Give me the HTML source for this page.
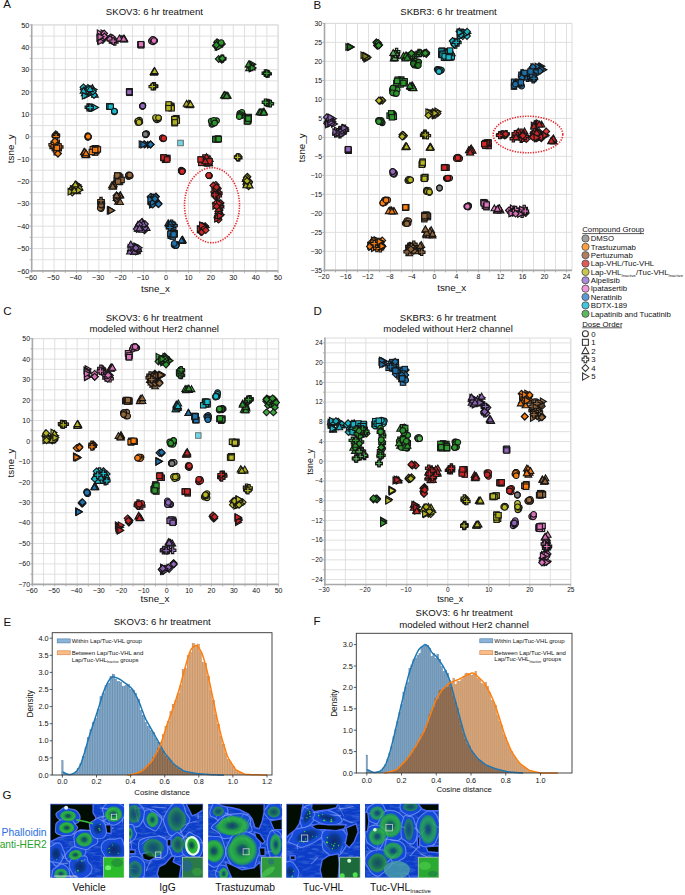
<!DOCTYPE html><html><head><meta charset="utf-8"><style>html,body{margin:0;padding:0;background:#fff;overflow:hidden;}svg{display:block;}</style></head><body><svg width="685" height="895" viewBox="0 0 685 895" font-family='"Liberation Sans", sans-serif'>
<style>.mk{stroke:#161616;stroke-width:1.1;fill-opacity:.9}.mkl{stroke:#777;stroke-width:.8;fill-opacity:.95}</style>
<defs><circle id="m_o" r="2.85"/><rect id="m_s" x="-2.7" y="-2.7" width="5.4" height="5.4"/><path id="m_t" d="M0,-3.5L3.35,2.4L-3.35,2.4Z"/><path id="m_r" d="M3.5,0L-2.4,-3.35L-2.4,3.35Z"/><path id="m_d" d="M0,-3.35L3.35,0L0,3.35L-3.35,0Z"/><path id="m_p" d="M-1.15,-3.3H1.15V-1.15H3.3V1.15H1.15V3.3H-1.15V1.15H-3.3V-1.15H-1.15Z"/></defs>
<rect x="0.00" y="0.00" width="685.00" height="895.00" fill="#fff" />
<text x="3.30" y="7.60" font-size="11.5" text-anchor="start" fill="#111" >A</text>
<text x="313.50" y="9.00" font-size="11.5" text-anchor="start" fill="#111" >B</text>
<text x="3.30" y="314.90" font-size="11.5" text-anchor="start" fill="#111" >C</text>
<text x="313.50" y="315.00" font-size="11.5" text-anchor="start" fill="#111" >D</text>
<text x="3.60" y="625.60" font-size="11.5" text-anchor="start" fill="#111" >E</text>
<text x="313.60" y="625.20" font-size="11.5" text-anchor="start" fill="#111" >F</text>
<text x="2.60" y="799.40" font-size="11.5" text-anchor="start" fill="#111" >G</text>
<text x="154.40" y="15.30" font-size="9.6" text-anchor="middle" fill="#111" >SKOV3: 6 hr treatment</text>
<text x="448.50" y="15.30" font-size="9.6" text-anchor="middle" fill="#111" >SKBR3: 6 hr treatment</text>
<text x="154.20" y="320.80" font-size="9.6" text-anchor="middle" fill="#111" >SKOV3: 6 hr treatment</text>
<text x="154.20" y="331.90" font-size="9.6" text-anchor="middle" fill="#111" >modeled without Her2 channel</text>
<text x="448.00" y="320.80" font-size="9.6" text-anchor="middle" fill="#111" >SKBR3: 6 hr treatment</text>
<text x="448.00" y="331.90" font-size="9.6" text-anchor="middle" fill="#111" >modeled without Her2 channel</text>
<text x="162.20" y="625.30" font-size="9.6" text-anchor="middle" fill="#111" >SKOV3: 6 hr treatment</text>
<text x="464.10" y="616.30" font-size="9.6" text-anchor="middle" fill="#111" >SKOV3: 6 hr treatment</text>
<text x="464.10" y="627.60" font-size="9.6" text-anchor="middle" fill="#111" >modeled without Her2 channel</text>
<line x1="31.70" y1="24.90" x2="31.70" y2="270.90" stroke="#dcdcdc" stroke-width="0.9" />
<line x1="42.90" y1="24.90" x2="42.90" y2="270.90" stroke="#dcdcdc" stroke-width="0.9" />
<line x1="54.10" y1="24.90" x2="54.10" y2="270.90" stroke="#dcdcdc" stroke-width="0.9" />
<line x1="65.30" y1="24.90" x2="65.30" y2="270.90" stroke="#dcdcdc" stroke-width="0.9" />
<line x1="76.50" y1="24.90" x2="76.50" y2="270.90" stroke="#dcdcdc" stroke-width="0.9" />
<line x1="87.70" y1="24.90" x2="87.70" y2="270.90" stroke="#dcdcdc" stroke-width="0.9" />
<line x1="98.90" y1="24.90" x2="98.90" y2="270.90" stroke="#dcdcdc" stroke-width="0.9" />
<line x1="110.10" y1="24.90" x2="110.10" y2="270.90" stroke="#dcdcdc" stroke-width="0.9" />
<line x1="121.30" y1="24.90" x2="121.30" y2="270.90" stroke="#dcdcdc" stroke-width="0.9" />
<line x1="132.50" y1="24.90" x2="132.50" y2="270.90" stroke="#dcdcdc" stroke-width="0.9" />
<line x1="143.70" y1="24.90" x2="143.70" y2="270.90" stroke="#dcdcdc" stroke-width="0.9" />
<line x1="154.90" y1="24.90" x2="154.90" y2="270.90" stroke="#dcdcdc" stroke-width="0.9" />
<line x1="166.10" y1="24.90" x2="166.10" y2="270.90" stroke="#dcdcdc" stroke-width="0.9" />
<line x1="177.30" y1="24.90" x2="177.30" y2="270.90" stroke="#dcdcdc" stroke-width="0.9" />
<line x1="188.50" y1="24.90" x2="188.50" y2="270.90" stroke="#dcdcdc" stroke-width="0.9" />
<line x1="199.70" y1="24.90" x2="199.70" y2="270.90" stroke="#dcdcdc" stroke-width="0.9" />
<line x1="210.90" y1="24.90" x2="210.90" y2="270.90" stroke="#dcdcdc" stroke-width="0.9" />
<line x1="222.10" y1="24.90" x2="222.10" y2="270.90" stroke="#dcdcdc" stroke-width="0.9" />
<line x1="233.30" y1="24.90" x2="233.30" y2="270.90" stroke="#dcdcdc" stroke-width="0.9" />
<line x1="244.50" y1="24.90" x2="244.50" y2="270.90" stroke="#dcdcdc" stroke-width="0.9" />
<line x1="255.70" y1="24.90" x2="255.70" y2="270.90" stroke="#dcdcdc" stroke-width="0.9" />
<line x1="266.90" y1="24.90" x2="266.90" y2="270.90" stroke="#dcdcdc" stroke-width="0.9" />
<line x1="278.10" y1="24.90" x2="278.10" y2="270.90" stroke="#dcdcdc" stroke-width="0.9" />
<line x1="31.70" y1="270.90" x2="278.10" y2="270.90" stroke="#dcdcdc" stroke-width="0.9" />
<line x1="31.70" y1="259.72" x2="278.10" y2="259.72" stroke="#dcdcdc" stroke-width="0.9" />
<line x1="31.70" y1="248.54" x2="278.10" y2="248.54" stroke="#dcdcdc" stroke-width="0.9" />
<line x1="31.70" y1="237.35" x2="278.10" y2="237.35" stroke="#dcdcdc" stroke-width="0.9" />
<line x1="31.70" y1="226.17" x2="278.10" y2="226.17" stroke="#dcdcdc" stroke-width="0.9" />
<line x1="31.70" y1="214.99" x2="278.10" y2="214.99" stroke="#dcdcdc" stroke-width="0.9" />
<line x1="31.70" y1="203.81" x2="278.10" y2="203.81" stroke="#dcdcdc" stroke-width="0.9" />
<line x1="31.70" y1="192.63" x2="278.10" y2="192.63" stroke="#dcdcdc" stroke-width="0.9" />
<line x1="31.70" y1="181.45" x2="278.10" y2="181.45" stroke="#dcdcdc" stroke-width="0.9" />
<line x1="31.70" y1="170.26" x2="278.10" y2="170.26" stroke="#dcdcdc" stroke-width="0.9" />
<line x1="31.70" y1="159.08" x2="278.10" y2="159.08" stroke="#dcdcdc" stroke-width="0.9" />
<line x1="31.70" y1="147.90" x2="278.10" y2="147.90" stroke="#dcdcdc" stroke-width="0.9" />
<line x1="31.70" y1="136.72" x2="278.10" y2="136.72" stroke="#dcdcdc" stroke-width="0.9" />
<line x1="31.70" y1="125.54" x2="278.10" y2="125.54" stroke="#dcdcdc" stroke-width="0.9" />
<line x1="31.70" y1="114.35" x2="278.10" y2="114.35" stroke="#dcdcdc" stroke-width="0.9" />
<line x1="31.70" y1="103.17" x2="278.10" y2="103.17" stroke="#dcdcdc" stroke-width="0.9" />
<line x1="31.70" y1="91.99" x2="278.10" y2="91.99" stroke="#dcdcdc" stroke-width="0.9" />
<line x1="31.70" y1="80.81" x2="278.10" y2="80.81" stroke="#dcdcdc" stroke-width="0.9" />
<line x1="31.70" y1="69.63" x2="278.10" y2="69.63" stroke="#dcdcdc" stroke-width="0.9" />
<line x1="31.70" y1="58.45" x2="278.10" y2="58.45" stroke="#dcdcdc" stroke-width="0.9" />
<line x1="31.70" y1="47.26" x2="278.10" y2="47.26" stroke="#dcdcdc" stroke-width="0.9" />
<line x1="31.70" y1="36.08" x2="278.10" y2="36.08" stroke="#dcdcdc" stroke-width="0.9" />
<line x1="31.70" y1="24.90" x2="278.10" y2="24.90" stroke="#dcdcdc" stroke-width="0.9" />
<line x1="31.70" y1="24.90" x2="278.10" y2="24.90" stroke="#dcdcdc" stroke-width="1.0" />
<line x1="278.10" y1="24.90" x2="278.10" y2="270.90" stroke="#dcdcdc" stroke-width="1.0" />
<line x1="31.70" y1="270.90" x2="31.70" y2="272.90" stroke="#a8a8a8" stroke-width="0.9" />
<line x1="42.90" y1="270.90" x2="42.90" y2="272.90" stroke="#a8a8a8" stroke-width="0.9" />
<line x1="54.10" y1="270.90" x2="54.10" y2="272.90" stroke="#a8a8a8" stroke-width="0.9" />
<line x1="65.30" y1="270.90" x2="65.30" y2="272.90" stroke="#a8a8a8" stroke-width="0.9" />
<line x1="76.50" y1="270.90" x2="76.50" y2="272.90" stroke="#a8a8a8" stroke-width="0.9" />
<line x1="87.70" y1="270.90" x2="87.70" y2="272.90" stroke="#a8a8a8" stroke-width="0.9" />
<line x1="98.90" y1="270.90" x2="98.90" y2="272.90" stroke="#a8a8a8" stroke-width="0.9" />
<line x1="110.10" y1="270.90" x2="110.10" y2="272.90" stroke="#a8a8a8" stroke-width="0.9" />
<line x1="121.30" y1="270.90" x2="121.30" y2="272.90" stroke="#a8a8a8" stroke-width="0.9" />
<line x1="132.50" y1="270.90" x2="132.50" y2="272.90" stroke="#a8a8a8" stroke-width="0.9" />
<line x1="143.70" y1="270.90" x2="143.70" y2="272.90" stroke="#a8a8a8" stroke-width="0.9" />
<line x1="154.90" y1="270.90" x2="154.90" y2="272.90" stroke="#a8a8a8" stroke-width="0.9" />
<line x1="166.10" y1="270.90" x2="166.10" y2="272.90" stroke="#a8a8a8" stroke-width="0.9" />
<line x1="177.30" y1="270.90" x2="177.30" y2="272.90" stroke="#a8a8a8" stroke-width="0.9" />
<line x1="188.50" y1="270.90" x2="188.50" y2="272.90" stroke="#a8a8a8" stroke-width="0.9" />
<line x1="199.70" y1="270.90" x2="199.70" y2="272.90" stroke="#a8a8a8" stroke-width="0.9" />
<line x1="210.90" y1="270.90" x2="210.90" y2="272.90" stroke="#a8a8a8" stroke-width="0.9" />
<line x1="222.10" y1="270.90" x2="222.10" y2="272.90" stroke="#a8a8a8" stroke-width="0.9" />
<line x1="233.30" y1="270.90" x2="233.30" y2="272.90" stroke="#a8a8a8" stroke-width="0.9" />
<line x1="244.50" y1="270.90" x2="244.50" y2="272.90" stroke="#a8a8a8" stroke-width="0.9" />
<line x1="255.70" y1="270.90" x2="255.70" y2="272.90" stroke="#a8a8a8" stroke-width="0.9" />
<line x1="266.90" y1="270.90" x2="266.90" y2="272.90" stroke="#a8a8a8" stroke-width="0.9" />
<line x1="278.10" y1="270.90" x2="278.10" y2="272.90" stroke="#a8a8a8" stroke-width="0.9" />
<line x1="29.70" y1="270.90" x2="31.70" y2="270.90" stroke="#a8a8a8" stroke-width="0.9" />
<line x1="29.70" y1="259.72" x2="31.70" y2="259.72" stroke="#a8a8a8" stroke-width="0.9" />
<line x1="29.70" y1="248.54" x2="31.70" y2="248.54" stroke="#a8a8a8" stroke-width="0.9" />
<line x1="29.70" y1="237.35" x2="31.70" y2="237.35" stroke="#a8a8a8" stroke-width="0.9" />
<line x1="29.70" y1="226.17" x2="31.70" y2="226.17" stroke="#a8a8a8" stroke-width="0.9" />
<line x1="29.70" y1="214.99" x2="31.70" y2="214.99" stroke="#a8a8a8" stroke-width="0.9" />
<line x1="29.70" y1="203.81" x2="31.70" y2="203.81" stroke="#a8a8a8" stroke-width="0.9" />
<line x1="29.70" y1="192.63" x2="31.70" y2="192.63" stroke="#a8a8a8" stroke-width="0.9" />
<line x1="29.70" y1="181.45" x2="31.70" y2="181.45" stroke="#a8a8a8" stroke-width="0.9" />
<line x1="29.70" y1="170.26" x2="31.70" y2="170.26" stroke="#a8a8a8" stroke-width="0.9" />
<line x1="29.70" y1="159.08" x2="31.70" y2="159.08" stroke="#a8a8a8" stroke-width="0.9" />
<line x1="29.70" y1="147.90" x2="31.70" y2="147.90" stroke="#a8a8a8" stroke-width="0.9" />
<line x1="29.70" y1="136.72" x2="31.70" y2="136.72" stroke="#a8a8a8" stroke-width="0.9" />
<line x1="29.70" y1="125.54" x2="31.70" y2="125.54" stroke="#a8a8a8" stroke-width="0.9" />
<line x1="29.70" y1="114.35" x2="31.70" y2="114.35" stroke="#a8a8a8" stroke-width="0.9" />
<line x1="29.70" y1="103.17" x2="31.70" y2="103.17" stroke="#a8a8a8" stroke-width="0.9" />
<line x1="29.70" y1="91.99" x2="31.70" y2="91.99" stroke="#a8a8a8" stroke-width="0.9" />
<line x1="29.70" y1="80.81" x2="31.70" y2="80.81" stroke="#a8a8a8" stroke-width="0.9" />
<line x1="29.70" y1="69.63" x2="31.70" y2="69.63" stroke="#a8a8a8" stroke-width="0.9" />
<line x1="29.70" y1="58.45" x2="31.70" y2="58.45" stroke="#a8a8a8" stroke-width="0.9" />
<line x1="29.70" y1="47.26" x2="31.70" y2="47.26" stroke="#a8a8a8" stroke-width="0.9" />
<line x1="29.70" y1="36.08" x2="31.70" y2="36.08" stroke="#a8a8a8" stroke-width="0.9" />
<line x1="29.70" y1="24.90" x2="31.70" y2="24.90" stroke="#a8a8a8" stroke-width="0.9" />
<line x1="31.70" y1="24.40" x2="31.70" y2="271.90" stroke="#a8a8a8" stroke-width="1.6" />
<line x1="30.70" y1="270.90" x2="278.10" y2="270.90" stroke="#a8a8a8" stroke-width="1.6" />
<text x="30.90" y="279.90" font-size="7.3" text-anchor="middle" fill="#111" >−60</text>
<text x="53.30" y="279.90" font-size="7.3" text-anchor="middle" fill="#111" >−50</text>
<text x="75.70" y="279.90" font-size="7.3" text-anchor="middle" fill="#111" >−40</text>
<text x="98.10" y="279.90" font-size="7.3" text-anchor="middle" fill="#111" >−30</text>
<text x="120.50" y="279.90" font-size="7.3" text-anchor="middle" fill="#111" >−20</text>
<text x="142.90" y="279.90" font-size="7.3" text-anchor="middle" fill="#111" >−10</text>
<text x="166.10" y="279.90" font-size="7.3" text-anchor="middle" fill="#111" >0</text>
<text x="188.50" y="279.90" font-size="7.3" text-anchor="middle" fill="#111" >10</text>
<text x="210.90" y="279.90" font-size="7.3" text-anchor="middle" fill="#111" >20</text>
<text x="233.30" y="279.90" font-size="7.3" text-anchor="middle" fill="#111" >30</text>
<text x="255.70" y="279.90" font-size="7.3" text-anchor="middle" fill="#111" >40</text>
<text x="278.10" y="279.90" font-size="7.3" text-anchor="middle" fill="#111" >50</text>
<text x="29.40" y="273.53" font-size="7.3" text-anchor="end" fill="#111" >−60</text>
<text x="29.40" y="251.16" font-size="7.3" text-anchor="end" fill="#111" >−50</text>
<text x="29.40" y="228.80" font-size="7.3" text-anchor="end" fill="#111" >−40</text>
<text x="29.40" y="206.44" font-size="7.3" text-anchor="end" fill="#111" >−30</text>
<text x="29.40" y="184.07" font-size="7.3" text-anchor="end" fill="#111" >−20</text>
<text x="29.40" y="161.71" font-size="7.3" text-anchor="end" fill="#111" >−10</text>
<text x="29.40" y="139.35" font-size="7.3" text-anchor="end" fill="#111" >0</text>
<text x="29.40" y="116.98" font-size="7.3" text-anchor="end" fill="#111" >10</text>
<text x="29.40" y="94.62" font-size="7.3" text-anchor="end" fill="#111" >20</text>
<text x="29.40" y="72.26" font-size="7.3" text-anchor="end" fill="#111" >30</text>
<text x="29.40" y="49.89" font-size="7.3" text-anchor="end" fill="#111" >40</text>
<text x="29.40" y="27.53" font-size="7.3" text-anchor="end" fill="#111" >50</text>
<text x="155.40" y="291.70" font-size="9.8" text-anchor="middle" fill="#111" >tsne_x</text>
<text x="0" y="0" font-size="9.8" text-anchor="middle" fill="#111" transform="translate(14.30,148.70) rotate(-90)">tsne_y</text>
<use href="#m_r" x="100.0" y="40.5" fill="#e377c2" class="mk"/>
<use href="#m_d" x="103.5" y="35.4" fill="#e377c2" class="mk"/>
<use href="#m_r" x="102.0" y="37.1" fill="#e377c2" class="mk"/>
<use href="#m_d" x="102.8" y="40.0" fill="#e377c2" class="mk"/>
<use href="#m_r" x="99.7" y="33.4" fill="#e377c2" class="mk"/>
<use href="#m_d" x="103.9" y="36.9" fill="#e377c2" class="mk"/>
<use href="#m_r" x="103.5" y="33.2" fill="#e377c2" class="mk"/>
<use href="#m_d" x="101.7" y="39.4" fill="#e377c2" class="mk"/>
<use href="#m_r" x="100.5" y="41.3" fill="#e377c2" class="mk"/>
<use href="#m_d" x="104.2" y="33.5" fill="#e377c2" class="mk"/>
<use href="#m_r" x="99.3" y="37.9" fill="#e377c2" class="mk"/>
<use href="#m_d" x="104.5" y="36.5" fill="#e377c2" class="mk"/>
<use href="#m_r" x="100.4" y="36.8" fill="#e377c2" class="mk"/>
<use href="#m_d" x="109.4" y="38.4" fill="#e377c2" class="mk"/>
<use href="#m_p" x="111.7" y="40.0" fill="#e377c2" class="mk"/>
<use href="#m_d" x="110.5" y="38.5" fill="#e377c2" class="mk"/>
<use href="#m_p" x="110.4" y="39.8" fill="#e377c2" class="mk"/>
<use href="#m_d" x="110.8" y="37.3" fill="#e377c2" class="mk"/>
<use href="#m_p" x="113.9" y="40.3" fill="#e377c2" class="mk"/>
<use href="#m_d" x="112.8" y="38.2" fill="#e377c2" class="mk"/>
<use href="#m_p" x="114.8" y="42.0" fill="#e377c2" class="mk"/>
<use href="#m_d" x="109.9" y="39.1" fill="#e377c2" class="mk"/>
<use href="#m_p" x="113.2" y="41.2" fill="#e377c2" class="mk"/>
<use href="#m_t" x="124.4" y="38.9" fill="#e377c2" class="mk"/>
<use href="#m_t" x="123.8" y="39.3" fill="#e377c2" class="mk"/>
<use href="#m_t" x="120.9" y="39.1" fill="#e377c2" class="mk"/>
<use href="#m_t" x="124.1" y="39.6" fill="#e377c2" class="mk"/>
<use href="#m_t" x="122.0" y="39.1" fill="#e377c2" class="mk"/>
<use href="#m_t" x="119.4" y="38.6" fill="#e377c2" class="mk"/>
<use href="#m_t" x="123.7" y="38.9" fill="#e377c2" class="mk"/>
<use href="#m_s" x="140.5" y="44.6" fill="#e377c2" class="mk"/>
<use href="#m_s" x="141.3" y="45.0" fill="#e377c2" class="mk"/>
<use href="#m_s" x="140.8" y="44.3" fill="#e377c2" class="mk"/>
<use href="#m_s" x="141.0" y="45.2" fill="#e377c2" class="mk"/>
<use href="#m_s" x="141.0" y="44.2" fill="#e377c2" class="mk"/>
<use href="#m_o" x="153.0" y="39.3" fill="#e377c2" class="mk"/>
<use href="#m_o" x="151.4" y="41.0" fill="#e377c2" class="mk"/>
<use href="#m_o" x="154.7" y="40.7" fill="#e377c2" class="mk"/>
<use href="#m_o" x="152.6" y="39.6" fill="#e377c2" class="mk"/>
<use href="#m_o" x="153.0" y="41.8" fill="#e377c2" class="mk"/>
<use href="#m_o" x="154.0" y="40.6" fill="#e377c2" class="mk"/>
<use href="#m_t" x="154.6" y="71.6" fill="#bcbd22" class="mk"/>
<use href="#m_t" x="154.0" y="72.7" fill="#bcbd22" class="mk"/>
<use href="#m_t" x="154.1" y="71.9" fill="#bcbd22" class="mk"/>
<use href="#m_t" x="153.6" y="72.1" fill="#bcbd22" class="mk"/>
<use href="#m_t" x="154.7" y="71.2" fill="#bcbd22" class="mk"/>
<use href="#m_p" x="154.2" y="86.5" fill="#bcbd22" class="mk"/>
<use href="#m_p" x="154.5" y="86.4" fill="#bcbd22" class="mk"/>
<use href="#m_p" x="154.3" y="86.0" fill="#bcbd22" class="mk"/>
<use href="#m_p" x="153.7" y="85.9" fill="#bcbd22" class="mk"/>
<use href="#m_p" x="152.3" y="86.6" fill="#bcbd22" class="mk"/>
<use href="#m_r" x="91.0" y="89.1" fill="#17becf" class="mk"/>
<use href="#m_t" x="90.1" y="91.9" fill="#17becf" class="mk"/>
<use href="#m_d" x="88.1" y="90.5" fill="#17becf" class="mk"/>
<use href="#m_r" x="90.5" y="93.2" fill="#17becf" class="mk"/>
<use href="#m_t" x="91.5" y="91.6" fill="#17becf" class="mk"/>
<use href="#m_d" x="83.6" y="89.4" fill="#17becf" class="mk"/>
<use href="#m_r" x="85.6" y="92.8" fill="#17becf" class="mk"/>
<use href="#m_t" x="94.9" y="94.9" fill="#17becf" class="mk"/>
<use href="#m_d" x="94.0" y="95.0" fill="#17becf" class="mk"/>
<use href="#m_r" x="86.7" y="95.3" fill="#17becf" class="mk"/>
<use href="#m_t" x="92.4" y="88.0" fill="#17becf" class="mk"/>
<use href="#m_d" x="83.4" y="87.3" fill="#17becf" class="mk"/>
<use href="#m_r" x="93.5" y="89.6" fill="#17becf" class="mk"/>
<use href="#m_t" x="84.7" y="93.2" fill="#17becf" class="mk"/>
<use href="#m_d" x="87.9" y="87.9" fill="#17becf" class="mk"/>
<use href="#m_r" x="85.4" y="92.3" fill="#17becf" class="mk"/>
<use href="#m_t" x="85.5" y="89.8" fill="#17becf" class="mk"/>
<use href="#m_d" x="92.9" y="91.6" fill="#17becf" class="mk"/>
<use href="#m_r" x="87.6" y="91.7" fill="#17becf" class="mk"/>
<use href="#m_t" x="83.5" y="90.9" fill="#17becf" class="mk"/>
<use href="#m_d" x="88.9" y="89.0" fill="#17becf" class="mk"/>
<use href="#m_r" x="84.7" y="95.8" fill="#17becf" class="mk"/>
<use href="#m_t" x="90.1" y="89.2" fill="#17becf" class="mk"/>
<use href="#m_r" x="93.4" y="107.7" fill="#17becf" class="mk"/>
<use href="#m_p" x="88.4" y="107.2" fill="#17becf" class="mk"/>
<use href="#m_r" x="89.5" y="107.6" fill="#17becf" class="mk"/>
<use href="#m_p" x="89.6" y="107.6" fill="#17becf" class="mk"/>
<use href="#m_r" x="94.0" y="107.5" fill="#17becf" class="mk"/>
<use href="#m_p" x="90.1" y="107.8" fill="#17becf" class="mk"/>
<use href="#m_r" x="95.1" y="107.5" fill="#17becf" class="mk"/>
<use href="#m_p" x="90.1" y="107.6" fill="#17becf" class="mk"/>
<use href="#m_s" x="109.8" y="106.5" fill="#17becf" class="mk"/>
<use href="#m_s" x="109.7" y="106.6" fill="#17becf" class="mk"/>
<use href="#m_s" x="109.3" y="106.4" fill="#17becf" class="mk"/>
<use href="#m_s" x="110.7" y="106.7" fill="#17becf" class="mk"/>
<use href="#m_o" x="114.4" y="111.7" fill="#17becf" class="mk"/>
<use href="#m_o" x="114.4" y="111.8" fill="#17becf" class="mk"/>
<use href="#m_o" x="114.6" y="111.4" fill="#17becf" class="mk"/>
<use href="#m_o" x="114.4" y="111.2" fill="#17becf" class="mk"/>
<use href="#m_s" x="129.6" y="91.3" fill="#9467bd" class="mk"/>
<use href="#m_s" x="129.5" y="92.7" fill="#9467bd" class="mk"/>
<use href="#m_s" x="129.1" y="91.5" fill="#9467bd" class="mk"/>
<use href="#m_s" x="129.6" y="92.8" fill="#9467bd" class="mk"/>
<use href="#m_s" x="129.3" y="92.0" fill="#9467bd" class="mk"/>
<use href="#m_o" x="142.8" y="105.8" fill="#9467bd" class="mk"/>
<use href="#m_o" x="142.5" y="106.3" fill="#9467bd" class="mk"/>
<use href="#m_o" x="142.9" y="105.5" fill="#9467bd" class="mk"/>
<use href="#m_o" x="142.4" y="106.3" fill="#9467bd" class="mk"/>
<use href="#m_o" x="142.7" y="106.0" fill="#9467bd" class="mk"/>
<use href="#m_o" x="138.0" y="122.5" fill="#bcbd22" class="mk"/>
<use href="#m_o" x="139.5" y="120.2" fill="#bcbd22" class="mk"/>
<use href="#m_o" x="137.7" y="121.1" fill="#bcbd22" class="mk"/>
<use href="#m_o" x="139.8" y="122.2" fill="#bcbd22" class="mk"/>
<use href="#m_o" x="138.1" y="120.8" fill="#bcbd22" class="mk"/>
<use href="#m_o" x="139.0" y="122.4" fill="#bcbd22" class="mk"/>
<use href="#m_o" x="158.6" y="118.1" fill="#bcbd22" class="mk"/>
<use href="#m_o" x="158.4" y="119.0" fill="#bcbd22" class="mk"/>
<use href="#m_o" x="156.9" y="119.8" fill="#bcbd22" class="mk"/>
<use href="#m_o" x="156.0" y="119.1" fill="#bcbd22" class="mk"/>
<use href="#m_o" x="155.5" y="117.6" fill="#bcbd22" class="mk"/>
<use href="#m_o" x="158.5" y="117.8" fill="#bcbd22" class="mk"/>
<use href="#m_s" x="170.9" y="107.0" fill="#bcbd22" class="mk"/>
<use href="#m_s" x="171.2" y="105.9" fill="#bcbd22" class="mk"/>
<use href="#m_s" x="169.4" y="105.5" fill="#bcbd22" class="mk"/>
<use href="#m_s" x="171.3" y="107.0" fill="#bcbd22" class="mk"/>
<use href="#m_s" x="171.6" y="108.3" fill="#bcbd22" class="mk"/>
<use href="#m_s" x="168.7" y="106.7" fill="#bcbd22" class="mk"/>
<use href="#m_s" x="168.6" y="104.4" fill="#bcbd22" class="mk"/>
<use href="#m_s" x="168.5" y="108.2" fill="#bcbd22" class="mk"/>
<use href="#m_t" x="189.8" y="105.4" fill="#bcbd22" class="mk"/>
<use href="#m_t" x="187.8" y="104.8" fill="#bcbd22" class="mk"/>
<use href="#m_t" x="189.8" y="104.2" fill="#bcbd22" class="mk"/>
<use href="#m_t" x="188.8" y="103.8" fill="#bcbd22" class="mk"/>
<use href="#m_t" x="186.6" y="103.9" fill="#bcbd22" class="mk"/>
<use href="#m_t" x="190.3" y="104.7" fill="#bcbd22" class="mk"/>
<use href="#m_t" x="190.5" y="104.4" fill="#bcbd22" class="mk"/>
<use href="#m_s" x="174.9" y="122.6" fill="#bcbd22" class="mk"/>
<use href="#m_s" x="176.4" y="118.3" fill="#bcbd22" class="mk"/>
<use href="#m_s" x="175.9" y="118.7" fill="#bcbd22" class="mk"/>
<use href="#m_s" x="174.5" y="123.2" fill="#bcbd22" class="mk"/>
<use href="#m_s" x="174.3" y="119.5" fill="#bcbd22" class="mk"/>
<use href="#m_s" x="176.8" y="120.6" fill="#bcbd22" class="mk"/>
<use href="#m_s" x="174.5" y="119.1" fill="#bcbd22" class="mk"/>
<use href="#m_s" x="174.8" y="122.4" fill="#bcbd22" class="mk"/>
<use href="#m_o" x="145.4" y="134.7" fill="#7f7f7f" class="mk"/>
<use href="#m_o" x="145.8" y="134.8" fill="#7f7f7f" class="mk"/>
<use href="#m_o" x="146.7" y="133.7" fill="#7f7f7f" class="mk"/>
<use href="#m_o" x="145.6" y="134.0" fill="#7f7f7f" class="mk"/>
<use href="#m_o" x="145.4" y="134.2" fill="#7f7f7f" class="mk"/>
<use href="#m_r" x="141.6" y="144.2" fill="#1f77b4" class="mk"/>
<use href="#m_d" x="150.6" y="144.4" fill="#1f77b4" class="mk"/>
<use href="#m_r" x="146.9" y="144.5" fill="#1f77b4" class="mk"/>
<use href="#m_d" x="144.2" y="144.2" fill="#1f77b4" class="mk"/>
<use href="#m_r" x="150.0" y="144.8" fill="#1f77b4" class="mk"/>
<use href="#m_d" x="150.5" y="144.3" fill="#1f77b4" class="mk"/>
<use href="#m_r" x="143.3" y="144.6" fill="#1f77b4" class="mk"/>
<use href="#m_d" x="150.6" y="144.5" fill="#1f77b4" class="mk"/>
<use href="#m_o" x="163.3" y="138.9" fill="#d62728" class="mk"/>
<use href="#m_o" x="162.6" y="138.6" fill="#d62728" class="mk"/>
<use href="#m_o" x="162.7" y="137.8" fill="#d62728" class="mk"/>
<use href="#m_o" x="162.3" y="137.9" fill="#d62728" class="mk"/>
<use href="#m_o" x="163.8" y="138.4" fill="#d62728" class="mk"/>
<use href="#m_s" x="180.6" y="143.0" fill="#6fd6e6" class="mkl"/>
<use href="#m_s" x="180.8" y="143.0" fill="#6fd6e6" class="mkl"/>
<use href="#m_s" x="180.4" y="143.0" fill="#6fd6e6" class="mkl"/>
<use href="#m_r" x="217.6" y="46.9" fill="#2ca02c" class="mk"/>
<use href="#m_d" x="222.0" y="43.9" fill="#2ca02c" class="mk"/>
<use href="#m_o" x="217.7" y="45.2" fill="#2ca02c" class="mk"/>
<use href="#m_r" x="219.6" y="45.5" fill="#2ca02c" class="mk"/>
<use href="#m_d" x="217.1" y="42.3" fill="#2ca02c" class="mk"/>
<use href="#m_o" x="217.1" y="42.6" fill="#2ca02c" class="mk"/>
<use href="#m_r" x="219.4" y="42.6" fill="#2ca02c" class="mk"/>
<use href="#m_d" x="215.8" y="45.8" fill="#2ca02c" class="mk"/>
<use href="#m_o" x="217.4" y="46.6" fill="#2ca02c" class="mk"/>
<use href="#m_r" x="218.9" y="47.0" fill="#2ca02c" class="mk"/>
<use href="#m_d" x="216.4" y="45.0" fill="#2ca02c" class="mk"/>
<use href="#m_o" x="221.2" y="42.6" fill="#2ca02c" class="mk"/>
<use href="#m_p" x="222.6" y="58.5" fill="#2ca02c" class="mk"/>
<use href="#m_d" x="221.8" y="59.8" fill="#2ca02c" class="mk"/>
<use href="#m_p" x="222.0" y="58.7" fill="#2ca02c" class="mk"/>
<use href="#m_d" x="218.7" y="59.0" fill="#2ca02c" class="mk"/>
<use href="#m_p" x="222.4" y="58.7" fill="#2ca02c" class="mk"/>
<use href="#m_d" x="222.3" y="58.4" fill="#2ca02c" class="mk"/>
<use href="#m_r" x="252.3" y="64.3" fill="#2ca02c" class="mk"/>
<use href="#m_t" x="249.0" y="68.4" fill="#2ca02c" class="mk"/>
<use href="#m_r" x="251.7" y="68.4" fill="#2ca02c" class="mk"/>
<use href="#m_t" x="251.9" y="67.6" fill="#2ca02c" class="mk"/>
<use href="#m_r" x="251.1" y="65.0" fill="#2ca02c" class="mk"/>
<use href="#m_t" x="249.6" y="64.9" fill="#2ca02c" class="mk"/>
<use href="#m_r" x="251.2" y="67.3" fill="#2ca02c" class="mk"/>
<use href="#m_t" x="248.6" y="64.5" fill="#2ca02c" class="mk"/>
<use href="#m_r" x="252.6" y="67.9" fill="#2ca02c" class="mk"/>
<use href="#m_d" x="266.7" y="74.1" fill="#2ca02c" class="mk"/>
<use href="#m_p" x="268.1" y="73.9" fill="#2ca02c" class="mk"/>
<use href="#m_d" x="266.0" y="73.7" fill="#2ca02c" class="mk"/>
<use href="#m_p" x="265.4" y="73.2" fill="#2ca02c" class="mk"/>
<use href="#m_d" x="267.2" y="73.9" fill="#2ca02c" class="mk"/>
<use href="#m_p" x="266.8" y="73.3" fill="#2ca02c" class="mk"/>
<use href="#m_t" x="225.2" y="95.4" fill="#2ca02c" class="mk"/>
<use href="#m_t" x="223.9" y="95.6" fill="#2ca02c" class="mk"/>
<use href="#m_t" x="227.8" y="95.8" fill="#2ca02c" class="mk"/>
<use href="#m_t" x="225.4" y="96.2" fill="#2ca02c" class="mk"/>
<use href="#m_t" x="224.5" y="95.2" fill="#2ca02c" class="mk"/>
<use href="#m_t" x="226.2" y="96.0" fill="#2ca02c" class="mk"/>
<use href="#m_t" x="226.8" y="95.9" fill="#2ca02c" class="mk"/>
<use href="#m_p" x="269.0" y="103.4" fill="#2ca02c" class="mk"/>
<use href="#m_d" x="266.5" y="103.0" fill="#2ca02c" class="mk"/>
<use href="#m_p" x="267.9" y="102.6" fill="#2ca02c" class="mk"/>
<use href="#m_d" x="267.5" y="103.1" fill="#2ca02c" class="mk"/>
<use href="#m_p" x="270.3" y="103.7" fill="#2ca02c" class="mk"/>
<use href="#m_d" x="266.7" y="103.2" fill="#2ca02c" class="mk"/>
<use href="#m_p" x="265.5" y="102.3" fill="#2ca02c" class="mk"/>
<use href="#m_t" x="261.6" y="112.6" fill="#2ca02c" class="mk"/>
<use href="#m_t" x="259.3" y="112.4" fill="#2ca02c" class="mk"/>
<use href="#m_t" x="264.0" y="111.7" fill="#2ca02c" class="mk"/>
<use href="#m_t" x="262.8" y="112.6" fill="#2ca02c" class="mk"/>
<use href="#m_t" x="260.7" y="112.3" fill="#2ca02c" class="mk"/>
<use href="#m_t" x="263.1" y="112.2" fill="#2ca02c" class="mk"/>
<use href="#m_t" x="263.9" y="112.6" fill="#2ca02c" class="mk"/>
<use href="#m_o" x="242.7" y="114.8" fill="#2ca02c" class="mk"/>
<use href="#m_o" x="239.8" y="113.4" fill="#2ca02c" class="mk"/>
<use href="#m_o" x="240.0" y="114.8" fill="#2ca02c" class="mk"/>
<use href="#m_o" x="241.9" y="112.4" fill="#2ca02c" class="mk"/>
<use href="#m_o" x="241.7" y="115.5" fill="#2ca02c" class="mk"/>
<use href="#m_o" x="240.5" y="114.6" fill="#2ca02c" class="mk"/>
<use href="#m_o" x="239.8" y="115.6" fill="#2ca02c" class="mk"/>
<use href="#m_o" x="239.3" y="116.7" fill="#2ca02c" class="mk"/>
<use href="#m_s" x="248.3" y="119.7" fill="#2ca02c" class="mk"/>
<use href="#m_s" x="246.9" y="121.3" fill="#2ca02c" class="mk"/>
<use href="#m_s" x="248.7" y="117.0" fill="#2ca02c" class="mk"/>
<use href="#m_s" x="248.2" y="120.9" fill="#2ca02c" class="mk"/>
<use href="#m_s" x="247.9" y="120.1" fill="#2ca02c" class="mk"/>
<use href="#m_s" x="247.4" y="121.4" fill="#2ca02c" class="mk"/>
<use href="#m_s" x="248.7" y="118.3" fill="#2ca02c" class="mk"/>
<use href="#m_s" x="248.3" y="118.6" fill="#2ca02c" class="mk"/>
<use href="#m_o" x="212.1" y="121.7" fill="#2ca02c" class="mk"/>
<use href="#m_o" x="211.9" y="124.4" fill="#2ca02c" class="mk"/>
<use href="#m_o" x="216.6" y="120.7" fill="#2ca02c" class="mk"/>
<use href="#m_o" x="214.6" y="122.1" fill="#2ca02c" class="mk"/>
<use href="#m_o" x="211.9" y="121.6" fill="#2ca02c" class="mk"/>
<use href="#m_o" x="212.6" y="123.6" fill="#2ca02c" class="mk"/>
<use href="#m_o" x="211.2" y="121.1" fill="#2ca02c" class="mk"/>
<use href="#m_o" x="213.7" y="120.3" fill="#2ca02c" class="mk"/>
<use href="#m_o" x="214.7" y="123.0" fill="#2ca02c" class="mk"/>
<use href="#m_s" x="218.0" y="138.5" fill="#2ca02c" class="mk"/>
<use href="#m_s" x="215.5" y="139.1" fill="#2ca02c" class="mk"/>
<use href="#m_s" x="215.5" y="139.1" fill="#2ca02c" class="mk"/>
<use href="#m_s" x="215.4" y="139.3" fill="#2ca02c" class="mk"/>
<use href="#m_s" x="217.8" y="139.5" fill="#2ca02c" class="mk"/>
<use href="#m_s" x="218.7" y="139.1" fill="#2ca02c" class="mk"/>
<use href="#m_d" x="56.0" y="136.3" fill="#ff7f0e" class="mk"/>
<use href="#m_p" x="56.4" y="135.3" fill="#ff7f0e" class="mk"/>
<use href="#m_d" x="55.8" y="134.2" fill="#ff7f0e" class="mk"/>
<use href="#m_p" x="55.4" y="136.1" fill="#ff7f0e" class="mk"/>
<use href="#m_d" x="55.4" y="135.9" fill="#ff7f0e" class="mk"/>
<use href="#m_p" x="56.1" y="136.7" fill="#ff7f0e" class="mk"/>
<use href="#m_d" x="58.0" y="153.5" fill="#ff7f0e" class="mk"/>
<use href="#m_p" x="53.2" y="147.5" fill="#ff7f0e" class="mk"/>
<use href="#m_s" x="56.6" y="145.1" fill="#ff7f0e" class="mk"/>
<use href="#m_d" x="56.0" y="145.7" fill="#ff7f0e" class="mk"/>
<use href="#m_p" x="56.2" y="141.2" fill="#ff7f0e" class="mk"/>
<use href="#m_s" x="55.6" y="146.9" fill="#ff7f0e" class="mk"/>
<use href="#m_d" x="54.5" y="146.2" fill="#ff7f0e" class="mk"/>
<use href="#m_p" x="58.2" y="149.8" fill="#ff7f0e" class="mk"/>
<use href="#m_s" x="55.9" y="149.4" fill="#ff7f0e" class="mk"/>
<use href="#m_d" x="55.1" y="143.8" fill="#ff7f0e" class="mk"/>
<use href="#m_p" x="52.2" y="144.7" fill="#ff7f0e" class="mk"/>
<use href="#m_s" x="56.7" y="152.3" fill="#ff7f0e" class="mk"/>
<use href="#m_d" x="58.5" y="147.6" fill="#ff7f0e" class="mk"/>
<use href="#m_p" x="59.7" y="147.0" fill="#ff7f0e" class="mk"/>
<use href="#m_s" x="58.5" y="146.4" fill="#ff7f0e" class="mk"/>
<use href="#m_d" x="57.9" y="153.6" fill="#ff7f0e" class="mk"/>
<use href="#m_p" x="54.5" y="143.3" fill="#ff7f0e" class="mk"/>
<use href="#m_s" x="56.9" y="147.9" fill="#ff7f0e" class="mk"/>
<use href="#m_d" x="54.9" y="141.2" fill="#ff7f0e" class="mk"/>
<use href="#m_o" x="87.8" y="135.7" fill="#ff7f0e" class="mk"/>
<use href="#m_o" x="87.8" y="137.3" fill="#ff7f0e" class="mk"/>
<use href="#m_o" x="88.1" y="136.8" fill="#ff7f0e" class="mk"/>
<use href="#m_o" x="88.6" y="136.9" fill="#ff7f0e" class="mk"/>
<use href="#m_o" x="88.0" y="136.9" fill="#ff7f0e" class="mk"/>
<use href="#m_o" x="88.2" y="136.5" fill="#ff7f0e" class="mk"/>
<use href="#m_t" x="85.1" y="153.1" fill="#ff7f0e" class="mk"/>
<use href="#m_t" x="85.1" y="154.1" fill="#ff7f0e" class="mk"/>
<use href="#m_t" x="86.5" y="154.8" fill="#ff7f0e" class="mk"/>
<use href="#m_t" x="86.1" y="154.7" fill="#ff7f0e" class="mk"/>
<use href="#m_t" x="86.0" y="154.0" fill="#ff7f0e" class="mk"/>
<use href="#m_t" x="83.8" y="152.4" fill="#ff7f0e" class="mk"/>
<use href="#m_t" x="85.5" y="155.2" fill="#ff7f0e" class="mk"/>
<use href="#m_t" x="84.7" y="151.9" fill="#ff7f0e" class="mk"/>
<use href="#m_t" x="86.0" y="153.4" fill="#ff7f0e" class="mk"/>
<use href="#m_s" x="94.7" y="148.4" fill="#ff7f0e" class="mk"/>
<use href="#m_s" x="95.1" y="151.6" fill="#ff7f0e" class="mk"/>
<use href="#m_s" x="94.4" y="149.8" fill="#ff7f0e" class="mk"/>
<use href="#m_s" x="96.2" y="148.3" fill="#ff7f0e" class="mk"/>
<use href="#m_s" x="95.1" y="152.6" fill="#ff7f0e" class="mk"/>
<use href="#m_s" x="96.4" y="150.0" fill="#ff7f0e" class="mk"/>
<use href="#m_s" x="96.4" y="151.0" fill="#ff7f0e" class="mk"/>
<use href="#m_s" x="92.8" y="149.2" fill="#ff7f0e" class="mk"/>
<use href="#m_s" x="97.9" y="149.4" fill="#ff7f0e" class="mk"/>
<use href="#m_s" x="91.8" y="152.0" fill="#ff7f0e" class="mk"/>
<use href="#m_s" x="95.2" y="149.9" fill="#ff7f0e" class="mk"/>
<use href="#m_r" x="75.1" y="190.3" fill="#bcbd22" class="mk"/>
<use href="#m_d" x="71.8" y="189.5" fill="#bcbd22" class="mk"/>
<use href="#m_t" x="77.0" y="191.0" fill="#bcbd22" class="mk"/>
<use href="#m_r" x="72.8" y="189.1" fill="#bcbd22" class="mk"/>
<use href="#m_d" x="72.4" y="188.6" fill="#bcbd22" class="mk"/>
<use href="#m_t" x="71.9" y="190.8" fill="#bcbd22" class="mk"/>
<use href="#m_r" x="78.5" y="186.4" fill="#bcbd22" class="mk"/>
<use href="#m_d" x="72.3" y="192.5" fill="#bcbd22" class="mk"/>
<use href="#m_t" x="77.0" y="191.3" fill="#bcbd22" class="mk"/>
<use href="#m_r" x="70.5" y="191.8" fill="#bcbd22" class="mk"/>
<use href="#m_d" x="76.2" y="186.2" fill="#bcbd22" class="mk"/>
<use href="#m_t" x="74.3" y="190.5" fill="#bcbd22" class="mk"/>
<use href="#m_r" x="77.7" y="185.0" fill="#bcbd22" class="mk"/>
<use href="#m_d" x="76.2" y="184.8" fill="#bcbd22" class="mk"/>
<use href="#m_t" x="79.5" y="187.5" fill="#bcbd22" class="mk"/>
<use href="#m_r" x="79.0" y="190.2" fill="#bcbd22" class="mk"/>
<use href="#m_d" x="76.0" y="185.7" fill="#bcbd22" class="mk"/>
<use href="#m_t" x="75.3" y="184.5" fill="#bcbd22" class="mk"/>
<use href="#m_s" x="117.0" y="180.6" fill="#9a6a3c" class="mk"/>
<use href="#m_s" x="118.2" y="180.9" fill="#9a6a3c" class="mk"/>
<use href="#m_s" x="117.5" y="180.7" fill="#9a6a3c" class="mk"/>
<use href="#m_s" x="120.2" y="177.5" fill="#9a6a3c" class="mk"/>
<use href="#m_s" x="116.8" y="178.2" fill="#9a6a3c" class="mk"/>
<use href="#m_s" x="119.0" y="176.0" fill="#9a6a3c" class="mk"/>
<use href="#m_s" x="117.2" y="175.6" fill="#9a6a3c" class="mk"/>
<use href="#m_s" x="119.5" y="182.0" fill="#9a6a3c" class="mk"/>
<use href="#m_s" x="117.4" y="175.5" fill="#9a6a3c" class="mk"/>
<use href="#m_s" x="120.1" y="181.4" fill="#9a6a3c" class="mk"/>
<use href="#m_s" x="121.6" y="179.9" fill="#9a6a3c" class="mk"/>
<use href="#m_s" x="118.1" y="181.6" fill="#9a6a3c" class="mk"/>
<use href="#m_o" x="128.5" y="176.7" fill="#9a6a3c" class="mk"/>
<use href="#m_o" x="128.4" y="175.6" fill="#9a6a3c" class="mk"/>
<use href="#m_o" x="129.5" y="175.6" fill="#9a6a3c" class="mk"/>
<use href="#m_o" x="128.6" y="175.0" fill="#9a6a3c" class="mk"/>
<use href="#m_o" x="130.3" y="175.9" fill="#9a6a3c" class="mk"/>
<use href="#m_o" x="129.7" y="175.0" fill="#9a6a3c" class="mk"/>
<use href="#m_t" x="113.1" y="185.1" fill="#9a6a3c" class="mk"/>
<use href="#m_t" x="112.7" y="186.6" fill="#9a6a3c" class="mk"/>
<use href="#m_t" x="113.8" y="184.3" fill="#9a6a3c" class="mk"/>
<use href="#m_t" x="113.3" y="186.4" fill="#9a6a3c" class="mk"/>
<use href="#m_t" x="112.0" y="185.2" fill="#9a6a3c" class="mk"/>
<use href="#m_t" x="112.7" y="186.6" fill="#9a6a3c" class="mk"/>
<use href="#m_t" x="118.0" y="201.9" fill="#9a6a3c" class="mk"/>
<use href="#m_d" x="119.7" y="196.4" fill="#9a6a3c" class="mk"/>
<use href="#m_t" x="120.4" y="195.3" fill="#9a6a3c" class="mk"/>
<use href="#m_d" x="116.9" y="200.3" fill="#9a6a3c" class="mk"/>
<use href="#m_t" x="116.5" y="198.1" fill="#9a6a3c" class="mk"/>
<use href="#m_d" x="116.8" y="198.7" fill="#9a6a3c" class="mk"/>
<use href="#m_t" x="120.1" y="202.1" fill="#9a6a3c" class="mk"/>
<use href="#m_d" x="116.4" y="195.7" fill="#9a6a3c" class="mk"/>
<use href="#m_t" x="120.1" y="195.5" fill="#9a6a3c" class="mk"/>
<use href="#m_d" x="117.5" y="196.1" fill="#9a6a3c" class="mk"/>
<use href="#m_t" x="116.6" y="195.4" fill="#9a6a3c" class="mk"/>
<use href="#m_p" x="101.2" y="206.6" fill="#9a6a3c" class="mk"/>
<use href="#m_o" x="101.3" y="207.5" fill="#9a6a3c" class="mk"/>
<use href="#m_p" x="101.3" y="203.6" fill="#9a6a3c" class="mk"/>
<use href="#m_o" x="101.2" y="208.5" fill="#9a6a3c" class="mk"/>
<use href="#m_p" x="101.2" y="202.3" fill="#9a6a3c" class="mk"/>
<use href="#m_o" x="100.3" y="208.2" fill="#9a6a3c" class="mk"/>
<use href="#m_p" x="101.1" y="203.2" fill="#9a6a3c" class="mk"/>
<use href="#m_o" x="101.2" y="205.0" fill="#9a6a3c" class="mk"/>
<use href="#m_p" x="101.0" y="200.7" fill="#9a6a3c" class="mk"/>
<use href="#m_r" x="110.1" y="209.9" fill="#9a6a3c" class="mk"/>
<use href="#m_r" x="109.7" y="210.6" fill="#9a6a3c" class="mk"/>
<use href="#m_r" x="110.3" y="210.3" fill="#9a6a3c" class="mk"/>
<use href="#m_r" x="111.1" y="210.4" fill="#9a6a3c" class="mk"/>
<use href="#m_r" x="111.1" y="210.4" fill="#9a6a3c" class="mk"/>
<use href="#m_r" x="151.9" y="204.6" fill="#1f77b4" class="mk"/>
<use href="#m_d" x="151.2" y="204.1" fill="#1f77b4" class="mk"/>
<use href="#m_r" x="155.8" y="203.5" fill="#1f77b4" class="mk"/>
<use href="#m_d" x="150.5" y="197.0" fill="#1f77b4" class="mk"/>
<use href="#m_r" x="155.6" y="200.2" fill="#1f77b4" class="mk"/>
<use href="#m_d" x="152.6" y="204.7" fill="#1f77b4" class="mk"/>
<use href="#m_r" x="150.5" y="200.8" fill="#1f77b4" class="mk"/>
<use href="#m_d" x="153.1" y="197.3" fill="#1f77b4" class="mk"/>
<use href="#m_r" x="152.8" y="202.3" fill="#1f77b4" class="mk"/>
<use href="#m_d" x="156.0" y="196.4" fill="#1f77b4" class="mk"/>
<use href="#m_r" x="153.7" y="197.0" fill="#1f77b4" class="mk"/>
<use href="#m_d" x="155.5" y="196.9" fill="#1f77b4" class="mk"/>
<use href="#m_r" x="150.4" y="199.5" fill="#1f77b4" class="mk"/>
<use href="#m_d" x="155.0" y="198.9" fill="#1f77b4" class="mk"/>
<use href="#m_t" x="137.6" y="228.8" fill="#9467bd" class="mk"/>
<use href="#m_d" x="144.8" y="229.4" fill="#9467bd" class="mk"/>
<use href="#m_t" x="139.4" y="225.3" fill="#9467bd" class="mk"/>
<use href="#m_d" x="138.8" y="226.5" fill="#9467bd" class="mk"/>
<use href="#m_t" x="139.7" y="224.5" fill="#9467bd" class="mk"/>
<use href="#m_d" x="144.5" y="230.4" fill="#9467bd" class="mk"/>
<use href="#m_t" x="142.4" y="222.2" fill="#9467bd" class="mk"/>
<use href="#m_d" x="143.1" y="225.5" fill="#9467bd" class="mk"/>
<use href="#m_t" x="146.7" y="228.1" fill="#9467bd" class="mk"/>
<use href="#m_d" x="145.0" y="227.9" fill="#9467bd" class="mk"/>
<use href="#m_t" x="141.9" y="229.8" fill="#9467bd" class="mk"/>
<use href="#m_d" x="145.0" y="224.0" fill="#9467bd" class="mk"/>
<use href="#m_t" x="137.9" y="224.8" fill="#9467bd" class="mk"/>
<use href="#m_d" x="141.7" y="222.1" fill="#9467bd" class="mk"/>
<use href="#m_t" x="139.9" y="226.7" fill="#9467bd" class="mk"/>
<use href="#m_d" x="136.7" y="229.0" fill="#9467bd" class="mk"/>
<use href="#m_t" x="143.1" y="224.2" fill="#9467bd" class="mk"/>
<use href="#m_d" x="139.4" y="224.6" fill="#9467bd" class="mk"/>
<use href="#m_t" x="139.6" y="228.4" fill="#9467bd" class="mk"/>
<use href="#m_t" x="134.0" y="247.7" fill="#9467bd" class="mk"/>
<use href="#m_d" x="130.6" y="251.1" fill="#9467bd" class="mk"/>
<use href="#m_r" x="132.3" y="246.0" fill="#9467bd" class="mk"/>
<use href="#m_t" x="129.9" y="251.6" fill="#9467bd" class="mk"/>
<use href="#m_d" x="133.8" y="251.1" fill="#9467bd" class="mk"/>
<use href="#m_r" x="138.1" y="251.5" fill="#9467bd" class="mk"/>
<use href="#m_t" x="137.0" y="251.2" fill="#9467bd" class="mk"/>
<use href="#m_d" x="138.1" y="250.1" fill="#9467bd" class="mk"/>
<use href="#m_r" x="130.5" y="247.7" fill="#9467bd" class="mk"/>
<use href="#m_t" x="134.7" y="251.7" fill="#9467bd" class="mk"/>
<use href="#m_d" x="136.7" y="249.2" fill="#9467bd" class="mk"/>
<use href="#m_r" x="136.4" y="246.3" fill="#9467bd" class="mk"/>
<use href="#m_t" x="138.2" y="248.7" fill="#9467bd" class="mk"/>
<use href="#m_d" x="133.1" y="247.2" fill="#9467bd" class="mk"/>
<use href="#m_r" x="138.6" y="247.8" fill="#9467bd" class="mk"/>
<use href="#m_t" x="130.8" y="244.5" fill="#9467bd" class="mk"/>
<use href="#m_d" x="135.8" y="248.0" fill="#9467bd" class="mk"/>
<use href="#m_s" x="167.4" y="157.9" fill="#d62728" class="mk"/>
<use href="#m_s" x="165.1" y="159.8" fill="#d62728" class="mk"/>
<use href="#m_s" x="163.4" y="157.6" fill="#d62728" class="mk"/>
<use href="#m_s" x="165.7" y="158.2" fill="#d62728" class="mk"/>
<use href="#m_s" x="163.7" y="158.1" fill="#d62728" class="mk"/>
<use href="#m_s" x="166.1" y="159.1" fill="#d62728" class="mk"/>
<use href="#m_s" x="163.6" y="157.5" fill="#d62728" class="mk"/>
<use href="#m_s" x="167.1" y="159.5" fill="#d62728" class="mk"/>
<use href="#m_o" x="181.5" y="171.4" fill="#d62728" class="mk"/>
<use href="#m_o" x="181.2" y="170.2" fill="#d62728" class="mk"/>
<use href="#m_o" x="182.6" y="171.0" fill="#d62728" class="mk"/>
<use href="#m_o" x="181.7" y="171.5" fill="#d62728" class="mk"/>
<use href="#m_o" x="182.2" y="171.5" fill="#d62728" class="mk"/>
<use href="#m_t" x="208.7" y="160.4" fill="#d62728" class="mk"/>
<use href="#m_s" x="206.4" y="161.3" fill="#d62728" class="mk"/>
<use href="#m_t" x="209.2" y="163.3" fill="#d62728" class="mk"/>
<use href="#m_s" x="206.9" y="163.4" fill="#d62728" class="mk"/>
<use href="#m_t" x="209.8" y="159.1" fill="#d62728" class="mk"/>
<use href="#m_s" x="201.3" y="162.9" fill="#d62728" class="mk"/>
<use href="#m_t" x="207.4" y="161.1" fill="#d62728" class="mk"/>
<use href="#m_s" x="204.4" y="160.3" fill="#d62728" class="mk"/>
<use href="#m_t" x="208.6" y="163.3" fill="#d62728" class="mk"/>
<use href="#m_s" x="205.4" y="157.5" fill="#d62728" class="mk"/>
<use href="#m_t" x="208.2" y="160.7" fill="#d62728" class="mk"/>
<use href="#m_s" x="201.2" y="159.5" fill="#d62728" class="mk"/>
<use href="#m_t" x="206.5" y="157.2" fill="#d62728" class="mk"/>
<use href="#m_s" x="200.5" y="159.5" fill="#d62728" class="mk"/>
<use href="#m_t" x="208.6" y="162.9" fill="#d62728" class="mk"/>
<use href="#m_s" x="209.5" y="161.3" fill="#d62728" class="mk"/>
<use href="#m_t" x="205.3" y="161.4" fill="#d62728" class="mk"/>
<use href="#m_o" x="209.0" y="175.5" fill="#d62728" class="mk"/>
<use href="#m_o" x="209.5" y="175.8" fill="#d62728" class="mk"/>
<use href="#m_o" x="208.9" y="175.6" fill="#d62728" class="mk"/>
<use href="#m_o" x="208.7" y="175.4" fill="#d62728" class="mk"/>
<use href="#m_d" x="216.0" y="191.2" fill="#d62728" class="mk"/>
<use href="#m_p" x="216.3" y="196.5" fill="#d62728" class="mk"/>
<use href="#m_d" x="214.1" y="191.9" fill="#d62728" class="mk"/>
<use href="#m_p" x="218.8" y="193.2" fill="#d62728" class="mk"/>
<use href="#m_d" x="216.4" y="188.2" fill="#d62728" class="mk"/>
<use href="#m_p" x="215.5" y="195.9" fill="#d62728" class="mk"/>
<use href="#m_d" x="218.2" y="192.3" fill="#d62728" class="mk"/>
<use href="#m_p" x="218.2" y="195.8" fill="#d62728" class="mk"/>
<use href="#m_d" x="217.9" y="188.4" fill="#d62728" class="mk"/>
<use href="#m_p" x="215.8" y="194.0" fill="#d62728" class="mk"/>
<use href="#m_d" x="215.3" y="193.4" fill="#d62728" class="mk"/>
<use href="#m_p" x="215.9" y="187.8" fill="#d62728" class="mk"/>
<use href="#m_d" x="215.8" y="184.8" fill="#d62728" class="mk"/>
<use href="#m_p" x="215.2" y="188.8" fill="#d62728" class="mk"/>
<use href="#m_d" x="213.3" y="185.5" fill="#d62728" class="mk"/>
<use href="#m_p" x="214.7" y="194.9" fill="#d62728" class="mk"/>
<use href="#m_d" x="216.5" y="187.1" fill="#d62728" class="mk"/>
<use href="#m_d" x="220.8" y="206.0" fill="#d62728" class="mk"/>
<use href="#m_t" x="218.1" y="215.0" fill="#d62728" class="mk"/>
<use href="#m_r" x="219.1" y="209.3" fill="#d62728" class="mk"/>
<use href="#m_d" x="219.6" y="210.2" fill="#d62728" class="mk"/>
<use href="#m_t" x="219.2" y="210.3" fill="#d62728" class="mk"/>
<use href="#m_r" x="220.6" y="214.5" fill="#d62728" class="mk"/>
<use href="#m_d" x="215.7" y="203.6" fill="#d62728" class="mk"/>
<use href="#m_t" x="220.6" y="205.5" fill="#d62728" class="mk"/>
<use href="#m_r" x="215.3" y="205.9" fill="#d62728" class="mk"/>
<use href="#m_d" x="217.9" y="218.9" fill="#d62728" class="mk"/>
<use href="#m_t" x="217.4" y="214.7" fill="#d62728" class="mk"/>
<use href="#m_r" x="219.9" y="202.9" fill="#d62728" class="mk"/>
<use href="#m_d" x="218.6" y="219.7" fill="#d62728" class="mk"/>
<use href="#m_t" x="218.3" y="211.1" fill="#d62728" class="mk"/>
<use href="#m_r" x="217.1" y="218.8" fill="#d62728" class="mk"/>
<use href="#m_d" x="220.6" y="203.1" fill="#d62728" class="mk"/>
<use href="#m_t" x="218.3" y="209.0" fill="#d62728" class="mk"/>
<use href="#m_r" x="219.0" y="203.4" fill="#d62728" class="mk"/>
<use href="#m_d" x="216.7" y="206.4" fill="#d62728" class="mk"/>
<use href="#m_t" x="217.9" y="216.0" fill="#d62728" class="mk"/>
<use href="#m_r" x="220.0" y="215.8" fill="#d62728" class="mk"/>
<use href="#m_r" x="203.3" y="225.9" fill="#d62728" class="mk"/>
<use href="#m_d" x="201.2" y="230.3" fill="#d62728" class="mk"/>
<use href="#m_r" x="200.4" y="229.1" fill="#d62728" class="mk"/>
<use href="#m_d" x="205.1" y="226.1" fill="#d62728" class="mk"/>
<use href="#m_r" x="204.7" y="226.0" fill="#d62728" class="mk"/>
<use href="#m_d" x="201.1" y="232.1" fill="#d62728" class="mk"/>
<use href="#m_r" x="199.7" y="229.2" fill="#d62728" class="mk"/>
<use href="#m_d" x="201.4" y="231.9" fill="#d62728" class="mk"/>
<use href="#m_r" x="205.7" y="227.4" fill="#d62728" class="mk"/>
<use href="#m_d" x="201.9" y="232.0" fill="#d62728" class="mk"/>
<use href="#m_r" x="202.3" y="226.8" fill="#d62728" class="mk"/>
<use href="#m_d" x="204.0" y="227.8" fill="#d62728" class="mk"/>
<use href="#m_r" x="201.9" y="225.3" fill="#d62728" class="mk"/>
<use href="#m_d" x="205.7" y="230.2" fill="#d62728" class="mk"/>
<use href="#m_p" x="238.7" y="157.7" fill="#bcbd22" class="mk"/>
<use href="#m_o" x="237.6" y="157.1" fill="#bcbd22" class="mk"/>
<use href="#m_p" x="237.9" y="157.4" fill="#bcbd22" class="mk"/>
<use href="#m_o" x="238.5" y="156.6" fill="#bcbd22" class="mk"/>
<use href="#m_p" x="237.6" y="157.3" fill="#bcbd22" class="mk"/>
<use href="#m_d" x="247.5" y="176.7" fill="#bcbd22" class="mk"/>
<use href="#m_t" x="246.3" y="181.7" fill="#bcbd22" class="mk"/>
<use href="#m_d" x="248.6" y="186.3" fill="#bcbd22" class="mk"/>
<use href="#m_t" x="248.2" y="182.3" fill="#bcbd22" class="mk"/>
<use href="#m_d" x="246.0" y="180.0" fill="#bcbd22" class="mk"/>
<use href="#m_t" x="246.8" y="183.3" fill="#bcbd22" class="mk"/>
<use href="#m_d" x="246.7" y="177.7" fill="#bcbd22" class="mk"/>
<use href="#m_t" x="247.3" y="180.7" fill="#bcbd22" class="mk"/>
<use href="#m_d" x="247.1" y="182.2" fill="#bcbd22" class="mk"/>
<use href="#m_t" x="246.2" y="185.4" fill="#bcbd22" class="mk"/>
<use href="#m_d" x="249.1" y="181.4" fill="#bcbd22" class="mk"/>
<use href="#m_t" x="245.5" y="179.0" fill="#bcbd22" class="mk"/>
<use href="#m_d" x="249.1" y="182.7" fill="#bcbd22" class="mk"/>
<use href="#m_t" x="249.7" y="185.5" fill="#bcbd22" class="mk"/>
<use href="#m_d" x="247.0" y="180.9" fill="#bcbd22" class="mk"/>
<use href="#m_d" x="158.4" y="203.4" fill="#1f77b4" class="mk"/>
<use href="#m_d" x="158.3" y="203.6" fill="#1f77b4" class="mk"/>
<use href="#m_d" x="158.3" y="204.1" fill="#1f77b4" class="mk"/>
<use href="#m_d" x="158.6" y="204.1" fill="#1f77b4" class="mk"/>
<use href="#m_p" x="172.7" y="224.5" fill="#1f77b4" class="mk"/>
<use href="#m_t" x="169.5" y="226.4" fill="#1f77b4" class="mk"/>
<use href="#m_p" x="174.0" y="225.6" fill="#1f77b4" class="mk"/>
<use href="#m_t" x="168.2" y="223.3" fill="#1f77b4" class="mk"/>
<use href="#m_p" x="170.2" y="226.6" fill="#1f77b4" class="mk"/>
<use href="#m_t" x="168.8" y="224.5" fill="#1f77b4" class="mk"/>
<use href="#m_p" x="172.7" y="228.7" fill="#1f77b4" class="mk"/>
<use href="#m_t" x="170.5" y="226.6" fill="#1f77b4" class="mk"/>
<use href="#m_p" x="171.6" y="223.3" fill="#1f77b4" class="mk"/>
<use href="#m_t" x="170.4" y="224.0" fill="#1f77b4" class="mk"/>
<use href="#m_p" x="169.9" y="227.5" fill="#1f77b4" class="mk"/>
<use href="#m_s" x="174.7" y="233.3" fill="#1f77b4" class="mk"/>
<use href="#m_s" x="170.7" y="235.8" fill="#1f77b4" class="mk"/>
<use href="#m_s" x="170.9" y="234.3" fill="#1f77b4" class="mk"/>
<use href="#m_s" x="172.0" y="233.4" fill="#1f77b4" class="mk"/>
<use href="#m_s" x="170.4" y="233.7" fill="#1f77b4" class="mk"/>
<use href="#m_s" x="172.8" y="236.6" fill="#1f77b4" class="mk"/>
<use href="#m_s" x="174.4" y="234.1" fill="#1f77b4" class="mk"/>
<use href="#m_s" x="174.7" y="234.2" fill="#1f77b4" class="mk"/>
<use href="#m_s" x="173.6" y="234.4" fill="#1f77b4" class="mk"/>
<use href="#m_o" x="176.5" y="244.5" fill="#1f77b4" class="mk"/>
<use href="#m_o" x="175.7" y="245.5" fill="#1f77b4" class="mk"/>
<use href="#m_o" x="175.9" y="245.4" fill="#1f77b4" class="mk"/>
<use href="#m_o" x="176.1" y="244.7" fill="#1f77b4" class="mk"/>
<use href="#m_o" x="175.0" y="245.4" fill="#1f77b4" class="mk"/>
<use href="#m_o" x="174.2" y="245.2" fill="#1f77b4" class="mk"/>
<use href="#m_o" x="174.2" y="244.6" fill="#1f77b4" class="mk"/>
<use href="#m_o" x="176.2" y="245.5" fill="#1f77b4" class="mk"/>
<use href="#m_o" x="174.3" y="243.4" fill="#1f77b4" class="mk"/>
<use href="#m_t" x="182.5" y="239.8" fill="#1f77b4" class="mk"/>
<use href="#m_t" x="181.8" y="240.8" fill="#1f77b4" class="mk"/>
<use href="#m_t" x="182.6" y="240.1" fill="#1f77b4" class="mk"/>
<use href="#m_t" x="181.9" y="241.1" fill="#1f77b4" class="mk"/>
<use href="#m_t" x="182.4" y="240.7" fill="#1f77b4" class="mk"/>
<use href="#m_t" x="181.5" y="240.5" fill="#1f77b4" class="mk"/>
<line x1="324.50" y1="23.40" x2="324.50" y2="270.40" stroke="#dcdcdc" stroke-width="0.9" />
<line x1="335.50" y1="23.40" x2="335.50" y2="270.40" stroke="#dcdcdc" stroke-width="0.9" />
<line x1="346.50" y1="23.40" x2="346.50" y2="270.40" stroke="#dcdcdc" stroke-width="0.9" />
<line x1="357.50" y1="23.40" x2="357.50" y2="270.40" stroke="#dcdcdc" stroke-width="0.9" />
<line x1="368.50" y1="23.40" x2="368.50" y2="270.40" stroke="#dcdcdc" stroke-width="0.9" />
<line x1="379.50" y1="23.40" x2="379.50" y2="270.40" stroke="#dcdcdc" stroke-width="0.9" />
<line x1="390.50" y1="23.40" x2="390.50" y2="270.40" stroke="#dcdcdc" stroke-width="0.9" />
<line x1="401.50" y1="23.40" x2="401.50" y2="270.40" stroke="#dcdcdc" stroke-width="0.9" />
<line x1="412.50" y1="23.40" x2="412.50" y2="270.40" stroke="#dcdcdc" stroke-width="0.9" />
<line x1="423.50" y1="23.40" x2="423.50" y2="270.40" stroke="#dcdcdc" stroke-width="0.9" />
<line x1="434.50" y1="23.40" x2="434.50" y2="270.40" stroke="#dcdcdc" stroke-width="0.9" />
<line x1="445.50" y1="23.40" x2="445.50" y2="270.40" stroke="#dcdcdc" stroke-width="0.9" />
<line x1="456.50" y1="23.40" x2="456.50" y2="270.40" stroke="#dcdcdc" stroke-width="0.9" />
<line x1="467.50" y1="23.40" x2="467.50" y2="270.40" stroke="#dcdcdc" stroke-width="0.9" />
<line x1="478.50" y1="23.40" x2="478.50" y2="270.40" stroke="#dcdcdc" stroke-width="0.9" />
<line x1="489.50" y1="23.40" x2="489.50" y2="270.40" stroke="#dcdcdc" stroke-width="0.9" />
<line x1="500.50" y1="23.40" x2="500.50" y2="270.40" stroke="#dcdcdc" stroke-width="0.9" />
<line x1="511.50" y1="23.40" x2="511.50" y2="270.40" stroke="#dcdcdc" stroke-width="0.9" />
<line x1="522.50" y1="23.40" x2="522.50" y2="270.40" stroke="#dcdcdc" stroke-width="0.9" />
<line x1="533.50" y1="23.40" x2="533.50" y2="270.40" stroke="#dcdcdc" stroke-width="0.9" />
<line x1="544.50" y1="23.40" x2="544.50" y2="270.40" stroke="#dcdcdc" stroke-width="0.9" />
<line x1="555.50" y1="23.40" x2="555.50" y2="270.40" stroke="#dcdcdc" stroke-width="0.9" />
<line x1="566.50" y1="23.40" x2="566.50" y2="270.40" stroke="#dcdcdc" stroke-width="0.9" />
<line x1="324.50" y1="270.40" x2="572.00" y2="270.40" stroke="#dcdcdc" stroke-width="0.9" />
<line x1="324.50" y1="251.40" x2="572.00" y2="251.40" stroke="#dcdcdc" stroke-width="0.9" />
<line x1="324.50" y1="232.40" x2="572.00" y2="232.40" stroke="#dcdcdc" stroke-width="0.9" />
<line x1="324.50" y1="213.40" x2="572.00" y2="213.40" stroke="#dcdcdc" stroke-width="0.9" />
<line x1="324.50" y1="194.40" x2="572.00" y2="194.40" stroke="#dcdcdc" stroke-width="0.9" />
<line x1="324.50" y1="175.40" x2="572.00" y2="175.40" stroke="#dcdcdc" stroke-width="0.9" />
<line x1="324.50" y1="156.40" x2="572.00" y2="156.40" stroke="#dcdcdc" stroke-width="0.9" />
<line x1="324.50" y1="137.40" x2="572.00" y2="137.40" stroke="#dcdcdc" stroke-width="0.9" />
<line x1="324.50" y1="118.40" x2="572.00" y2="118.40" stroke="#dcdcdc" stroke-width="0.9" />
<line x1="324.50" y1="99.40" x2="572.00" y2="99.40" stroke="#dcdcdc" stroke-width="0.9" />
<line x1="324.50" y1="80.40" x2="572.00" y2="80.40" stroke="#dcdcdc" stroke-width="0.9" />
<line x1="324.50" y1="61.40" x2="572.00" y2="61.40" stroke="#dcdcdc" stroke-width="0.9" />
<line x1="324.50" y1="42.40" x2="572.00" y2="42.40" stroke="#dcdcdc" stroke-width="0.9" />
<line x1="324.50" y1="23.40" x2="572.00" y2="23.40" stroke="#dcdcdc" stroke-width="0.9" />
<line x1="324.50" y1="23.40" x2="572.00" y2="23.40" stroke="#dcdcdc" stroke-width="1.0" />
<line x1="572.00" y1="23.40" x2="572.00" y2="270.40" stroke="#dcdcdc" stroke-width="1.0" />
<line x1="324.50" y1="270.40" x2="324.50" y2="272.40" stroke="#a8a8a8" stroke-width="0.9" />
<line x1="335.50" y1="270.40" x2="335.50" y2="272.40" stroke="#a8a8a8" stroke-width="0.9" />
<line x1="346.50" y1="270.40" x2="346.50" y2="272.40" stroke="#a8a8a8" stroke-width="0.9" />
<line x1="357.50" y1="270.40" x2="357.50" y2="272.40" stroke="#a8a8a8" stroke-width="0.9" />
<line x1="368.50" y1="270.40" x2="368.50" y2="272.40" stroke="#a8a8a8" stroke-width="0.9" />
<line x1="379.50" y1="270.40" x2="379.50" y2="272.40" stroke="#a8a8a8" stroke-width="0.9" />
<line x1="390.50" y1="270.40" x2="390.50" y2="272.40" stroke="#a8a8a8" stroke-width="0.9" />
<line x1="401.50" y1="270.40" x2="401.50" y2="272.40" stroke="#a8a8a8" stroke-width="0.9" />
<line x1="412.50" y1="270.40" x2="412.50" y2="272.40" stroke="#a8a8a8" stroke-width="0.9" />
<line x1="423.50" y1="270.40" x2="423.50" y2="272.40" stroke="#a8a8a8" stroke-width="0.9" />
<line x1="434.50" y1="270.40" x2="434.50" y2="272.40" stroke="#a8a8a8" stroke-width="0.9" />
<line x1="445.50" y1="270.40" x2="445.50" y2="272.40" stroke="#a8a8a8" stroke-width="0.9" />
<line x1="456.50" y1="270.40" x2="456.50" y2="272.40" stroke="#a8a8a8" stroke-width="0.9" />
<line x1="467.50" y1="270.40" x2="467.50" y2="272.40" stroke="#a8a8a8" stroke-width="0.9" />
<line x1="478.50" y1="270.40" x2="478.50" y2="272.40" stroke="#a8a8a8" stroke-width="0.9" />
<line x1="489.50" y1="270.40" x2="489.50" y2="272.40" stroke="#a8a8a8" stroke-width="0.9" />
<line x1="500.50" y1="270.40" x2="500.50" y2="272.40" stroke="#a8a8a8" stroke-width="0.9" />
<line x1="511.50" y1="270.40" x2="511.50" y2="272.40" stroke="#a8a8a8" stroke-width="0.9" />
<line x1="522.50" y1="270.40" x2="522.50" y2="272.40" stroke="#a8a8a8" stroke-width="0.9" />
<line x1="533.50" y1="270.40" x2="533.50" y2="272.40" stroke="#a8a8a8" stroke-width="0.9" />
<line x1="544.50" y1="270.40" x2="544.50" y2="272.40" stroke="#a8a8a8" stroke-width="0.9" />
<line x1="555.50" y1="270.40" x2="555.50" y2="272.40" stroke="#a8a8a8" stroke-width="0.9" />
<line x1="566.50" y1="270.40" x2="566.50" y2="272.40" stroke="#a8a8a8" stroke-width="0.9" />
<line x1="322.50" y1="270.40" x2="324.50" y2="270.40" stroke="#a8a8a8" stroke-width="0.9" />
<line x1="322.50" y1="251.40" x2="324.50" y2="251.40" stroke="#a8a8a8" stroke-width="0.9" />
<line x1="322.50" y1="232.40" x2="324.50" y2="232.40" stroke="#a8a8a8" stroke-width="0.9" />
<line x1="322.50" y1="213.40" x2="324.50" y2="213.40" stroke="#a8a8a8" stroke-width="0.9" />
<line x1="322.50" y1="194.40" x2="324.50" y2="194.40" stroke="#a8a8a8" stroke-width="0.9" />
<line x1="322.50" y1="175.40" x2="324.50" y2="175.40" stroke="#a8a8a8" stroke-width="0.9" />
<line x1="322.50" y1="156.40" x2="324.50" y2="156.40" stroke="#a8a8a8" stroke-width="0.9" />
<line x1="322.50" y1="137.40" x2="324.50" y2="137.40" stroke="#a8a8a8" stroke-width="0.9" />
<line x1="322.50" y1="118.40" x2="324.50" y2="118.40" stroke="#a8a8a8" stroke-width="0.9" />
<line x1="322.50" y1="99.40" x2="324.50" y2="99.40" stroke="#a8a8a8" stroke-width="0.9" />
<line x1="322.50" y1="80.40" x2="324.50" y2="80.40" stroke="#a8a8a8" stroke-width="0.9" />
<line x1="322.50" y1="61.40" x2="324.50" y2="61.40" stroke="#a8a8a8" stroke-width="0.9" />
<line x1="322.50" y1="42.40" x2="324.50" y2="42.40" stroke="#a8a8a8" stroke-width="0.9" />
<line x1="322.50" y1="23.40" x2="324.50" y2="23.40" stroke="#a8a8a8" stroke-width="0.9" />
<line x1="324.50" y1="22.90" x2="324.50" y2="271.40" stroke="#a8a8a8" stroke-width="1.6" />
<line x1="323.50" y1="270.40" x2="572.00" y2="270.40" stroke="#a8a8a8" stroke-width="1.6" />
<text x="323.70" y="279.10" font-size="6.9" text-anchor="middle" fill="#111" >−20</text>
<text x="345.70" y="279.10" font-size="6.9" text-anchor="middle" fill="#111" >−16</text>
<text x="367.70" y="279.10" font-size="6.9" text-anchor="middle" fill="#111" >−12</text>
<text x="389.70" y="279.10" font-size="6.9" text-anchor="middle" fill="#111" >−8</text>
<text x="411.70" y="279.10" font-size="6.9" text-anchor="middle" fill="#111" >−4</text>
<text x="434.50" y="279.10" font-size="6.9" text-anchor="middle" fill="#111" >0</text>
<text x="456.50" y="279.10" font-size="6.9" text-anchor="middle" fill="#111" >4</text>
<text x="478.50" y="279.10" font-size="6.9" text-anchor="middle" fill="#111" >8</text>
<text x="500.50" y="279.10" font-size="6.9" text-anchor="middle" fill="#111" >12</text>
<text x="522.50" y="279.10" font-size="6.9" text-anchor="middle" fill="#111" >16</text>
<text x="544.50" y="279.10" font-size="6.9" text-anchor="middle" fill="#111" >20</text>
<text x="566.50" y="279.10" font-size="6.9" text-anchor="middle" fill="#111" >24</text>
<text x="322.20" y="272.88" font-size="6.9" text-anchor="end" fill="#111" >−35</text>
<text x="322.20" y="253.88" font-size="6.9" text-anchor="end" fill="#111" >−30</text>
<text x="322.20" y="234.88" font-size="6.9" text-anchor="end" fill="#111" >−25</text>
<text x="322.20" y="215.88" font-size="6.9" text-anchor="end" fill="#111" >−20</text>
<text x="322.20" y="196.88" font-size="6.9" text-anchor="end" fill="#111" >−15</text>
<text x="322.20" y="177.88" font-size="6.9" text-anchor="end" fill="#111" >−10</text>
<text x="322.20" y="158.88" font-size="6.9" text-anchor="end" fill="#111" >−5</text>
<text x="322.20" y="139.88" font-size="6.9" text-anchor="end" fill="#111" >0</text>
<text x="322.20" y="120.88" font-size="6.9" text-anchor="end" fill="#111" >5</text>
<text x="322.20" y="101.88" font-size="6.9" text-anchor="end" fill="#111" >10</text>
<text x="322.20" y="82.88" font-size="6.9" text-anchor="end" fill="#111" >15</text>
<text x="322.20" y="63.88" font-size="6.9" text-anchor="end" fill="#111" >20</text>
<text x="322.20" y="44.88" font-size="6.9" text-anchor="end" fill="#111" >25</text>
<text x="322.20" y="25.88" font-size="6.9" text-anchor="end" fill="#111" >30</text>
<text x="451.70" y="290.50" font-size="9.8" text-anchor="middle" fill="#111" >tsne_x</text>
<text x="0" y="0" font-size="9.8" text-anchor="middle" fill="#111" transform="translate(305.00,147.80) rotate(-90)">tsne_y</text>
<use href="#m_r" x="350.7" y="47.0" fill="#1e7a1e" class="mk"/>
<use href="#m_r" x="348.3" y="47.0" fill="#1e7a1e" class="mk"/>
<use href="#m_r" x="350.4" y="47.0" fill="#1e7a1e" class="mk"/>
<use href="#m_r" x="349.9" y="47.0" fill="#1e7a1e" class="mk"/>
<use href="#m_r" x="366.0" y="57.4" fill="#8a8a10" class="mk"/>
<use href="#m_r" x="365.9" y="55.8" fill="#8a8a10" class="mk"/>
<use href="#m_r" x="365.2" y="56.6" fill="#8a8a10" class="mk"/>
<use href="#m_r" x="366.5" y="58.8" fill="#8a8a10" class="mk"/>
<use href="#m_r" x="367.6" y="57.2" fill="#8a8a10" class="mk"/>
<use href="#m_r" x="365.2" y="56.2" fill="#8a8a10" class="mk"/>
<use href="#m_r" x="363.4" y="55.3" fill="#8a8a10" class="mk"/>
<use href="#m_r" x="365.3" y="56.3" fill="#8a8a10" class="mk"/>
<use href="#m_d" x="376.9" y="45.4" fill="#2ca02c" class="mk"/>
<use href="#m_d" x="377.6" y="44.2" fill="#2ca02c" class="mk"/>
<use href="#m_d" x="376.3" y="42.3" fill="#2ca02c" class="mk"/>
<use href="#m_d" x="376.7" y="42.7" fill="#2ca02c" class="mk"/>
<use href="#m_d" x="377.5" y="45.8" fill="#2ca02c" class="mk"/>
<use href="#m_d" x="378.3" y="42.9" fill="#2ca02c" class="mk"/>
<use href="#m_d" x="379.3" y="45.1" fill="#2ca02c" class="mk"/>
<use href="#m_d" x="378.6" y="45.5" fill="#2ca02c" class="mk"/>
<use href="#m_p" x="395.7" y="57.0" fill="#5cb85c" class="mk"/>
<use href="#m_t" x="393.8" y="58.6" fill="#5cb85c" class="mk"/>
<use href="#m_p" x="396.6" y="51.6" fill="#5cb85c" class="mk"/>
<use href="#m_t" x="395.7" y="56.4" fill="#5cb85c" class="mk"/>
<use href="#m_p" x="394.3" y="54.8" fill="#5cb85c" class="mk"/>
<use href="#m_t" x="394.5" y="58.2" fill="#5cb85c" class="mk"/>
<use href="#m_p" x="394.5" y="57.4" fill="#5cb85c" class="mk"/>
<use href="#m_t" x="393.8" y="57.8" fill="#5cb85c" class="mk"/>
<use href="#m_p" x="396.3" y="54.2" fill="#5cb85c" class="mk"/>
<use href="#m_t" x="394.8" y="58.1" fill="#5cb85c" class="mk"/>
<use href="#m_p" x="395.5" y="54.4" fill="#5cb85c" class="mk"/>
<use href="#m_t" x="393.2" y="53.0" fill="#5cb85c" class="mk"/>
<use href="#m_t" x="406.5" y="55.8" fill="#2ca02c" class="mk"/>
<use href="#m_t" x="408.1" y="56.2" fill="#2ca02c" class="mk"/>
<use href="#m_t" x="408.1" y="56.3" fill="#2ca02c" class="mk"/>
<use href="#m_t" x="408.5" y="57.7" fill="#2ca02c" class="mk"/>
<use href="#m_t" x="405.0" y="57.1" fill="#2ca02c" class="mk"/>
<use href="#m_t" x="406.2" y="57.3" fill="#2ca02c" class="mk"/>
<use href="#m_t" x="403.6" y="55.9" fill="#2ca02c" class="mk"/>
<use href="#m_t" x="405.1" y="58.6" fill="#2ca02c" class="mk"/>
<use href="#m_t" x="405.9" y="55.5" fill="#2ca02c" class="mk"/>
<use href="#m_t" x="407.4" y="57.8" fill="#2ca02c" class="mk"/>
<use href="#m_d" x="420.8" y="53.1" fill="#2ca02c" class="mk"/>
<use href="#m_p" x="419.1" y="52.5" fill="#2ca02c" class="mk"/>
<use href="#m_d" x="418.1" y="53.5" fill="#2ca02c" class="mk"/>
<use href="#m_p" x="413.6" y="56.2" fill="#2ca02c" class="mk"/>
<use href="#m_d" x="412.3" y="54.6" fill="#2ca02c" class="mk"/>
<use href="#m_p" x="420.3" y="53.3" fill="#2ca02c" class="mk"/>
<use href="#m_d" x="413.4" y="56.3" fill="#2ca02c" class="mk"/>
<use href="#m_p" x="415.7" y="55.5" fill="#2ca02c" class="mk"/>
<use href="#m_d" x="411.5" y="53.9" fill="#2ca02c" class="mk"/>
<use href="#m_p" x="413.0" y="55.3" fill="#2ca02c" class="mk"/>
<use href="#m_d" x="412.1" y="56.6" fill="#2ca02c" class="mk"/>
<use href="#m_p" x="411.5" y="55.6" fill="#2ca02c" class="mk"/>
<use href="#m_d" x="411.4" y="53.4" fill="#2ca02c" class="mk"/>
<use href="#m_o" x="417.8" y="62.1" fill="#1e7a1e" class="mk"/>
<use href="#m_o" x="414.2" y="65.1" fill="#1e7a1e" class="mk"/>
<use href="#m_o" x="415.4" y="61.4" fill="#1e7a1e" class="mk"/>
<use href="#m_o" x="418.7" y="62.0" fill="#1e7a1e" class="mk"/>
<use href="#m_o" x="413.4" y="63.1" fill="#1e7a1e" class="mk"/>
<use href="#m_o" x="416.6" y="65.4" fill="#1e7a1e" class="mk"/>
<use href="#m_o" x="413.8" y="63.1" fill="#1e7a1e" class="mk"/>
<use href="#m_o" x="413.4" y="63.7" fill="#1e7a1e" class="mk"/>
<use href="#m_o" x="417.5" y="65.3" fill="#1e7a1e" class="mk"/>
<use href="#m_o" x="418.3" y="65.4" fill="#1e7a1e" class="mk"/>
<use href="#m_d" x="426.3" y="54.0" fill="#2ca02c" class="mk"/>
<use href="#m_d" x="424.9" y="52.8" fill="#2ca02c" class="mk"/>
<use href="#m_d" x="425.6" y="53.0" fill="#2ca02c" class="mk"/>
<use href="#m_d" x="423.6" y="53.4" fill="#2ca02c" class="mk"/>
<use href="#m_d" x="426.3" y="52.5" fill="#2ca02c" class="mk"/>
<use href="#m_d" x="425.3" y="53.2" fill="#2ca02c" class="mk"/>
<use href="#m_s" x="444.1" y="51.3" fill="#17becf" class="mk"/>
<use href="#m_s" x="446.6" y="52.2" fill="#17becf" class="mk"/>
<use href="#m_s" x="444.6" y="53.4" fill="#17becf" class="mk"/>
<use href="#m_s" x="441.3" y="54.4" fill="#17becf" class="mk"/>
<use href="#m_s" x="442.0" y="50.6" fill="#17becf" class="mk"/>
<use href="#m_s" x="441.4" y="51.4" fill="#17becf" class="mk"/>
<use href="#m_s" x="441.7" y="55.0" fill="#17becf" class="mk"/>
<use href="#m_s" x="444.0" y="57.7" fill="#17becf" class="mk"/>
<use href="#m_s" x="446.4" y="57.8" fill="#17becf" class="mk"/>
<use href="#m_s" x="442.5" y="53.6" fill="#17becf" class="mk"/>
<use href="#m_s" x="442.6" y="54.7" fill="#17becf" class="mk"/>
<use href="#m_s" x="444.7" y="56.3" fill="#17becf" class="mk"/>
<use href="#m_o" x="441.2" y="70.1" fill="#17becf" class="mk"/>
<use href="#m_o" x="439.6" y="71.1" fill="#17becf" class="mk"/>
<use href="#m_o" x="437.2" y="69.3" fill="#17becf" class="mk"/>
<use href="#m_o" x="439.5" y="69.6" fill="#17becf" class="mk"/>
<use href="#m_o" x="441.3" y="70.1" fill="#17becf" class="mk"/>
<use href="#m_o" x="437.8" y="69.9" fill="#17becf" class="mk"/>
<use href="#m_o" x="438.5" y="70.0" fill="#17becf" class="mk"/>
<use href="#m_o" x="440.1" y="70.9" fill="#17becf" class="mk"/>
<use href="#m_o" x="438.9" y="71.5" fill="#17becf" class="mk"/>
<use href="#m_s" x="398.0" y="84.3" fill="#2ca02c" class="mk"/>
<use href="#m_s" x="404.5" y="83.3" fill="#2ca02c" class="mk"/>
<use href="#m_s" x="399.9" y="82.1" fill="#2ca02c" class="mk"/>
<use href="#m_s" x="401.2" y="79.5" fill="#2ca02c" class="mk"/>
<use href="#m_s" x="399.8" y="82.1" fill="#2ca02c" class="mk"/>
<use href="#m_s" x="397.8" y="79.7" fill="#2ca02c" class="mk"/>
<use href="#m_s" x="403.1" y="81.3" fill="#2ca02c" class="mk"/>
<use href="#m_s" x="400.7" y="84.4" fill="#2ca02c" class="mk"/>
<use href="#m_s" x="401.5" y="80.8" fill="#2ca02c" class="mk"/>
<use href="#m_s" x="404.7" y="81.3" fill="#2ca02c" class="mk"/>
<use href="#m_s" x="396.4" y="83.0" fill="#2ca02c" class="mk"/>
<use href="#m_s" x="397.1" y="80.9" fill="#2ca02c" class="mk"/>
<use href="#m_s" x="403.4" y="83.0" fill="#2ca02c" class="mk"/>
<use href="#m_o" x="392.3" y="90.2" fill="#2ca02c" class="mk"/>
<use href="#m_o" x="394.9" y="90.4" fill="#2ca02c" class="mk"/>
<use href="#m_o" x="393.6" y="91.1" fill="#2ca02c" class="mk"/>
<use href="#m_o" x="392.7" y="89.1" fill="#2ca02c" class="mk"/>
<use href="#m_o" x="394.7" y="93.4" fill="#2ca02c" class="mk"/>
<use href="#m_o" x="392.7" y="92.2" fill="#2ca02c" class="mk"/>
<use href="#m_o" x="393.5" y="91.0" fill="#2ca02c" class="mk"/>
<use href="#m_o" x="394.8" y="90.3" fill="#2ca02c" class="mk"/>
<use href="#m_o" x="397.2" y="89.8" fill="#2ca02c" class="mk"/>
<use href="#m_o" x="393.0" y="88.0" fill="#2ca02c" class="mk"/>
<use href="#m_o" x="392.7" y="92.8" fill="#2ca02c" class="mk"/>
<use href="#m_o" x="396.4" y="93.5" fill="#2ca02c" class="mk"/>
<use href="#m_t" x="412.1" y="85.3" fill="#2ca02c" class="mk"/>
<use href="#m_t" x="411.9" y="88.0" fill="#2ca02c" class="mk"/>
<use href="#m_t" x="412.3" y="87.0" fill="#2ca02c" class="mk"/>
<use href="#m_t" x="410.2" y="86.8" fill="#2ca02c" class="mk"/>
<use href="#m_t" x="412.7" y="86.2" fill="#2ca02c" class="mk"/>
<use href="#m_t" x="411.1" y="86.9" fill="#2ca02c" class="mk"/>
<use href="#m_t" x="413.5" y="88.1" fill="#2ca02c" class="mk"/>
<use href="#m_t" x="413.4" y="88.2" fill="#2ca02c" class="mk"/>
<use href="#m_t" x="409.9" y="86.0" fill="#2ca02c" class="mk"/>
<use href="#m_d" x="380.4" y="100.4" fill="#bcbd22" class="mk"/>
<use href="#m_d" x="380.2" y="100.6" fill="#bcbd22" class="mk"/>
<use href="#m_d" x="382.4" y="100.6" fill="#bcbd22" class="mk"/>
<use href="#m_d" x="382.0" y="100.3" fill="#bcbd22" class="mk"/>
<use href="#m_d" x="379.8" y="100.8" fill="#bcbd22" class="mk"/>
<use href="#m_d" x="378.9" y="100.5" fill="#bcbd22" class="mk"/>
<use href="#m_o" x="378.5" y="120.4" fill="#2ca02c" class="mk"/>
<use href="#m_o" x="382.3" y="122.8" fill="#2ca02c" class="mk"/>
<use href="#m_o" x="381.2" y="120.5" fill="#2ca02c" class="mk"/>
<use href="#m_o" x="379.6" y="120.8" fill="#2ca02c" class="mk"/>
<use href="#m_o" x="381.3" y="122.0" fill="#2ca02c" class="mk"/>
<use href="#m_o" x="380.2" y="121.6" fill="#2ca02c" class="mk"/>
<use href="#m_o" x="378.7" y="121.6" fill="#2ca02c" class="mk"/>
<use href="#m_s" x="393.6" y="116.7" fill="#2ca02c" class="mk"/>
<use href="#m_s" x="389.6" y="115.6" fill="#2ca02c" class="mk"/>
<use href="#m_s" x="392.5" y="114.4" fill="#2ca02c" class="mk"/>
<use href="#m_s" x="393.3" y="115.3" fill="#2ca02c" class="mk"/>
<use href="#m_s" x="392.4" y="115.1" fill="#2ca02c" class="mk"/>
<use href="#m_s" x="393.8" y="116.8" fill="#2ca02c" class="mk"/>
<use href="#m_s" x="391.8" y="113.9" fill="#2ca02c" class="mk"/>
<use href="#m_s" x="391.2" y="113.3" fill="#2ca02c" class="mk"/>
<use href="#m_s" x="391.9" y="117.3" fill="#2ca02c" class="mk"/>
<use href="#m_r" x="429.9" y="112.6" fill="#bcbd22" class="mk"/>
<use href="#m_d" x="432.8" y="111.9" fill="#bcbd22" class="mk"/>
<use href="#m_r" x="435.0" y="115.4" fill="#bcbd22" class="mk"/>
<use href="#m_d" x="435.0" y="112.3" fill="#bcbd22" class="mk"/>
<use href="#m_r" x="437.4" y="111.4" fill="#bcbd22" class="mk"/>
<use href="#m_d" x="435.4" y="113.5" fill="#bcbd22" class="mk"/>
<use href="#m_r" x="435.5" y="114.8" fill="#bcbd22" class="mk"/>
<use href="#m_d" x="430.4" y="113.3" fill="#bcbd22" class="mk"/>
<use href="#m_r" x="432.1" y="113.6" fill="#bcbd22" class="mk"/>
<use href="#m_d" x="437.6" y="113.4" fill="#bcbd22" class="mk"/>
<use href="#m_r" x="428.3" y="112.3" fill="#bcbd22" class="mk"/>
<use href="#m_d" x="435.0" y="115.0" fill="#bcbd22" class="mk"/>
<use href="#m_r" x="434.4" y="114.6" fill="#bcbd22" class="mk"/>
<use href="#m_d" x="428.4" y="115.4" fill="#bcbd22" class="mk"/>
<use href="#m_r" x="435.2" y="113.2" fill="#bcbd22" class="mk"/>
<use href="#m_r" x="334.0" y="123.9" fill="#9467bd" class="mk"/>
<use href="#m_d" x="327.1" y="123.4" fill="#9467bd" class="mk"/>
<use href="#m_r" x="332.8" y="118.7" fill="#9467bd" class="mk"/>
<use href="#m_d" x="332.6" y="121.7" fill="#9467bd" class="mk"/>
<use href="#m_r" x="327.8" y="123.3" fill="#9467bd" class="mk"/>
<use href="#m_d" x="327.4" y="121.9" fill="#9467bd" class="mk"/>
<use href="#m_r" x="329.9" y="119.1" fill="#9467bd" class="mk"/>
<use href="#m_d" x="331.1" y="120.7" fill="#9467bd" class="mk"/>
<use href="#m_r" x="328.0" y="124.5" fill="#9467bd" class="mk"/>
<use href="#m_d" x="326.8" y="117.2" fill="#9467bd" class="mk"/>
<use href="#m_r" x="330.4" y="123.6" fill="#9467bd" class="mk"/>
<use href="#m_d" x="331.9" y="122.9" fill="#9467bd" class="mk"/>
<use href="#m_r" x="330.4" y="122.3" fill="#9467bd" class="mk"/>
<use href="#m_d" x="329.1" y="119.2" fill="#9467bd" class="mk"/>
<use href="#m_r" x="330.5" y="117.4" fill="#9467bd" class="mk"/>
<use href="#m_p" x="336.0" y="133.7" fill="#9467bd" class="mk"/>
<use href="#m_r" x="337.0" y="133.7" fill="#9467bd" class="mk"/>
<use href="#m_p" x="343.5" y="130.7" fill="#9467bd" class="mk"/>
<use href="#m_r" x="342.4" y="134.0" fill="#9467bd" class="mk"/>
<use href="#m_p" x="344.4" y="128.4" fill="#9467bd" class="mk"/>
<use href="#m_r" x="336.9" y="130.5" fill="#9467bd" class="mk"/>
<use href="#m_p" x="340.1" y="129.7" fill="#9467bd" class="mk"/>
<use href="#m_r" x="335.3" y="132.0" fill="#9467bd" class="mk"/>
<use href="#m_p" x="345.4" y="130.4" fill="#9467bd" class="mk"/>
<use href="#m_r" x="340.9" y="130.5" fill="#9467bd" class="mk"/>
<use href="#m_p" x="339.9" y="134.7" fill="#9467bd" class="mk"/>
<use href="#m_r" x="338.5" y="132.8" fill="#9467bd" class="mk"/>
<use href="#m_p" x="340.3" y="131.8" fill="#9467bd" class="mk"/>
<use href="#m_r" x="344.9" y="127.9" fill="#9467bd" class="mk"/>
<use href="#m_p" x="343.9" y="129.8" fill="#9467bd" class="mk"/>
<use href="#m_r" x="342.1" y="134.0" fill="#9467bd" class="mk"/>
<use href="#m_p" x="342.1" y="130.6" fill="#9467bd" class="mk"/>
<use href="#m_r" x="344.1" y="128.0" fill="#9467bd" class="mk"/>
<use href="#m_d" x="403.5" y="135.2" fill="#bcbd22" class="mk"/>
<use href="#m_d" x="403.1" y="136.4" fill="#bcbd22" class="mk"/>
<use href="#m_d" x="404.1" y="135.8" fill="#bcbd22" class="mk"/>
<use href="#m_d" x="402.3" y="134.8" fill="#bcbd22" class="mk"/>
<use href="#m_d" x="402.8" y="134.8" fill="#bcbd22" class="mk"/>
<use href="#m_d" x="402.2" y="136.7" fill="#bcbd22" class="mk"/>
<use href="#m_p" x="423.7" y="135.3" fill="#bcbd22" class="mk"/>
<use href="#m_p" x="424.9" y="134.1" fill="#bcbd22" class="mk"/>
<use href="#m_p" x="424.7" y="133.4" fill="#bcbd22" class="mk"/>
<use href="#m_p" x="425.3" y="133.6" fill="#bcbd22" class="mk"/>
<use href="#m_p" x="425.2" y="134.0" fill="#bcbd22" class="mk"/>
<use href="#m_p" x="427.3" y="135.6" fill="#bcbd22" class="mk"/>
<use href="#m_p" x="425.2" y="134.9" fill="#bcbd22" class="mk"/>
<use href="#m_t" x="406.7" y="146.7" fill="#bcbd22" class="mk"/>
<use href="#m_t" x="405.4" y="146.6" fill="#bcbd22" class="mk"/>
<use href="#m_t" x="405.5" y="147.3" fill="#bcbd22" class="mk"/>
<use href="#m_t" x="405.8" y="146.8" fill="#bcbd22" class="mk"/>
<use href="#m_t" x="406.5" y="146.6" fill="#bcbd22" class="mk"/>
<use href="#m_t" x="430.5" y="147.2" fill="#bcbd22" class="mk"/>
<use href="#m_t" x="429.8" y="147.5" fill="#bcbd22" class="mk"/>
<use href="#m_t" x="429.7" y="147.6" fill="#bcbd22" class="mk"/>
<use href="#m_t" x="430.7" y="147.0" fill="#bcbd22" class="mk"/>
<use href="#m_t" x="430.3" y="147.7" fill="#bcbd22" class="mk"/>
<use href="#m_s" x="348.4" y="150.2" fill="#9467bd" class="mk"/>
<use href="#m_s" x="348.6" y="150.6" fill="#9467bd" class="mk"/>
<use href="#m_s" x="348.4" y="150.7" fill="#9467bd" class="mk"/>
<use href="#m_s" x="347.7" y="149.8" fill="#9467bd" class="mk"/>
<use href="#m_s" x="348.3" y="149.2" fill="#9467bd" class="mk"/>
<use href="#m_d" x="462.0" y="32.2" fill="#17becf" class="mk"/>
<use href="#m_r" x="467.4" y="33.2" fill="#17becf" class="mk"/>
<use href="#m_d" x="462.8" y="36.2" fill="#17becf" class="mk"/>
<use href="#m_r" x="460.0" y="36.6" fill="#17becf" class="mk"/>
<use href="#m_d" x="459.4" y="31.4" fill="#17becf" class="mk"/>
<use href="#m_r" x="461.6" y="33.2" fill="#17becf" class="mk"/>
<use href="#m_d" x="467.0" y="36.1" fill="#17becf" class="mk"/>
<use href="#m_r" x="465.5" y="33.6" fill="#17becf" class="mk"/>
<use href="#m_d" x="463.4" y="32.5" fill="#17becf" class="mk"/>
<use href="#m_r" x="466.2" y="33.4" fill="#17becf" class="mk"/>
<use href="#m_d" x="460.9" y="34.8" fill="#17becf" class="mk"/>
<use href="#m_r" x="459.6" y="33.0" fill="#17becf" class="mk"/>
<use href="#m_d" x="467.1" y="31.7" fill="#17becf" class="mk"/>
<use href="#m_r" x="459.6" y="32.3" fill="#17becf" class="mk"/>
<use href="#m_p" x="453.9" y="42.6" fill="#17becf" class="mk"/>
<use href="#m_d" x="453.9" y="42.1" fill="#17becf" class="mk"/>
<use href="#m_p" x="453.8" y="41.5" fill="#17becf" class="mk"/>
<use href="#m_d" x="456.2" y="42.1" fill="#17becf" class="mk"/>
<use href="#m_p" x="454.7" y="44.5" fill="#17becf" class="mk"/>
<use href="#m_d" x="452.6" y="41.0" fill="#17becf" class="mk"/>
<use href="#m_p" x="457.8" y="42.6" fill="#17becf" class="mk"/>
<use href="#m_d" x="457.3" y="40.9" fill="#17becf" class="mk"/>
<use href="#m_p" x="455.7" y="44.9" fill="#17becf" class="mk"/>
<use href="#m_d" x="454.4" y="44.5" fill="#17becf" class="mk"/>
<use href="#m_p" x="456.2" y="42.4" fill="#17becf" class="mk"/>
<use href="#m_t" x="451.8" y="53.2" fill="#17becf" class="mk"/>
<use href="#m_s" x="449.9" y="54.9" fill="#17becf" class="mk"/>
<use href="#m_t" x="449.3" y="56.6" fill="#17becf" class="mk"/>
<use href="#m_s" x="450.4" y="54.7" fill="#17becf" class="mk"/>
<use href="#m_t" x="450.1" y="57.7" fill="#17becf" class="mk"/>
<use href="#m_s" x="451.8" y="56.6" fill="#17becf" class="mk"/>
<use href="#m_t" x="449.8" y="53.3" fill="#17becf" class="mk"/>
<use href="#m_s" x="450.1" y="50.6" fill="#17becf" class="mk"/>
<use href="#m_t" x="448.6" y="57.8" fill="#17becf" class="mk"/>
<use href="#m_s" x="448.7" y="57.3" fill="#17becf" class="mk"/>
<use href="#m_r" x="539.8" y="71.3" fill="#1f77b4" class="mk"/>
<use href="#m_d" x="532.2" y="67.9" fill="#1f77b4" class="mk"/>
<use href="#m_r" x="541.3" y="66.2" fill="#1f77b4" class="mk"/>
<use href="#m_d" x="532.5" y="68.2" fill="#1f77b4" class="mk"/>
<use href="#m_r" x="533.4" y="67.0" fill="#1f77b4" class="mk"/>
<use href="#m_d" x="539.6" y="66.7" fill="#1f77b4" class="mk"/>
<use href="#m_r" x="543.4" y="69.8" fill="#1f77b4" class="mk"/>
<use href="#m_d" x="531.8" y="71.2" fill="#1f77b4" class="mk"/>
<use href="#m_r" x="534.2" y="68.9" fill="#1f77b4" class="mk"/>
<use href="#m_d" x="538.2" y="67.0" fill="#1f77b4" class="mk"/>
<use href="#m_r" x="537.5" y="66.5" fill="#1f77b4" class="mk"/>
<use href="#m_d" x="533.7" y="71.3" fill="#1f77b4" class="mk"/>
<use href="#m_r" x="541.6" y="69.1" fill="#1f77b4" class="mk"/>
<use href="#m_d" x="539.8" y="71.1" fill="#1f77b4" class="mk"/>
<use href="#m_r" x="533.0" y="69.0" fill="#1f77b4" class="mk"/>
<use href="#m_d" x="532.9" y="66.9" fill="#1f77b4" class="mk"/>
<use href="#m_d" x="522.9" y="73.0" fill="#1f77b4" class="mk"/>
<use href="#m_p" x="522.0" y="73.1" fill="#1f77b4" class="mk"/>
<use href="#m_s" x="527.1" y="76.6" fill="#1f77b4" class="mk"/>
<use href="#m_d" x="534.6" y="79.0" fill="#1f77b4" class="mk"/>
<use href="#m_p" x="532.4" y="75.6" fill="#1f77b4" class="mk"/>
<use href="#m_s" x="535.5" y="72.6" fill="#1f77b4" class="mk"/>
<use href="#m_d" x="522.8" y="78.2" fill="#1f77b4" class="mk"/>
<use href="#m_p" x="531.0" y="73.0" fill="#1f77b4" class="mk"/>
<use href="#m_s" x="527.1" y="73.8" fill="#1f77b4" class="mk"/>
<use href="#m_d" x="527.9" y="74.9" fill="#1f77b4" class="mk"/>
<use href="#m_p" x="527.4" y="78.1" fill="#1f77b4" class="mk"/>
<use href="#m_s" x="533.9" y="76.0" fill="#1f77b4" class="mk"/>
<use href="#m_d" x="528.6" y="73.6" fill="#1f77b4" class="mk"/>
<use href="#m_p" x="533.1" y="79.7" fill="#1f77b4" class="mk"/>
<use href="#m_s" x="524.8" y="77.2" fill="#1f77b4" class="mk"/>
<use href="#m_d" x="532.1" y="76.9" fill="#1f77b4" class="mk"/>
<use href="#m_p" x="521.7" y="75.9" fill="#1f77b4" class="mk"/>
<use href="#m_s" x="524.4" y="72.9" fill="#1f77b4" class="mk"/>
<use href="#m_d" x="530.2" y="76.7" fill="#1f77b4" class="mk"/>
<use href="#m_p" x="531.0" y="77.6" fill="#1f77b4" class="mk"/>
<use href="#m_s" x="532.2" y="75.3" fill="#1f77b4" class="mk"/>
<use href="#m_d" x="521.9" y="77.8" fill="#1f77b4" class="mk"/>
<use href="#m_p" x="534.0" y="78.4" fill="#1f77b4" class="mk"/>
<use href="#m_s" x="530.5" y="71.5" fill="#1f77b4" class="mk"/>
<use href="#m_s" x="514.1" y="81.8" fill="#1f77b4" class="mk"/>
<use href="#m_o" x="518.3" y="84.2" fill="#1f77b4" class="mk"/>
<use href="#m_s" x="514.0" y="86.6" fill="#1f77b4" class="mk"/>
<use href="#m_o" x="521.6" y="86.2" fill="#1f77b4" class="mk"/>
<use href="#m_s" x="516.7" y="82.8" fill="#1f77b4" class="mk"/>
<use href="#m_o" x="514.2" y="85.8" fill="#1f77b4" class="mk"/>
<use href="#m_s" x="518.9" y="82.8" fill="#1f77b4" class="mk"/>
<use href="#m_o" x="520.9" y="84.4" fill="#1f77b4" class="mk"/>
<use href="#m_s" x="516.2" y="83.5" fill="#1f77b4" class="mk"/>
<use href="#m_o" x="519.1" y="83.8" fill="#1f77b4" class="mk"/>
<use href="#m_s" x="518.5" y="81.9" fill="#1f77b4" class="mk"/>
<use href="#m_o" x="518.9" y="82.7" fill="#1f77b4" class="mk"/>
<use href="#m_s" x="520.9" y="82.4" fill="#1f77b4" class="mk"/>
<use href="#m_o" x="515.4" y="84.2" fill="#1f77b4" class="mk"/>
<use href="#m_d" x="501.6" y="135.1" fill="#d62728" class="mk"/>
<use href="#m_p" x="506.1" y="133.9" fill="#d62728" class="mk"/>
<use href="#m_d" x="504.8" y="135.7" fill="#d62728" class="mk"/>
<use href="#m_p" x="505.0" y="134.8" fill="#d62728" class="mk"/>
<use href="#m_d" x="502.1" y="134.4" fill="#d62728" class="mk"/>
<use href="#m_p" x="502.3" y="134.1" fill="#d62728" class="mk"/>
<use href="#m_d" x="499.8" y="134.9" fill="#d62728" class="mk"/>
<use href="#m_p" x="499.9" y="134.9" fill="#d62728" class="mk"/>
<use href="#m_d" x="503.1" y="134.3" fill="#d62728" class="mk"/>
<use href="#m_p" x="499.7" y="135.4" fill="#d62728" class="mk"/>
<use href="#m_d" x="505.6" y="134.0" fill="#d62728" class="mk"/>
<use href="#m_t" x="521.6" y="136.9" fill="#d62728" class="mk"/>
<use href="#m_p" x="525.2" y="137.1" fill="#d62728" class="mk"/>
<use href="#m_d" x="517.4" y="133.0" fill="#d62728" class="mk"/>
<use href="#m_t" x="524.6" y="133.8" fill="#d62728" class="mk"/>
<use href="#m_p" x="513.4" y="138.7" fill="#d62728" class="mk"/>
<use href="#m_d" x="515.9" y="133.9" fill="#d62728" class="mk"/>
<use href="#m_t" x="517.5" y="133.4" fill="#d62728" class="mk"/>
<use href="#m_p" x="523.0" y="134.1" fill="#d62728" class="mk"/>
<use href="#m_d" x="519.2" y="134.8" fill="#d62728" class="mk"/>
<use href="#m_t" x="524.5" y="131.4" fill="#d62728" class="mk"/>
<use href="#m_p" x="521.1" y="132.3" fill="#d62728" class="mk"/>
<use href="#m_d" x="515.2" y="136.4" fill="#d62728" class="mk"/>
<use href="#m_t" x="518.3" y="131.8" fill="#d62728" class="mk"/>
<use href="#m_p" x="521.2" y="139.1" fill="#d62728" class="mk"/>
<use href="#m_d" x="522.0" y="135.5" fill="#d62728" class="mk"/>
<use href="#m_t" x="524.1" y="139.1" fill="#d62728" class="mk"/>
<use href="#m_p" x="515.3" y="133.8" fill="#d62728" class="mk"/>
<use href="#m_d" x="526.3" y="139.2" fill="#d62728" class="mk"/>
<use href="#m_t" x="516.0" y="137.3" fill="#d62728" class="mk"/>
<use href="#m_p" x="525.1" y="136.3" fill="#d62728" class="mk"/>
<use href="#m_d" x="522.8" y="135.7" fill="#d62728" class="mk"/>
<use href="#m_t" x="535.2" y="124.0" fill="#d62728" class="mk"/>
<use href="#m_r" x="533.7" y="125.6" fill="#d62728" class="mk"/>
<use href="#m_t" x="534.4" y="125.4" fill="#d62728" class="mk"/>
<use href="#m_r" x="536.6" y="124.8" fill="#d62728" class="mk"/>
<use href="#m_t" x="541.5" y="124.6" fill="#d62728" class="mk"/>
<use href="#m_r" x="537.3" y="124.6" fill="#d62728" class="mk"/>
<use href="#m_t" x="535.0" y="124.0" fill="#d62728" class="mk"/>
<use href="#m_r" x="537.8" y="126.1" fill="#d62728" class="mk"/>
<use href="#m_t" x="534.0" y="126.6" fill="#d62728" class="mk"/>
<use href="#m_r" x="539.0" y="123.4" fill="#d62728" class="mk"/>
<use href="#m_t" x="539.3" y="124.6" fill="#d62728" class="mk"/>
<use href="#m_d" x="539.2" y="132.0" fill="#d62728" class="mk"/>
<use href="#m_r" x="539.2" y="135.2" fill="#d62728" class="mk"/>
<use href="#m_d" x="543.4" y="135.6" fill="#d62728" class="mk"/>
<use href="#m_r" x="542.2" y="136.8" fill="#d62728" class="mk"/>
<use href="#m_d" x="534.6" y="131.4" fill="#d62728" class="mk"/>
<use href="#m_r" x="538.7" y="132.2" fill="#d62728" class="mk"/>
<use href="#m_d" x="533.4" y="133.6" fill="#d62728" class="mk"/>
<use href="#m_r" x="539.6" y="135.9" fill="#d62728" class="mk"/>
<use href="#m_d" x="541.3" y="138.4" fill="#d62728" class="mk"/>
<use href="#m_r" x="532.8" y="135.4" fill="#d62728" class="mk"/>
<use href="#m_d" x="532.6" y="136.3" fill="#d62728" class="mk"/>
<use href="#m_r" x="538.0" y="132.3" fill="#d62728" class="mk"/>
<use href="#m_d" x="536.0" y="136.2" fill="#d62728" class="mk"/>
<use href="#m_r" x="538.6" y="138.4" fill="#d62728" class="mk"/>
<use href="#m_d" x="536.7" y="133.8" fill="#d62728" class="mk"/>
<use href="#m_r" x="545.6" y="135.8" fill="#d62728" class="mk"/>
<use href="#m_d" x="532.9" y="137.2" fill="#d62728" class="mk"/>
<use href="#m_r" x="536.9" y="138.4" fill="#d62728" class="mk"/>
<use href="#m_d" x="541.1" y="137.3" fill="#d62728" class="mk"/>
<use href="#m_r" x="545.2" y="135.1" fill="#d62728" class="mk"/>
<use href="#m_d" x="546.3" y="131.4" fill="#d62728" class="mk"/>
<use href="#m_r" x="536.5" y="137.6" fill="#d62728" class="mk"/>
<use href="#m_t" x="551.2" y="141.3" fill="#d62728" class="mk"/>
<use href="#m_t" x="553.8" y="141.5" fill="#d62728" class="mk"/>
<use href="#m_t" x="553.4" y="138.6" fill="#d62728" class="mk"/>
<use href="#m_t" x="552.6" y="141.0" fill="#d62728" class="mk"/>
<use href="#m_t" x="552.3" y="140.1" fill="#d62728" class="mk"/>
<use href="#m_t" x="553.3" y="138.9" fill="#d62728" class="mk"/>
<use href="#m_t" x="551.3" y="140.9" fill="#d62728" class="mk"/>
<use href="#m_s" x="488.6" y="146.0" fill="#d62728" class="mk"/>
<use href="#m_s" x="487.3" y="143.6" fill="#d62728" class="mk"/>
<use href="#m_s" x="488.4" y="142.4" fill="#d62728" class="mk"/>
<use href="#m_s" x="485.3" y="145.8" fill="#d62728" class="mk"/>
<use href="#m_s" x="488.3" y="144.1" fill="#d62728" class="mk"/>
<use href="#m_s" x="488.4" y="142.7" fill="#d62728" class="mk"/>
<use href="#m_s" x="486.9" y="142.5" fill="#d62728" class="mk"/>
<use href="#m_s" x="485.3" y="143.1" fill="#d62728" class="mk"/>
<use href="#m_s" x="484.2" y="144.1" fill="#d62728" class="mk"/>
<use href="#m_t" x="470.5" y="149.5" fill="#d62728" class="mk"/>
<use href="#m_t" x="471.2" y="148.4" fill="#d62728" class="mk"/>
<use href="#m_t" x="470.6" y="150.6" fill="#d62728" class="mk"/>
<use href="#m_t" x="470.1" y="152.4" fill="#d62728" class="mk"/>
<use href="#m_t" x="468.8" y="150.2" fill="#d62728" class="mk"/>
<use href="#m_t" x="470.3" y="149.9" fill="#d62728" class="mk"/>
<use href="#m_t" x="472.7" y="150.8" fill="#d62728" class="mk"/>
<use href="#m_t" x="470.6" y="150.2" fill="#d62728" class="mk"/>
<use href="#m_t" x="470.2" y="152.6" fill="#d62728" class="mk"/>
<use href="#m_o" x="459.1" y="158.5" fill="#d62728" class="mk"/>
<use href="#m_o" x="456.8" y="158.3" fill="#d62728" class="mk"/>
<use href="#m_o" x="456.7" y="157.5" fill="#d62728" class="mk"/>
<use href="#m_o" x="456.3" y="158.7" fill="#d62728" class="mk"/>
<use href="#m_o" x="459.7" y="158.5" fill="#d62728" class="mk"/>
<use href="#m_o" x="458.3" y="157.1" fill="#d62728" class="mk"/>
<use href="#m_o" x="457.8" y="157.9" fill="#d62728" class="mk"/>
<use href="#m_s" x="444.7" y="167.4" fill="#d62728" class="mk"/>
<use href="#m_s" x="444.0" y="167.7" fill="#d62728" class="mk"/>
<use href="#m_s" x="446.6" y="167.7" fill="#d62728" class="mk"/>
<use href="#m_s" x="445.4" y="167.2" fill="#d62728" class="mk"/>
<use href="#m_s" x="444.3" y="167.7" fill="#d62728" class="mk"/>
<use href="#m_o" x="449.7" y="178.1" fill="#d62728" class="mk"/>
<use href="#m_o" x="447.8" y="178.3" fill="#d62728" class="mk"/>
<use href="#m_o" x="446.3" y="178.3" fill="#d62728" class="mk"/>
<use href="#m_o" x="446.9" y="178.6" fill="#d62728" class="mk"/>
<use href="#m_o" x="447.3" y="178.3" fill="#d62728" class="mk"/>
<use href="#m_o" x="447.8" y="178.1" fill="#d62728" class="mk"/>
<use href="#m_o" x="439.5" y="188.0" fill="#7f7f7f" class="mk"/>
<use href="#m_o" x="439.5" y="188.0" fill="#7f7f7f" class="mk"/>
<use href="#m_s" x="422.0" y="164.4" fill="#bcbd22" class="mk"/>
<use href="#m_s" x="422.4" y="163.6" fill="#bcbd22" class="mk"/>
<use href="#m_s" x="422.7" y="161.6" fill="#bcbd22" class="mk"/>
<use href="#m_s" x="422.2" y="163.4" fill="#bcbd22" class="mk"/>
<use href="#m_s" x="421.9" y="164.7" fill="#bcbd22" class="mk"/>
<use href="#m_s" x="422.7" y="162.6" fill="#bcbd22" class="mk"/>
<use href="#m_s" x="424.8" y="178.2" fill="#bcbd22" class="mk"/>
<use href="#m_s" x="425.0" y="177.1" fill="#bcbd22" class="mk"/>
<use href="#m_s" x="425.3" y="177.1" fill="#bcbd22" class="mk"/>
<use href="#m_s" x="423.6" y="177.9" fill="#bcbd22" class="mk"/>
<use href="#m_s" x="424.9" y="177.3" fill="#bcbd22" class="mk"/>
<use href="#m_s" x="424.5" y="178.8" fill="#bcbd22" class="mk"/>
<use href="#m_o" x="394.1" y="172.7" fill="#9467bd" class="mk"/>
<use href="#m_o" x="394.5" y="173.3" fill="#9467bd" class="mk"/>
<use href="#m_o" x="392.7" y="173.5" fill="#9467bd" class="mk"/>
<use href="#m_o" x="394.0" y="174.4" fill="#9467bd" class="mk"/>
<use href="#m_o" x="393.6" y="173.6" fill="#9467bd" class="mk"/>
<use href="#m_o" x="392.6" y="171.3" fill="#9467bd" class="mk"/>
<use href="#m_o" x="392.8" y="171.6" fill="#9467bd" class="mk"/>
<use href="#m_o" x="410.6" y="179.8" fill="#bcbd22" class="mk"/>
<use href="#m_o" x="409.4" y="180.4" fill="#bcbd22" class="mk"/>
<use href="#m_o" x="407.8" y="180.5" fill="#bcbd22" class="mk"/>
<use href="#m_o" x="408.4" y="179.3" fill="#bcbd22" class="mk"/>
<use href="#m_o" x="409.4" y="179.8" fill="#bcbd22" class="mk"/>
<use href="#m_o" x="410.5" y="179.9" fill="#bcbd22" class="mk"/>
<use href="#m_o" x="426.5" y="190.2" fill="#bcbd22" class="mk"/>
<use href="#m_o" x="426.3" y="191.5" fill="#bcbd22" class="mk"/>
<use href="#m_o" x="428.8" y="190.3" fill="#bcbd22" class="mk"/>
<use href="#m_o" x="427.4" y="191.4" fill="#bcbd22" class="mk"/>
<use href="#m_o" x="429.4" y="192.7" fill="#bcbd22" class="mk"/>
<use href="#m_o" x="429.4" y="191.9" fill="#bcbd22" class="mk"/>
<use href="#m_o" x="385.0" y="200.2" fill="#ff7f0e" class="mk"/>
<use href="#m_o" x="385.2" y="200.0" fill="#ff7f0e" class="mk"/>
<use href="#m_o" x="383.2" y="203.0" fill="#ff7f0e" class="mk"/>
<use href="#m_o" x="384.9" y="202.5" fill="#ff7f0e" class="mk"/>
<use href="#m_o" x="384.3" y="200.5" fill="#ff7f0e" class="mk"/>
<use href="#m_o" x="384.5" y="201.8" fill="#ff7f0e" class="mk"/>
<use href="#m_o" x="382.8" y="203.1" fill="#ff7f0e" class="mk"/>
<use href="#m_o" x="387.7" y="200.0" fill="#ff7f0e" class="mk"/>
<use href="#m_o" x="382.8" y="202.9" fill="#ff7f0e" class="mk"/>
<use href="#m_o" x="386.0" y="200.2" fill="#ff7f0e" class="mk"/>
<use href="#m_t" x="391.7" y="210.6" fill="#ff7f0e" class="mk"/>
<use href="#m_t" x="393.8" y="211.1" fill="#ff7f0e" class="mk"/>
<use href="#m_t" x="391.1" y="210.5" fill="#ff7f0e" class="mk"/>
<use href="#m_t" x="390.3" y="211.0" fill="#ff7f0e" class="mk"/>
<use href="#m_t" x="389.9" y="210.5" fill="#ff7f0e" class="mk"/>
<use href="#m_t" x="388.7" y="211.3" fill="#ff7f0e" class="mk"/>
<use href="#m_t" x="394.2" y="211.6" fill="#ff7f0e" class="mk"/>
<use href="#m_t" x="391.9" y="211.5" fill="#ff7f0e" class="mk"/>
<use href="#m_s" x="405.4" y="207.3" fill="#ff7f0e" class="mk"/>
<use href="#m_s" x="406.3" y="207.2" fill="#ff7f0e" class="mk"/>
<use href="#m_s" x="405.3" y="207.7" fill="#ff7f0e" class="mk"/>
<use href="#m_s" x="405.5" y="207.3" fill="#ff7f0e" class="mk"/>
<use href="#m_o" x="406.6" y="223.2" fill="#9a6a3c" class="mk"/>
<use href="#m_o" x="405.2" y="223.4" fill="#9a6a3c" class="mk"/>
<use href="#m_o" x="406.3" y="222.3" fill="#9a6a3c" class="mk"/>
<use href="#m_o" x="406.9" y="220.6" fill="#9a6a3c" class="mk"/>
<use href="#m_o" x="408.6" y="220.8" fill="#9a6a3c" class="mk"/>
<use href="#m_o" x="408.1" y="223.4" fill="#9a6a3c" class="mk"/>
<use href="#m_o" x="406.8" y="223.7" fill="#9a6a3c" class="mk"/>
<use href="#m_s" x="424.5" y="215.0" fill="#9a6a3c" class="mk"/>
<use href="#m_s" x="426.4" y="214.6" fill="#9a6a3c" class="mk"/>
<use href="#m_s" x="427.9" y="217.1" fill="#9a6a3c" class="mk"/>
<use href="#m_s" x="427.9" y="215.8" fill="#9a6a3c" class="mk"/>
<use href="#m_s" x="424.3" y="219.2" fill="#9a6a3c" class="mk"/>
<use href="#m_s" x="425.2" y="216.5" fill="#9a6a3c" class="mk"/>
<use href="#m_s" x="424.8" y="217.5" fill="#9a6a3c" class="mk"/>
<use href="#m_s" x="426.3" y="215.3" fill="#9a6a3c" class="mk"/>
<use href="#m_s" x="424.4" y="216.1" fill="#9a6a3c" class="mk"/>
<use href="#m_t" x="431.2" y="230.2" fill="#9a6a3c" class="mk"/>
<use href="#m_t" x="426.9" y="233.3" fill="#9a6a3c" class="mk"/>
<use href="#m_t" x="430.0" y="234.5" fill="#9a6a3c" class="mk"/>
<use href="#m_t" x="430.1" y="234.8" fill="#9a6a3c" class="mk"/>
<use href="#m_t" x="426.4" y="235.3" fill="#9a6a3c" class="mk"/>
<use href="#m_t" x="425.4" y="230.0" fill="#9a6a3c" class="mk"/>
<use href="#m_t" x="426.0" y="234.3" fill="#9a6a3c" class="mk"/>
<use href="#m_t" x="429.0" y="235.3" fill="#9a6a3c" class="mk"/>
<use href="#m_t" x="432.6" y="235.5" fill="#9a6a3c" class="mk"/>
<use href="#m_t" x="429.9" y="231.5" fill="#9a6a3c" class="mk"/>
<use href="#m_t" x="432.5" y="234.0" fill="#9a6a3c" class="mk"/>
<use href="#m_t" x="426.7" y="232.9" fill="#9a6a3c" class="mk"/>
<use href="#m_t" x="425.4" y="229.3" fill="#9a6a3c" class="mk"/>
<use href="#m_d" x="377.9" y="246.8" fill="#ff7f0e" class="mk"/>
<use href="#m_p" x="380.9" y="247.2" fill="#ff7f0e" class="mk"/>
<use href="#m_r" x="371.1" y="247.0" fill="#ff7f0e" class="mk"/>
<use href="#m_d" x="382.5" y="246.4" fill="#ff7f0e" class="mk"/>
<use href="#m_p" x="375.7" y="242.3" fill="#ff7f0e" class="mk"/>
<use href="#m_r" x="370.1" y="245.8" fill="#ff7f0e" class="mk"/>
<use href="#m_d" x="382.3" y="240.4" fill="#ff7f0e" class="mk"/>
<use href="#m_p" x="380.4" y="248.7" fill="#ff7f0e" class="mk"/>
<use href="#m_r" x="374.0" y="248.2" fill="#ff7f0e" class="mk"/>
<use href="#m_d" x="371.3" y="242.4" fill="#ff7f0e" class="mk"/>
<use href="#m_p" x="376.9" y="248.5" fill="#ff7f0e" class="mk"/>
<use href="#m_r" x="376.5" y="240.1" fill="#ff7f0e" class="mk"/>
<use href="#m_d" x="381.8" y="245.3" fill="#ff7f0e" class="mk"/>
<use href="#m_p" x="379.8" y="241.6" fill="#ff7f0e" class="mk"/>
<use href="#m_r" x="373.8" y="240.2" fill="#ff7f0e" class="mk"/>
<use href="#m_d" x="371.7" y="243.8" fill="#ff7f0e" class="mk"/>
<use href="#m_p" x="374.8" y="246.2" fill="#ff7f0e" class="mk"/>
<use href="#m_r" x="380.5" y="242.7" fill="#ff7f0e" class="mk"/>
<use href="#m_d" x="381.8" y="246.1" fill="#ff7f0e" class="mk"/>
<use href="#m_p" x="373.9" y="241.2" fill="#ff7f0e" class="mk"/>
<use href="#m_r" x="382.2" y="246.2" fill="#ff7f0e" class="mk"/>
<use href="#m_d" x="369.8" y="246.5" fill="#ff7f0e" class="mk"/>
<use href="#m_p" x="374.3" y="243.7" fill="#ff7f0e" class="mk"/>
<use href="#m_r" x="379.6" y="241.6" fill="#ff7f0e" class="mk"/>
<use href="#m_d" x="411.4" y="249.4" fill="#9a6a3c" class="mk"/>
<use href="#m_t" x="421.3" y="245.0" fill="#9a6a3c" class="mk"/>
<use href="#m_p" x="420.2" y="251.1" fill="#9a6a3c" class="mk"/>
<use href="#m_d" x="410.0" y="250.6" fill="#9a6a3c" class="mk"/>
<use href="#m_t" x="416.9" y="251.0" fill="#9a6a3c" class="mk"/>
<use href="#m_p" x="415.6" y="247.2" fill="#9a6a3c" class="mk"/>
<use href="#m_d" x="415.0" y="246.5" fill="#9a6a3c" class="mk"/>
<use href="#m_t" x="414.3" y="248.1" fill="#9a6a3c" class="mk"/>
<use href="#m_p" x="408.9" y="246.4" fill="#9a6a3c" class="mk"/>
<use href="#m_d" x="412.6" y="248.0" fill="#9a6a3c" class="mk"/>
<use href="#m_t" x="416.0" y="251.4" fill="#9a6a3c" class="mk"/>
<use href="#m_p" x="411.2" y="249.5" fill="#9a6a3c" class="mk"/>
<use href="#m_d" x="412.5" y="246.4" fill="#9a6a3c" class="mk"/>
<use href="#m_t" x="409.4" y="253.4" fill="#9a6a3c" class="mk"/>
<use href="#m_p" x="421.7" y="252.2" fill="#9a6a3c" class="mk"/>
<use href="#m_d" x="409.9" y="245.6" fill="#9a6a3c" class="mk"/>
<use href="#m_t" x="408.8" y="247.1" fill="#9a6a3c" class="mk"/>
<use href="#m_p" x="413.8" y="244.3" fill="#9a6a3c" class="mk"/>
<use href="#m_d" x="413.8" y="250.8" fill="#9a6a3c" class="mk"/>
<use href="#m_t" x="420.2" y="246.0" fill="#9a6a3c" class="mk"/>
<use href="#m_p" x="407.2" y="251.8" fill="#9a6a3c" class="mk"/>
<use href="#m_d" x="413.1" y="247.2" fill="#9a6a3c" class="mk"/>
<use href="#m_t" x="409.6" y="246.8" fill="#9a6a3c" class="mk"/>
<use href="#m_p" x="411.4" y="246.7" fill="#9a6a3c" class="mk"/>
<use href="#m_d" x="410.8" y="249.2" fill="#9a6a3c" class="mk"/>
<use href="#m_o" x="468.1" y="206.0" fill="#e377c2" class="mk"/>
<use href="#m_o" x="466.7" y="206.5" fill="#e377c2" class="mk"/>
<use href="#m_o" x="468.2" y="207.2" fill="#e377c2" class="mk"/>
<use href="#m_o" x="468.7" y="205.7" fill="#e377c2" class="mk"/>
<use href="#m_o" x="468.1" y="206.0" fill="#e377c2" class="mk"/>
<use href="#m_o" x="467.3" y="206.6" fill="#e377c2" class="mk"/>
<use href="#m_s" x="485.3" y="204.0" fill="#e377c2" class="mk"/>
<use href="#m_s" x="483.5" y="202.2" fill="#e377c2" class="mk"/>
<use href="#m_s" x="486.5" y="207.2" fill="#e377c2" class="mk"/>
<use href="#m_s" x="484.9" y="202.7" fill="#e377c2" class="mk"/>
<use href="#m_s" x="486.2" y="205.0" fill="#e377c2" class="mk"/>
<use href="#m_s" x="484.9" y="205.8" fill="#e377c2" class="mk"/>
<use href="#m_s" x="483.8" y="203.4" fill="#e377c2" class="mk"/>
<use href="#m_s" x="486.1" y="206.3" fill="#e377c2" class="mk"/>
<use href="#m_s" x="486.7" y="204.6" fill="#e377c2" class="mk"/>
<use href="#m_t" x="500.6" y="210.5" fill="#e377c2" class="mk"/>
<use href="#m_t" x="497.1" y="210.5" fill="#e377c2" class="mk"/>
<use href="#m_t" x="494.4" y="208.4" fill="#e377c2" class="mk"/>
<use href="#m_t" x="499.4" y="208.6" fill="#e377c2" class="mk"/>
<use href="#m_t" x="497.1" y="210.1" fill="#e377c2" class="mk"/>
<use href="#m_t" x="498.4" y="208.8" fill="#e377c2" class="mk"/>
<use href="#m_t" x="499.2" y="208.3" fill="#e377c2" class="mk"/>
<use href="#m_t" x="497.5" y="210.5" fill="#e377c2" class="mk"/>
<use href="#m_t" x="497.4" y="209.0" fill="#e377c2" class="mk"/>
<use href="#m_d" x="525.8" y="213.0" fill="#e377c2" class="mk"/>
<use href="#m_p" x="522.1" y="214.1" fill="#e377c2" class="mk"/>
<use href="#m_r" x="524.7" y="212.0" fill="#e377c2" class="mk"/>
<use href="#m_d" x="522.7" y="211.5" fill="#e377c2" class="mk"/>
<use href="#m_p" x="512.7" y="210.0" fill="#e377c2" class="mk"/>
<use href="#m_r" x="512.8" y="208.4" fill="#e377c2" class="mk"/>
<use href="#m_d" x="519.1" y="210.8" fill="#e377c2" class="mk"/>
<use href="#m_p" x="524.2" y="208.5" fill="#e377c2" class="mk"/>
<use href="#m_r" x="522.0" y="209.5" fill="#e377c2" class="mk"/>
<use href="#m_d" x="513.9" y="210.1" fill="#e377c2" class="mk"/>
<use href="#m_p" x="525.0" y="212.5" fill="#e377c2" class="mk"/>
<use href="#m_r" x="516.4" y="209.4" fill="#e377c2" class="mk"/>
<use href="#m_d" x="509.0" y="210.6" fill="#e377c2" class="mk"/>
<use href="#m_p" x="525.3" y="211.1" fill="#e377c2" class="mk"/>
<use href="#m_r" x="520.1" y="214.0" fill="#e377c2" class="mk"/>
<use href="#m_d" x="509.0" y="210.3" fill="#e377c2" class="mk"/>
<use href="#m_p" x="515.6" y="209.7" fill="#e377c2" class="mk"/>
<use href="#m_r" x="514.9" y="212.7" fill="#e377c2" class="mk"/>
<use href="#m_d" x="510.6" y="212.8" fill="#e377c2" class="mk"/>
<use href="#m_p" x="513.4" y="212.5" fill="#e377c2" class="mk"/>
<use href="#m_r" x="511.3" y="213.4" fill="#e377c2" class="mk"/>
<use href="#m_d" x="515.6" y="213.7" fill="#e377c2" class="mk"/>
<line x1="32.40" y1="338.60" x2="32.40" y2="584.40" stroke="#dcdcdc" stroke-width="0.9" />
<line x1="43.59" y1="338.60" x2="43.59" y2="584.40" stroke="#dcdcdc" stroke-width="0.9" />
<line x1="54.78" y1="338.60" x2="54.78" y2="584.40" stroke="#dcdcdc" stroke-width="0.9" />
<line x1="65.97" y1="338.60" x2="65.97" y2="584.40" stroke="#dcdcdc" stroke-width="0.9" />
<line x1="77.16" y1="338.60" x2="77.16" y2="584.40" stroke="#dcdcdc" stroke-width="0.9" />
<line x1="88.35" y1="338.60" x2="88.35" y2="584.40" stroke="#dcdcdc" stroke-width="0.9" />
<line x1="99.55" y1="338.60" x2="99.55" y2="584.40" stroke="#dcdcdc" stroke-width="0.9" />
<line x1="110.74" y1="338.60" x2="110.74" y2="584.40" stroke="#dcdcdc" stroke-width="0.9" />
<line x1="121.93" y1="338.60" x2="121.93" y2="584.40" stroke="#dcdcdc" stroke-width="0.9" />
<line x1="133.12" y1="338.60" x2="133.12" y2="584.40" stroke="#dcdcdc" stroke-width="0.9" />
<line x1="144.31" y1="338.60" x2="144.31" y2="584.40" stroke="#dcdcdc" stroke-width="0.9" />
<line x1="155.50" y1="338.60" x2="155.50" y2="584.40" stroke="#dcdcdc" stroke-width="0.9" />
<line x1="166.69" y1="338.60" x2="166.69" y2="584.40" stroke="#dcdcdc" stroke-width="0.9" />
<line x1="177.88" y1="338.60" x2="177.88" y2="584.40" stroke="#dcdcdc" stroke-width="0.9" />
<line x1="189.07" y1="338.60" x2="189.07" y2="584.40" stroke="#dcdcdc" stroke-width="0.9" />
<line x1="200.26" y1="338.60" x2="200.26" y2="584.40" stroke="#dcdcdc" stroke-width="0.9" />
<line x1="211.45" y1="338.60" x2="211.45" y2="584.40" stroke="#dcdcdc" stroke-width="0.9" />
<line x1="222.65" y1="338.60" x2="222.65" y2="584.40" stroke="#dcdcdc" stroke-width="0.9" />
<line x1="233.84" y1="338.60" x2="233.84" y2="584.40" stroke="#dcdcdc" stroke-width="0.9" />
<line x1="245.03" y1="338.60" x2="245.03" y2="584.40" stroke="#dcdcdc" stroke-width="0.9" />
<line x1="256.22" y1="338.60" x2="256.22" y2="584.40" stroke="#dcdcdc" stroke-width="0.9" />
<line x1="267.41" y1="338.60" x2="267.41" y2="584.40" stroke="#dcdcdc" stroke-width="0.9" />
<line x1="278.60" y1="338.60" x2="278.60" y2="584.40" stroke="#dcdcdc" stroke-width="0.9" />
<line x1="32.40" y1="584.40" x2="278.60" y2="584.40" stroke="#dcdcdc" stroke-width="0.9" />
<line x1="32.40" y1="574.16" x2="278.60" y2="574.16" stroke="#dcdcdc" stroke-width="0.9" />
<line x1="32.40" y1="563.92" x2="278.60" y2="563.92" stroke="#dcdcdc" stroke-width="0.9" />
<line x1="32.40" y1="553.67" x2="278.60" y2="553.67" stroke="#dcdcdc" stroke-width="0.9" />
<line x1="32.40" y1="543.43" x2="278.60" y2="543.43" stroke="#dcdcdc" stroke-width="0.9" />
<line x1="32.40" y1="533.19" x2="278.60" y2="533.19" stroke="#dcdcdc" stroke-width="0.9" />
<line x1="32.40" y1="522.95" x2="278.60" y2="522.95" stroke="#dcdcdc" stroke-width="0.9" />
<line x1="32.40" y1="512.71" x2="278.60" y2="512.71" stroke="#dcdcdc" stroke-width="0.9" />
<line x1="32.40" y1="502.47" x2="278.60" y2="502.47" stroke="#dcdcdc" stroke-width="0.9" />
<line x1="32.40" y1="492.23" x2="278.60" y2="492.23" stroke="#dcdcdc" stroke-width="0.9" />
<line x1="32.40" y1="481.98" x2="278.60" y2="481.98" stroke="#dcdcdc" stroke-width="0.9" />
<line x1="32.40" y1="471.74" x2="278.60" y2="471.74" stroke="#dcdcdc" stroke-width="0.9" />
<line x1="32.40" y1="461.50" x2="278.60" y2="461.50" stroke="#dcdcdc" stroke-width="0.9" />
<line x1="32.40" y1="451.26" x2="278.60" y2="451.26" stroke="#dcdcdc" stroke-width="0.9" />
<line x1="32.40" y1="441.02" x2="278.60" y2="441.02" stroke="#dcdcdc" stroke-width="0.9" />
<line x1="32.40" y1="430.77" x2="278.60" y2="430.77" stroke="#dcdcdc" stroke-width="0.9" />
<line x1="32.40" y1="420.53" x2="278.60" y2="420.53" stroke="#dcdcdc" stroke-width="0.9" />
<line x1="32.40" y1="410.29" x2="278.60" y2="410.29" stroke="#dcdcdc" stroke-width="0.9" />
<line x1="32.40" y1="400.05" x2="278.60" y2="400.05" stroke="#dcdcdc" stroke-width="0.9" />
<line x1="32.40" y1="389.81" x2="278.60" y2="389.81" stroke="#dcdcdc" stroke-width="0.9" />
<line x1="32.40" y1="379.57" x2="278.60" y2="379.57" stroke="#dcdcdc" stroke-width="0.9" />
<line x1="32.40" y1="369.33" x2="278.60" y2="369.33" stroke="#dcdcdc" stroke-width="0.9" />
<line x1="32.40" y1="359.08" x2="278.60" y2="359.08" stroke="#dcdcdc" stroke-width="0.9" />
<line x1="32.40" y1="348.84" x2="278.60" y2="348.84" stroke="#dcdcdc" stroke-width="0.9" />
<line x1="32.40" y1="338.60" x2="278.60" y2="338.60" stroke="#dcdcdc" stroke-width="0.9" />
<line x1="32.40" y1="338.60" x2="278.60" y2="338.60" stroke="#dcdcdc" stroke-width="1.0" />
<line x1="278.60" y1="338.60" x2="278.60" y2="584.40" stroke="#dcdcdc" stroke-width="1.0" />
<line x1="32.40" y1="584.40" x2="32.40" y2="586.40" stroke="#a8a8a8" stroke-width="0.9" />
<line x1="43.59" y1="584.40" x2="43.59" y2="586.40" stroke="#a8a8a8" stroke-width="0.9" />
<line x1="54.78" y1="584.40" x2="54.78" y2="586.40" stroke="#a8a8a8" stroke-width="0.9" />
<line x1="65.97" y1="584.40" x2="65.97" y2="586.40" stroke="#a8a8a8" stroke-width="0.9" />
<line x1="77.16" y1="584.40" x2="77.16" y2="586.40" stroke="#a8a8a8" stroke-width="0.9" />
<line x1="88.35" y1="584.40" x2="88.35" y2="586.40" stroke="#a8a8a8" stroke-width="0.9" />
<line x1="99.55" y1="584.40" x2="99.55" y2="586.40" stroke="#a8a8a8" stroke-width="0.9" />
<line x1="110.74" y1="584.40" x2="110.74" y2="586.40" stroke="#a8a8a8" stroke-width="0.9" />
<line x1="121.93" y1="584.40" x2="121.93" y2="586.40" stroke="#a8a8a8" stroke-width="0.9" />
<line x1="133.12" y1="584.40" x2="133.12" y2="586.40" stroke="#a8a8a8" stroke-width="0.9" />
<line x1="144.31" y1="584.40" x2="144.31" y2="586.40" stroke="#a8a8a8" stroke-width="0.9" />
<line x1="155.50" y1="584.40" x2="155.50" y2="586.40" stroke="#a8a8a8" stroke-width="0.9" />
<line x1="166.69" y1="584.40" x2="166.69" y2="586.40" stroke="#a8a8a8" stroke-width="0.9" />
<line x1="177.88" y1="584.40" x2="177.88" y2="586.40" stroke="#a8a8a8" stroke-width="0.9" />
<line x1="189.07" y1="584.40" x2="189.07" y2="586.40" stroke="#a8a8a8" stroke-width="0.9" />
<line x1="200.26" y1="584.40" x2="200.26" y2="586.40" stroke="#a8a8a8" stroke-width="0.9" />
<line x1="211.45" y1="584.40" x2="211.45" y2="586.40" stroke="#a8a8a8" stroke-width="0.9" />
<line x1="222.65" y1="584.40" x2="222.65" y2="586.40" stroke="#a8a8a8" stroke-width="0.9" />
<line x1="233.84" y1="584.40" x2="233.84" y2="586.40" stroke="#a8a8a8" stroke-width="0.9" />
<line x1="245.03" y1="584.40" x2="245.03" y2="586.40" stroke="#a8a8a8" stroke-width="0.9" />
<line x1="256.22" y1="584.40" x2="256.22" y2="586.40" stroke="#a8a8a8" stroke-width="0.9" />
<line x1="267.41" y1="584.40" x2="267.41" y2="586.40" stroke="#a8a8a8" stroke-width="0.9" />
<line x1="278.60" y1="584.40" x2="278.60" y2="586.40" stroke="#a8a8a8" stroke-width="0.9" />
<line x1="30.40" y1="584.40" x2="32.40" y2="584.40" stroke="#a8a8a8" stroke-width="0.9" />
<line x1="30.40" y1="574.16" x2="32.40" y2="574.16" stroke="#a8a8a8" stroke-width="0.9" />
<line x1="30.40" y1="563.92" x2="32.40" y2="563.92" stroke="#a8a8a8" stroke-width="0.9" />
<line x1="30.40" y1="553.67" x2="32.40" y2="553.67" stroke="#a8a8a8" stroke-width="0.9" />
<line x1="30.40" y1="543.43" x2="32.40" y2="543.43" stroke="#a8a8a8" stroke-width="0.9" />
<line x1="30.40" y1="533.19" x2="32.40" y2="533.19" stroke="#a8a8a8" stroke-width="0.9" />
<line x1="30.40" y1="522.95" x2="32.40" y2="522.95" stroke="#a8a8a8" stroke-width="0.9" />
<line x1="30.40" y1="512.71" x2="32.40" y2="512.71" stroke="#a8a8a8" stroke-width="0.9" />
<line x1="30.40" y1="502.47" x2="32.40" y2="502.47" stroke="#a8a8a8" stroke-width="0.9" />
<line x1="30.40" y1="492.23" x2="32.40" y2="492.23" stroke="#a8a8a8" stroke-width="0.9" />
<line x1="30.40" y1="481.98" x2="32.40" y2="481.98" stroke="#a8a8a8" stroke-width="0.9" />
<line x1="30.40" y1="471.74" x2="32.40" y2="471.74" stroke="#a8a8a8" stroke-width="0.9" />
<line x1="30.40" y1="461.50" x2="32.40" y2="461.50" stroke="#a8a8a8" stroke-width="0.9" />
<line x1="30.40" y1="451.26" x2="32.40" y2="451.26" stroke="#a8a8a8" stroke-width="0.9" />
<line x1="30.40" y1="441.02" x2="32.40" y2="441.02" stroke="#a8a8a8" stroke-width="0.9" />
<line x1="30.40" y1="430.77" x2="32.40" y2="430.77" stroke="#a8a8a8" stroke-width="0.9" />
<line x1="30.40" y1="420.53" x2="32.40" y2="420.53" stroke="#a8a8a8" stroke-width="0.9" />
<line x1="30.40" y1="410.29" x2="32.40" y2="410.29" stroke="#a8a8a8" stroke-width="0.9" />
<line x1="30.40" y1="400.05" x2="32.40" y2="400.05" stroke="#a8a8a8" stroke-width="0.9" />
<line x1="30.40" y1="389.81" x2="32.40" y2="389.81" stroke="#a8a8a8" stroke-width="0.9" />
<line x1="30.40" y1="379.57" x2="32.40" y2="379.57" stroke="#a8a8a8" stroke-width="0.9" />
<line x1="30.40" y1="369.33" x2="32.40" y2="369.33" stroke="#a8a8a8" stroke-width="0.9" />
<line x1="30.40" y1="359.08" x2="32.40" y2="359.08" stroke="#a8a8a8" stroke-width="0.9" />
<line x1="30.40" y1="348.84" x2="32.40" y2="348.84" stroke="#a8a8a8" stroke-width="0.9" />
<line x1="30.40" y1="338.60" x2="32.40" y2="338.60" stroke="#a8a8a8" stroke-width="0.9" />
<line x1="32.40" y1="338.10" x2="32.40" y2="585.40" stroke="#a8a8a8" stroke-width="1.6" />
<line x1="31.40" y1="584.40" x2="278.60" y2="584.40" stroke="#a8a8a8" stroke-width="1.6" />
<text x="31.60" y="592.70" font-size="7.0" text-anchor="middle" fill="#111" >−60</text>
<text x="53.98" y="592.70" font-size="7.0" text-anchor="middle" fill="#111" >−50</text>
<text x="76.36" y="592.70" font-size="7.0" text-anchor="middle" fill="#111" >−40</text>
<text x="98.75" y="592.70" font-size="7.0" text-anchor="middle" fill="#111" >−30</text>
<text x="121.13" y="592.70" font-size="7.0" text-anchor="middle" fill="#111" >−20</text>
<text x="143.51" y="592.70" font-size="7.0" text-anchor="middle" fill="#111" >−10</text>
<text x="166.69" y="592.70" font-size="7.0" text-anchor="middle" fill="#111" >0</text>
<text x="189.07" y="592.70" font-size="7.0" text-anchor="middle" fill="#111" >10</text>
<text x="211.45" y="592.70" font-size="7.0" text-anchor="middle" fill="#111" >20</text>
<text x="233.84" y="592.70" font-size="7.0" text-anchor="middle" fill="#111" >30</text>
<text x="256.22" y="592.70" font-size="7.0" text-anchor="middle" fill="#111" >40</text>
<text x="278.60" y="592.70" font-size="7.0" text-anchor="middle" fill="#111" >50</text>
<text x="30.10" y="586.92" font-size="7.0" text-anchor="end" fill="#111" >−70</text>
<text x="30.10" y="566.44" font-size="7.0" text-anchor="end" fill="#111" >−60</text>
<text x="30.10" y="545.95" font-size="7.0" text-anchor="end" fill="#111" >−50</text>
<text x="30.10" y="525.47" font-size="7.0" text-anchor="end" fill="#111" >−40</text>
<text x="30.10" y="504.99" font-size="7.0" text-anchor="end" fill="#111" >−30</text>
<text x="30.10" y="484.50" font-size="7.0" text-anchor="end" fill="#111" >−20</text>
<text x="30.10" y="464.02" font-size="7.0" text-anchor="end" fill="#111" >−10</text>
<text x="30.10" y="443.54" font-size="7.0" text-anchor="end" fill="#111" >0</text>
<text x="30.10" y="423.05" font-size="7.0" text-anchor="end" fill="#111" >10</text>
<text x="30.10" y="402.57" font-size="7.0" text-anchor="end" fill="#111" >20</text>
<text x="30.10" y="382.09" font-size="7.0" text-anchor="end" fill="#111" >30</text>
<text x="30.10" y="361.60" font-size="7.0" text-anchor="end" fill="#111" >40</text>
<text x="30.10" y="341.12" font-size="7.0" text-anchor="end" fill="#111" >50</text>
<text x="155.00" y="602.00" font-size="9.8" text-anchor="middle" fill="#111" >tsne_x</text>
<text x="0" y="0" font-size="9.8" text-anchor="middle" fill="#111" transform="translate(14.10,463.00) rotate(-90)">tsne_y</text>
<use href="#m_o" x="133.3" y="348.2" fill="#e377c2" class="mk"/>
<use href="#m_o" x="133.9" y="348.4" fill="#e377c2" class="mk"/>
<use href="#m_o" x="135.1" y="346.4" fill="#e377c2" class="mk"/>
<use href="#m_o" x="132.3" y="349.2" fill="#e377c2" class="mk"/>
<use href="#m_o" x="133.4" y="347.0" fill="#e377c2" class="mk"/>
<use href="#m_o" x="136.8" y="347.9" fill="#e377c2" class="mk"/>
<use href="#m_o" x="136.0" y="347.9" fill="#e377c2" class="mk"/>
<use href="#m_o" x="135.1" y="346.7" fill="#e377c2" class="mk"/>
<use href="#m_s" x="128.9" y="357.2" fill="#e377c2" class="mk"/>
<use href="#m_s" x="128.6" y="356.6" fill="#e377c2" class="mk"/>
<use href="#m_s" x="128.9" y="353.5" fill="#e377c2" class="mk"/>
<use href="#m_s" x="129.2" y="355.9" fill="#e377c2" class="mk"/>
<use href="#m_s" x="128.0" y="353.3" fill="#e377c2" class="mk"/>
<use href="#m_s" x="129.5" y="355.4" fill="#e377c2" class="mk"/>
<use href="#m_s" x="129.1" y="357.2" fill="#e377c2" class="mk"/>
<use href="#m_r" x="87.3" y="377.0" fill="#e377c2" class="mk"/>
<use href="#m_r" x="86.8" y="375.9" fill="#e377c2" class="mk"/>
<use href="#m_r" x="86.9" y="377.2" fill="#e377c2" class="mk"/>
<use href="#m_r" x="87.6" y="369.1" fill="#e377c2" class="mk"/>
<use href="#m_r" x="86.4" y="370.3" fill="#e377c2" class="mk"/>
<use href="#m_r" x="87.7" y="372.4" fill="#e377c2" class="mk"/>
<use href="#m_r" x="87.2" y="371.1" fill="#e377c2" class="mk"/>
<use href="#m_r" x="87.0" y="371.9" fill="#e377c2" class="mk"/>
<use href="#m_r" x="86.8" y="373.8" fill="#e377c2" class="mk"/>
<use href="#m_d" x="94.6" y="376.5" fill="#e377c2" class="mk"/>
<use href="#m_d" x="94.6" y="376.5" fill="#e377c2" class="mk"/>
<use href="#m_d" x="94.7" y="376.8" fill="#e377c2" class="mk"/>
<use href="#m_d" x="94.6" y="373.8" fill="#e377c2" class="mk"/>
<use href="#m_d" x="94.7" y="376.7" fill="#e377c2" class="mk"/>
<use href="#m_p" x="102.6" y="370.2" fill="#e377c2" class="mk"/>
<use href="#m_p" x="102.1" y="369.0" fill="#e377c2" class="mk"/>
<use href="#m_p" x="102.4" y="370.3" fill="#e377c2" class="mk"/>
<use href="#m_p" x="100.9" y="368.4" fill="#e377c2" class="mk"/>
<use href="#m_p" x="102.4" y="371.8" fill="#e377c2" class="mk"/>
<use href="#m_p" x="100.4" y="371.1" fill="#e377c2" class="mk"/>
<use href="#m_d" x="106.9" y="375.7" fill="#e377c2" class="mk"/>
<use href="#m_p" x="106.1" y="378.0" fill="#e377c2" class="mk"/>
<use href="#m_d" x="110.0" y="375.4" fill="#e377c2" class="mk"/>
<use href="#m_p" x="108.3" y="375.4" fill="#e377c2" class="mk"/>
<use href="#m_d" x="108.9" y="376.4" fill="#e377c2" class="mk"/>
<use href="#m_p" x="110.0" y="378.7" fill="#e377c2" class="mk"/>
<use href="#m_d" x="107.5" y="378.8" fill="#e377c2" class="mk"/>
<use href="#m_p" x="106.2" y="375.5" fill="#e377c2" class="mk"/>
<use href="#m_d" x="108.2" y="375.3" fill="#e377c2" class="mk"/>
<use href="#m_t" x="110.7" y="367.9" fill="#e377c2" class="mk"/>
<use href="#m_t" x="111.8" y="367.4" fill="#e377c2" class="mk"/>
<use href="#m_t" x="110.3" y="368.6" fill="#e377c2" class="mk"/>
<use href="#m_t" x="111.0" y="368.7" fill="#e377c2" class="mk"/>
<use href="#m_t" x="112.5" y="367.8" fill="#e377c2" class="mk"/>
<use href="#m_r" x="163.5" y="360.7" fill="#2ca02c" class="mk"/>
<use href="#m_d" x="165.7" y="361.3" fill="#2ca02c" class="mk"/>
<use href="#m_r" x="164.7" y="361.5" fill="#2ca02c" class="mk"/>
<use href="#m_d" x="169.1" y="360.6" fill="#2ca02c" class="mk"/>
<use href="#m_r" x="163.2" y="362.4" fill="#2ca02c" class="mk"/>
<use href="#m_d" x="161.0" y="358.8" fill="#2ca02c" class="mk"/>
<use href="#m_r" x="169.5" y="360.7" fill="#2ca02c" class="mk"/>
<use href="#m_d" x="164.6" y="356.3" fill="#2ca02c" class="mk"/>
<use href="#m_r" x="163.0" y="361.2" fill="#2ca02c" class="mk"/>
<use href="#m_d" x="158.4" y="361.5" fill="#2ca02c" class="mk"/>
<use href="#m_r" x="165.5" y="356.7" fill="#2ca02c" class="mk"/>
<use href="#m_d" x="165.5" y="360.2" fill="#2ca02c" class="mk"/>
<use href="#m_r" x="166.1" y="359.2" fill="#2ca02c" class="mk"/>
<use href="#m_d" x="166.4" y="362.5" fill="#2ca02c" class="mk"/>
<use href="#m_r" x="158.5" y="356.7" fill="#2ca02c" class="mk"/>
<use href="#m_d" x="166.0" y="364.5" fill="#2ca02c" class="mk"/>
<use href="#m_r" x="161.1" y="360.1" fill="#2ca02c" class="mk"/>
<use href="#m_d" x="165.1" y="359.0" fill="#2ca02c" class="mk"/>
<use href="#m_r" x="162.4" y="358.9" fill="#2ca02c" class="mk"/>
<use href="#m_t" x="151.4" y="382.5" fill="#9a6a3c" class="mk"/>
<use href="#m_p" x="150.8" y="379.1" fill="#9a6a3c" class="mk"/>
<use href="#m_d" x="154.8" y="373.6" fill="#9a6a3c" class="mk"/>
<use href="#m_t" x="153.1" y="384.7" fill="#9a6a3c" class="mk"/>
<use href="#m_p" x="150.9" y="376.7" fill="#9a6a3c" class="mk"/>
<use href="#m_d" x="155.1" y="376.9" fill="#9a6a3c" class="mk"/>
<use href="#m_t" x="149.8" y="380.0" fill="#9a6a3c" class="mk"/>
<use href="#m_p" x="154.2" y="374.8" fill="#9a6a3c" class="mk"/>
<use href="#m_d" x="151.0" y="378.4" fill="#9a6a3c" class="mk"/>
<use href="#m_t" x="155.4" y="380.0" fill="#9a6a3c" class="mk"/>
<use href="#m_p" x="155.6" y="375.8" fill="#9a6a3c" class="mk"/>
<use href="#m_d" x="151.1" y="383.3" fill="#9a6a3c" class="mk"/>
<use href="#m_t" x="155.8" y="380.2" fill="#9a6a3c" class="mk"/>
<use href="#m_p" x="150.1" y="375.1" fill="#9a6a3c" class="mk"/>
<use href="#m_d" x="152.8" y="376.2" fill="#9a6a3c" class="mk"/>
<use href="#m_t" x="155.1" y="386.3" fill="#9a6a3c" class="mk"/>
<use href="#m_p" x="149.8" y="377.5" fill="#9a6a3c" class="mk"/>
<use href="#m_d" x="155.1" y="383.2" fill="#9a6a3c" class="mk"/>
<use href="#m_t" x="155.1" y="378.6" fill="#9a6a3c" class="mk"/>
<use href="#m_p" x="149.3" y="377.8" fill="#9a6a3c" class="mk"/>
<use href="#m_d" x="155.0" y="377.4" fill="#9a6a3c" class="mk"/>
<use href="#m_t" x="151.2" y="379.7" fill="#9a6a3c" class="mk"/>
<use href="#m_p" x="151.8" y="379.6" fill="#9a6a3c" class="mk"/>
<use href="#m_d" x="156.1" y="375.6" fill="#9a6a3c" class="mk"/>
<use href="#m_r" x="158.2" y="375.7" fill="#9a6a3c" class="mk"/>
<use href="#m_r" x="161.4" y="375.8" fill="#9a6a3c" class="mk"/>
<use href="#m_r" x="159.8" y="375.7" fill="#9a6a3c" class="mk"/>
<use href="#m_r" x="161.5" y="374.6" fill="#9a6a3c" class="mk"/>
<use href="#m_r" x="160.9" y="375.5" fill="#9a6a3c" class="mk"/>
<use href="#m_r" x="160.6" y="375.0" fill="#9a6a3c" class="mk"/>
<use href="#m_d" x="158.7" y="382.7" fill="#9a6a3c" class="mk"/>
<use href="#m_d" x="158.6" y="382.3" fill="#9a6a3c" class="mk"/>
<use href="#m_d" x="159.1" y="382.7" fill="#9a6a3c" class="mk"/>
<use href="#m_d" x="159.5" y="382.3" fill="#9a6a3c" class="mk"/>
<use href="#m_d" x="159.6" y="383.3" fill="#9a6a3c" class="mk"/>
<use href="#m_s" x="129.4" y="401.5" fill="#9a6a3c" class="mk"/>
<use href="#m_s" x="129.3" y="400.7" fill="#9a6a3c" class="mk"/>
<use href="#m_s" x="125.3" y="401.1" fill="#9a6a3c" class="mk"/>
<use href="#m_s" x="126.0" y="400.0" fill="#9a6a3c" class="mk"/>
<use href="#m_s" x="128.2" y="400.6" fill="#9a6a3c" class="mk"/>
<use href="#m_s" x="127.1" y="401.6" fill="#9a6a3c" class="mk"/>
<use href="#m_s" x="128.0" y="400.1" fill="#9a6a3c" class="mk"/>
<use href="#m_t" x="140.1" y="401.3" fill="#9a6a3c" class="mk"/>
<use href="#m_t" x="140.9" y="401.0" fill="#9a6a3c" class="mk"/>
<use href="#m_t" x="140.5" y="398.9" fill="#9a6a3c" class="mk"/>
<use href="#m_t" x="141.1" y="401.1" fill="#9a6a3c" class="mk"/>
<use href="#m_t" x="139.8" y="401.1" fill="#9a6a3c" class="mk"/>
<use href="#m_t" x="142.5" y="401.1" fill="#9a6a3c" class="mk"/>
<use href="#m_t" x="142.2" y="398.2" fill="#9a6a3c" class="mk"/>
<use href="#m_o" x="126.1" y="416.2" fill="#9a6a3c" class="mk"/>
<use href="#m_o" x="123.4" y="413.4" fill="#9a6a3c" class="mk"/>
<use href="#m_o" x="124.4" y="414.6" fill="#9a6a3c" class="mk"/>
<use href="#m_o" x="125.1" y="414.4" fill="#9a6a3c" class="mk"/>
<use href="#m_o" x="126.8" y="412.2" fill="#9a6a3c" class="mk"/>
<use href="#m_o" x="123.5" y="412.8" fill="#9a6a3c" class="mk"/>
<use href="#m_o" x="123.8" y="412.5" fill="#9a6a3c" class="mk"/>
<use href="#m_o" x="127.7" y="416.1" fill="#9a6a3c" class="mk"/>
<use href="#m_o" x="123.6" y="414.5" fill="#9a6a3c" class="mk"/>
<use href="#m_p" x="63.0" y="424.0" fill="#bcbd22" class="mk"/>
<use href="#m_p" x="63.2" y="424.9" fill="#bcbd22" class="mk"/>
<use href="#m_p" x="64.5" y="424.1" fill="#bcbd22" class="mk"/>
<use href="#m_p" x="62.3" y="424.1" fill="#bcbd22" class="mk"/>
<use href="#m_p" x="61.9" y="424.6" fill="#bcbd22" class="mk"/>
<use href="#m_p" x="65.2" y="424.2" fill="#bcbd22" class="mk"/>
<use href="#m_p" x="61.6" y="423.7" fill="#bcbd22" class="mk"/>
<use href="#m_p" x="63.3" y="424.8" fill="#bcbd22" class="mk"/>
<use href="#m_t" x="78.2" y="424.6" fill="#bcbd22" class="mk"/>
<use href="#m_t" x="78.3" y="425.4" fill="#bcbd22" class="mk"/>
<use href="#m_t" x="77.3" y="424.5" fill="#bcbd22" class="mk"/>
<use href="#m_t" x="77.5" y="425.7" fill="#bcbd22" class="mk"/>
<use href="#m_t" x="77.3" y="425.7" fill="#bcbd22" class="mk"/>
<use href="#m_t" x="77.4" y="424.1" fill="#bcbd22" class="mk"/>
<use href="#m_r" x="50.9" y="438.9" fill="#bcbd22" class="mk"/>
<use href="#m_d" x="46.0" y="436.3" fill="#bcbd22" class="mk"/>
<use href="#m_t" x="49.7" y="440.6" fill="#bcbd22" class="mk"/>
<use href="#m_r" x="55.1" y="435.8" fill="#bcbd22" class="mk"/>
<use href="#m_d" x="54.7" y="439.8" fill="#bcbd22" class="mk"/>
<use href="#m_t" x="48.0" y="436.7" fill="#bcbd22" class="mk"/>
<use href="#m_r" x="46.5" y="440.0" fill="#bcbd22" class="mk"/>
<use href="#m_d" x="52.2" y="440.7" fill="#bcbd22" class="mk"/>
<use href="#m_t" x="53.6" y="438.6" fill="#bcbd22" class="mk"/>
<use href="#m_r" x="53.0" y="437.6" fill="#bcbd22" class="mk"/>
<use href="#m_d" x="46.3" y="437.8" fill="#bcbd22" class="mk"/>
<use href="#m_t" x="45.3" y="433.6" fill="#bcbd22" class="mk"/>
<use href="#m_r" x="53.4" y="432.6" fill="#bcbd22" class="mk"/>
<use href="#m_d" x="46.2" y="433.2" fill="#bcbd22" class="mk"/>
<use href="#m_t" x="54.5" y="433.9" fill="#bcbd22" class="mk"/>
<use href="#m_r" x="45.4" y="440.3" fill="#bcbd22" class="mk"/>
<use href="#m_d" x="46.5" y="440.3" fill="#bcbd22" class="mk"/>
<use href="#m_t" x="52.3" y="440.2" fill="#bcbd22" class="mk"/>
<use href="#m_r" x="55.3" y="437.8" fill="#bcbd22" class="mk"/>
<use href="#m_t" x="121.1" y="435.3" fill="#9a6a3c" class="mk"/>
<use href="#m_t" x="121.0" y="436.5" fill="#9a6a3c" class="mk"/>
<use href="#m_t" x="120.8" y="435.5" fill="#9a6a3c" class="mk"/>
<use href="#m_t" x="120.9" y="437.6" fill="#9a6a3c" class="mk"/>
<use href="#m_t" x="118.4" y="436.0" fill="#9a6a3c" class="mk"/>
<use href="#m_t" x="120.2" y="437.4" fill="#9a6a3c" class="mk"/>
<use href="#m_s" x="131.3" y="440.8" fill="#ff7f0e" class="mk"/>
<use href="#m_s" x="131.3" y="442.4" fill="#ff7f0e" class="mk"/>
<use href="#m_s" x="133.7" y="441.6" fill="#ff7f0e" class="mk"/>
<use href="#m_s" x="131.9" y="441.6" fill="#ff7f0e" class="mk"/>
<use href="#m_s" x="131.8" y="441.7" fill="#ff7f0e" class="mk"/>
<use href="#m_s" x="130.6" y="442.0" fill="#ff7f0e" class="mk"/>
<use href="#m_s" x="134.7" y="441.7" fill="#ff7f0e" class="mk"/>
<use href="#m_s" x="133.6" y="440.8" fill="#ff7f0e" class="mk"/>
<use href="#m_d" x="78.7" y="448.2" fill="#ff7f0e" class="mk"/>
<use href="#m_d" x="78.6" y="447.5" fill="#ff7f0e" class="mk"/>
<use href="#m_d" x="77.9" y="447.9" fill="#ff7f0e" class="mk"/>
<use href="#m_d" x="79.4" y="446.6" fill="#ff7f0e" class="mk"/>
<use href="#m_d" x="76.5" y="448.1" fill="#ff7f0e" class="mk"/>
<use href="#m_d" x="79.5" y="447.5" fill="#ff7f0e" class="mk"/>
<use href="#m_r" x="76.8" y="457.4" fill="#ff7f0e" class="mk"/>
<use href="#m_r" x="75.9" y="456.6" fill="#ff7f0e" class="mk"/>
<use href="#m_r" x="75.9" y="457.1" fill="#ff7f0e" class="mk"/>
<use href="#m_r" x="76.3" y="456.6" fill="#ff7f0e" class="mk"/>
<use href="#m_r" x="77.7" y="457.7" fill="#ff7f0e" class="mk"/>
<use href="#m_r" x="76.3" y="457.3" fill="#ff7f0e" class="mk"/>
<use href="#m_p" x="93.1" y="446.4" fill="#ff7f0e" class="mk"/>
<use href="#m_d" x="93.9" y="444.9" fill="#ff7f0e" class="mk"/>
<use href="#m_p" x="92.2" y="444.3" fill="#ff7f0e" class="mk"/>
<use href="#m_d" x="93.4" y="445.2" fill="#ff7f0e" class="mk"/>
<use href="#m_p" x="92.0" y="445.1" fill="#ff7f0e" class="mk"/>
<use href="#m_d" x="92.7" y="446.2" fill="#ff7f0e" class="mk"/>
<use href="#m_p" x="91.9" y="446.8" fill="#ff7f0e" class="mk"/>
<use href="#m_o" x="138.9" y="457.8" fill="#ff7f0e" class="mk"/>
<use href="#m_o" x="138.8" y="458.4" fill="#ff7f0e" class="mk"/>
<use href="#m_o" x="140.8" y="457.6" fill="#ff7f0e" class="mk"/>
<use href="#m_o" x="138.9" y="458.1" fill="#ff7f0e" class="mk"/>
<use href="#m_o" x="141.0" y="457.2" fill="#ff7f0e" class="mk"/>
<use href="#m_o" x="140.3" y="458.7" fill="#ff7f0e" class="mk"/>
<use href="#m_o" x="138.8" y="456.8" fill="#ff7f0e" class="mk"/>
<use href="#m_o" x="137.5" y="458.1" fill="#ff7f0e" class="mk"/>
<use href="#m_p" x="181.0" y="375.5" fill="#2ca02c" class="mk"/>
<use href="#m_p" x="181.4" y="370.8" fill="#2ca02c" class="mk"/>
<use href="#m_p" x="179.7" y="370.9" fill="#2ca02c" class="mk"/>
<use href="#m_p" x="179.7" y="373.9" fill="#2ca02c" class="mk"/>
<use href="#m_p" x="181.4" y="375.1" fill="#2ca02c" class="mk"/>
<use href="#m_p" x="179.9" y="374.9" fill="#2ca02c" class="mk"/>
<use href="#m_p" x="180.0" y="372.0" fill="#2ca02c" class="mk"/>
<use href="#m_p" x="181.1" y="369.8" fill="#2ca02c" class="mk"/>
<use href="#m_t" x="185.8" y="390.4" fill="#2ca02c" class="mk"/>
<use href="#m_t" x="187.1" y="389.1" fill="#2ca02c" class="mk"/>
<use href="#m_t" x="189.0" y="390.0" fill="#2ca02c" class="mk"/>
<use href="#m_t" x="185.2" y="389.1" fill="#2ca02c" class="mk"/>
<use href="#m_t" x="188.1" y="389.5" fill="#2ca02c" class="mk"/>
<use href="#m_t" x="186.6" y="389.7" fill="#2ca02c" class="mk"/>
<use href="#m_t" x="191.5" y="389.2" fill="#2ca02c" class="mk"/>
<use href="#m_t" x="188.8" y="388.5" fill="#2ca02c" class="mk"/>
<use href="#m_o" x="215.9" y="395.9" fill="#17becf" class="mk"/>
<use href="#m_o" x="215.5" y="397.2" fill="#17becf" class="mk"/>
<use href="#m_o" x="217.6" y="392.7" fill="#17becf" class="mk"/>
<use href="#m_o" x="217.6" y="394.3" fill="#17becf" class="mk"/>
<use href="#m_o" x="217.2" y="396.4" fill="#17becf" class="mk"/>
<use href="#m_o" x="216.0" y="396.0" fill="#17becf" class="mk"/>
<use href="#m_o" x="216.9" y="396.7" fill="#17becf" class="mk"/>
<use href="#m_o" x="215.9" y="396.4" fill="#17becf" class="mk"/>
<use href="#m_s" x="207.6" y="404.3" fill="#17becf" class="mk"/>
<use href="#m_s" x="205.2" y="401.7" fill="#17becf" class="mk"/>
<use href="#m_s" x="205.0" y="402.8" fill="#17becf" class="mk"/>
<use href="#m_s" x="206.2" y="404.3" fill="#17becf" class="mk"/>
<use href="#m_s" x="205.4" y="402.0" fill="#17becf" class="mk"/>
<use href="#m_s" x="205.8" y="404.1" fill="#17becf" class="mk"/>
<use href="#m_s" x="203.2" y="405.3" fill="#17becf" class="mk"/>
<use href="#m_s" x="205.9" y="401.8" fill="#17becf" class="mk"/>
<use href="#m_s" x="207.4" y="401.9" fill="#17becf" class="mk"/>
<use href="#m_t" x="176.4" y="409.4" fill="#17becf" class="mk"/>
<use href="#m_t" x="177.4" y="408.0" fill="#17becf" class="mk"/>
<use href="#m_t" x="177.5" y="407.1" fill="#17becf" class="mk"/>
<use href="#m_t" x="176.3" y="404.7" fill="#17becf" class="mk"/>
<use href="#m_t" x="175.4" y="409.4" fill="#17becf" class="mk"/>
<use href="#m_t" x="177.9" y="407.9" fill="#17becf" class="mk"/>
<use href="#m_t" x="177.9" y="406.3" fill="#17becf" class="mk"/>
<use href="#m_t" x="176.2" y="406.5" fill="#17becf" class="mk"/>
<use href="#m_t" x="178.3" y="403.6" fill="#17becf" class="mk"/>
<use href="#m_t" x="177.0" y="405.3" fill="#17becf" class="mk"/>
<use href="#m_t" x="178.0" y="406.2" fill="#17becf" class="mk"/>
<use href="#m_t" x="188.4" y="413.0" fill="#1f77b4" class="mk"/>
<use href="#m_t" x="188.5" y="413.0" fill="#1f77b4" class="mk"/>
<use href="#m_t" x="188.4" y="413.0" fill="#1f77b4" class="mk"/>
<use href="#m_s" x="194.5" y="417.0" fill="#1f77b4" class="mk"/>
<use href="#m_s" x="194.5" y="415.9" fill="#1f77b4" class="mk"/>
<use href="#m_s" x="196.2" y="420.0" fill="#1f77b4" class="mk"/>
<use href="#m_s" x="194.7" y="416.4" fill="#1f77b4" class="mk"/>
<use href="#m_s" x="195.3" y="420.1" fill="#1f77b4" class="mk"/>
<use href="#m_s" x="196.3" y="420.1" fill="#1f77b4" class="mk"/>
<use href="#m_s" x="195.7" y="416.2" fill="#1f77b4" class="mk"/>
<use href="#m_s" x="195.2" y="416.5" fill="#1f77b4" class="mk"/>
<use href="#m_o" x="207.6" y="417.8" fill="#1f77b4" class="mk"/>
<use href="#m_o" x="206.7" y="416.4" fill="#1f77b4" class="mk"/>
<use href="#m_o" x="208.2" y="415.3" fill="#1f77b4" class="mk"/>
<use href="#m_o" x="208.3" y="419.3" fill="#1f77b4" class="mk"/>
<use href="#m_o" x="208.7" y="417.0" fill="#1f77b4" class="mk"/>
<use href="#m_o" x="207.6" y="417.9" fill="#1f77b4" class="mk"/>
<use href="#m_o" x="207.8" y="419.7" fill="#1f77b4" class="mk"/>
<use href="#m_o" x="222.4" y="408.3" fill="#2ca02c" class="mk"/>
<use href="#m_o" x="223.2" y="408.9" fill="#2ca02c" class="mk"/>
<use href="#m_o" x="222.0" y="409.8" fill="#2ca02c" class="mk"/>
<use href="#m_o" x="219.2" y="410.0" fill="#2ca02c" class="mk"/>
<use href="#m_o" x="222.2" y="409.0" fill="#2ca02c" class="mk"/>
<use href="#m_o" x="221.6" y="408.9" fill="#2ca02c" class="mk"/>
<use href="#m_o" x="220.1" y="409.1" fill="#2ca02c" class="mk"/>
<use href="#m_o" x="219.4" y="409.0" fill="#2ca02c" class="mk"/>
<use href="#m_s" x="221.5" y="419.4" fill="#2ca02c" class="mk"/>
<use href="#m_s" x="221.2" y="420.7" fill="#2ca02c" class="mk"/>
<use href="#m_s" x="222.4" y="418.6" fill="#2ca02c" class="mk"/>
<use href="#m_s" x="222.1" y="419.8" fill="#2ca02c" class="mk"/>
<use href="#m_s" x="219.4" y="419.1" fill="#2ca02c" class="mk"/>
<use href="#m_s" x="220.0" y="418.4" fill="#2ca02c" class="mk"/>
<use href="#m_t" x="244.7" y="410.3" fill="#2ca02c" class="mk"/>
<use href="#m_t" x="243.7" y="409.8" fill="#2ca02c" class="mk"/>
<use href="#m_t" x="245.4" y="404.2" fill="#2ca02c" class="mk"/>
<use href="#m_t" x="246.1" y="407.8" fill="#2ca02c" class="mk"/>
<use href="#m_t" x="246.5" y="408.6" fill="#2ca02c" class="mk"/>
<use href="#m_t" x="245.6" y="405.8" fill="#2ca02c" class="mk"/>
<use href="#m_t" x="245.9" y="410.3" fill="#2ca02c" class="mk"/>
<use href="#m_t" x="246.2" y="406.5" fill="#2ca02c" class="mk"/>
<use href="#m_t" x="245.7" y="406.9" fill="#2ca02c" class="mk"/>
<use href="#m_t" x="242.7" y="403.5" fill="#2ca02c" class="mk"/>
<use href="#m_t" x="242.6" y="404.7" fill="#2ca02c" class="mk"/>
<use href="#m_p" x="247.8" y="399.5" fill="#2ca02c" class="mk"/>
<use href="#m_p" x="249.7" y="399.7" fill="#2ca02c" class="mk"/>
<use href="#m_p" x="248.7" y="400.2" fill="#2ca02c" class="mk"/>
<use href="#m_p" x="248.3" y="399.3" fill="#2ca02c" class="mk"/>
<use href="#m_p" x="249.9" y="399.0" fill="#2ca02c" class="mk"/>
<use href="#m_p" x="247.9" y="401.3" fill="#2ca02c" class="mk"/>
<use href="#m_p" x="249.8" y="398.9" fill="#2ca02c" class="mk"/>
<use href="#m_p" x="248.5" y="399.6" fill="#2ca02c" class="mk"/>
<use href="#m_d" x="272.5" y="401.5" fill="#2ca02c" class="mk"/>
<use href="#m_d" x="266.2" y="401.3" fill="#2ca02c" class="mk"/>
<use href="#m_d" x="274.5" y="400.3" fill="#2ca02c" class="mk"/>
<use href="#m_d" x="271.1" y="401.1" fill="#2ca02c" class="mk"/>
<use href="#m_d" x="268.4" y="400.7" fill="#2ca02c" class="mk"/>
<use href="#m_d" x="270.5" y="400.7" fill="#2ca02c" class="mk"/>
<use href="#m_d" x="266.5" y="399.8" fill="#2ca02c" class="mk"/>
<use href="#m_d" x="268.0" y="405.4" fill="#2ca02c" class="mk"/>
<use href="#m_d" x="266.8" y="398.5" fill="#2ca02c" class="mk"/>
<use href="#m_d" x="270.9" y="404.2" fill="#2ca02c" class="mk"/>
<use href="#m_d" x="273.7" y="398.9" fill="#2ca02c" class="mk"/>
<use href="#m_d" x="270.5" y="404.0" fill="#2ca02c" class="mk"/>
<use href="#m_d" x="266.5" y="412.3" fill="#2ca02c" class="mk"/>
<use href="#m_d" x="268.5" y="399.6" fill="#2ca02c" class="mk"/>
<use href="#m_d" x="271.2" y="400.6" fill="#2ca02c" class="mk"/>
<use href="#m_d" x="272.8" y="403.3" fill="#2ca02c" class="mk"/>
<use href="#m_d" x="267.5" y="399.0" fill="#2ca02c" class="mk"/>
<use href="#m_d" x="273.9" y="402.2" fill="#2ca02c" class="mk"/>
<use href="#m_d" x="274.6" y="405.0" fill="#2ca02c" class="mk"/>
<use href="#m_d" x="276.1" y="402.6" fill="#2ca02c" class="mk"/>
<use href="#m_d" x="268.8" y="402.1" fill="#2ca02c" class="mk"/>
<use href="#m_d" x="274.8" y="407.4" fill="#2ca02c" class="mk"/>
<use href="#m_d" x="269.9" y="399.6" fill="#2ca02c" class="mk"/>
<use href="#m_d" x="273.4" y="412.4" fill="#2ca02c" class="mk"/>
<use href="#m_d" x="272.5" y="398.3" fill="#2ca02c" class="mk"/>
<use href="#m_d" x="266.5" y="399.5" fill="#2ca02c" class="mk"/>
<use href="#m_s" x="198.3" y="435.5" fill="#6fd6e6" class="mkl"/>
<use href="#m_s" x="198.2" y="435.5" fill="#6fd6e6" class="mkl"/>
<use href="#m_o" x="173.3" y="441.1" fill="#2ca02c" class="mk"/>
<use href="#m_o" x="173.7" y="442.4" fill="#2ca02c" class="mk"/>
<use href="#m_o" x="172.9" y="444.4" fill="#2ca02c" class="mk"/>
<use href="#m_o" x="173.5" y="440.4" fill="#2ca02c" class="mk"/>
<use href="#m_o" x="170.6" y="443.0" fill="#2ca02c" class="mk"/>
<use href="#m_o" x="173.6" y="440.6" fill="#2ca02c" class="mk"/>
<use href="#m_o" x="170.5" y="444.1" fill="#2ca02c" class="mk"/>
<use href="#m_o" x="169.7" y="442.0" fill="#2ca02c" class="mk"/>
<use href="#m_o" x="170.7" y="443.3" fill="#2ca02c" class="mk"/>
<use href="#m_s" x="236.3" y="441.8" fill="#bcbd22" class="mk"/>
<use href="#m_s" x="235.1" y="443.8" fill="#bcbd22" class="mk"/>
<use href="#m_s" x="235.7" y="443.2" fill="#bcbd22" class="mk"/>
<use href="#m_s" x="236.3" y="442.5" fill="#bcbd22" class="mk"/>
<use href="#m_s" x="232.9" y="442.0" fill="#bcbd22" class="mk"/>
<use href="#m_s" x="235.3" y="442.9" fill="#bcbd22" class="mk"/>
<use href="#m_s" x="232.0" y="441.8" fill="#bcbd22" class="mk"/>
<use href="#m_s" x="235.0" y="443.4" fill="#bcbd22" class="mk"/>
<use href="#m_s" x="234.9" y="442.6" fill="#bcbd22" class="mk"/>
<use href="#m_s" x="231.0" y="456.4" fill="#bcbd22" class="mk"/>
<use href="#m_s" x="231.8" y="456.2" fill="#bcbd22" class="mk"/>
<use href="#m_s" x="230.9" y="457.4" fill="#bcbd22" class="mk"/>
<use href="#m_s" x="231.6" y="456.4" fill="#bcbd22" class="mk"/>
<use href="#m_s" x="230.1" y="457.5" fill="#bcbd22" class="mk"/>
<use href="#m_s" x="231.5" y="457.6" fill="#bcbd22" class="mk"/>
<use href="#m_d" x="161.5" y="452.9" fill="#1f77b4" class="mk"/>
<use href="#m_d" x="161.5" y="453.4" fill="#1f77b4" class="mk"/>
<use href="#m_d" x="160.1" y="452.8" fill="#1f77b4" class="mk"/>
<use href="#m_d" x="159.4" y="452.8" fill="#1f77b4" class="mk"/>
<use href="#m_d" x="161.7" y="452.4" fill="#1f77b4" class="mk"/>
<use href="#m_r" x="159.1" y="461.3" fill="#1f77b4" class="mk"/>
<use href="#m_r" x="158.3" y="461.6" fill="#1f77b4" class="mk"/>
<use href="#m_r" x="158.6" y="461.2" fill="#1f77b4" class="mk"/>
<use href="#m_r" x="158.4" y="461.6" fill="#1f77b4" class="mk"/>
<use href="#m_t" x="187.3" y="452.2" fill="#d62728" class="mk"/>
<use href="#m_t" x="186.0" y="454.7" fill="#d62728" class="mk"/>
<use href="#m_t" x="186.0" y="453.7" fill="#d62728" class="mk"/>
<use href="#m_t" x="186.7" y="454.2" fill="#d62728" class="mk"/>
<use href="#m_t" x="187.4" y="454.3" fill="#d62728" class="mk"/>
<use href="#m_t" x="187.1" y="452.7" fill="#d62728" class="mk"/>
<use href="#m_o" x="171.8" y="462.3" fill="#7f7f7f" class="mk"/>
<use href="#m_o" x="174.2" y="462.4" fill="#7f7f7f" class="mk"/>
<use href="#m_o" x="171.3" y="463.7" fill="#7f7f7f" class="mk"/>
<use href="#m_o" x="171.9" y="463.6" fill="#7f7f7f" class="mk"/>
<use href="#m_o" x="171.5" y="462.9" fill="#7f7f7f" class="mk"/>
<use href="#m_o" x="172.0" y="463.5" fill="#7f7f7f" class="mk"/>
<use href="#m_o" x="188.8" y="466.9" fill="#d62728" class="mk"/>
<use href="#m_o" x="189.2" y="467.5" fill="#d62728" class="mk"/>
<use href="#m_o" x="188.1" y="466.8" fill="#d62728" class="mk"/>
<use href="#m_o" x="188.4" y="465.5" fill="#d62728" class="mk"/>
<use href="#m_o" x="189.4" y="466.7" fill="#d62728" class="mk"/>
<use href="#m_o" x="189.3" y="465.7" fill="#d62728" class="mk"/>
<use href="#m_t" x="101.0" y="475.6" fill="#17becf" class="mk"/>
<use href="#m_d" x="103.4" y="471.1" fill="#17becf" class="mk"/>
<use href="#m_p" x="98.6" y="475.8" fill="#17becf" class="mk"/>
<use href="#m_t" x="95.1" y="476.6" fill="#17becf" class="mk"/>
<use href="#m_d" x="103.5" y="475.1" fill="#17becf" class="mk"/>
<use href="#m_p" x="102.4" y="477.2" fill="#17becf" class="mk"/>
<use href="#m_t" x="96.9" y="474.3" fill="#17becf" class="mk"/>
<use href="#m_d" x="106.7" y="474.1" fill="#17becf" class="mk"/>
<use href="#m_p" x="99.6" y="471.2" fill="#17becf" class="mk"/>
<use href="#m_t" x="96.9" y="472.1" fill="#17becf" class="mk"/>
<use href="#m_d" x="105.9" y="478.6" fill="#17becf" class="mk"/>
<use href="#m_p" x="105.2" y="481.6" fill="#17becf" class="mk"/>
<use href="#m_t" x="101.9" y="481.0" fill="#17becf" class="mk"/>
<use href="#m_d" x="101.0" y="475.1" fill="#17becf" class="mk"/>
<use href="#m_p" x="106.1" y="480.7" fill="#17becf" class="mk"/>
<use href="#m_t" x="106.2" y="475.8" fill="#17becf" class="mk"/>
<use href="#m_d" x="103.9" y="474.9" fill="#17becf" class="mk"/>
<use href="#m_p" x="106.8" y="480.9" fill="#17becf" class="mk"/>
<use href="#m_t" x="97.9" y="481.0" fill="#17becf" class="mk"/>
<use href="#m_d" x="96.5" y="471.3" fill="#17becf" class="mk"/>
<use href="#m_p" x="103.3" y="473.6" fill="#17becf" class="mk"/>
<use href="#m_t" x="100.7" y="477.6" fill="#17becf" class="mk"/>
<use href="#m_d" x="94.7" y="478.8" fill="#17becf" class="mk"/>
<use href="#m_p" x="97.7" y="475.2" fill="#17becf" class="mk"/>
<use href="#m_t" x="94.8" y="487.4" fill="#1f77b4" class="mk"/>
<use href="#m_t" x="95.4" y="486.7" fill="#1f77b4" class="mk"/>
<use href="#m_t" x="94.4" y="486.7" fill="#1f77b4" class="mk"/>
<use href="#m_t" x="94.9" y="486.3" fill="#1f77b4" class="mk"/>
<use href="#m_t" x="94.4" y="487.4" fill="#1f77b4" class="mk"/>
<use href="#m_o" x="87.3" y="493.7" fill="#1f77b4" class="mk"/>
<use href="#m_o" x="87.8" y="493.5" fill="#1f77b4" class="mk"/>
<use href="#m_o" x="86.8" y="491.6" fill="#1f77b4" class="mk"/>
<use href="#m_o" x="86.7" y="492.4" fill="#1f77b4" class="mk"/>
<use href="#m_o" x="87.0" y="492.6" fill="#1f77b4" class="mk"/>
<use href="#m_d" x="81.8" y="503.6" fill="#1f77b4" class="mk"/>
<use href="#m_d" x="81.7" y="502.9" fill="#1f77b4" class="mk"/>
<use href="#m_d" x="82.6" y="503.5" fill="#1f77b4" class="mk"/>
<use href="#m_d" x="81.7" y="502.6" fill="#1f77b4" class="mk"/>
<use href="#m_d" x="82.5" y="502.2" fill="#1f77b4" class="mk"/>
<use href="#m_r" x="78.3" y="512.0" fill="#1f77b4" class="mk"/>
<use href="#m_r" x="78.5" y="511.5" fill="#1f77b4" class="mk"/>
<use href="#m_r" x="78.2" y="511.5" fill="#1f77b4" class="mk"/>
<use href="#m_r" x="78.7" y="511.9" fill="#1f77b4" class="mk"/>
<use href="#m_p" x="141.7" y="506.0" fill="#d62728" class="mk"/>
<use href="#m_o" x="141.7" y="503.3" fill="#d62728" class="mk"/>
<use href="#m_p" x="138.1" y="503.2" fill="#d62728" class="mk"/>
<use href="#m_o" x="139.2" y="504.4" fill="#d62728" class="mk"/>
<use href="#m_p" x="137.4" y="505.2" fill="#d62728" class="mk"/>
<use href="#m_o" x="137.6" y="504.3" fill="#d62728" class="mk"/>
<use href="#m_p" x="138.3" y="506.1" fill="#d62728" class="mk"/>
<use href="#m_o" x="139.1" y="504.1" fill="#d62728" class="mk"/>
<use href="#m_t" x="138.3" y="516.7" fill="#d62728" class="mk"/>
<use href="#m_t" x="139.8" y="517.6" fill="#d62728" class="mk"/>
<use href="#m_t" x="140.6" y="518.1" fill="#d62728" class="mk"/>
<use href="#m_t" x="138.8" y="515.7" fill="#d62728" class="mk"/>
<use href="#m_t" x="140.2" y="518.0" fill="#d62728" class="mk"/>
<use href="#m_t" x="139.5" y="518.2" fill="#d62728" class="mk"/>
<use href="#m_d" x="128.6" y="519.5" fill="#d62728" class="mk"/>
<use href="#m_d" x="127.6" y="518.3" fill="#d62728" class="mk"/>
<use href="#m_d" x="128.9" y="522.3" fill="#d62728" class="mk"/>
<use href="#m_d" x="129.6" y="520.4" fill="#d62728" class="mk"/>
<use href="#m_d" x="128.9" y="522.5" fill="#d62728" class="mk"/>
<use href="#m_d" x="129.3" y="521.0" fill="#d62728" class="mk"/>
<use href="#m_d" x="128.3" y="520.6" fill="#d62728" class="mk"/>
<use href="#m_r" x="117.8" y="525.4" fill="#d62728" class="mk"/>
<use href="#m_r" x="119.7" y="530.7" fill="#d62728" class="mk"/>
<use href="#m_r" x="119.2" y="526.9" fill="#d62728" class="mk"/>
<use href="#m_r" x="118.5" y="527.2" fill="#d62728" class="mk"/>
<use href="#m_r" x="120.1" y="527.2" fill="#d62728" class="mk"/>
<use href="#m_r" x="120.7" y="525.2" fill="#d62728" class="mk"/>
<use href="#m_r" x="118.3" y="527.6" fill="#d62728" class="mk"/>
<use href="#m_r" x="118.7" y="529.8" fill="#d62728" class="mk"/>
<use href="#m_r" x="120.2" y="530.3" fill="#d62728" class="mk"/>
<use href="#m_s" x="155.4" y="484.4" fill="#2ca02c" class="mk"/>
<use href="#m_s" x="155.3" y="488.4" fill="#2ca02c" class="mk"/>
<use href="#m_s" x="155.0" y="486.3" fill="#2ca02c" class="mk"/>
<use href="#m_s" x="155.8" y="491.1" fill="#2ca02c" class="mk"/>
<use href="#m_s" x="153.6" y="489.3" fill="#2ca02c" class="mk"/>
<use href="#m_s" x="154.5" y="488.1" fill="#2ca02c" class="mk"/>
<use href="#m_s" x="156.4" y="491.5" fill="#2ca02c" class="mk"/>
<use href="#m_s" x="155.5" y="485.7" fill="#2ca02c" class="mk"/>
<use href="#m_s" x="156.5" y="485.6" fill="#2ca02c" class="mk"/>
<use href="#m_s" x="154.6" y="490.5" fill="#2ca02c" class="mk"/>
<use href="#m_s" x="160.0" y="475.9" fill="#d62728" class="mk"/>
<use href="#m_s" x="161.7" y="477.7" fill="#d62728" class="mk"/>
<use href="#m_s" x="160.0" y="476.2" fill="#d62728" class="mk"/>
<use href="#m_s" x="159.9" y="475.5" fill="#d62728" class="mk"/>
<use href="#m_s" x="159.9" y="477.7" fill="#d62728" class="mk"/>
<use href="#m_s" x="159.4" y="475.8" fill="#d62728" class="mk"/>
<use href="#m_o" x="174.1" y="476.4" fill="#bcbd22" class="mk"/>
<use href="#m_o" x="175.6" y="478.1" fill="#bcbd22" class="mk"/>
<use href="#m_o" x="177.1" y="477.8" fill="#bcbd22" class="mk"/>
<use href="#m_o" x="177.0" y="476.2" fill="#bcbd22" class="mk"/>
<use href="#m_o" x="174.5" y="478.7" fill="#bcbd22" class="mk"/>
<use href="#m_o" x="173.5" y="476.9" fill="#bcbd22" class="mk"/>
<use href="#m_o" x="175.4" y="476.9" fill="#bcbd22" class="mk"/>
<use href="#m_o" x="200.2" y="479.3" fill="#d62728" class="mk"/>
<use href="#m_o" x="199.0" y="481.7" fill="#d62728" class="mk"/>
<use href="#m_o" x="198.7" y="481.6" fill="#d62728" class="mk"/>
<use href="#m_o" x="198.8" y="481.8" fill="#d62728" class="mk"/>
<use href="#m_o" x="200.6" y="480.9" fill="#d62728" class="mk"/>
<use href="#m_o" x="198.7" y="479.3" fill="#d62728" class="mk"/>
<use href="#m_p" x="222.9" y="474.8" fill="#d62728" class="mk"/>
<use href="#m_p" x="220.9" y="477.2" fill="#d62728" class="mk"/>
<use href="#m_p" x="223.3" y="474.4" fill="#d62728" class="mk"/>
<use href="#m_p" x="223.7" y="476.1" fill="#d62728" class="mk"/>
<use href="#m_p" x="221.6" y="474.6" fill="#d62728" class="mk"/>
<use href="#m_p" x="221.6" y="477.8" fill="#d62728" class="mk"/>
<use href="#m_p" x="221.2" y="474.7" fill="#d62728" class="mk"/>
<use href="#m_t" x="240.9" y="469.4" fill="#bcbd22" class="mk"/>
<use href="#m_t" x="241.8" y="470.7" fill="#bcbd22" class="mk"/>
<use href="#m_t" x="240.6" y="469.5" fill="#bcbd22" class="mk"/>
<use href="#m_t" x="244.5" y="470.8" fill="#bcbd22" class="mk"/>
<use href="#m_t" x="244.7" y="469.6" fill="#bcbd22" class="mk"/>
<use href="#m_t" x="241.8" y="470.7" fill="#bcbd22" class="mk"/>
<use href="#m_p" x="247.4" y="489.7" fill="#bcbd22" class="mk"/>
<use href="#m_p" x="246.6" y="487.3" fill="#bcbd22" class="mk"/>
<use href="#m_p" x="246.8" y="489.9" fill="#bcbd22" class="mk"/>
<use href="#m_p" x="248.8" y="489.2" fill="#bcbd22" class="mk"/>
<use href="#m_p" x="247.3" y="489.1" fill="#bcbd22" class="mk"/>
<use href="#m_p" x="247.2" y="489.1" fill="#bcbd22" class="mk"/>
<use href="#m_p" x="249.0" y="487.9" fill="#bcbd22" class="mk"/>
<use href="#m_p" x="247.9" y="490.6" fill="#bcbd22" class="mk"/>
<use href="#m_s" x="187.3" y="491.7" fill="#d62728" class="mk"/>
<use href="#m_s" x="187.7" y="493.4" fill="#d62728" class="mk"/>
<use href="#m_s" x="184.8" y="491.9" fill="#d62728" class="mk"/>
<use href="#m_s" x="184.9" y="491.3" fill="#d62728" class="mk"/>
<use href="#m_s" x="187.7" y="492.3" fill="#d62728" class="mk"/>
<use href="#m_s" x="187.3" y="491.5" fill="#d62728" class="mk"/>
<use href="#m_o" x="204.3" y="497.2" fill="#bcbd22" class="mk"/>
<use href="#m_o" x="207.1" y="497.8" fill="#bcbd22" class="mk"/>
<use href="#m_o" x="206.7" y="495.6" fill="#bcbd22" class="mk"/>
<use href="#m_o" x="207.0" y="493.6" fill="#bcbd22" class="mk"/>
<use href="#m_o" x="206.1" y="495.2" fill="#bcbd22" class="mk"/>
<use href="#m_o" x="204.7" y="496.0" fill="#bcbd22" class="mk"/>
<use href="#m_o" x="205.4" y="495.5" fill="#bcbd22" class="mk"/>
<use href="#m_o" x="205.5" y="494.7" fill="#bcbd22" class="mk"/>
<use href="#m_o" x="167.8" y="503.0" fill="#9467bd" class="mk"/>
<use href="#m_o" x="170.7" y="504.5" fill="#9467bd" class="mk"/>
<use href="#m_o" x="170.2" y="504.0" fill="#9467bd" class="mk"/>
<use href="#m_o" x="167.5" y="504.7" fill="#9467bd" class="mk"/>
<use href="#m_o" x="167.4" y="500.8" fill="#9467bd" class="mk"/>
<use href="#m_o" x="168.5" y="503.6" fill="#9467bd" class="mk"/>
<use href="#m_o" x="167.8" y="503.2" fill="#9467bd" class="mk"/>
<use href="#m_o" x="167.5" y="504.6" fill="#9467bd" class="mk"/>
<use href="#m_o" x="168.3" y="502.4" fill="#9467bd" class="mk"/>
<use href="#m_r" x="237.8" y="504.8" fill="#bcbd22" class="mk"/>
<use href="#m_d" x="242.7" y="502.2" fill="#bcbd22" class="mk"/>
<use href="#m_r" x="236.9" y="502.9" fill="#bcbd22" class="mk"/>
<use href="#m_d" x="232.9" y="501.4" fill="#bcbd22" class="mk"/>
<use href="#m_r" x="241.2" y="504.1" fill="#bcbd22" class="mk"/>
<use href="#m_d" x="232.8" y="504.7" fill="#bcbd22" class="mk"/>
<use href="#m_r" x="236.3" y="505.7" fill="#bcbd22" class="mk"/>
<use href="#m_d" x="236.1" y="499.8" fill="#bcbd22" class="mk"/>
<use href="#m_r" x="238.0" y="504.9" fill="#bcbd22" class="mk"/>
<use href="#m_d" x="236.8" y="504.8" fill="#bcbd22" class="mk"/>
<use href="#m_r" x="239.7" y="500.9" fill="#bcbd22" class="mk"/>
<use href="#m_d" x="235.4" y="502.0" fill="#bcbd22" class="mk"/>
<use href="#m_r" x="236.4" y="501.0" fill="#bcbd22" class="mk"/>
<use href="#m_d" x="239.1" y="504.9" fill="#bcbd22" class="mk"/>
<use href="#m_r" x="238.4" y="499.3" fill="#bcbd22" class="mk"/>
<use href="#m_d" x="234.5" y="501.0" fill="#bcbd22" class="mk"/>
<use href="#m_r" x="238.7" y="499.3" fill="#bcbd22" class="mk"/>
<use href="#m_d" x="212.4" y="516.4" fill="#d62728" class="mk"/>
<use href="#m_d" x="212.9" y="515.3" fill="#d62728" class="mk"/>
<use href="#m_d" x="213.6" y="518.5" fill="#d62728" class="mk"/>
<use href="#m_d" x="213.6" y="517.9" fill="#d62728" class="mk"/>
<use href="#m_d" x="214.4" y="518.2" fill="#d62728" class="mk"/>
<use href="#m_d" x="214.6" y="516.8" fill="#d62728" class="mk"/>
<use href="#m_r" x="238.3" y="517.9" fill="#d62728" class="mk"/>
<use href="#m_r" x="238.6" y="519.3" fill="#d62728" class="mk"/>
<use href="#m_r" x="238.0" y="522.2" fill="#d62728" class="mk"/>
<use href="#m_r" x="237.7" y="518.3" fill="#d62728" class="mk"/>
<use href="#m_r" x="238.5" y="520.6" fill="#d62728" class="mk"/>
<use href="#m_r" x="237.3" y="517.4" fill="#d62728" class="mk"/>
<use href="#m_r" x="237.8" y="517.2" fill="#d62728" class="mk"/>
<use href="#m_s" x="173.0" y="519.9" fill="#9467bd" class="mk"/>
<use href="#m_s" x="170.5" y="520.6" fill="#9467bd" class="mk"/>
<use href="#m_s" x="171.6" y="520.8" fill="#9467bd" class="mk"/>
<use href="#m_s" x="172.1" y="521.6" fill="#9467bd" class="mk"/>
<use href="#m_s" x="171.2" y="519.5" fill="#9467bd" class="mk"/>
<use href="#m_s" x="173.7" y="521.7" fill="#9467bd" class="mk"/>
<use href="#m_s" x="169.6" y="520.8" fill="#9467bd" class="mk"/>
<use href="#m_s" x="172.7" y="522.8" fill="#9467bd" class="mk"/>
<use href="#m_t" x="168.5" y="542.2" fill="#9467bd" class="mk"/>
<use href="#m_t" x="170.4" y="542.9" fill="#9467bd" class="mk"/>
<use href="#m_t" x="172.3" y="543.5" fill="#9467bd" class="mk"/>
<use href="#m_t" x="169.7" y="542.9" fill="#9467bd" class="mk"/>
<use href="#m_t" x="170.9" y="543.6" fill="#9467bd" class="mk"/>
<use href="#m_t" x="169.1" y="542.8" fill="#9467bd" class="mk"/>
<use href="#m_p" x="164.0" y="550.2" fill="#9467bd" class="mk"/>
<use href="#m_p" x="163.5" y="550.7" fill="#9467bd" class="mk"/>
<use href="#m_p" x="168.2" y="550.1" fill="#9467bd" class="mk"/>
<use href="#m_p" x="164.0" y="549.6" fill="#9467bd" class="mk"/>
<use href="#m_p" x="167.7" y="550.6" fill="#9467bd" class="mk"/>
<use href="#m_p" x="168.4" y="549.7" fill="#9467bd" class="mk"/>
<use href="#m_p" x="172.6" y="550.3" fill="#9467bd" class="mk"/>
<use href="#m_p" x="168.3" y="549.5" fill="#9467bd" class="mk"/>
<use href="#m_p" x="166.1" y="550.6" fill="#9467bd" class="mk"/>
<use href="#m_d" x="173.3" y="563.6" fill="#9467bd" class="mk"/>
<use href="#m_d" x="173.6" y="563.1" fill="#9467bd" class="mk"/>
<use href="#m_d" x="173.7" y="564.6" fill="#9467bd" class="mk"/>
<use href="#m_d" x="173.7" y="564.1" fill="#9467bd" class="mk"/>
<use href="#m_r" x="163.0" y="567.5" fill="#9467bd" class="mk"/>
<use href="#m_d" x="164.9" y="568.6" fill="#9467bd" class="mk"/>
<use href="#m_r" x="162.9" y="571.2" fill="#9467bd" class="mk"/>
<use href="#m_d" x="163.1" y="571.0" fill="#9467bd" class="mk"/>
<use href="#m_r" x="169.3" y="567.8" fill="#9467bd" class="mk"/>
<use href="#m_d" x="169.1" y="569.0" fill="#9467bd" class="mk"/>
<use href="#m_r" x="163.0" y="568.1" fill="#9467bd" class="mk"/>
<use href="#m_d" x="161.5" y="569.5" fill="#9467bd" class="mk"/>
<use href="#m_r" x="164.5" y="571.1" fill="#9467bd" class="mk"/>
<use href="#m_d" x="168.4" y="567.5" fill="#9467bd" class="mk"/>
<use href="#m_r" x="164.7" y="569.0" fill="#9467bd" class="mk"/>
<use href="#m_d" x="162.7" y="568.4" fill="#9467bd" class="mk"/>
<line x1="324.90" y1="338.00" x2="324.90" y2="584.50" stroke="#dcdcdc" stroke-width="0.9" />
<line x1="345.39" y1="338.00" x2="345.39" y2="584.50" stroke="#dcdcdc" stroke-width="0.9" />
<line x1="365.88" y1="338.00" x2="365.88" y2="584.50" stroke="#dcdcdc" stroke-width="0.9" />
<line x1="386.38" y1="338.00" x2="386.38" y2="584.50" stroke="#dcdcdc" stroke-width="0.9" />
<line x1="406.87" y1="338.00" x2="406.87" y2="584.50" stroke="#dcdcdc" stroke-width="0.9" />
<line x1="427.36" y1="338.00" x2="427.36" y2="584.50" stroke="#dcdcdc" stroke-width="0.9" />
<line x1="447.85" y1="338.00" x2="447.85" y2="584.50" stroke="#dcdcdc" stroke-width="0.9" />
<line x1="468.34" y1="338.00" x2="468.34" y2="584.50" stroke="#dcdcdc" stroke-width="0.9" />
<line x1="488.83" y1="338.00" x2="488.83" y2="584.50" stroke="#dcdcdc" stroke-width="0.9" />
<line x1="509.32" y1="338.00" x2="509.32" y2="584.50" stroke="#dcdcdc" stroke-width="0.9" />
<line x1="529.82" y1="338.00" x2="529.82" y2="584.50" stroke="#dcdcdc" stroke-width="0.9" />
<line x1="550.31" y1="338.00" x2="550.31" y2="584.50" stroke="#dcdcdc" stroke-width="0.9" />
<line x1="570.80" y1="338.00" x2="570.80" y2="584.50" stroke="#dcdcdc" stroke-width="0.9" />
<line x1="324.90" y1="579.57" x2="570.80" y2="579.57" stroke="#dcdcdc" stroke-width="0.9" />
<line x1="324.90" y1="569.71" x2="570.80" y2="569.71" stroke="#dcdcdc" stroke-width="0.9" />
<line x1="324.90" y1="559.85" x2="570.80" y2="559.85" stroke="#dcdcdc" stroke-width="0.9" />
<line x1="324.90" y1="549.99" x2="570.80" y2="549.99" stroke="#dcdcdc" stroke-width="0.9" />
<line x1="324.90" y1="540.13" x2="570.80" y2="540.13" stroke="#dcdcdc" stroke-width="0.9" />
<line x1="324.90" y1="530.27" x2="570.80" y2="530.27" stroke="#dcdcdc" stroke-width="0.9" />
<line x1="324.90" y1="520.41" x2="570.80" y2="520.41" stroke="#dcdcdc" stroke-width="0.9" />
<line x1="324.90" y1="510.55" x2="570.80" y2="510.55" stroke="#dcdcdc" stroke-width="0.9" />
<line x1="324.90" y1="500.69" x2="570.80" y2="500.69" stroke="#dcdcdc" stroke-width="0.9" />
<line x1="324.90" y1="490.83" x2="570.80" y2="490.83" stroke="#dcdcdc" stroke-width="0.9" />
<line x1="324.90" y1="480.97" x2="570.80" y2="480.97" stroke="#dcdcdc" stroke-width="0.9" />
<line x1="324.90" y1="471.11" x2="570.80" y2="471.11" stroke="#dcdcdc" stroke-width="0.9" />
<line x1="324.90" y1="461.25" x2="570.80" y2="461.25" stroke="#dcdcdc" stroke-width="0.9" />
<line x1="324.90" y1="451.39" x2="570.80" y2="451.39" stroke="#dcdcdc" stroke-width="0.9" />
<line x1="324.90" y1="441.53" x2="570.80" y2="441.53" stroke="#dcdcdc" stroke-width="0.9" />
<line x1="324.90" y1="431.67" x2="570.80" y2="431.67" stroke="#dcdcdc" stroke-width="0.9" />
<line x1="324.90" y1="421.81" x2="570.80" y2="421.81" stroke="#dcdcdc" stroke-width="0.9" />
<line x1="324.90" y1="411.95" x2="570.80" y2="411.95" stroke="#dcdcdc" stroke-width="0.9" />
<line x1="324.90" y1="402.09" x2="570.80" y2="402.09" stroke="#dcdcdc" stroke-width="0.9" />
<line x1="324.90" y1="392.23" x2="570.80" y2="392.23" stroke="#dcdcdc" stroke-width="0.9" />
<line x1="324.90" y1="382.37" x2="570.80" y2="382.37" stroke="#dcdcdc" stroke-width="0.9" />
<line x1="324.90" y1="372.51" x2="570.80" y2="372.51" stroke="#dcdcdc" stroke-width="0.9" />
<line x1="324.90" y1="362.65" x2="570.80" y2="362.65" stroke="#dcdcdc" stroke-width="0.9" />
<line x1="324.90" y1="352.79" x2="570.80" y2="352.79" stroke="#dcdcdc" stroke-width="0.9" />
<line x1="324.90" y1="342.93" x2="570.80" y2="342.93" stroke="#dcdcdc" stroke-width="0.9" />
<line x1="324.90" y1="338.00" x2="570.80" y2="338.00" stroke="#dcdcdc" stroke-width="1.0" />
<line x1="570.80" y1="338.00" x2="570.80" y2="584.50" stroke="#dcdcdc" stroke-width="1.0" />
<line x1="324.90" y1="584.50" x2="324.90" y2="586.50" stroke="#a8a8a8" stroke-width="0.9" />
<line x1="345.39" y1="584.50" x2="345.39" y2="586.50" stroke="#a8a8a8" stroke-width="0.9" />
<line x1="365.88" y1="584.50" x2="365.88" y2="586.50" stroke="#a8a8a8" stroke-width="0.9" />
<line x1="386.38" y1="584.50" x2="386.38" y2="586.50" stroke="#a8a8a8" stroke-width="0.9" />
<line x1="406.87" y1="584.50" x2="406.87" y2="586.50" stroke="#a8a8a8" stroke-width="0.9" />
<line x1="427.36" y1="584.50" x2="427.36" y2="586.50" stroke="#a8a8a8" stroke-width="0.9" />
<line x1="447.85" y1="584.50" x2="447.85" y2="586.50" stroke="#a8a8a8" stroke-width="0.9" />
<line x1="468.34" y1="584.50" x2="468.34" y2="586.50" stroke="#a8a8a8" stroke-width="0.9" />
<line x1="488.83" y1="584.50" x2="488.83" y2="586.50" stroke="#a8a8a8" stroke-width="0.9" />
<line x1="509.32" y1="584.50" x2="509.32" y2="586.50" stroke="#a8a8a8" stroke-width="0.9" />
<line x1="529.82" y1="584.50" x2="529.82" y2="586.50" stroke="#a8a8a8" stroke-width="0.9" />
<line x1="550.31" y1="584.50" x2="550.31" y2="586.50" stroke="#a8a8a8" stroke-width="0.9" />
<line x1="570.80" y1="584.50" x2="570.80" y2="586.50" stroke="#a8a8a8" stroke-width="0.9" />
<line x1="322.90" y1="579.57" x2="324.90" y2="579.57" stroke="#a8a8a8" stroke-width="0.9" />
<line x1="322.90" y1="569.71" x2="324.90" y2="569.71" stroke="#a8a8a8" stroke-width="0.9" />
<line x1="322.90" y1="559.85" x2="324.90" y2="559.85" stroke="#a8a8a8" stroke-width="0.9" />
<line x1="322.90" y1="549.99" x2="324.90" y2="549.99" stroke="#a8a8a8" stroke-width="0.9" />
<line x1="322.90" y1="540.13" x2="324.90" y2="540.13" stroke="#a8a8a8" stroke-width="0.9" />
<line x1="322.90" y1="530.27" x2="324.90" y2="530.27" stroke="#a8a8a8" stroke-width="0.9" />
<line x1="322.90" y1="520.41" x2="324.90" y2="520.41" stroke="#a8a8a8" stroke-width="0.9" />
<line x1="322.90" y1="510.55" x2="324.90" y2="510.55" stroke="#a8a8a8" stroke-width="0.9" />
<line x1="322.90" y1="500.69" x2="324.90" y2="500.69" stroke="#a8a8a8" stroke-width="0.9" />
<line x1="322.90" y1="490.83" x2="324.90" y2="490.83" stroke="#a8a8a8" stroke-width="0.9" />
<line x1="322.90" y1="480.97" x2="324.90" y2="480.97" stroke="#a8a8a8" stroke-width="0.9" />
<line x1="322.90" y1="471.11" x2="324.90" y2="471.11" stroke="#a8a8a8" stroke-width="0.9" />
<line x1="322.90" y1="461.25" x2="324.90" y2="461.25" stroke="#a8a8a8" stroke-width="0.9" />
<line x1="322.90" y1="451.39" x2="324.90" y2="451.39" stroke="#a8a8a8" stroke-width="0.9" />
<line x1="322.90" y1="441.53" x2="324.90" y2="441.53" stroke="#a8a8a8" stroke-width="0.9" />
<line x1="322.90" y1="431.67" x2="324.90" y2="431.67" stroke="#a8a8a8" stroke-width="0.9" />
<line x1="322.90" y1="421.81" x2="324.90" y2="421.81" stroke="#a8a8a8" stroke-width="0.9" />
<line x1="322.90" y1="411.95" x2="324.90" y2="411.95" stroke="#a8a8a8" stroke-width="0.9" />
<line x1="322.90" y1="402.09" x2="324.90" y2="402.09" stroke="#a8a8a8" stroke-width="0.9" />
<line x1="322.90" y1="392.23" x2="324.90" y2="392.23" stroke="#a8a8a8" stroke-width="0.9" />
<line x1="322.90" y1="382.37" x2="324.90" y2="382.37" stroke="#a8a8a8" stroke-width="0.9" />
<line x1="322.90" y1="372.51" x2="324.90" y2="372.51" stroke="#a8a8a8" stroke-width="0.9" />
<line x1="322.90" y1="362.65" x2="324.90" y2="362.65" stroke="#a8a8a8" stroke-width="0.9" />
<line x1="322.90" y1="352.79" x2="324.90" y2="352.79" stroke="#a8a8a8" stroke-width="0.9" />
<line x1="322.90" y1="342.93" x2="324.90" y2="342.93" stroke="#a8a8a8" stroke-width="0.9" />
<line x1="324.90" y1="337.50" x2="324.90" y2="585.50" stroke="#a8a8a8" stroke-width="1.6" />
<line x1="323.90" y1="584.50" x2="570.80" y2="584.50" stroke="#a8a8a8" stroke-width="1.6" />
<text x="324.10" y="592.30" font-size="6.5" text-anchor="middle" fill="#111" >−30</text>
<text x="365.08" y="592.30" font-size="6.5" text-anchor="middle" fill="#111" >−20</text>
<text x="406.07" y="592.30" font-size="6.5" text-anchor="middle" fill="#111" >−10</text>
<text x="447.85" y="592.30" font-size="6.5" text-anchor="middle" fill="#111" >0</text>
<text x="488.83" y="592.30" font-size="6.5" text-anchor="middle" fill="#111" >10</text>
<text x="529.82" y="592.30" font-size="6.5" text-anchor="middle" fill="#111" >20</text>
<text x="570.80" y="592.30" font-size="6.5" text-anchor="middle" fill="#111" >25</text>
<text x="322.60" y="581.91" font-size="6.5" text-anchor="end" fill="#111" >−24</text>
<text x="322.60" y="562.19" font-size="6.5" text-anchor="end" fill="#111" >−20</text>
<text x="322.60" y="542.47" font-size="6.5" text-anchor="end" fill="#111" >−16</text>
<text x="322.60" y="522.75" font-size="6.5" text-anchor="end" fill="#111" >−12</text>
<text x="322.60" y="503.03" font-size="6.5" text-anchor="end" fill="#111" >−8</text>
<text x="322.60" y="483.31" font-size="6.5" text-anchor="end" fill="#111" >−4</text>
<text x="322.60" y="463.59" font-size="6.5" text-anchor="end" fill="#111" >0</text>
<text x="322.60" y="443.87" font-size="6.5" text-anchor="end" fill="#111" >4</text>
<text x="322.60" y="424.15" font-size="6.5" text-anchor="end" fill="#111" >8</text>
<text x="322.60" y="404.43" font-size="6.5" text-anchor="end" fill="#111" >12</text>
<text x="322.60" y="384.71" font-size="6.5" text-anchor="end" fill="#111" >16</text>
<text x="322.60" y="364.99" font-size="6.5" text-anchor="end" fill="#111" >20</text>
<text x="322.60" y="345.27" font-size="6.5" text-anchor="end" fill="#111" >24</text>
<text x="450.10" y="602.20" font-size="8.8" text-anchor="middle" fill="#111" >tsne_x</text>
<text x="0" y="0" font-size="8.8" text-anchor="middle" fill="#111" transform="translate(313.30,461.90) rotate(-90)">tsne_y</text>
<use href="#m_r" x="382.0" y="360.7" fill="#1f77b4" class="mk"/>
<use href="#m_r" x="382.6" y="360.9" fill="#1f77b4" class="mk"/>
<use href="#m_r" x="381.4" y="362.0" fill="#1f77b4" class="mk"/>
<use href="#m_r" x="384.5" y="363.9" fill="#1f77b4" class="mk"/>
<use href="#m_r" x="384.0" y="361.2" fill="#1f77b4" class="mk"/>
<use href="#m_r" x="383.1" y="361.5" fill="#1f77b4" class="mk"/>
<use href="#m_r" x="381.8" y="360.7" fill="#1f77b4" class="mk"/>
<use href="#m_r" x="382.0" y="364.5" fill="#1f77b4" class="mk"/>
<use href="#m_d" x="395.3" y="369.8" fill="#1f77b4" class="mk"/>
<use href="#m_s" x="395.1" y="363.3" fill="#1f77b4" class="mk"/>
<use href="#m_p" x="390.9" y="367.8" fill="#1f77b4" class="mk"/>
<use href="#m_d" x="394.5" y="370.3" fill="#1f77b4" class="mk"/>
<use href="#m_s" x="395.8" y="362.1" fill="#1f77b4" class="mk"/>
<use href="#m_p" x="393.4" y="368.3" fill="#1f77b4" class="mk"/>
<use href="#m_d" x="392.6" y="363.1" fill="#1f77b4" class="mk"/>
<use href="#m_s" x="392.3" y="362.1" fill="#1f77b4" class="mk"/>
<use href="#m_p" x="396.2" y="370.4" fill="#1f77b4" class="mk"/>
<use href="#m_d" x="392.9" y="364.4" fill="#1f77b4" class="mk"/>
<use href="#m_s" x="396.0" y="367.3" fill="#1f77b4" class="mk"/>
<use href="#m_p" x="395.8" y="370.2" fill="#1f77b4" class="mk"/>
<use href="#m_d" x="392.6" y="365.6" fill="#1f77b4" class="mk"/>
<use href="#m_s" x="393.4" y="365.8" fill="#1f77b4" class="mk"/>
<use href="#m_p" x="389.6" y="364.4" fill="#1f77b4" class="mk"/>
<use href="#m_d" x="395.2" y="361.7" fill="#1f77b4" class="mk"/>
<use href="#m_s" x="388.6" y="367.8" fill="#1f77b4" class="mk"/>
<use href="#m_p" x="390.6" y="366.9" fill="#1f77b4" class="mk"/>
<use href="#m_s" x="400.2" y="371.1" fill="#1f77b4" class="mk"/>
<use href="#m_d" x="405.8" y="369.9" fill="#1f77b4" class="mk"/>
<use href="#m_s" x="399.6" y="369.9" fill="#1f77b4" class="mk"/>
<use href="#m_d" x="401.9" y="370.6" fill="#1f77b4" class="mk"/>
<use href="#m_s" x="399.0" y="374.6" fill="#1f77b4" class="mk"/>
<use href="#m_d" x="398.6" y="373.0" fill="#1f77b4" class="mk"/>
<use href="#m_s" x="404.8" y="369.1" fill="#1f77b4" class="mk"/>
<use href="#m_d" x="395.9" y="370.2" fill="#1f77b4" class="mk"/>
<use href="#m_s" x="403.3" y="373.5" fill="#1f77b4" class="mk"/>
<use href="#m_d" x="397.7" y="371.0" fill="#1f77b4" class="mk"/>
<use href="#m_s" x="397.1" y="372.1" fill="#1f77b4" class="mk"/>
<use href="#m_d" x="395.7" y="374.2" fill="#1f77b4" class="mk"/>
<use href="#m_s" x="404.7" y="376.4" fill="#1f77b4" class="mk"/>
<use href="#m_d" x="403.0" y="376.5" fill="#1f77b4" class="mk"/>
<use href="#m_s" x="395.4" y="370.7" fill="#1f77b4" class="mk"/>
<use href="#m_d" x="405.4" y="374.9" fill="#1f77b4" class="mk"/>
<use href="#m_s" x="399.6" y="376.3" fill="#1f77b4" class="mk"/>
<use href="#m_d" x="401.8" y="375.2" fill="#1f77b4" class="mk"/>
<use href="#m_s" x="402.5" y="379.1" fill="#1f77b4" class="mk"/>
<use href="#m_o" x="403.2" y="378.8" fill="#1f77b4" class="mk"/>
<use href="#m_s" x="403.0" y="382.6" fill="#1f77b4" class="mk"/>
<use href="#m_o" x="402.7" y="378.2" fill="#1f77b4" class="mk"/>
<use href="#m_s" x="401.4" y="379.0" fill="#1f77b4" class="mk"/>
<use href="#m_o" x="404.8" y="379.9" fill="#1f77b4" class="mk"/>
<use href="#m_s" x="402.5" y="378.6" fill="#1f77b4" class="mk"/>
<use href="#m_o" x="405.7" y="380.2" fill="#1f77b4" class="mk"/>
<use href="#m_s" x="402.2" y="378.5" fill="#1f77b4" class="mk"/>
<use href="#m_t" x="330.8" y="421.8" fill="#17becf" class="mk"/>
<use href="#m_d" x="338.1" y="421.6" fill="#17becf" class="mk"/>
<use href="#m_r" x="330.7" y="424.9" fill="#17becf" class="mk"/>
<use href="#m_t" x="333.1" y="429.8" fill="#17becf" class="mk"/>
<use href="#m_d" x="331.6" y="425.3" fill="#17becf" class="mk"/>
<use href="#m_r" x="339.2" y="424.1" fill="#17becf" class="mk"/>
<use href="#m_t" x="341.7" y="424.8" fill="#17becf" class="mk"/>
<use href="#m_d" x="333.0" y="424.1" fill="#17becf" class="mk"/>
<use href="#m_r" x="330.6" y="424.2" fill="#17becf" class="mk"/>
<use href="#m_t" x="333.1" y="428.7" fill="#17becf" class="mk"/>
<use href="#m_d" x="339.8" y="425.0" fill="#17becf" class="mk"/>
<use href="#m_r" x="330.6" y="422.6" fill="#17becf" class="mk"/>
<use href="#m_t" x="333.0" y="422.2" fill="#17becf" class="mk"/>
<use href="#m_d" x="332.9" y="428.5" fill="#17becf" class="mk"/>
<use href="#m_r" x="331.8" y="420.7" fill="#17becf" class="mk"/>
<use href="#m_t" x="341.0" y="425.6" fill="#17becf" class="mk"/>
<use href="#m_d" x="341.7" y="424.1" fill="#17becf" class="mk"/>
<use href="#m_r" x="340.7" y="426.5" fill="#17becf" class="mk"/>
<use href="#m_t" x="339.4" y="427.3" fill="#17becf" class="mk"/>
<use href="#m_d" x="335.9" y="421.1" fill="#17becf" class="mk"/>
<use href="#m_r" x="332.6" y="428.6" fill="#17becf" class="mk"/>
<use href="#m_t" x="353.9" y="432.1" fill="#17becf" class="mk"/>
<use href="#m_s" x="349.1" y="429.5" fill="#17becf" class="mk"/>
<use href="#m_d" x="353.1" y="429.4" fill="#17becf" class="mk"/>
<use href="#m_t" x="353.2" y="428.3" fill="#17becf" class="mk"/>
<use href="#m_s" x="351.8" y="429.8" fill="#17becf" class="mk"/>
<use href="#m_d" x="348.5" y="432.1" fill="#17becf" class="mk"/>
<use href="#m_t" x="354.4" y="423.9" fill="#17becf" class="mk"/>
<use href="#m_s" x="354.6" y="432.4" fill="#17becf" class="mk"/>
<use href="#m_d" x="351.9" y="423.6" fill="#17becf" class="mk"/>
<use href="#m_t" x="353.9" y="424.4" fill="#17becf" class="mk"/>
<use href="#m_s" x="354.5" y="429.6" fill="#17becf" class="mk"/>
<use href="#m_d" x="346.7" y="424.8" fill="#17becf" class="mk"/>
<use href="#m_t" x="351.7" y="428.7" fill="#17becf" class="mk"/>
<use href="#m_s" x="352.6" y="432.1" fill="#17becf" class="mk"/>
<use href="#m_d" x="348.1" y="423.2" fill="#17becf" class="mk"/>
<use href="#m_t" x="354.1" y="423.3" fill="#17becf" class="mk"/>
<use href="#m_s" x="353.7" y="424.3" fill="#17becf" class="mk"/>
<use href="#m_s" x="363.5" y="430.7" fill="#17becf" class="mk"/>
<use href="#m_p" x="364.0" y="428.5" fill="#17becf" class="mk"/>
<use href="#m_s" x="364.0" y="425.1" fill="#17becf" class="mk"/>
<use href="#m_p" x="362.6" y="426.4" fill="#17becf" class="mk"/>
<use href="#m_s" x="364.1" y="430.6" fill="#17becf" class="mk"/>
<use href="#m_p" x="361.3" y="428.3" fill="#17becf" class="mk"/>
<use href="#m_s" x="358.4" y="423.5" fill="#17becf" class="mk"/>
<use href="#m_p" x="362.1" y="427.9" fill="#17becf" class="mk"/>
<use href="#m_s" x="363.9" y="429.0" fill="#17becf" class="mk"/>
<use href="#m_p" x="359.1" y="426.7" fill="#17becf" class="mk"/>
<use href="#m_s" x="363.3" y="428.2" fill="#17becf" class="mk"/>
<use href="#m_p" x="358.3" y="431.2" fill="#17becf" class="mk"/>
<use href="#m_s" x="363.7" y="424.0" fill="#17becf" class="mk"/>
<use href="#m_p" x="361.8" y="426.9" fill="#17becf" class="mk"/>
<use href="#m_s" x="363.4" y="426.2" fill="#17becf" class="mk"/>
<use href="#m_s" x="375.9" y="423.4" fill="#17becf" class="mk"/>
<use href="#m_o" x="384.4" y="420.8" fill="#17becf" class="mk"/>
<use href="#m_s" x="374.5" y="424.3" fill="#17becf" class="mk"/>
<use href="#m_o" x="383.5" y="423.6" fill="#17becf" class="mk"/>
<use href="#m_s" x="378.2" y="425.9" fill="#17becf" class="mk"/>
<use href="#m_o" x="382.2" y="420.6" fill="#17becf" class="mk"/>
<use href="#m_s" x="383.4" y="421.5" fill="#17becf" class="mk"/>
<use href="#m_o" x="376.7" y="425.7" fill="#17becf" class="mk"/>
<use href="#m_s" x="378.1" y="425.5" fill="#17becf" class="mk"/>
<use href="#m_o" x="375.1" y="426.0" fill="#17becf" class="mk"/>
<use href="#m_s" x="375.2" y="421.2" fill="#17becf" class="mk"/>
<use href="#m_o" x="378.9" y="422.4" fill="#17becf" class="mk"/>
<use href="#m_s" x="379.5" y="426.2" fill="#17becf" class="mk"/>
<use href="#m_o" x="381.4" y="420.2" fill="#17becf" class="mk"/>
<use href="#m_s" x="376.8" y="423.8" fill="#17becf" class="mk"/>
<use href="#m_o" x="378.8" y="424.9" fill="#17becf" class="mk"/>
<use href="#m_s" x="378.8" y="420.7" fill="#17becf" class="mk"/>
<use href="#m_d" x="358.0" y="435.5" fill="#2ca02c" class="mk"/>
<use href="#m_p" x="359.3" y="434.8" fill="#2ca02c" class="mk"/>
<use href="#m_d" x="366.6" y="433.6" fill="#2ca02c" class="mk"/>
<use href="#m_p" x="363.1" y="433.4" fill="#2ca02c" class="mk"/>
<use href="#m_d" x="358.8" y="436.0" fill="#2ca02c" class="mk"/>
<use href="#m_p" x="360.6" y="436.0" fill="#2ca02c" class="mk"/>
<use href="#m_d" x="358.7" y="435.7" fill="#2ca02c" class="mk"/>
<use href="#m_p" x="364.3" y="433.5" fill="#2ca02c" class="mk"/>
<use href="#m_d" x="360.3" y="429.4" fill="#2ca02c" class="mk"/>
<use href="#m_p" x="364.1" y="431.3" fill="#2ca02c" class="mk"/>
<use href="#m_d" x="362.9" y="429.3" fill="#2ca02c" class="mk"/>
<use href="#m_p" x="356.2" y="429.4" fill="#2ca02c" class="mk"/>
<use href="#m_d" x="364.6" y="429.7" fill="#2ca02c" class="mk"/>
<use href="#m_p" x="365.7" y="431.4" fill="#2ca02c" class="mk"/>
<use href="#m_d" x="361.9" y="431.2" fill="#2ca02c" class="mk"/>
<use href="#m_p" x="362.4" y="429.0" fill="#2ca02c" class="mk"/>
<use href="#m_d" x="359.9" y="436.3" fill="#2ca02c" class="mk"/>
<use href="#m_p" x="357.3" y="433.8" fill="#2ca02c" class="mk"/>
<use href="#m_d" x="359.0" y="430.8" fill="#2ca02c" class="mk"/>
<use href="#m_p" x="352.4" y="440.4" fill="#2ca02c" class="mk"/>
<use href="#m_t" x="360.4" y="449.8" fill="#2ca02c" class="mk"/>
<use href="#m_d" x="359.1" y="449.6" fill="#2ca02c" class="mk"/>
<use href="#m_p" x="360.4" y="442.0" fill="#2ca02c" class="mk"/>
<use href="#m_t" x="357.2" y="445.9" fill="#2ca02c" class="mk"/>
<use href="#m_d" x="357.1" y="451.1" fill="#2ca02c" class="mk"/>
<use href="#m_p" x="358.7" y="451.4" fill="#2ca02c" class="mk"/>
<use href="#m_t" x="353.2" y="447.8" fill="#2ca02c" class="mk"/>
<use href="#m_d" x="358.0" y="448.8" fill="#2ca02c" class="mk"/>
<use href="#m_p" x="357.5" y="449.8" fill="#2ca02c" class="mk"/>
<use href="#m_t" x="354.8" y="451.0" fill="#2ca02c" class="mk"/>
<use href="#m_d" x="355.7" y="447.1" fill="#2ca02c" class="mk"/>
<use href="#m_p" x="359.9" y="448.4" fill="#2ca02c" class="mk"/>
<use href="#m_t" x="354.9" y="442.9" fill="#2ca02c" class="mk"/>
<use href="#m_d" x="355.0" y="447.5" fill="#2ca02c" class="mk"/>
<use href="#m_p" x="360.8" y="450.6" fill="#2ca02c" class="mk"/>
<use href="#m_t" x="355.6" y="444.8" fill="#2ca02c" class="mk"/>
<use href="#m_d" x="359.2" y="443.5" fill="#2ca02c" class="mk"/>
<use href="#m_p" x="355.7" y="440.4" fill="#2ca02c" class="mk"/>
<use href="#m_p" x="359.4" y="453.8" fill="#5cb85c" class="mk"/>
<use href="#m_p" x="362.8" y="454.3" fill="#5cb85c" class="mk"/>
<use href="#m_p" x="360.6" y="456.5" fill="#5cb85c" class="mk"/>
<use href="#m_p" x="362.3" y="451.2" fill="#5cb85c" class="mk"/>
<use href="#m_p" x="358.6" y="456.6" fill="#5cb85c" class="mk"/>
<use href="#m_p" x="364.7" y="456.3" fill="#5cb85c" class="mk"/>
<use href="#m_p" x="362.2" y="452.3" fill="#5cb85c" class="mk"/>
<use href="#m_p" x="358.8" y="451.9" fill="#5cb85c" class="mk"/>
<use href="#m_p" x="359.7" y="456.3" fill="#5cb85c" class="mk"/>
<use href="#m_p" x="364.1" y="455.3" fill="#5cb85c" class="mk"/>
<use href="#m_p" x="359.2" y="451.8" fill="#5cb85c" class="mk"/>
<use href="#m_p" x="360.2" y="456.5" fill="#5cb85c" class="mk"/>
<use href="#m_p" x="380.6" y="450.6" fill="#2ca02c" class="mk"/>
<use href="#m_o" x="382.0" y="443.4" fill="#2ca02c" class="mk"/>
<use href="#m_d" x="382.7" y="435.0" fill="#2ca02c" class="mk"/>
<use href="#m_p" x="381.6" y="431.9" fill="#2ca02c" class="mk"/>
<use href="#m_o" x="380.5" y="428.1" fill="#2ca02c" class="mk"/>
<use href="#m_d" x="381.0" y="430.8" fill="#2ca02c" class="mk"/>
<use href="#m_p" x="380.4" y="456.6" fill="#2ca02c" class="mk"/>
<use href="#m_o" x="381.0" y="453.6" fill="#2ca02c" class="mk"/>
<use href="#m_d" x="382.0" y="448.8" fill="#2ca02c" class="mk"/>
<use href="#m_p" x="381.9" y="455.4" fill="#2ca02c" class="mk"/>
<use href="#m_o" x="382.5" y="448.5" fill="#2ca02c" class="mk"/>
<use href="#m_d" x="381.7" y="447.7" fill="#2ca02c" class="mk"/>
<use href="#m_p" x="382.1" y="443.5" fill="#2ca02c" class="mk"/>
<use href="#m_o" x="381.5" y="431.8" fill="#2ca02c" class="mk"/>
<use href="#m_d" x="382.4" y="441.5" fill="#2ca02c" class="mk"/>
<use href="#m_p" x="380.4" y="432.2" fill="#2ca02c" class="mk"/>
<use href="#m_o" x="382.5" y="434.8" fill="#2ca02c" class="mk"/>
<use href="#m_d" x="381.2" y="447.4" fill="#2ca02c" class="mk"/>
<use href="#m_p" x="382.4" y="436.9" fill="#2ca02c" class="mk"/>
<use href="#m_o" x="381.2" y="439.7" fill="#2ca02c" class="mk"/>
<use href="#m_d" x="380.3" y="453.1" fill="#2ca02c" class="mk"/>
<use href="#m_p" x="380.2" y="455.6" fill="#2ca02c" class="mk"/>
<use href="#m_o" x="380.6" y="431.8" fill="#2ca02c" class="mk"/>
<use href="#m_t" x="406.3" y="445.8" fill="#2ca02c" class="mk"/>
<use href="#m_s" x="400.4" y="439.7" fill="#2ca02c" class="mk"/>
<use href="#m_o" x="402.8" y="443.4" fill="#2ca02c" class="mk"/>
<use href="#m_t" x="400.0" y="445.9" fill="#2ca02c" class="mk"/>
<use href="#m_s" x="407.8" y="443.2" fill="#2ca02c" class="mk"/>
<use href="#m_o" x="407.0" y="448.4" fill="#2ca02c" class="mk"/>
<use href="#m_t" x="401.8" y="446.4" fill="#2ca02c" class="mk"/>
<use href="#m_s" x="406.2" y="440.5" fill="#2ca02c" class="mk"/>
<use href="#m_o" x="399.2" y="441.2" fill="#2ca02c" class="mk"/>
<use href="#m_t" x="407.0" y="434.1" fill="#2ca02c" class="mk"/>
<use href="#m_s" x="404.4" y="447.5" fill="#2ca02c" class="mk"/>
<use href="#m_o" x="404.0" y="428.0" fill="#2ca02c" class="mk"/>
<use href="#m_t" x="404.3" y="433.0" fill="#2ca02c" class="mk"/>
<use href="#m_s" x="406.4" y="442.2" fill="#2ca02c" class="mk"/>
<use href="#m_o" x="401.2" y="447.4" fill="#2ca02c" class="mk"/>
<use href="#m_t" x="404.2" y="434.9" fill="#2ca02c" class="mk"/>
<use href="#m_s" x="406.2" y="447.4" fill="#2ca02c" class="mk"/>
<use href="#m_o" x="406.8" y="447.2" fill="#2ca02c" class="mk"/>
<use href="#m_t" x="404.5" y="443.0" fill="#2ca02c" class="mk"/>
<use href="#m_s" x="404.0" y="439.1" fill="#2ca02c" class="mk"/>
<use href="#m_o" x="407.7" y="435.2" fill="#2ca02c" class="mk"/>
<use href="#m_t" x="399.0" y="443.3" fill="#2ca02c" class="mk"/>
<use href="#m_s" x="403.0" y="439.5" fill="#2ca02c" class="mk"/>
<use href="#m_o" x="403.9" y="432.8" fill="#2ca02c" class="mk"/>
<use href="#m_t" x="400.1" y="428.8" fill="#2ca02c" class="mk"/>
<use href="#m_s" x="405.7" y="447.7" fill="#2ca02c" class="mk"/>
<use href="#m_o" x="404.9" y="429.8" fill="#2ca02c" class="mk"/>
<use href="#m_t" x="407.6" y="445.9" fill="#2ca02c" class="mk"/>
<use href="#m_s" x="403.1" y="427.2" fill="#2ca02c" class="mk"/>
<use href="#m_o" x="406.3" y="441.3" fill="#2ca02c" class="mk"/>
<use href="#m_t" x="404.2" y="427.6" fill="#2ca02c" class="mk"/>
<use href="#m_s" x="405.2" y="428.0" fill="#2ca02c" class="mk"/>
<use href="#m_o" x="402.8" y="430.5" fill="#2ca02c" class="mk"/>
<use href="#m_o" x="417.9" y="438.6" fill="#5cb85c" class="mk"/>
<use href="#m_o" x="419.6" y="438.5" fill="#5cb85c" class="mk"/>
<use href="#m_o" x="417.6" y="437.8" fill="#5cb85c" class="mk"/>
<use href="#m_o" x="419.0" y="437.3" fill="#5cb85c" class="mk"/>
<use href="#m_o" x="418.1" y="438.8" fill="#5cb85c" class="mk"/>
<use href="#m_o" x="419.7" y="438.6" fill="#5cb85c" class="mk"/>
<use href="#m_s" x="442.2" y="446.8" fill="#2ca02c" class="mk"/>
<use href="#m_s" x="445.4" y="446.9" fill="#2ca02c" class="mk"/>
<use href="#m_s" x="443.1" y="443.4" fill="#2ca02c" class="mk"/>
<use href="#m_s" x="440.3" y="448.1" fill="#2ca02c" class="mk"/>
<use href="#m_s" x="446.4" y="444.0" fill="#2ca02c" class="mk"/>
<use href="#m_s" x="445.2" y="444.9" fill="#2ca02c" class="mk"/>
<use href="#m_s" x="444.3" y="447.8" fill="#2ca02c" class="mk"/>
<use href="#m_s" x="442.3" y="446.3" fill="#2ca02c" class="mk"/>
<use href="#m_s" x="441.9" y="445.6" fill="#2ca02c" class="mk"/>
<use href="#m_s" x="440.4" y="443.9" fill="#2ca02c" class="mk"/>
<use href="#m_s" x="442.1" y="448.2" fill="#2ca02c" class="mk"/>
<use href="#m_s" x="441.1" y="447.2" fill="#2ca02c" class="mk"/>
<use href="#m_o" x="454.5" y="447.7" fill="#2ca02c" class="mk"/>
<use href="#m_o" x="454.8" y="441.8" fill="#2ca02c" class="mk"/>
<use href="#m_o" x="455.0" y="447.4" fill="#2ca02c" class="mk"/>
<use href="#m_o" x="456.6" y="447.1" fill="#2ca02c" class="mk"/>
<use href="#m_o" x="456.0" y="442.0" fill="#2ca02c" class="mk"/>
<use href="#m_o" x="455.4" y="444.2" fill="#2ca02c" class="mk"/>
<use href="#m_o" x="457.8" y="442.3" fill="#2ca02c" class="mk"/>
<use href="#m_o" x="455.1" y="446.8" fill="#2ca02c" class="mk"/>
<use href="#m_o" x="454.6" y="447.6" fill="#2ca02c" class="mk"/>
<use href="#m_s" x="447.0" y="446.4" fill="#2ca02c" class="mk"/>
<use href="#m_s" x="447.0" y="448.3" fill="#2ca02c" class="mk"/>
<use href="#m_s" x="447.0" y="447.9" fill="#2ca02c" class="mk"/>
<use href="#m_r" x="473.1" y="402.4" fill="#9467bd" class="mk"/>
<use href="#m_t" x="471.5" y="402.8" fill="#9467bd" class="mk"/>
<use href="#m_r" x="473.1" y="398.0" fill="#9467bd" class="mk"/>
<use href="#m_t" x="471.6" y="399.0" fill="#9467bd" class="mk"/>
<use href="#m_r" x="474.7" y="404.7" fill="#9467bd" class="mk"/>
<use href="#m_t" x="477.6" y="399.3" fill="#9467bd" class="mk"/>
<use href="#m_r" x="481.7" y="397.7" fill="#9467bd" class="mk"/>
<use href="#m_t" x="473.5" y="404.4" fill="#9467bd" class="mk"/>
<use href="#m_r" x="481.3" y="402.1" fill="#9467bd" class="mk"/>
<use href="#m_t" x="481.6" y="396.7" fill="#9467bd" class="mk"/>
<use href="#m_r" x="480.8" y="402.3" fill="#9467bd" class="mk"/>
<use href="#m_t" x="478.3" y="403.5" fill="#9467bd" class="mk"/>
<use href="#m_r" x="472.3" y="397.9" fill="#9467bd" class="mk"/>
<use href="#m_t" x="472.7" y="400.3" fill="#9467bd" class="mk"/>
<use href="#m_r" x="477.0" y="400.8" fill="#9467bd" class="mk"/>
<use href="#m_t" x="475.0" y="402.6" fill="#9467bd" class="mk"/>
<use href="#m_r" x="480.1" y="402.7" fill="#9467bd" class="mk"/>
<use href="#m_t" x="471.6" y="397.5" fill="#9467bd" class="mk"/>
<use href="#m_d" x="484.2" y="408.0" fill="#9467bd" class="mk"/>
<use href="#m_p" x="485.8" y="407.7" fill="#9467bd" class="mk"/>
<use href="#m_d" x="486.1" y="408.8" fill="#9467bd" class="mk"/>
<use href="#m_p" x="484.9" y="411.6" fill="#9467bd" class="mk"/>
<use href="#m_d" x="487.5" y="407.6" fill="#9467bd" class="mk"/>
<use href="#m_p" x="484.8" y="413.7" fill="#9467bd" class="mk"/>
<use href="#m_d" x="484.2" y="406.4" fill="#9467bd" class="mk"/>
<use href="#m_p" x="484.1" y="412.5" fill="#9467bd" class="mk"/>
<use href="#m_d" x="486.6" y="413.3" fill="#9467bd" class="mk"/>
<use href="#m_p" x="485.5" y="406.5" fill="#9467bd" class="mk"/>
<use href="#m_d" x="484.6" y="411.7" fill="#9467bd" class="mk"/>
<use href="#m_t" x="490.2" y="419.6" fill="#9467bd" class="mk"/>
<use href="#m_t" x="490.2" y="420.4" fill="#9467bd" class="mk"/>
<use href="#m_t" x="490.1" y="420.4" fill="#9467bd" class="mk"/>
<use href="#m_t" x="489.6" y="419.3" fill="#9467bd" class="mk"/>
<use href="#m_t" x="491.2" y="421.1" fill="#9467bd" class="mk"/>
<use href="#m_t" x="490.3" y="419.5" fill="#9467bd" class="mk"/>
<use href="#m_t" x="523.0" y="400.2" fill="#ff7f0e" class="mk"/>
<use href="#m_d" x="528.8" y="399.3" fill="#ff7f0e" class="mk"/>
<use href="#m_r" x="529.5" y="399.8" fill="#ff7f0e" class="mk"/>
<use href="#m_t" x="521.9" y="400.9" fill="#ff7f0e" class="mk"/>
<use href="#m_d" x="526.0" y="400.8" fill="#ff7f0e" class="mk"/>
<use href="#m_r" x="527.2" y="393.5" fill="#ff7f0e" class="mk"/>
<use href="#m_t" x="524.4" y="403.3" fill="#ff7f0e" class="mk"/>
<use href="#m_d" x="521.5" y="393.7" fill="#ff7f0e" class="mk"/>
<use href="#m_r" x="522.0" y="396.8" fill="#ff7f0e" class="mk"/>
<use href="#m_t" x="524.4" y="397.2" fill="#ff7f0e" class="mk"/>
<use href="#m_d" x="526.3" y="395.3" fill="#ff7f0e" class="mk"/>
<use href="#m_r" x="523.5" y="401.7" fill="#ff7f0e" class="mk"/>
<use href="#m_t" x="525.4" y="405.3" fill="#ff7f0e" class="mk"/>
<use href="#m_d" x="529.2" y="396.5" fill="#ff7f0e" class="mk"/>
<use href="#m_r" x="523.4" y="400.0" fill="#ff7f0e" class="mk"/>
<use href="#m_t" x="525.4" y="397.8" fill="#ff7f0e" class="mk"/>
<use href="#m_d" x="528.5" y="395.7" fill="#ff7f0e" class="mk"/>
<use href="#m_r" x="524.7" y="394.7" fill="#ff7f0e" class="mk"/>
<use href="#m_t" x="528.7" y="400.7" fill="#ff7f0e" class="mk"/>
<use href="#m_d" x="529.7" y="395.0" fill="#ff7f0e" class="mk"/>
<use href="#m_r" x="527.0" y="400.7" fill="#ff7f0e" class="mk"/>
<use href="#m_t" x="520.7" y="403.5" fill="#ff7f0e" class="mk"/>
<use href="#m_d" x="524.7" y="416.5" fill="#ff7f0e" class="mk"/>
<use href="#m_d" x="524.8" y="416.5" fill="#ff7f0e" class="mk"/>
<use href="#m_r" x="538.6" y="410.8" fill="#9a6a3c" class="mk"/>
<use href="#m_p" x="535.0" y="402.2" fill="#9a6a3c" class="mk"/>
<use href="#m_d" x="537.2" y="416.4" fill="#9a6a3c" class="mk"/>
<use href="#m_r" x="534.4" y="409.5" fill="#9a6a3c" class="mk"/>
<use href="#m_p" x="535.2" y="413.4" fill="#9a6a3c" class="mk"/>
<use href="#m_d" x="542.4" y="416.8" fill="#9a6a3c" class="mk"/>
<use href="#m_r" x="535.3" y="408.5" fill="#9a6a3c" class="mk"/>
<use href="#m_p" x="532.2" y="410.5" fill="#9a6a3c" class="mk"/>
<use href="#m_d" x="541.2" y="416.1" fill="#9a6a3c" class="mk"/>
<use href="#m_r" x="533.0" y="408.8" fill="#9a6a3c" class="mk"/>
<use href="#m_p" x="533.0" y="408.7" fill="#9a6a3c" class="mk"/>
<use href="#m_d" x="541.9" y="406.2" fill="#9a6a3c" class="mk"/>
<use href="#m_r" x="541.2" y="418.0" fill="#9a6a3c" class="mk"/>
<use href="#m_p" x="540.9" y="404.8" fill="#9a6a3c" class="mk"/>
<use href="#m_d" x="541.9" y="417.4" fill="#9a6a3c" class="mk"/>
<use href="#m_r" x="542.8" y="401.4" fill="#9a6a3c" class="mk"/>
<use href="#m_p" x="532.2" y="406.3" fill="#9a6a3c" class="mk"/>
<use href="#m_d" x="537.7" y="408.7" fill="#9a6a3c" class="mk"/>
<use href="#m_r" x="533.2" y="412.5" fill="#9a6a3c" class="mk"/>
<use href="#m_p" x="539.3" y="412.3" fill="#9a6a3c" class="mk"/>
<use href="#m_d" x="537.6" y="410.9" fill="#9a6a3c" class="mk"/>
<use href="#m_r" x="539.5" y="402.3" fill="#9a6a3c" class="mk"/>
<use href="#m_p" x="536.8" y="403.6" fill="#9a6a3c" class="mk"/>
<use href="#m_d" x="533.3" y="414.6" fill="#9a6a3c" class="mk"/>
<use href="#m_r" x="535.6" y="407.2" fill="#9a6a3c" class="mk"/>
<use href="#m_p" x="535.1" y="411.5" fill="#9a6a3c" class="mk"/>
<use href="#m_d" x="533.5" y="412.5" fill="#9a6a3c" class="mk"/>
<use href="#m_r" x="532.9" y="418.0" fill="#9a6a3c" class="mk"/>
<use href="#m_p" x="533.9" y="414.7" fill="#9a6a3c" class="mk"/>
<use href="#m_s" x="506.6" y="449.7" fill="#9467bd" class="mk"/>
<use href="#m_s" x="506.0" y="449.5" fill="#9467bd" class="mk"/>
<use href="#m_s" x="507.2" y="450.1" fill="#9467bd" class="mk"/>
<use href="#m_s" x="506.6" y="449.1" fill="#9467bd" class="mk"/>
<use href="#m_s" x="506.8" y="448.8" fill="#9467bd" class="mk"/>
<use href="#m_s" x="506.5" y="450.5" fill="#9467bd" class="mk"/>
<use href="#m_p" x="355.6" y="458.5" fill="#5cb85c" class="mk"/>
<use href="#m_p" x="355.7" y="458.3" fill="#5cb85c" class="mk"/>
<use href="#m_p" x="356.7" y="458.6" fill="#5cb85c" class="mk"/>
<use href="#m_p" x="356.1" y="458.8" fill="#5cb85c" class="mk"/>
<use href="#m_p" x="379.0" y="463.5" fill="#5cb85c" class="mk"/>
<use href="#m_p" x="379.0" y="463.5" fill="#5cb85c" class="mk"/>
<use href="#m_d" x="412.2" y="464.7" fill="#d62728" class="mk"/>
<use href="#m_d" x="411.6" y="465.0" fill="#d62728" class="mk"/>
<use href="#m_d" x="412.1" y="464.8" fill="#d62728" class="mk"/>
<use href="#m_d" x="414.6" y="464.7" fill="#d62728" class="mk"/>
<use href="#m_d" x="415.9" y="465.5" fill="#d62728" class="mk"/>
<use href="#m_d" x="412.4" y="465.5" fill="#d62728" class="mk"/>
<use href="#m_d" x="411.4" y="464.4" fill="#d62728" class="mk"/>
<use href="#m_t" x="437.8" y="468.6" fill="#d62728" class="mk"/>
<use href="#m_p" x="428.3" y="479.1" fill="#d62728" class="mk"/>
<use href="#m_t" x="428.2" y="476.5" fill="#d62728" class="mk"/>
<use href="#m_p" x="433.5" y="471.0" fill="#d62728" class="mk"/>
<use href="#m_t" x="430.6" y="480.4" fill="#d62728" class="mk"/>
<use href="#m_p" x="432.0" y="471.2" fill="#d62728" class="mk"/>
<use href="#m_t" x="432.4" y="477.4" fill="#d62728" class="mk"/>
<use href="#m_p" x="431.0" y="469.3" fill="#d62728" class="mk"/>
<use href="#m_t" x="435.8" y="469.4" fill="#d62728" class="mk"/>
<use href="#m_p" x="428.7" y="468.3" fill="#d62728" class="mk"/>
<use href="#m_t" x="437.7" y="473.7" fill="#d62728" class="mk"/>
<use href="#m_p" x="435.3" y="475.2" fill="#d62728" class="mk"/>
<use href="#m_t" x="437.6" y="472.5" fill="#d62728" class="mk"/>
<use href="#m_p" x="431.6" y="476.8" fill="#d62728" class="mk"/>
<use href="#m_t" x="428.2" y="472.8" fill="#d62728" class="mk"/>
<use href="#m_p" x="435.5" y="475.4" fill="#d62728" class="mk"/>
<use href="#m_t" x="432.9" y="480.0" fill="#d62728" class="mk"/>
<use href="#m_p" x="432.4" y="477.4" fill="#d62728" class="mk"/>
<use href="#m_t" x="432.0" y="469.3" fill="#d62728" class="mk"/>
<use href="#m_p" x="431.9" y="470.9" fill="#d62728" class="mk"/>
<use href="#m_t" x="428.5" y="471.8" fill="#d62728" class="mk"/>
<use href="#m_p" x="429.4" y="474.0" fill="#d62728" class="mk"/>
<use href="#m_p" x="450.9" y="469.4" fill="#d62728" class="mk"/>
<use href="#m_p" x="451.4" y="467.0" fill="#d62728" class="mk"/>
<use href="#m_p" x="450.6" y="470.2" fill="#d62728" class="mk"/>
<use href="#m_p" x="449.6" y="470.3" fill="#d62728" class="mk"/>
<use href="#m_p" x="448.6" y="470.4" fill="#d62728" class="mk"/>
<use href="#m_p" x="451.4" y="470.7" fill="#d62728" class="mk"/>
<use href="#m_p" x="451.2" y="469.2" fill="#d62728" class="mk"/>
<use href="#m_p" x="449.8" y="469.2" fill="#d62728" class="mk"/>
<use href="#m_p" x="451.4" y="468.4" fill="#d62728" class="mk"/>
<use href="#m_r" x="398.7" y="480.7" fill="#d62728" class="mk"/>
<use href="#m_t" x="396.8" y="479.7" fill="#d62728" class="mk"/>
<use href="#m_r" x="395.4" y="480.6" fill="#d62728" class="mk"/>
<use href="#m_t" x="398.7" y="480.3" fill="#d62728" class="mk"/>
<use href="#m_r" x="396.5" y="479.5" fill="#d62728" class="mk"/>
<use href="#m_t" x="397.9" y="480.6" fill="#d62728" class="mk"/>
<use href="#m_r" x="397.2" y="479.9" fill="#d62728" class="mk"/>
<use href="#m_d" x="410.1" y="479.2" fill="#bcbd22" class="mk"/>
<use href="#m_d" x="408.8" y="479.3" fill="#bcbd22" class="mk"/>
<use href="#m_d" x="408.3" y="478.7" fill="#bcbd22" class="mk"/>
<use href="#m_d" x="411.7" y="477.9" fill="#bcbd22" class="mk"/>
<use href="#m_d" x="411.6" y="477.2" fill="#bcbd22" class="mk"/>
<use href="#m_d" x="408.8" y="477.5" fill="#bcbd22" class="mk"/>
<use href="#m_d" x="409.4" y="478.8" fill="#bcbd22" class="mk"/>
<use href="#m_d" x="410.8" y="478.6" fill="#bcbd22" class="mk"/>
<use href="#m_r" x="391.8" y="490.8" fill="#d8d840" class="mk"/>
<use href="#m_r" x="391.7" y="491.7" fill="#d8d840" class="mk"/>
<use href="#m_r" x="391.8" y="490.6" fill="#d8d840" class="mk"/>
<use href="#m_r" x="391.4" y="489.5" fill="#d8d840" class="mk"/>
<use href="#m_r" x="391.7" y="490.8" fill="#d8d840" class="mk"/>
<use href="#m_r" x="391.7" y="490.6" fill="#d8d840" class="mk"/>
<use href="#m_r" x="388.6" y="499.6" fill="#bcbd22" class="mk"/>
<use href="#m_r" x="388.6" y="499.5" fill="#bcbd22" class="mk"/>
<use href="#m_r" x="388.6" y="499.5" fill="#bcbd22" class="mk"/>
<use href="#m_r" x="388.2" y="500.7" fill="#bcbd22" class="mk"/>
<use href="#m_d" x="377.2" y="498.7" fill="#2ca02c" class="mk"/>
<use href="#m_d" x="373.4" y="499.5" fill="#2ca02c" class="mk"/>
<use href="#m_d" x="376.7" y="498.4" fill="#2ca02c" class="mk"/>
<use href="#m_d" x="377.0" y="499.5" fill="#2ca02c" class="mk"/>
<use href="#m_d" x="375.8" y="498.6" fill="#2ca02c" class="mk"/>
<use href="#m_d" x="373.5" y="498.3" fill="#2ca02c" class="mk"/>
<use href="#m_d" x="423.9" y="493.8" fill="#d62728" class="mk"/>
<use href="#m_d" x="424.2" y="488.6" fill="#d62728" class="mk"/>
<use href="#m_d" x="424.5" y="486.9" fill="#d62728" class="mk"/>
<use href="#m_d" x="424.2" y="488.0" fill="#d62728" class="mk"/>
<use href="#m_d" x="423.2" y="488.3" fill="#d62728" class="mk"/>
<use href="#m_d" x="424.5" y="488.5" fill="#d62728" class="mk"/>
<use href="#m_d" x="423.2" y="491.3" fill="#d62728" class="mk"/>
<use href="#m_d" x="423.8" y="492.3" fill="#d62728" class="mk"/>
<use href="#m_d" x="424.1" y="493.7" fill="#d62728" class="mk"/>
<use href="#m_d" x="424.7" y="489.8" fill="#d62728" class="mk"/>
<use href="#m_r" x="415.8" y="505.1" fill="#d62728" class="mk"/>
<use href="#m_t" x="413.6" y="504.9" fill="#d62728" class="mk"/>
<use href="#m_r" x="417.0" y="506.8" fill="#d62728" class="mk"/>
<use href="#m_t" x="416.2" y="510.9" fill="#d62728" class="mk"/>
<use href="#m_r" x="414.4" y="505.8" fill="#d62728" class="mk"/>
<use href="#m_t" x="413.6" y="507.9" fill="#d62728" class="mk"/>
<use href="#m_r" x="414.4" y="504.7" fill="#d62728" class="mk"/>
<use href="#m_t" x="417.0" y="509.1" fill="#d62728" class="mk"/>
<use href="#m_r" x="417.1" y="510.6" fill="#d62728" class="mk"/>
<use href="#m_t" x="416.3" y="510.5" fill="#d62728" class="mk"/>
<use href="#m_r" x="416.1" y="507.5" fill="#d62728" class="mk"/>
<use href="#m_t" x="416.8" y="511.2" fill="#d62728" class="mk"/>
<use href="#m_t" x="424.2" y="507.4" fill="#bcbd22" class="mk"/>
<use href="#m_d" x="424.8" y="510.1" fill="#bcbd22" class="mk"/>
<use href="#m_r" x="431.5" y="510.7" fill="#bcbd22" class="mk"/>
<use href="#m_t" x="431.4" y="509.4" fill="#bcbd22" class="mk"/>
<use href="#m_d" x="428.6" y="508.3" fill="#bcbd22" class="mk"/>
<use href="#m_r" x="429.3" y="508.5" fill="#bcbd22" class="mk"/>
<use href="#m_t" x="423.3" y="509.6" fill="#bcbd22" class="mk"/>
<use href="#m_d" x="428.6" y="513.8" fill="#bcbd22" class="mk"/>
<use href="#m_r" x="425.9" y="514.2" fill="#bcbd22" class="mk"/>
<use href="#m_t" x="431.0" y="507.6" fill="#bcbd22" class="mk"/>
<use href="#m_d" x="430.7" y="514.2" fill="#bcbd22" class="mk"/>
<use href="#m_r" x="432.4" y="512.2" fill="#bcbd22" class="mk"/>
<use href="#m_t" x="426.9" y="510.9" fill="#bcbd22" class="mk"/>
<use href="#m_d" x="429.4" y="511.5" fill="#bcbd22" class="mk"/>
<use href="#m_r" x="425.0" y="513.8" fill="#bcbd22" class="mk"/>
<use href="#m_t" x="428.4" y="506.8" fill="#bcbd22" class="mk"/>
<use href="#m_d" x="426.1" y="506.9" fill="#bcbd22" class="mk"/>
<use href="#m_r" x="383.0" y="520.5" fill="#2ca02c" class="mk"/>
<use href="#m_r" x="383.0" y="521.2" fill="#2ca02c" class="mk"/>
<use href="#m_r" x="383.0" y="523.0" fill="#2ca02c" class="mk"/>
<use href="#m_r" x="383.0" y="523.1" fill="#2ca02c" class="mk"/>
<use href="#m_s" x="463.3" y="470.7" fill="#d62728" class="mk"/>
<use href="#m_s" x="464.5" y="469.2" fill="#d62728" class="mk"/>
<use href="#m_s" x="462.6" y="472.6" fill="#d62728" class="mk"/>
<use href="#m_s" x="461.8" y="472.0" fill="#d62728" class="mk"/>
<use href="#m_s" x="464.4" y="471.1" fill="#d62728" class="mk"/>
<use href="#m_s" x="463.8" y="470.3" fill="#d62728" class="mk"/>
<use href="#m_s" x="464.7" y="474.6" fill="#d62728" class="mk"/>
<use href="#m_s" x="461.8" y="473.5" fill="#d62728" class="mk"/>
<use href="#m_s" x="462.4" y="469.4" fill="#d62728" class="mk"/>
<use href="#m_t" x="474.7" y="477.6" fill="#d62728" class="mk"/>
<use href="#m_t" x="475.4" y="476.6" fill="#d62728" class="mk"/>
<use href="#m_t" x="474.5" y="475.0" fill="#d62728" class="mk"/>
<use href="#m_t" x="475.1" y="476.6" fill="#d62728" class="mk"/>
<use href="#m_t" x="476.3" y="476.3" fill="#d62728" class="mk"/>
<use href="#m_t" x="475.1" y="478.4" fill="#d62728" class="mk"/>
<use href="#m_t" x="476.0" y="477.7" fill="#d62728" class="mk"/>
<use href="#m_o" x="488.3" y="474.4" fill="#d62728" class="mk"/>
<use href="#m_o" x="486.9" y="472.7" fill="#d62728" class="mk"/>
<use href="#m_o" x="487.9" y="475.6" fill="#d62728" class="mk"/>
<use href="#m_o" x="488.5" y="476.4" fill="#d62728" class="mk"/>
<use href="#m_o" x="487.5" y="474.4" fill="#d62728" class="mk"/>
<use href="#m_o" x="488.7" y="472.6" fill="#d62728" class="mk"/>
<use href="#m_o" x="487.2" y="474.7" fill="#d62728" class="mk"/>
<use href="#m_s" x="501.4" y="483.4" fill="#d62728" class="mk"/>
<use href="#m_s" x="499.8" y="483.0" fill="#d62728" class="mk"/>
<use href="#m_s" x="499.8" y="482.6" fill="#d62728" class="mk"/>
<use href="#m_s" x="499.8" y="482.4" fill="#d62728" class="mk"/>
<use href="#m_s" x="501.5" y="482.6" fill="#d62728" class="mk"/>
<use href="#m_s" x="499.8" y="482.9" fill="#d62728" class="mk"/>
<use href="#m_s" x="501.6" y="482.3" fill="#d62728" class="mk"/>
<use href="#m_o" x="514.9" y="474.2" fill="#ff7f0e" class="mk"/>
<use href="#m_o" x="516.0" y="472.4" fill="#ff7f0e" class="mk"/>
<use href="#m_o" x="515.9" y="472.5" fill="#ff7f0e" class="mk"/>
<use href="#m_o" x="516.5" y="473.1" fill="#ff7f0e" class="mk"/>
<use href="#m_o" x="516.3" y="472.4" fill="#ff7f0e" class="mk"/>
<use href="#m_o" x="515.5" y="473.4" fill="#ff7f0e" class="mk"/>
<use href="#m_o" x="516.2" y="475.7" fill="#ff7f0e" class="mk"/>
<use href="#m_t" x="526.8" y="468.5" fill="#ff7f0e" class="mk"/>
<use href="#m_t" x="529.6" y="471.0" fill="#ff7f0e" class="mk"/>
<use href="#m_t" x="527.9" y="470.5" fill="#ff7f0e" class="mk"/>
<use href="#m_t" x="527.9" y="472.0" fill="#ff7f0e" class="mk"/>
<use href="#m_t" x="528.0" y="469.1" fill="#ff7f0e" class="mk"/>
<use href="#m_t" x="528.4" y="474.7" fill="#ff7f0e" class="mk"/>
<use href="#m_t" x="529.7" y="472.9" fill="#ff7f0e" class="mk"/>
<use href="#m_t" x="530.5" y="471.1" fill="#ff7f0e" class="mk"/>
<use href="#m_t" x="527.9" y="473.4" fill="#ff7f0e" class="mk"/>
<use href="#m_t" x="526.7" y="473.3" fill="#ff7f0e" class="mk"/>
<use href="#m_s" x="524.6" y="485.8" fill="#ff7f0e" class="mk"/>
<use href="#m_s" x="525.5" y="486.2" fill="#ff7f0e" class="mk"/>
<use href="#m_s" x="524.4" y="485.9" fill="#ff7f0e" class="mk"/>
<use href="#m_s" x="526.4" y="484.3" fill="#ff7f0e" class="mk"/>
<use href="#m_s" x="526.0" y="484.9" fill="#ff7f0e" class="mk"/>
<use href="#m_s" x="526.1" y="486.7" fill="#ff7f0e" class="mk"/>
<use href="#m_t" x="542.2" y="479.7" fill="#9a6a3c" class="mk"/>
<use href="#m_t" x="544.0" y="481.7" fill="#9a6a3c" class="mk"/>
<use href="#m_t" x="545.5" y="478.3" fill="#9a6a3c" class="mk"/>
<use href="#m_t" x="542.7" y="479.7" fill="#9a6a3c" class="mk"/>
<use href="#m_t" x="545.1" y="481.0" fill="#9a6a3c" class="mk"/>
<use href="#m_t" x="544.2" y="481.5" fill="#9a6a3c" class="mk"/>
<use href="#m_t" x="545.2" y="481.4" fill="#9a6a3c" class="mk"/>
<use href="#m_o" x="510.8" y="488.9" fill="#d62728" class="mk"/>
<use href="#m_o" x="511.1" y="491.9" fill="#d62728" class="mk"/>
<use href="#m_o" x="511.6" y="488.3" fill="#d62728" class="mk"/>
<use href="#m_o" x="509.3" y="489.5" fill="#d62728" class="mk"/>
<use href="#m_o" x="509.9" y="489.8" fill="#d62728" class="mk"/>
<use href="#m_o" x="509.4" y="491.2" fill="#d62728" class="mk"/>
<use href="#m_o" x="510.3" y="488.9" fill="#d62728" class="mk"/>
<use href="#m_o" x="509.5" y="491.0" fill="#d62728" class="mk"/>
<use href="#m_o" x="517.3" y="495.0" fill="#7f7f7f" class="mk"/>
<use href="#m_o" x="517.4" y="495.0" fill="#7f7f7f" class="mk"/>
<use href="#m_o" x="517.3" y="495.0" fill="#7f7f7f" class="mk"/>
<use href="#m_s" x="542.6" y="494.1" fill="#9a6a3c" class="mk"/>
<use href="#m_s" x="540.7" y="495.4" fill="#9a6a3c" class="mk"/>
<use href="#m_s" x="539.1" y="495.3" fill="#9a6a3c" class="mk"/>
<use href="#m_s" x="541.1" y="493.2" fill="#9a6a3c" class="mk"/>
<use href="#m_s" x="540.2" y="493.2" fill="#9a6a3c" class="mk"/>
<use href="#m_s" x="541.7" y="493.8" fill="#9a6a3c" class="mk"/>
<use href="#m_s" x="541.1" y="494.5" fill="#9a6a3c" class="mk"/>
<use href="#m_s" x="543.0" y="494.7" fill="#9a6a3c" class="mk"/>
<use href="#m_s" x="539.9" y="494.6" fill="#9a6a3c" class="mk"/>
<use href="#m_d" x="465.7" y="501.4" fill="#bcbd22" class="mk"/>
<use href="#m_p" x="464.6" y="499.6" fill="#bcbd22" class="mk"/>
<use href="#m_d" x="465.9" y="498.7" fill="#bcbd22" class="mk"/>
<use href="#m_p" x="464.4" y="500.1" fill="#bcbd22" class="mk"/>
<use href="#m_d" x="464.5" y="501.1" fill="#bcbd22" class="mk"/>
<use href="#m_p" x="464.4" y="498.2" fill="#bcbd22" class="mk"/>
<use href="#m_d" x="465.4" y="500.0" fill="#bcbd22" class="mk"/>
<use href="#m_p" x="466.8" y="501.5" fill="#bcbd22" class="mk"/>
<use href="#m_t" x="478.7" y="500.9" fill="#bcbd22" class="mk"/>
<use href="#m_t" x="479.5" y="501.0" fill="#bcbd22" class="mk"/>
<use href="#m_t" x="479.3" y="500.8" fill="#bcbd22" class="mk"/>
<use href="#m_t" x="480.3" y="501.6" fill="#bcbd22" class="mk"/>
<use href="#m_t" x="480.0" y="501.4" fill="#bcbd22" class="mk"/>
<use href="#m_t" x="480.4" y="500.6" fill="#bcbd22" class="mk"/>
<use href="#m_s" x="496.5" y="495.9" fill="#bcbd22" class="mk"/>
<use href="#m_s" x="492.7" y="497.0" fill="#bcbd22" class="mk"/>
<use href="#m_s" x="492.9" y="496.1" fill="#bcbd22" class="mk"/>
<use href="#m_s" x="495.0" y="495.7" fill="#bcbd22" class="mk"/>
<use href="#m_s" x="494.0" y="496.5" fill="#bcbd22" class="mk"/>
<use href="#m_s" x="496.5" y="495.5" fill="#bcbd22" class="mk"/>
<use href="#m_s" x="494.5" y="496.9" fill="#bcbd22" class="mk"/>
<use href="#m_s" x="492.9" y="496.4" fill="#bcbd22" class="mk"/>
<use href="#m_o" x="504.5" y="506.1" fill="#bcbd22" class="mk"/>
<use href="#m_o" x="505.2" y="506.6" fill="#bcbd22" class="mk"/>
<use href="#m_o" x="504.9" y="506.3" fill="#bcbd22" class="mk"/>
<use href="#m_o" x="505.4" y="506.5" fill="#bcbd22" class="mk"/>
<use href="#m_o" x="503.7" y="506.9" fill="#bcbd22" class="mk"/>
<use href="#m_o" x="504.7" y="507.4" fill="#bcbd22" class="mk"/>
<use href="#m_o" x="517.5" y="506.8" fill="#bcbd22" class="mk"/>
<use href="#m_o" x="518.0" y="507.4" fill="#bcbd22" class="mk"/>
<use href="#m_o" x="519.3" y="507.5" fill="#bcbd22" class="mk"/>
<use href="#m_o" x="518.7" y="509.3" fill="#bcbd22" class="mk"/>
<use href="#m_o" x="517.8" y="509.8" fill="#bcbd22" class="mk"/>
<use href="#m_o" x="518.3" y="507.4" fill="#bcbd22" class="mk"/>
<use href="#m_o" x="517.5" y="503.4" fill="#bcbd22" class="mk"/>
<use href="#m_o" x="517.6" y="506.8" fill="#bcbd22" class="mk"/>
<use href="#m_o" x="528.1" y="501.3" fill="#9a6a3c" class="mk"/>
<use href="#m_o" x="527.8" y="500.9" fill="#9a6a3c" class="mk"/>
<use href="#m_o" x="530.4" y="501.0" fill="#9a6a3c" class="mk"/>
<use href="#m_o" x="530.5" y="501.3" fill="#9a6a3c" class="mk"/>
<use href="#m_o" x="530.3" y="499.3" fill="#9a6a3c" class="mk"/>
<use href="#m_o" x="529.0" y="500.0" fill="#9a6a3c" class="mk"/>
<use href="#m_s" x="497.3" y="518.3" fill="#bcbd22" class="mk"/>
<use href="#m_s" x="498.1" y="515.3" fill="#bcbd22" class="mk"/>
<use href="#m_s" x="496.6" y="514.6" fill="#bcbd22" class="mk"/>
<use href="#m_s" x="498.1" y="518.8" fill="#bcbd22" class="mk"/>
<use href="#m_s" x="496.4" y="515.0" fill="#bcbd22" class="mk"/>
<use href="#m_s" x="496.6" y="519.7" fill="#bcbd22" class="mk"/>
<use href="#m_s" x="496.4" y="517.4" fill="#bcbd22" class="mk"/>
<use href="#m_s" x="498.5" y="515.2" fill="#bcbd22" class="mk"/>
<use href="#m_o" x="533.7" y="515.1" fill="#e377c2" class="mk"/>
<use href="#m_o" x="533.5" y="515.4" fill="#e377c2" class="mk"/>
<use href="#m_o" x="531.7" y="516.5" fill="#e377c2" class="mk"/>
<use href="#m_o" x="533.0" y="516.8" fill="#e377c2" class="mk"/>
<use href="#m_o" x="533.3" y="516.7" fill="#e377c2" class="mk"/>
<use href="#m_o" x="533.6" y="514.3" fill="#e377c2" class="mk"/>
<use href="#m_o" x="513.2" y="525.8" fill="#9467bd" class="mk"/>
<use href="#m_o" x="514.9" y="524.6" fill="#9467bd" class="mk"/>
<use href="#m_o" x="515.4" y="522.2" fill="#9467bd" class="mk"/>
<use href="#m_o" x="515.0" y="523.8" fill="#9467bd" class="mk"/>
<use href="#m_o" x="513.4" y="523.2" fill="#9467bd" class="mk"/>
<use href="#m_o" x="515.6" y="523.3" fill="#9467bd" class="mk"/>
<use href="#m_o" x="515.2" y="520.6" fill="#9467bd" class="mk"/>
<use href="#m_o" x="514.3" y="523.0" fill="#9467bd" class="mk"/>
<use href="#m_p" x="464.6" y="526.2" fill="#bcbd22" class="mk"/>
<use href="#m_p" x="464.5" y="525.2" fill="#bcbd22" class="mk"/>
<use href="#m_p" x="464.5" y="525.6" fill="#bcbd22" class="mk"/>
<use href="#m_p" x="464.7" y="524.6" fill="#bcbd22" class="mk"/>
<use href="#m_p" x="463.9" y="526.3" fill="#bcbd22" class="mk"/>
<use href="#m_p" x="464.1" y="525.8" fill="#bcbd22" class="mk"/>
<use href="#m_t" x="476.4" y="525.8" fill="#bcbd22" class="mk"/>
<use href="#m_t" x="476.2" y="524.9" fill="#bcbd22" class="mk"/>
<use href="#m_t" x="476.9" y="525.6" fill="#bcbd22" class="mk"/>
<use href="#m_t" x="478.6" y="524.6" fill="#bcbd22" class="mk"/>
<use href="#m_t" x="476.3" y="525.4" fill="#bcbd22" class="mk"/>
<use href="#m_t" x="477.3" y="524.5" fill="#bcbd22" class="mk"/>
<use href="#m_s" x="538.9" y="528.5" fill="#e377c2" class="mk"/>
<use href="#m_s" x="541.9" y="528.9" fill="#e377c2" class="mk"/>
<use href="#m_s" x="538.6" y="527.4" fill="#e377c2" class="mk"/>
<use href="#m_s" x="539.0" y="527.8" fill="#e377c2" class="mk"/>
<use href="#m_s" x="539.5" y="526.3" fill="#e377c2" class="mk"/>
<use href="#m_s" x="541.3" y="526.0" fill="#e377c2" class="mk"/>
<use href="#m_s" x="542.6" y="526.0" fill="#e377c2" class="mk"/>
<use href="#m_s" x="539.7" y="528.7" fill="#e377c2" class="mk"/>
<use href="#m_s" x="539.7" y="526.6" fill="#e377c2" class="mk"/>
<use href="#m_t" x="547.0" y="538.5" fill="#e377c2" class="mk"/>
<use href="#m_t" x="547.1" y="540.8" fill="#e377c2" class="mk"/>
<use href="#m_t" x="547.7" y="534.9" fill="#e377c2" class="mk"/>
<use href="#m_t" x="545.6" y="537.7" fill="#e377c2" class="mk"/>
<use href="#m_t" x="545.2" y="540.8" fill="#e377c2" class="mk"/>
<use href="#m_t" x="545.6" y="541.3" fill="#e377c2" class="mk"/>
<use href="#m_t" x="544.5" y="537.6" fill="#e377c2" class="mk"/>
<use href="#m_t" x="546.5" y="540.2" fill="#e377c2" class="mk"/>
<use href="#m_t" x="545.9" y="541.0" fill="#e377c2" class="mk"/>
<use href="#m_t" x="545.3" y="536.9" fill="#e377c2" class="mk"/>
<use href="#m_p" x="545.5" y="544.3" fill="#e377c2" class="mk"/>
<use href="#m_p" x="547.4" y="547.3" fill="#e377c2" class="mk"/>
<use href="#m_p" x="545.5" y="545.9" fill="#e377c2" class="mk"/>
<use href="#m_p" x="547.1" y="548.7" fill="#e377c2" class="mk"/>
<use href="#m_p" x="547.5" y="547.7" fill="#e377c2" class="mk"/>
<use href="#m_p" x="545.7" y="548.2" fill="#e377c2" class="mk"/>
<use href="#m_p" x="544.4" y="544.0" fill="#e377c2" class="mk"/>
<use href="#m_p" x="548.4" y="546.2" fill="#e377c2" class="mk"/>
<use href="#m_p" x="547.7" y="546.7" fill="#e377c2" class="mk"/>
<use href="#m_p" x="546.5" y="546.9" fill="#e377c2" class="mk"/>
<use href="#m_p" x="546.8" y="546.5" fill="#e377c2" class="mk"/>
<use href="#m_d" x="545.9" y="556.5" fill="#e377c2" class="mk"/>
<use href="#m_r" x="546.2" y="561.9" fill="#e377c2" class="mk"/>
<use href="#m_d" x="547.7" y="553.9" fill="#e377c2" class="mk"/>
<use href="#m_r" x="544.0" y="554.9" fill="#e377c2" class="mk"/>
<use href="#m_d" x="542.3" y="558.2" fill="#e377c2" class="mk"/>
<use href="#m_r" x="546.3" y="554.5" fill="#e377c2" class="mk"/>
<use href="#m_d" x="546.4" y="562.1" fill="#e377c2" class="mk"/>
<use href="#m_r" x="547.6" y="561.2" fill="#e377c2" class="mk"/>
<use href="#m_d" x="542.6" y="560.8" fill="#e377c2" class="mk"/>
<use href="#m_r" x="545.0" y="556.1" fill="#e377c2" class="mk"/>
<use href="#m_d" x="546.4" y="556.7" fill="#e377c2" class="mk"/>
<use href="#m_r" x="546.7" y="562.5" fill="#e377c2" class="mk"/>
<use href="#m_d" x="543.8" y="554.6" fill="#e377c2" class="mk"/>
<use href="#m_r" x="546.6" y="554.9" fill="#e377c2" class="mk"/>
<use href="#m_d" x="542.0" y="562.5" fill="#e377c2" class="mk"/>
<use href="#m_r" x="542.8" y="556.0" fill="#e377c2" class="mk"/>
<ellipse cx="212" cy="205.2" rx="27.5" ry="37.5" fill="none" stroke="#e8262a" stroke-width="1.6" stroke-dasharray="1.3,1.3"/>
<ellipse cx="528" cy="134.5" rx="34.8" ry="18.3" fill="none" stroke="#e8262a" stroke-width="1.6" stroke-dasharray="1.3,1.3"/>
<text x="582.20" y="232.40" font-size="7.8" text-anchor="start" fill="#111" >Compound Group</text>
<line x1="582.20" y1="233.60" x2="644.00" y2="233.60" stroke="#111" stroke-width="0.7" />
<circle cx="585.5" cy="238.50" r="3.6" fill="#a0a0a0" stroke="#555" stroke-width="0.9"/>
<text x="590.70" y="241.30" font-size="7.8" text-anchor="start" fill="#111" >DMSO</text>
<circle cx="585.5" cy="246.86" r="3.6" fill="#ffa040" stroke="#555" stroke-width="0.9"/>
<text x="590.70" y="249.66" font-size="7.8" text-anchor="start" fill="#111" >Trastuzumab</text>
<circle cx="585.5" cy="255.22" r="3.6" fill="#b08060" stroke="#555" stroke-width="0.9"/>
<text x="590.70" y="258.02" font-size="7.8" text-anchor="start" fill="#111" >Pertuzumab</text>
<circle cx="585.5" cy="263.58" r="3.6" fill="#e05a5a" stroke="#555" stroke-width="0.9"/>
<text x="590.70" y="266.38" font-size="7.8" text-anchor="start" fill="#111" >Lap-VHL/Tuc-VHL</text>
<circle cx="585.5" cy="271.94" r="3.6" fill="#c8c850" stroke="#555" stroke-width="0.9"/>
<text x="590.7" y="274.74" font-size="7.8" fill="#111">Lap-VHL<tspan font-size="4.2" dy="2">Inactive</tspan><tspan dy="-2">/Tuc-VHL</tspan><tspan font-size="4.2" dy="2">Inactive</tspan></text>
<circle cx="585.5" cy="280.30" r="3.6" fill="#a98bd8" stroke="#555" stroke-width="0.9"/>
<text x="590.70" y="283.10" font-size="7.8" text-anchor="start" fill="#111" >Alpelisib</text>
<circle cx="585.5" cy="288.66" r="3.6" fill="#ee99d8" stroke="#555" stroke-width="0.9"/>
<text x="590.70" y="291.46" font-size="7.8" text-anchor="start" fill="#111" >Ipatasertib</text>
<circle cx="585.5" cy="297.02" r="3.6" fill="#5b9bd5" stroke="#555" stroke-width="0.9"/>
<text x="590.70" y="299.82" font-size="7.8" text-anchor="start" fill="#111" >Neratinib</text>
<circle cx="585.5" cy="305.38" r="3.6" fill="#40c8e0" stroke="#555" stroke-width="0.9"/>
<text x="590.70" y="308.18" font-size="7.8" text-anchor="start" fill="#111" >BDTX-189</text>
<circle cx="585.5" cy="313.74" r="3.6" fill="#5cb85c" stroke="#555" stroke-width="0.9"/>
<text x="590.70" y="316.54" font-size="7.8" text-anchor="start" fill="#111" >Lapatinib and Tucatinib</text>
<text x="582.20" y="326.60" font-size="7.8" text-anchor="start" fill="#111" >Dose Order</text>
<line x1="582.20" y1="327.80" x2="622.00" y2="327.80" stroke="#111" stroke-width="0.7" />
<circle cx="585.4" cy="333.8" r="3.0" fill="none" stroke="#333" stroke-width="1.05"/>
<text x="591.20" y="336.50" font-size="7.8" text-anchor="start" fill="#111" >0</text>
<rect x="582.4" y="339.3" width="6" height="6" fill="none" stroke="#333" stroke-width="1.05"/>
<text x="591.20" y="345.00" font-size="7.8" text-anchor="start" fill="#111" >1</text>
<polygon points="585.4,347.2 588.9,353.6 581.9,353.6" fill="none" stroke="#333" stroke-width="1.05"/>
<text x="591.20" y="353.50" font-size="7.8" text-anchor="start" fill="#111" >2</text>
<polygon points="584.1,356.1 586.7,356.1 586.7,358.1 588.7,358.1 588.7,360.7 586.7,360.7 586.7,362.7 584.1,362.7 584.1,360.7 582.1,360.7 582.1,358.1 584.1,358.1" fill="none" stroke="#333" stroke-width="1.05"/>
<text x="591.20" y="362.10" font-size="7.8" text-anchor="start" fill="#111" >3</text>
<polygon points="585.4,364.6 588.8,368.0 585.4,371.4 582.0,368.0" fill="none" stroke="#333" stroke-width="1.05"/>
<text x="591.20" y="370.70" font-size="7.8" text-anchor="start" fill="#111" >4</text>
<polygon points="589.0,376.6 582.6,373.0 582.6,380.20000000000005" fill="none" stroke="#333" stroke-width="1.05"/>
<text x="591.20" y="379.30" font-size="7.8" text-anchor="start" fill="#111" >5</text>
<g shape-rendering="crispEdges">
<rect x="62.40" y="772.34" width="2.50" height="2.66" fill="#82a8c9" />
<rect x="64.90" y="773.60" width="2.50" height="1.40" fill="#82a8c9" />
<rect x="67.40" y="774.42" width="2.50" height="0.58" fill="#82a8c9" />
<rect x="69.90" y="774.32" width="2.50" height="0.68" fill="#82a8c9" />
<rect x="72.40" y="773.29" width="2.50" height="1.71" fill="#82a8c9" />
<rect x="74.90" y="771.38" width="2.50" height="3.62" fill="#82a8c9" />
<rect x="77.40" y="768.06" width="2.50" height="6.94" fill="#82a8c9" />
<rect x="79.90" y="762.99" width="2.50" height="12.01" fill="#82a8c9" />
<rect x="82.40" y="756.24" width="2.50" height="18.76" fill="#82a8c9" />
<rect x="84.90" y="747.47" width="2.50" height="27.53" fill="#82a8c9" />
<rect x="87.40" y="737.47" width="2.50" height="37.53" fill="#82a8c9" />
<rect x="89.90" y="729.34" width="2.50" height="45.66" fill="#82a8c9" />
<rect x="92.40" y="722.38" width="2.50" height="52.62" fill="#82a8c9" />
<rect x="94.90" y="717.72" width="2.50" height="57.28" fill="#82a8c9" />
<rect x="97.40" y="709.17" width="2.50" height="65.83" fill="#82a8c9" />
<rect x="99.90" y="696.41" width="2.50" height="78.59" fill="#82a8c9" />
<rect x="102.40" y="693.13" width="2.50" height="81.87" fill="#82a8c9" />
<rect x="104.90" y="685.48" width="2.50" height="89.52" fill="#82a8c9" />
<rect x="107.40" y="683.08" width="2.50" height="91.92" fill="#82a8c9" />
<rect x="109.90" y="676.19" width="2.50" height="98.81" fill="#82a8c9" />
<rect x="112.40" y="673.73" width="2.50" height="101.27" fill="#82a8c9" />
<rect x="114.90" y="678.76" width="2.50" height="96.24" fill="#82a8c9" />
<rect x="117.40" y="681.43" width="2.50" height="93.57" fill="#82a8c9" />
<rect x="119.90" y="681.75" width="2.50" height="93.25" fill="#82a8c9" />
<rect x="122.40" y="685.77" width="2.50" height="89.23" fill="#82a8c9" />
<rect x="124.90" y="685.12" width="2.50" height="89.88" fill="#82a8c9" />
<rect x="127.40" y="683.56" width="2.50" height="91.44" fill="#82a8c9" />
<rect x="129.90" y="689.16" width="2.50" height="85.84" fill="#82a8c9" />
<rect x="132.40" y="689.97" width="2.50" height="85.03" fill="#82a8c9" />
<rect x="134.90" y="692.89" width="2.50" height="82.11" fill="#82a8c9" />
<rect x="137.40" y="699.48" width="2.50" height="75.52" fill="#82a8c9" />
<rect x="139.90" y="710.02" width="2.50" height="64.98" fill="#82a8c9" />
<rect x="142.40" y="714.85" width="2.50" height="60.15" fill="#82a8c9" />
<rect x="144.90" y="722.11" width="2.50" height="52.89" fill="#82a8c9" />
<rect x="147.40" y="725.72" width="2.50" height="49.28" fill="#82a8c9" />
<rect x="149.90" y="729.92" width="2.50" height="45.08" fill="#82a8c9" />
<rect x="152.40" y="731.80" width="2.50" height="43.20" fill="#82a8c9" />
<rect x="154.90" y="738.17" width="2.50" height="36.83" fill="#82a8c9" />
<rect x="157.40" y="742.18" width="2.50" height="32.82" fill="#82a8c9" />
<rect x="159.90" y="747.75" width="2.50" height="27.25" fill="#82a8c9" />
<rect x="162.40" y="750.84" width="2.50" height="24.16" fill="#82a8c9" />
<rect x="164.90" y="755.67" width="2.50" height="19.33" fill="#82a8c9" />
<rect x="167.40" y="758.41" width="2.50" height="16.59" fill="#82a8c9" />
<rect x="169.90" y="760.71" width="2.50" height="14.29" fill="#82a8c9" />
<rect x="172.40" y="763.87" width="2.50" height="11.13" fill="#82a8c9" />
<rect x="174.90" y="765.84" width="2.50" height="9.16" fill="#82a8c9" />
<rect x="177.40" y="767.68" width="2.50" height="7.32" fill="#82a8c9" />
<rect x="179.90" y="769.43" width="2.50" height="5.57" fill="#82a8c9" />
<rect x="182.40" y="770.72" width="2.50" height="4.28" fill="#82a8c9" />
<rect x="184.90" y="771.70" width="2.50" height="3.30" fill="#82a8c9" />
<rect x="187.40" y="771.97" width="2.50" height="3.03" fill="#82a8c9" />
<rect x="189.90" y="772.57" width="2.50" height="2.43" fill="#82a8c9" />
<rect x="192.40" y="773.00" width="2.50" height="2.00" fill="#82a8c9" />
<rect x="194.90" y="773.47" width="2.50" height="1.53" fill="#82a8c9" />
<rect x="197.40" y="773.80" width="2.50" height="1.20" fill="#82a8c9" />
<rect x="199.90" y="773.98" width="2.50" height="1.02" fill="#82a8c9" />
<rect x="202.40" y="774.09" width="2.50" height="0.91" fill="#82a8c9" />
<rect x="204.90" y="774.28" width="2.50" height="0.72" fill="#82a8c9" />
<rect x="207.40" y="774.47" width="2.50" height="0.53" fill="#82a8c9" />
<rect x="209.90" y="774.66" width="2.50" height="0.34" fill="#82a8c9" />
<rect x="212.40" y="774.80" width="2.50" height="0.20" fill="#82a8c9" />
<rect x="214.90" y="774.85" width="2.50" height="0.15" fill="#82a8c9" />
<rect x="129.90" y="774.69" width="2.50" height="0.31" fill="#98765a" />
<rect x="132.40" y="774.14" width="2.50" height="0.86" fill="#98765a" />
<rect x="134.90" y="773.31" width="2.50" height="1.69" fill="#98765a" />
<rect x="137.40" y="772.29" width="2.50" height="2.71" fill="#98765a" />
<rect x="139.90" y="771.27" width="2.50" height="3.73" fill="#98765a" />
<rect x="142.40" y="769.41" width="2.50" height="5.59" fill="#98765a" />
<rect x="144.90" y="767.29" width="2.50" height="7.71" fill="#98765a" />
<rect x="147.40" y="764.16" width="2.50" height="10.84" fill="#98765a" />
<rect x="149.90" y="761.57" width="2.50" height="13.43" fill="#98765a" />
<rect x="152.40" y="757.32" width="2.50" height="17.68" fill="#98765a" />
<rect x="154.90" y="753.70" width="2.50" height="21.30" fill="#98765a" />
<rect x="157.40" y="748.24" width="2.50" height="26.76" fill="#98765a" />
<rect x="159.90" y="747.75" width="2.50" height="27.25" fill="#98765a" />
<rect x="159.90" y="742.10" width="2.50" height="5.65" fill="#dcaa7e" />
<rect x="162.40" y="750.84" width="2.50" height="24.16" fill="#98765a" />
<rect x="162.40" y="734.39" width="2.50" height="16.45" fill="#dcaa7e" />
<rect x="164.90" y="755.67" width="2.50" height="19.33" fill="#98765a" />
<rect x="164.90" y="725.93" width="2.50" height="29.74" fill="#dcaa7e" />
<rect x="167.40" y="758.41" width="2.50" height="16.59" fill="#98765a" />
<rect x="167.40" y="720.98" width="2.50" height="37.43" fill="#dcaa7e" />
<rect x="169.90" y="760.71" width="2.50" height="14.29" fill="#98765a" />
<rect x="169.90" y="711.34" width="2.50" height="49.37" fill="#dcaa7e" />
<rect x="172.40" y="763.87" width="2.50" height="11.13" fill="#98765a" />
<rect x="172.40" y="703.97" width="2.50" height="59.90" fill="#dcaa7e" />
<rect x="174.90" y="765.84" width="2.50" height="9.16" fill="#98765a" />
<rect x="174.90" y="699.97" width="2.50" height="65.88" fill="#dcaa7e" />
<rect x="177.40" y="767.68" width="2.50" height="7.32" fill="#98765a" />
<rect x="177.40" y="693.31" width="2.50" height="74.37" fill="#dcaa7e" />
<rect x="179.90" y="769.43" width="2.50" height="5.57" fill="#98765a" />
<rect x="179.90" y="684.95" width="2.50" height="84.48" fill="#dcaa7e" />
<rect x="182.40" y="770.72" width="2.50" height="4.28" fill="#98765a" />
<rect x="182.40" y="668.84" width="2.50" height="101.87" fill="#dcaa7e" />
<rect x="184.90" y="771.70" width="2.50" height="3.30" fill="#98765a" />
<rect x="184.90" y="667.83" width="2.50" height="103.87" fill="#dcaa7e" />
<rect x="187.40" y="771.97" width="2.50" height="3.03" fill="#98765a" />
<rect x="187.40" y="655.28" width="2.50" height="116.69" fill="#dcaa7e" />
<rect x="189.90" y="772.57" width="2.50" height="2.43" fill="#98765a" />
<rect x="189.90" y="651.95" width="2.50" height="120.62" fill="#dcaa7e" />
<rect x="192.40" y="773.00" width="2.50" height="2.00" fill="#98765a" />
<rect x="192.40" y="643.23" width="2.50" height="129.78" fill="#dcaa7e" />
<rect x="194.90" y="773.47" width="2.50" height="1.53" fill="#98765a" />
<rect x="194.90" y="646.22" width="2.50" height="127.26" fill="#dcaa7e" />
<rect x="197.40" y="773.80" width="2.50" height="1.20" fill="#98765a" />
<rect x="197.40" y="643.51" width="2.50" height="130.29" fill="#dcaa7e" />
<rect x="199.90" y="773.98" width="2.50" height="1.02" fill="#98765a" />
<rect x="199.90" y="651.68" width="2.50" height="122.30" fill="#dcaa7e" />
<rect x="202.40" y="774.09" width="2.50" height="0.91" fill="#98765a" />
<rect x="202.40" y="661.74" width="2.50" height="112.35" fill="#dcaa7e" />
<rect x="204.90" y="774.28" width="2.50" height="0.72" fill="#98765a" />
<rect x="204.90" y="663.12" width="2.50" height="111.16" fill="#dcaa7e" />
<rect x="207.40" y="774.47" width="2.50" height="0.53" fill="#98765a" />
<rect x="207.40" y="675.58" width="2.50" height="98.89" fill="#dcaa7e" />
<rect x="209.90" y="774.66" width="2.50" height="0.34" fill="#98765a" />
<rect x="209.90" y="690.12" width="2.50" height="84.55" fill="#dcaa7e" />
<rect x="212.40" y="774.80" width="2.50" height="0.20" fill="#98765a" />
<rect x="212.40" y="699.82" width="2.50" height="74.98" fill="#dcaa7e" />
<rect x="214.90" y="774.85" width="2.50" height="0.15" fill="#98765a" />
<rect x="214.90" y="714.14" width="2.50" height="60.72" fill="#dcaa7e" />
<rect x="217.40" y="723.73" width="2.50" height="51.16" fill="#dcaa7e" />
<rect x="219.90" y="735.71" width="2.50" height="39.23" fill="#dcaa7e" />
<rect x="222.40" y="743.76" width="2.50" height="31.23" fill="#dcaa7e" />
<rect x="224.90" y="752.83" width="2.50" height="22.17" fill="#dcaa7e" />
<rect x="227.40" y="759.06" width="2.50" height="15.94" fill="#dcaa7e" />
<rect x="229.90" y="762.20" width="2.50" height="12.80" fill="#dcaa7e" />
<rect x="232.40" y="766.49" width="2.50" height="8.51" fill="#dcaa7e" />
<rect x="234.90" y="769.75" width="2.50" height="5.25" fill="#dcaa7e" />
<rect x="237.40" y="771.28" width="2.50" height="3.72" fill="#dcaa7e" />
<rect x="239.90" y="772.39" width="2.50" height="2.61" fill="#dcaa7e" />
<rect x="242.40" y="773.66" width="2.50" height="1.34" fill="#dcaa7e" />
<rect x="244.90" y="774.44" width="2.50" height="0.56" fill="#dcaa7e" />
<rect x="247.40" y="774.57" width="2.50" height="0.43" fill="#dcaa7e" />
<rect x="249.90" y="774.64" width="2.50" height="0.36" fill="#dcaa7e" />
<rect x="252.40" y="774.71" width="2.50" height="0.29" fill="#dcaa7e" />
<rect x="254.90" y="774.78" width="2.50" height="0.22" fill="#dcaa7e" />
<rect x="257.40" y="774.84" width="2.50" height="0.16" fill="#dcaa7e" />
</g>
<line x1="62.40" y1="772.34" x2="62.40" y2="775.00" stroke="#5b7d99" stroke-width="0.55" />
<line x1="64.90" y1="773.60" x2="64.90" y2="775.00" stroke="#5b7d99" stroke-width="0.55" />
<line x1="67.40" y1="774.42" x2="67.40" y2="775.00" stroke="#5b7d99" stroke-width="0.55" />
<line x1="69.90" y1="774.32" x2="69.90" y2="775.00" stroke="#5b7d99" stroke-width="0.55" />
<line x1="72.40" y1="773.29" x2="72.40" y2="775.00" stroke="#5b7d99" stroke-width="0.55" />
<line x1="74.90" y1="771.38" x2="74.90" y2="775.00" stroke="#5b7d99" stroke-width="0.55" />
<line x1="77.40" y1="768.06" x2="77.40" y2="775.00" stroke="#5b7d99" stroke-width="0.55" />
<line x1="79.90" y1="762.99" x2="79.90" y2="775.00" stroke="#5b7d99" stroke-width="0.55" />
<line x1="82.40" y1="756.24" x2="82.40" y2="775.00" stroke="#5b7d99" stroke-width="0.55" />
<line x1="84.90" y1="747.47" x2="84.90" y2="775.00" stroke="#5b7d99" stroke-width="0.55" />
<line x1="87.40" y1="737.47" x2="87.40" y2="775.00" stroke="#5b7d99" stroke-width="0.55" />
<line x1="89.90" y1="729.34" x2="89.90" y2="775.00" stroke="#5b7d99" stroke-width="0.55" />
<line x1="92.40" y1="722.38" x2="92.40" y2="775.00" stroke="#5b7d99" stroke-width="0.55" />
<line x1="94.90" y1="717.72" x2="94.90" y2="775.00" stroke="#5b7d99" stroke-width="0.55" />
<line x1="97.40" y1="709.17" x2="97.40" y2="775.00" stroke="#5b7d99" stroke-width="0.55" />
<line x1="99.90" y1="696.41" x2="99.90" y2="775.00" stroke="#5b7d99" stroke-width="0.55" />
<line x1="102.40" y1="693.13" x2="102.40" y2="775.00" stroke="#5b7d99" stroke-width="0.55" />
<line x1="104.90" y1="685.48" x2="104.90" y2="775.00" stroke="#5b7d99" stroke-width="0.55" />
<line x1="107.40" y1="683.08" x2="107.40" y2="775.00" stroke="#5b7d99" stroke-width="0.55" />
<line x1="109.90" y1="676.19" x2="109.90" y2="775.00" stroke="#5b7d99" stroke-width="0.55" />
<line x1="112.40" y1="673.73" x2="112.40" y2="775.00" stroke="#5b7d99" stroke-width="0.55" />
<line x1="114.90" y1="678.76" x2="114.90" y2="775.00" stroke="#5b7d99" stroke-width="0.55" />
<line x1="117.40" y1="681.43" x2="117.40" y2="775.00" stroke="#5b7d99" stroke-width="0.55" />
<line x1="119.90" y1="681.75" x2="119.90" y2="775.00" stroke="#5b7d99" stroke-width="0.55" />
<line x1="122.40" y1="685.77" x2="122.40" y2="775.00" stroke="#5b7d99" stroke-width="0.55" />
<line x1="124.90" y1="685.12" x2="124.90" y2="775.00" stroke="#5b7d99" stroke-width="0.55" />
<line x1="127.40" y1="683.56" x2="127.40" y2="775.00" stroke="#5b7d99" stroke-width="0.55" />
<line x1="129.90" y1="774.69" x2="129.90" y2="775.00" stroke="#735540" stroke-width="0.55" />
<line x1="129.90" y1="689.16" x2="129.90" y2="774.69" stroke="#5b7d99" stroke-width="0.55" />
<line x1="132.40" y1="774.14" x2="132.40" y2="775.00" stroke="#735540" stroke-width="0.55" />
<line x1="132.40" y1="689.97" x2="132.40" y2="774.14" stroke="#5b7d99" stroke-width="0.55" />
<line x1="134.90" y1="773.31" x2="134.90" y2="775.00" stroke="#735540" stroke-width="0.55" />
<line x1="134.90" y1="692.89" x2="134.90" y2="773.31" stroke="#5b7d99" stroke-width="0.55" />
<line x1="137.40" y1="772.29" x2="137.40" y2="775.00" stroke="#735540" stroke-width="0.55" />
<line x1="137.40" y1="699.48" x2="137.40" y2="772.29" stroke="#5b7d99" stroke-width="0.55" />
<line x1="139.90" y1="771.27" x2="139.90" y2="775.00" stroke="#735540" stroke-width="0.55" />
<line x1="139.90" y1="710.02" x2="139.90" y2="771.27" stroke="#5b7d99" stroke-width="0.55" />
<line x1="142.40" y1="769.41" x2="142.40" y2="775.00" stroke="#735540" stroke-width="0.55" />
<line x1="142.40" y1="714.85" x2="142.40" y2="769.41" stroke="#5b7d99" stroke-width="0.55" />
<line x1="144.90" y1="767.29" x2="144.90" y2="775.00" stroke="#735540" stroke-width="0.55" />
<line x1="144.90" y1="722.11" x2="144.90" y2="767.29" stroke="#5b7d99" stroke-width="0.55" />
<line x1="147.40" y1="764.16" x2="147.40" y2="775.00" stroke="#735540" stroke-width="0.55" />
<line x1="147.40" y1="725.72" x2="147.40" y2="764.16" stroke="#5b7d99" stroke-width="0.55" />
<line x1="149.90" y1="761.57" x2="149.90" y2="775.00" stroke="#735540" stroke-width="0.55" />
<line x1="149.90" y1="729.92" x2="149.90" y2="761.57" stroke="#5b7d99" stroke-width="0.55" />
<line x1="152.40" y1="757.32" x2="152.40" y2="775.00" stroke="#735540" stroke-width="0.55" />
<line x1="152.40" y1="731.80" x2="152.40" y2="757.32" stroke="#5b7d99" stroke-width="0.55" />
<line x1="154.90" y1="753.70" x2="154.90" y2="775.00" stroke="#735540" stroke-width="0.55" />
<line x1="154.90" y1="738.17" x2="154.90" y2="753.70" stroke="#5b7d99" stroke-width="0.55" />
<line x1="157.40" y1="748.24" x2="157.40" y2="775.00" stroke="#735540" stroke-width="0.55" />
<line x1="157.40" y1="742.18" x2="157.40" y2="748.24" stroke="#5b7d99" stroke-width="0.55" />
<line x1="159.90" y1="747.75" x2="159.90" y2="775.00" stroke="#735540" stroke-width="0.55" />
<line x1="159.90" y1="742.10" x2="159.90" y2="747.75" stroke="#b3865f" stroke-width="0.55" />
<line x1="162.40" y1="750.84" x2="162.40" y2="775.00" stroke="#735540" stroke-width="0.55" />
<line x1="162.40" y1="734.39" x2="162.40" y2="750.84" stroke="#b3865f" stroke-width="0.55" />
<line x1="164.90" y1="755.67" x2="164.90" y2="775.00" stroke="#735540" stroke-width="0.55" />
<line x1="164.90" y1="725.93" x2="164.90" y2="755.67" stroke="#b3865f" stroke-width="0.55" />
<line x1="167.40" y1="758.41" x2="167.40" y2="775.00" stroke="#735540" stroke-width="0.55" />
<line x1="167.40" y1="720.98" x2="167.40" y2="758.41" stroke="#b3865f" stroke-width="0.55" />
<line x1="169.90" y1="760.71" x2="169.90" y2="775.00" stroke="#735540" stroke-width="0.55" />
<line x1="169.90" y1="711.34" x2="169.90" y2="760.71" stroke="#b3865f" stroke-width="0.55" />
<line x1="172.40" y1="763.87" x2="172.40" y2="775.00" stroke="#735540" stroke-width="0.55" />
<line x1="172.40" y1="703.97" x2="172.40" y2="763.87" stroke="#b3865f" stroke-width="0.55" />
<line x1="174.90" y1="765.84" x2="174.90" y2="775.00" stroke="#735540" stroke-width="0.55" />
<line x1="174.90" y1="699.97" x2="174.90" y2="765.84" stroke="#b3865f" stroke-width="0.55" />
<line x1="177.40" y1="767.68" x2="177.40" y2="775.00" stroke="#735540" stroke-width="0.55" />
<line x1="177.40" y1="693.31" x2="177.40" y2="767.68" stroke="#b3865f" stroke-width="0.55" />
<line x1="179.90" y1="769.43" x2="179.90" y2="775.00" stroke="#735540" stroke-width="0.55" />
<line x1="179.90" y1="684.95" x2="179.90" y2="769.43" stroke="#b3865f" stroke-width="0.55" />
<line x1="182.40" y1="770.72" x2="182.40" y2="775.00" stroke="#735540" stroke-width="0.55" />
<line x1="182.40" y1="668.84" x2="182.40" y2="770.72" stroke="#b3865f" stroke-width="0.55" />
<line x1="184.90" y1="771.70" x2="184.90" y2="775.00" stroke="#735540" stroke-width="0.55" />
<line x1="184.90" y1="667.83" x2="184.90" y2="771.70" stroke="#b3865f" stroke-width="0.55" />
<line x1="187.40" y1="771.97" x2="187.40" y2="775.00" stroke="#735540" stroke-width="0.55" />
<line x1="187.40" y1="655.28" x2="187.40" y2="771.97" stroke="#b3865f" stroke-width="0.55" />
<line x1="189.90" y1="772.57" x2="189.90" y2="775.00" stroke="#735540" stroke-width="0.55" />
<line x1="189.90" y1="651.95" x2="189.90" y2="772.57" stroke="#b3865f" stroke-width="0.55" />
<line x1="192.40" y1="773.00" x2="192.40" y2="775.00" stroke="#735540" stroke-width="0.55" />
<line x1="192.40" y1="643.23" x2="192.40" y2="773.00" stroke="#b3865f" stroke-width="0.55" />
<line x1="194.90" y1="773.47" x2="194.90" y2="775.00" stroke="#735540" stroke-width="0.55" />
<line x1="194.90" y1="646.22" x2="194.90" y2="773.47" stroke="#b3865f" stroke-width="0.55" />
<line x1="197.40" y1="773.80" x2="197.40" y2="775.00" stroke="#735540" stroke-width="0.55" />
<line x1="197.40" y1="643.51" x2="197.40" y2="773.80" stroke="#b3865f" stroke-width="0.55" />
<line x1="199.90" y1="773.98" x2="199.90" y2="775.00" stroke="#735540" stroke-width="0.55" />
<line x1="199.90" y1="651.68" x2="199.90" y2="773.98" stroke="#b3865f" stroke-width="0.55" />
<line x1="202.40" y1="774.09" x2="202.40" y2="775.00" stroke="#735540" stroke-width="0.55" />
<line x1="202.40" y1="661.74" x2="202.40" y2="774.09" stroke="#b3865f" stroke-width="0.55" />
<line x1="204.90" y1="774.28" x2="204.90" y2="775.00" stroke="#735540" stroke-width="0.55" />
<line x1="204.90" y1="663.12" x2="204.90" y2="774.28" stroke="#b3865f" stroke-width="0.55" />
<line x1="207.40" y1="774.47" x2="207.40" y2="775.00" stroke="#735540" stroke-width="0.55" />
<line x1="207.40" y1="675.58" x2="207.40" y2="774.47" stroke="#b3865f" stroke-width="0.55" />
<line x1="209.90" y1="774.66" x2="209.90" y2="775.00" stroke="#735540" stroke-width="0.55" />
<line x1="209.90" y1="690.12" x2="209.90" y2="774.66" stroke="#b3865f" stroke-width="0.55" />
<line x1="212.40" y1="774.80" x2="212.40" y2="775.00" stroke="#735540" stroke-width="0.55" />
<line x1="212.40" y1="699.82" x2="212.40" y2="774.80" stroke="#b3865f" stroke-width="0.55" />
<line x1="214.90" y1="774.85" x2="214.90" y2="775.00" stroke="#735540" stroke-width="0.55" />
<line x1="214.90" y1="714.14" x2="214.90" y2="774.85" stroke="#b3865f" stroke-width="0.55" />
<line x1="217.40" y1="723.73" x2="217.40" y2="775.00" stroke="#b3865f" stroke-width="0.55" />
<line x1="219.90" y1="735.71" x2="219.90" y2="775.00" stroke="#b3865f" stroke-width="0.55" />
<line x1="222.40" y1="743.76" x2="222.40" y2="775.00" stroke="#b3865f" stroke-width="0.55" />
<line x1="224.90" y1="752.83" x2="224.90" y2="775.00" stroke="#b3865f" stroke-width="0.55" />
<line x1="227.40" y1="759.06" x2="227.40" y2="775.00" stroke="#b3865f" stroke-width="0.55" />
<line x1="229.90" y1="762.20" x2="229.90" y2="775.00" stroke="#b3865f" stroke-width="0.55" />
<line x1="232.40" y1="766.49" x2="232.40" y2="775.00" stroke="#b3865f" stroke-width="0.55" />
<line x1="234.90" y1="769.75" x2="234.90" y2="775.00" stroke="#b3865f" stroke-width="0.55" />
<line x1="237.40" y1="771.28" x2="237.40" y2="775.00" stroke="#b3865f" stroke-width="0.55" />
<line x1="239.90" y1="772.39" x2="239.90" y2="775.00" stroke="#b3865f" stroke-width="0.55" />
<line x1="242.40" y1="773.66" x2="242.40" y2="775.00" stroke="#b3865f" stroke-width="0.55" />
<line x1="244.90" y1="774.44" x2="244.90" y2="775.00" stroke="#b3865f" stroke-width="0.55" />
<line x1="247.40" y1="774.57" x2="247.40" y2="775.00" stroke="#b3865f" stroke-width="0.55" />
<line x1="249.90" y1="774.64" x2="249.90" y2="775.00" stroke="#b3865f" stroke-width="0.55" />
<line x1="252.40" y1="774.71" x2="252.40" y2="775.00" stroke="#b3865f" stroke-width="0.55" />
<line x1="254.90" y1="774.78" x2="254.90" y2="775.00" stroke="#b3865f" stroke-width="0.55" />
<line x1="257.40" y1="774.84" x2="257.40" y2="775.00" stroke="#b3865f" stroke-width="0.55" />
<rect x="61.72" y="760.64" width="1.40" height="14.36" fill="#82a8c9" stroke="#5b7d99" stroke-width="0.4"/>
<polyline points="62.40,772.53 62.74,772.37 63.08,772.31 63.42,772.32 63.76,772.40 64.11,772.54 64.45,772.71 64.79,772.90 65.13,773.09 65.47,773.28 65.81,773.47 66.15,773.64 66.49,773.79 66.83,773.94 67.17,774.06 67.52,774.18 67.86,774.27 68.20,774.35 68.54,774.41 68.88,774.45 69.22,774.48 69.56,774.48 69.90,774.47 70.24,774.44 70.58,774.40 70.92,774.34 71.27,774.27 71.61,774.18 71.95,774.08 72.29,773.96 72.63,773.82 72.97,773.68 73.31,773.52 73.65,773.35 73.99,773.17 74.33,772.97 74.68,772.76 75.02,772.52 75.36,772.26 75.70,771.95 76.04,771.61 76.38,771.23 76.72,770.81 77.06,770.37 77.40,769.90 77.75,769.41 78.09,768.90 78.43,768.39 78.77,767.85 79.11,767.30 79.45,766.71 79.79,766.09 80.13,765.41 80.47,764.68 80.81,763.88 81.16,763.02 81.50,762.10 81.84,761.12 82.18,760.11 82.52,759.07 82.86,758.01 83.20,756.92 83.54,755.83 83.88,754.72 84.22,753.60 84.56,752.46 84.91,751.31 85.25,750.14 85.59,748.95 85.93,747.76 86.27,746.55 86.61,745.34 86.95,744.13 87.29,742.92 87.63,741.73 87.97,740.54 88.32,739.37 88.66,738.22 89.00,737.10 89.34,735.99 89.68,734.91 90.02,733.85 90.36,732.80 90.70,731.75 91.04,730.72 91.39,729.69 91.73,728.66 92.07,727.63 92.41,726.61 92.75,725.58 93.09,724.56 93.43,723.53 93.77,722.50 94.11,721.48 94.45,720.45 94.79,719.42 95.14,718.40 95.48,717.37 95.82,716.34 96.16,715.32 96.50,714.28 96.84,713.25 97.18,712.21 97.52,711.16 97.86,710.10 98.20,709.02 98.55,707.94 98.89,706.84 99.23,705.72 99.57,704.60 99.91,703.47 100.25,702.33 100.59,701.19 100.93,700.05 101.27,698.92 101.62,697.80 101.96,696.70 102.30,695.63 102.64,694.59 102.98,693.58 103.32,692.62 103.66,691.70 104.00,690.81 104.34,689.96 104.68,689.14 105.03,688.33 105.37,687.54 105.71,686.76 106.05,685.99 106.39,685.23 106.73,684.48 107.07,683.76 107.41,683.07 107.75,682.40 108.09,681.78 108.44,681.20 108.78,680.65 109.12,680.15 109.46,679.67 109.80,679.21 110.14,678.78 110.48,678.38 110.82,678.00 111.16,677.66 111.50,677.36 111.84,677.12 112.19,676.94 112.53,676.82 112.87,676.77 113.21,676.76 113.55,676.81 113.89,676.88 114.23,676.98 114.57,677.09 114.91,677.21 115.26,677.34 115.60,677.47 115.94,677.60 116.28,677.73 116.62,677.86 116.96,677.99 117.30,678.12 117.64,678.26 117.98,678.40 118.32,678.55 118.66,678.71 119.01,678.88 119.35,679.07 119.69,679.27 120.03,679.48 120.37,679.70 120.71,679.93 121.05,680.17 121.39,680.42 121.73,680.67 122.07,680.92 122.42,681.17 122.76,681.42 123.10,681.67 123.44,681.92 123.78,682.17 124.12,682.43 124.46,682.68 124.80,682.93 125.14,683.19 125.48,683.44 125.83,683.70 126.17,683.95 126.51,684.21 126.85,684.47 127.19,684.72 127.53,684.98 127.87,685.24 128.21,685.50 128.55,685.76 128.90,686.02 129.24,686.28 129.58,686.54 129.92,686.81 130.26,687.08 130.60,687.37 130.94,687.68 131.28,688.01 131.62,688.37 131.96,688.78 132.31,689.22 132.65,689.71 132.99,690.23 133.33,690.79 133.67,691.37 134.01,691.97 134.35,692.58 134.69,693.21 135.03,693.83 135.37,694.46 135.72,695.09 136.06,695.73 136.40,696.36 136.74,697.01 137.08,697.66 137.42,698.33 137.76,699.02 138.10,699.74 138.44,700.48 138.78,701.27 139.12,702.08 139.47,702.93 139.81,703.81 140.15,704.71 140.49,705.62 140.83,706.54 141.17,707.47 141.51,708.40 141.85,709.34 142.19,710.27 142.54,711.20 142.88,712.13 143.22,713.05 143.56,713.96 143.90,714.85 144.24,715.72 144.58,716.56 144.92,717.36 145.26,718.13 145.60,718.86 145.94,719.55 146.29,720.21 146.63,720.85 146.97,721.47 147.31,722.07 147.65,722.68 147.99,723.27 148.33,723.87 148.67,724.46 149.01,725.06 149.35,725.65 149.70,726.25 150.04,726.84 150.38,727.44 150.72,728.04 151.06,728.64 151.40,729.24 151.74,729.84 152.08,730.44 152.42,731.05 152.77,731.65 153.11,732.26 153.45,732.87 153.79,733.48 154.13,734.09 154.47,734.70 154.81,735.31 155.15,735.92 155.49,736.53 155.83,737.14 156.18,737.75 156.52,738.36 156.86,738.98 157.20,739.59 157.54,740.21 157.88,740.83 158.22,741.45 158.56,742.08 158.90,742.71 159.24,743.34 159.59,743.97 159.93,744.60 160.27,745.23 160.61,745.86 160.95,746.49 161.29,747.13 161.63,747.76 161.97,748.39 162.31,749.02 162.65,749.64 163.00,750.26 163.34,750.86 163.68,751.45 164.02,752.01 164.36,752.55 164.70,753.06 165.04,753.53 165.38,753.98 165.72,754.41 166.06,754.82 166.41,755.22 166.75,755.62 167.09,756.01 167.43,756.41 167.77,756.81 168.11,757.21 168.45,757.61 168.79,758.02 169.13,758.42 169.47,758.83 169.81,759.24 170.16,759.65 170.50,760.05 170.84,760.46 171.18,760.87 171.52,761.27 171.86,761.68 172.20,762.08 172.54,762.48 172.88,762.88 173.22,763.26 173.57,763.63 173.91,763.99 174.25,764.33 174.59,764.65 174.93,764.94 175.27,765.22 175.61,765.49 175.95,765.74 176.29,765.98 176.64,766.21 176.98,766.45 177.32,766.68 177.66,766.91 178.00,767.13 178.34,767.36 178.68,767.59 179.02,767.82 179.36,768.05 179.70,768.27 180.05,768.50 180.39,768.73 180.73,768.96 181.07,769.19 181.41,769.41 181.75,769.64 182.09,769.86 182.43,770.08 182.77,770.29 183.11,770.49 183.46,770.68 183.80,770.85 184.14,771.01 184.48,771.15 184.82,771.26 185.16,771.37 185.50,771.46 185.84,771.54 186.18,771.61 186.52,771.68 186.87,771.75 187.21,771.81 187.55,771.88 187.89,771.94 188.23,772.00 188.57,772.07 188.91,772.13 189.25,772.20 189.59,772.26 189.93,772.32 190.28,772.39 190.62,772.45 190.96,772.51 191.30,772.58 191.64,772.64 191.98,772.71 192.32,772.77 192.66,772.83 193.00,772.90 193.34,772.96 193.69,773.03 194.03,773.09 194.37,773.15 194.71,773.22 195.05,773.28 195.39,773.34 195.73,773.40 196.07,773.45 196.41,773.51 196.75,773.55 197.09,773.60 197.44,773.64 197.78,773.67 198.12,773.71 198.46,773.74 198.80,773.76 199.14,773.79 199.48,773.81 199.82,773.84 200.16,773.86 200.51,773.89 200.85,773.91 201.19,773.94 201.53,773.96 201.87,773.99 202.21,774.01 202.55,774.04 202.89,774.06 203.23,774.08 203.57,774.11 203.92,774.13 204.26,774.16 204.60,774.18 204.94,774.21 205.28,774.23 205.62,774.26 205.96,774.28 206.30,774.31 206.64,774.33 206.98,774.35 207.33,774.38 207.67,774.40 208.01,774.43 208.35,774.45 208.69,774.48 209.03,774.50 209.37,774.53 209.71,774.55 210.05,774.57 210.39,774.60 210.74,774.62 211.08,774.65 211.42,774.67 211.76,774.69 212.10,774.71 212.44,774.73 212.78,774.75 213.12,774.77 213.46,774.78 213.80,774.80 214.15,774.81 214.49,774.82 214.83,774.82 215.17,774.83 215.51,774.84 215.85,774.84 216.19,774.85 216.53,774.86 216.87,774.86 217.21,774.87 217.56,774.88 217.90,774.88 218.24,774.89 218.58,774.89 218.92,774.90 219.26,774.91 219.60,774.91 219.94,774.92 220.28,774.93 220.62,774.93 220.97,774.94 221.31,774.94 221.65,774.95 221.99,774.96 222.33,774.96 222.67,774.97 223.01,774.97 223.35,774.98 223.69,774.98 224.03,774.99" fill="none" stroke="#1f77b4" stroke-width="1.5" stroke-linejoin="round"/>
<polyline points="127.19,774.97 127.53,774.95 127.87,774.94 128.21,774.92 128.55,774.90 128.90,774.88 129.24,774.86 129.58,774.83 129.92,774.81 130.26,774.78 130.60,774.75 130.94,774.71 131.28,774.67 131.62,774.62 131.96,774.56 132.31,774.49 132.65,774.40 132.99,774.31 133.33,774.21 133.67,774.10 134.01,773.99 134.35,773.87 134.69,773.76 135.03,773.64 135.37,773.52 135.72,773.40 136.06,773.28 136.40,773.16 136.74,773.04 137.08,772.92 137.42,772.80 137.76,772.68 138.10,772.56 138.44,772.44 138.78,772.32 139.12,772.20 139.47,772.07 139.81,771.94 140.15,771.81 140.49,771.67 140.83,771.52 141.17,771.34 141.51,771.15 141.85,770.94 142.19,770.70 142.54,770.43 142.88,770.15 143.22,769.85 143.56,769.53 143.90,769.21 144.24,768.88 144.58,768.55 144.92,768.21 145.26,767.88 145.60,767.54 145.94,767.21 146.29,766.87 146.63,766.53 146.97,766.20 147.31,765.86 147.65,765.53 147.99,765.19 148.33,764.85 148.67,764.52 149.01,764.18 149.35,763.83 149.70,763.49 150.04,763.13 150.38,762.76 150.72,762.37 151.06,761.95 151.40,761.51 151.74,761.04 152.08,760.53 152.42,760.00 152.77,759.44 153.11,758.87 153.45,758.28 153.79,757.68 154.13,757.07 154.47,756.46 154.81,755.85 155.15,755.24 155.49,754.63 155.83,754.02 156.18,753.41 156.52,752.80 156.86,752.18 157.20,751.57 157.54,750.94 157.88,750.31 158.22,749.66 158.56,748.99 158.90,748.29 159.24,747.56 159.59,746.78 159.93,745.97 160.27,745.11 160.61,744.22 160.95,743.30 161.29,742.35 161.63,741.39 161.97,740.42 162.31,739.44 162.65,738.46 163.00,737.46 163.34,736.46 163.68,735.44 164.02,734.41 164.36,733.35 164.70,732.28 165.04,731.19 165.38,730.09 165.72,728.99 166.06,727.89 166.41,726.82 166.75,725.77 167.09,724.74 167.43,723.74 167.77,722.76 168.11,721.79 168.45,720.84 168.79,719.89 169.13,718.95 169.47,718.01 169.81,717.08 170.16,716.14 170.50,715.20 170.84,714.26 171.18,713.32 171.52,712.38 171.86,711.43 172.20,710.47 172.54,709.50 172.88,708.53 173.22,707.54 173.57,706.54 173.91,705.54 174.25,704.53 174.59,703.51 174.93,702.49 175.27,701.47 175.61,700.44 175.95,699.42 176.29,698.39 176.64,697.36 176.98,696.33 177.32,695.30 177.66,694.26 178.00,693.20 178.34,692.13 178.68,691.04 179.02,689.93 179.36,688.78 179.70,687.61 180.05,686.40 180.39,685.17 180.73,683.92 181.07,682.66 181.41,681.38 181.75,680.09 182.09,678.80 182.43,677.51 182.77,676.22 183.11,674.93 183.46,673.64 183.80,672.35 184.14,671.07 184.48,669.80 184.82,668.54 185.16,667.30 185.50,666.08 185.84,664.88 186.18,663.70 186.52,662.54 186.87,661.39 187.21,660.26 187.55,659.14 187.89,658.03 188.23,656.93 188.57,655.85 188.91,654.79 189.25,653.76 189.59,652.78 189.93,651.87 190.28,651.03 190.62,650.29 190.96,649.63 191.30,649.07 191.64,648.58 191.98,648.16 192.32,647.79 192.66,647.45 193.00,647.14 193.34,646.84 193.69,646.55 194.03,646.28 194.37,646.02 194.71,645.79 195.05,645.59 195.39,645.46 195.73,645.38 196.07,645.39 196.41,645.48 196.75,645.66 197.09,645.92 197.44,646.25 197.78,646.63 198.12,647.04 198.46,647.49 198.80,647.95 199.14,648.42 199.48,648.91 199.82,649.40 200.16,649.92 200.51,650.46 200.85,651.05 201.19,651.68 201.53,652.38 201.87,653.16 202.21,654.01 202.55,654.93 202.89,655.92 203.23,656.96 203.57,658.05 203.92,659.16 204.26,660.29 204.60,661.44 204.94,662.61 205.28,663.81 205.62,665.03 205.96,666.29 206.30,667.59 206.64,668.94 206.98,670.35 207.33,671.81 207.67,673.31 208.01,674.85 208.35,676.41 208.69,678.00 209.03,679.60 209.37,681.20 209.71,682.82 210.05,684.43 210.39,686.06 210.74,687.68 211.08,689.32 211.42,690.95 211.76,692.60 212.10,694.26 212.44,695.92 212.78,697.58 213.12,699.25 213.46,700.92 213.80,702.59 214.15,704.26 214.49,705.92 214.83,707.58 215.17,709.24 215.51,710.87 215.85,712.50 216.19,714.10 216.53,715.68 216.87,717.24 217.21,718.79 217.56,720.31 217.90,721.82 218.24,723.33 218.58,724.82 218.92,726.31 219.26,727.78 219.60,729.25 219.94,730.69 220.28,732.11 220.62,733.50 220.97,734.85 221.31,736.16 221.65,737.42 221.99,738.65 222.33,739.85 222.67,741.03 223.01,742.18 223.35,743.33 223.69,744.46 224.03,745.59 224.38,746.72 224.72,747.84 225.06,748.96 225.40,750.07 225.74,751.16 226.08,752.23 226.42,753.27 226.76,754.25 227.10,755.18 227.44,756.05 227.79,756.84 228.13,757.58 228.47,758.25 228.81,758.88 229.15,759.47 229.49,760.04 229.83,760.60 230.17,761.14 230.51,761.68 230.85,762.22 231.20,762.75 231.54,763.29 231.88,763.82 232.22,764.35 232.56,764.89 232.90,765.42 233.24,765.95 233.58,766.47 233.92,766.98 234.26,767.48 234.61,767.96 234.95,768.41 235.29,768.82 235.63,769.19 235.97,769.52 236.31,769.82 236.65,770.07 236.99,770.30 237.33,770.51 237.67,770.70 238.02,770.89 238.36,771.06 238.70,771.24 239.04,771.41 239.38,771.58 239.72,771.75 240.06,771.92 240.40,772.09 240.74,772.26 241.08,772.43 241.43,772.61 241.77,772.78 242.11,772.95 242.45,773.12 242.79,773.29 243.13,773.45 243.47,773.61 243.81,773.77 244.15,773.91 244.49,774.05 244.83,774.16 245.18,774.26 245.52,774.34 245.86,774.41 246.20,774.45 246.54,774.49 246.88,774.51 247.22,774.53 247.56,774.55 247.90,774.56 248.24,774.57 248.59,774.58 248.93,774.59 249.27,774.60 249.61,774.61 249.95,774.61 250.29,774.62 250.63,774.63 250.97,774.64 251.31,774.65 251.65,774.66 252.00,774.67 252.34,774.68 252.68,774.69 253.02,774.70 253.36,774.70 253.70,774.71 254.04,774.72 254.38,774.73 254.72,774.74 255.06,774.75 255.41,774.76 255.75,774.77 256.09,774.78 256.43,774.79 256.77,774.80 257.11,774.80 257.45,774.81 257.79,774.82 258.13,774.83 258.47,774.84 258.82,774.85 259.16,774.86 259.50,774.87 259.84,774.88 260.18,774.89 260.52,774.90 260.86,774.90 261.20,774.91 261.54,774.92 261.88,774.93 262.23,774.94 262.57,774.95 262.91,774.96 263.25,774.97 263.59,774.97 263.93,774.98 264.27,774.98 264.61,774.99 264.95,774.99 265.29,775.00 265.64,775.00 265.98,775.00 266.32,775.00 266.66,775.00 267.00,775.00" fill="none" stroke="#ff7f0e" stroke-width="1.5" stroke-linejoin="round"/>
<rect x="52.20" y="632.70" width="219.80" height="142.30" fill="none" stroke="#333" stroke-width="0.9"/>
<line x1="62.40" y1="775.00" x2="62.40" y2="777.50" stroke="#333" stroke-width="0.8" />
<text x="62.40" y="784.40" font-size="7.3" text-anchor="middle" fill="#111" >0.0</text>
<line x1="96.50" y1="775.00" x2="96.50" y2="777.50" stroke="#333" stroke-width="0.8" />
<text x="96.50" y="784.40" font-size="7.3" text-anchor="middle" fill="#111" >0.2</text>
<line x1="130.60" y1="775.00" x2="130.60" y2="777.50" stroke="#333" stroke-width="0.8" />
<text x="130.60" y="784.40" font-size="7.3" text-anchor="middle" fill="#111" >0.4</text>
<line x1="164.70" y1="775.00" x2="164.70" y2="777.50" stroke="#333" stroke-width="0.8" />
<text x="164.70" y="784.40" font-size="7.3" text-anchor="middle" fill="#111" >0.6</text>
<line x1="198.80" y1="775.00" x2="198.80" y2="777.50" stroke="#333" stroke-width="0.8" />
<text x="198.80" y="784.40" font-size="7.3" text-anchor="middle" fill="#111" >0.8</text>
<line x1="232.90" y1="775.00" x2="232.90" y2="777.50" stroke="#333" stroke-width="0.8" />
<text x="232.90" y="784.40" font-size="7.3" text-anchor="middle" fill="#111" >1.0</text>
<line x1="267.00" y1="775.00" x2="267.00" y2="777.50" stroke="#333" stroke-width="0.8" />
<text x="267.00" y="784.40" font-size="7.3" text-anchor="middle" fill="#111" >1.2</text>
<line x1="49.70" y1="775.00" x2="52.20" y2="775.00" stroke="#333" stroke-width="0.8" />
<text x="48.70" y="777.60" font-size="7.3" text-anchor="end" fill="#111" >0.0</text>
<line x1="49.70" y1="757.90" x2="52.20" y2="757.90" stroke="#333" stroke-width="0.8" />
<text x="48.70" y="760.50" font-size="7.3" text-anchor="end" fill="#111" >0.5</text>
<line x1="49.70" y1="740.80" x2="52.20" y2="740.80" stroke="#333" stroke-width="0.8" />
<text x="48.70" y="743.40" font-size="7.3" text-anchor="end" fill="#111" >1.0</text>
<line x1="49.70" y1="723.70" x2="52.20" y2="723.70" stroke="#333" stroke-width="0.8" />
<text x="48.70" y="726.30" font-size="7.3" text-anchor="end" fill="#111" >1.5</text>
<line x1="49.70" y1="706.60" x2="52.20" y2="706.60" stroke="#333" stroke-width="0.8" />
<text x="48.70" y="709.20" font-size="7.3" text-anchor="end" fill="#111" >2.0</text>
<line x1="49.70" y1="689.50" x2="52.20" y2="689.50" stroke="#333" stroke-width="0.8" />
<text x="48.70" y="692.10" font-size="7.3" text-anchor="end" fill="#111" >2.5</text>
<line x1="49.70" y1="672.40" x2="52.20" y2="672.40" stroke="#333" stroke-width="0.8" />
<text x="48.70" y="675.00" font-size="7.3" text-anchor="end" fill="#111" >3.0</text>
<line x1="49.70" y1="655.30" x2="52.20" y2="655.30" stroke="#333" stroke-width="0.8" />
<text x="48.70" y="657.90" font-size="7.3" text-anchor="end" fill="#111" >3.5</text>
<line x1="49.70" y1="638.20" x2="52.20" y2="638.20" stroke="#333" stroke-width="0.8" />
<text x="48.70" y="640.80" font-size="7.3" text-anchor="end" fill="#111" >4.0</text>
<text x="162.10" y="794.50" font-size="7.8" text-anchor="middle" fill="#111" >Cosine distance</text>
<text x="0" y="0" font-size="8.2" text-anchor="middle" fill="#111" transform="translate(32.60,703.85) rotate(-90)">Density</text>
<rect x="57.20" y="638.90" width="13.00" height="4.00" fill="#8cb4da" stroke="#4a7aa0" stroke-width="0.6"/>
<text x="71.70" y="643.00" font-size="6.0" text-anchor="start" fill="#111" >Within Lap/Tuc-VHL group</text>
<rect x="57.20" y="650.80" width="13.00" height="4.00" fill="#fdbb86" stroke="#c88450" stroke-width="0.6"/>
<text x="71.70" y="654.90" font-size="6.0" text-anchor="start" fill="#111" >Between Lap/Tuc-VHL and</text>
<text x="71.70" y="661.50" font-size="6.0" fill="#111">Lap/Tuc-VHL<tspan font-size="3.4" dy="1.3">Inactive</tspan><tspan dy="-1.3"> groups</tspan></text>
<g shape-rendering="crispEdges">
<rect x="366.80" y="769.90" width="2.00" height="3.10" fill="#82a8c9" />
<rect x="368.80" y="770.89" width="2.00" height="2.11" fill="#82a8c9" />
<rect x="370.80" y="771.83" width="2.00" height="1.17" fill="#82a8c9" />
<rect x="372.80" y="772.33" width="2.00" height="0.67" fill="#82a8c9" />
<rect x="374.80" y="772.31" width="2.00" height="0.69" fill="#82a8c9" />
<rect x="376.80" y="771.89" width="2.00" height="1.11" fill="#82a8c9" />
<rect x="378.80" y="771.19" width="2.00" height="1.81" fill="#82a8c9" />
<rect x="380.80" y="769.67" width="2.00" height="3.33" fill="#82a8c9" />
<rect x="382.80" y="767.40" width="2.00" height="5.60" fill="#82a8c9" />
<rect x="384.80" y="763.94" width="2.00" height="9.06" fill="#82a8c9" />
<rect x="386.80" y="758.72" width="2.00" height="14.28" fill="#82a8c9" />
<rect x="388.80" y="752.74" width="2.00" height="20.26" fill="#82a8c9" />
<rect x="390.80" y="745.96" width="2.00" height="27.04" fill="#82a8c9" />
<rect x="392.80" y="736.49" width="2.00" height="36.51" fill="#82a8c9" />
<rect x="394.80" y="728.79" width="2.00" height="44.21" fill="#82a8c9" />
<rect x="396.80" y="720.89" width="2.00" height="52.11" fill="#82a8c9" />
<rect x="398.80" y="712.35" width="2.00" height="60.65" fill="#82a8c9" />
<rect x="400.80" y="704.35" width="2.00" height="68.65" fill="#82a8c9" />
<rect x="402.80" y="691.77" width="2.00" height="81.23" fill="#82a8c9" />
<rect x="404.80" y="686.74" width="2.00" height="86.26" fill="#82a8c9" />
<rect x="406.80" y="681.66" width="2.00" height="91.34" fill="#82a8c9" />
<rect x="408.80" y="668.06" width="2.00" height="104.94" fill="#82a8c9" />
<rect x="410.80" y="664.57" width="2.00" height="108.43" fill="#82a8c9" />
<rect x="412.80" y="659.37" width="2.00" height="113.63" fill="#82a8c9" />
<rect x="414.80" y="658.28" width="2.00" height="114.72" fill="#82a8c9" />
<rect x="416.80" y="655.35" width="2.00" height="117.65" fill="#82a8c9" />
<rect x="418.80" y="653.27" width="2.00" height="119.73" fill="#82a8c9" />
<rect x="420.80" y="646.76" width="2.00" height="126.24" fill="#82a8c9" />
<rect x="422.80" y="646.09" width="2.00" height="126.91" fill="#82a8c9" />
<rect x="424.80" y="643.54" width="2.00" height="129.46" fill="#82a8c9" />
<rect x="426.80" y="645.35" width="2.00" height="127.65" fill="#82a8c9" />
<rect x="428.80" y="647.75" width="2.00" height="125.25" fill="#82a8c9" />
<rect x="430.80" y="656.47" width="2.00" height="116.53" fill="#82a8c9" />
<rect x="432.80" y="653.24" width="2.00" height="119.76" fill="#82a8c9" />
<rect x="434.80" y="658.13" width="2.00" height="114.87" fill="#82a8c9" />
<rect x="436.80" y="653.60" width="2.00" height="119.40" fill="#82a8c9" />
<rect x="438.80" y="659.24" width="2.00" height="113.76" fill="#82a8c9" />
<rect x="440.80" y="666.45" width="2.00" height="106.55" fill="#82a8c9" />
<rect x="442.80" y="671.34" width="2.00" height="101.66" fill="#82a8c9" />
<rect x="444.80" y="669.90" width="2.00" height="103.10" fill="#82a8c9" />
<rect x="446.80" y="673.31" width="2.00" height="99.69" fill="#82a8c9" />
<rect x="448.80" y="681.90" width="2.00" height="91.10" fill="#82a8c9" />
<rect x="450.80" y="687.14" width="2.00" height="85.86" fill="#82a8c9" />
<rect x="452.80" y="695.67" width="2.00" height="77.33" fill="#82a8c9" />
<rect x="454.80" y="702.08" width="2.00" height="70.92" fill="#82a8c9" />
<rect x="456.80" y="708.44" width="2.00" height="64.56" fill="#82a8c9" />
<rect x="458.80" y="717.69" width="2.00" height="55.31" fill="#82a8c9" />
<rect x="460.80" y="725.01" width="2.00" height="47.99" fill="#82a8c9" />
<rect x="462.80" y="733.33" width="2.00" height="39.67" fill="#82a8c9" />
<rect x="464.80" y="739.03" width="2.00" height="33.97" fill="#82a8c9" />
<rect x="466.80" y="743.78" width="2.00" height="29.22" fill="#82a8c9" />
<rect x="468.80" y="746.45" width="2.00" height="26.55" fill="#82a8c9" />
<rect x="470.80" y="750.47" width="2.00" height="22.53" fill="#82a8c9" />
<rect x="472.80" y="753.24" width="2.00" height="19.76" fill="#82a8c9" />
<rect x="474.80" y="756.49" width="2.00" height="16.51" fill="#82a8c9" />
<rect x="476.80" y="758.51" width="2.00" height="14.49" fill="#82a8c9" />
<rect x="478.80" y="759.78" width="2.00" height="13.22" fill="#82a8c9" />
<rect x="480.80" y="761.58" width="2.00" height="11.42" fill="#82a8c9" />
<rect x="482.80" y="763.03" width="2.00" height="9.97" fill="#82a8c9" />
<rect x="484.80" y="764.99" width="2.00" height="8.01" fill="#82a8c9" />
<rect x="486.80" y="765.86" width="2.00" height="7.14" fill="#82a8c9" />
<rect x="488.80" y="766.23" width="2.00" height="6.77" fill="#82a8c9" />
<rect x="490.80" y="767.52" width="2.00" height="5.48" fill="#82a8c9" />
<rect x="492.80" y="768.21" width="2.00" height="4.79" fill="#82a8c9" />
<rect x="494.80" y="768.75" width="2.00" height="4.25" fill="#82a8c9" />
<rect x="496.80" y="769.38" width="2.00" height="3.62" fill="#82a8c9" />
<rect x="498.80" y="769.82" width="2.00" height="3.18" fill="#82a8c9" />
<rect x="500.80" y="770.42" width="2.00" height="2.58" fill="#82a8c9" />
<rect x="502.80" y="770.80" width="2.00" height="2.20" fill="#82a8c9" />
<rect x="504.80" y="771.34" width="2.00" height="1.66" fill="#82a8c9" />
<rect x="506.80" y="771.75" width="2.00" height="1.25" fill="#82a8c9" />
<rect x="508.80" y="772.01" width="2.00" height="0.99" fill="#82a8c9" />
<rect x="510.80" y="772.17" width="2.00" height="0.83" fill="#82a8c9" />
<rect x="512.80" y="772.31" width="2.00" height="0.69" fill="#82a8c9" />
<rect x="514.80" y="772.49" width="2.00" height="0.51" fill="#82a8c9" />
<rect x="516.80" y="772.62" width="2.00" height="0.38" fill="#82a8c9" />
<rect x="518.80" y="772.76" width="2.00" height="0.24" fill="#82a8c9" />
<rect x="384.80" y="772.77" width="2.00" height="0.23" fill="#98765a" />
<rect x="386.80" y="772.45" width="2.00" height="0.55" fill="#98765a" />
<rect x="388.80" y="771.86" width="2.00" height="1.14" fill="#98765a" />
<rect x="390.80" y="771.26" width="2.00" height="1.74" fill="#98765a" />
<rect x="392.80" y="770.53" width="2.00" height="2.47" fill="#98765a" />
<rect x="394.80" y="769.93" width="2.00" height="3.07" fill="#98765a" />
<rect x="396.80" y="768.62" width="2.00" height="4.38" fill="#98765a" />
<rect x="398.80" y="766.43" width="2.00" height="6.57" fill="#98765a" />
<rect x="400.80" y="764.31" width="2.00" height="8.69" fill="#98765a" />
<rect x="402.80" y="762.91" width="2.00" height="10.09" fill="#98765a" />
<rect x="404.80" y="760.44" width="2.00" height="12.56" fill="#98765a" />
<rect x="406.80" y="757.97" width="2.00" height="15.03" fill="#98765a" />
<rect x="408.80" y="755.53" width="2.00" height="17.47" fill="#98765a" />
<rect x="410.80" y="752.65" width="2.00" height="20.35" fill="#98765a" />
<rect x="412.80" y="748.29" width="2.00" height="24.71" fill="#98765a" />
<rect x="414.80" y="747.06" width="2.00" height="25.94" fill="#98765a" />
<rect x="416.80" y="742.52" width="2.00" height="30.48" fill="#98765a" />
<rect x="418.80" y="740.19" width="2.00" height="32.81" fill="#98765a" />
<rect x="420.80" y="734.23" width="2.00" height="38.77" fill="#98765a" />
<rect x="422.80" y="732.01" width="2.00" height="40.99" fill="#98765a" />
<rect x="424.80" y="728.39" width="2.00" height="44.61" fill="#98765a" />
<rect x="426.80" y="722.83" width="2.00" height="50.17" fill="#98765a" />
<rect x="428.80" y="713.95" width="2.00" height="59.05" fill="#98765a" />
<rect x="430.80" y="710.42" width="2.00" height="62.58" fill="#98765a" />
<rect x="432.80" y="707.35" width="2.00" height="65.65" fill="#98765a" />
<rect x="434.80" y="697.62" width="2.00" height="75.38" fill="#98765a" />
<rect x="436.80" y="698.88" width="2.00" height="74.12" fill="#98765a" />
<rect x="438.80" y="690.41" width="2.00" height="82.59" fill="#98765a" />
<rect x="440.80" y="689.62" width="2.00" height="83.38" fill="#98765a" />
<rect x="442.80" y="689.11" width="2.00" height="83.89" fill="#98765a" />
<rect x="444.80" y="685.74" width="2.00" height="87.26" fill="#98765a" />
<rect x="446.80" y="687.48" width="2.00" height="85.52" fill="#98765a" />
<rect x="448.80" y="681.90" width="2.00" height="91.10" fill="#98765a" />
<rect x="448.80" y="680.35" width="2.00" height="1.55" fill="#dcaa7e" />
<rect x="450.80" y="687.14" width="2.00" height="85.86" fill="#98765a" />
<rect x="450.80" y="682.34" width="2.00" height="4.80" fill="#dcaa7e" />
<rect x="452.80" y="695.67" width="2.00" height="77.33" fill="#98765a" />
<rect x="452.80" y="677.67" width="2.00" height="18.00" fill="#dcaa7e" />
<rect x="454.80" y="702.08" width="2.00" height="70.92" fill="#98765a" />
<rect x="454.80" y="684.06" width="2.00" height="18.02" fill="#dcaa7e" />
<rect x="456.80" y="708.44" width="2.00" height="64.56" fill="#98765a" />
<rect x="456.80" y="680.99" width="2.00" height="27.46" fill="#dcaa7e" />
<rect x="458.80" y="717.69" width="2.00" height="55.31" fill="#98765a" />
<rect x="458.80" y="680.92" width="2.00" height="36.77" fill="#dcaa7e" />
<rect x="460.80" y="725.01" width="2.00" height="47.99" fill="#98765a" />
<rect x="460.80" y="679.08" width="2.00" height="45.93" fill="#dcaa7e" />
<rect x="462.80" y="733.33" width="2.00" height="39.67" fill="#98765a" />
<rect x="462.80" y="675.72" width="2.00" height="57.61" fill="#dcaa7e" />
<rect x="464.80" y="739.03" width="2.00" height="33.97" fill="#98765a" />
<rect x="464.80" y="673.49" width="2.00" height="65.54" fill="#dcaa7e" />
<rect x="466.80" y="743.78" width="2.00" height="29.22" fill="#98765a" />
<rect x="466.80" y="672.53" width="2.00" height="71.25" fill="#dcaa7e" />
<rect x="468.80" y="746.45" width="2.00" height="26.55" fill="#98765a" />
<rect x="468.80" y="673.82" width="2.00" height="72.62" fill="#dcaa7e" />
<rect x="470.80" y="750.47" width="2.00" height="22.53" fill="#98765a" />
<rect x="470.80" y="675.07" width="2.00" height="75.40" fill="#dcaa7e" />
<rect x="472.80" y="753.24" width="2.00" height="19.76" fill="#98765a" />
<rect x="472.80" y="674.01" width="2.00" height="79.23" fill="#dcaa7e" />
<rect x="474.80" y="756.49" width="2.00" height="16.51" fill="#98765a" />
<rect x="474.80" y="671.20" width="2.00" height="85.29" fill="#dcaa7e" />
<rect x="476.80" y="758.51" width="2.00" height="14.49" fill="#98765a" />
<rect x="476.80" y="677.51" width="2.00" height="81.00" fill="#dcaa7e" />
<rect x="478.80" y="759.78" width="2.00" height="13.22" fill="#98765a" />
<rect x="478.80" y="679.44" width="2.00" height="80.34" fill="#dcaa7e" />
<rect x="480.80" y="761.58" width="2.00" height="11.42" fill="#98765a" />
<rect x="480.80" y="682.89" width="2.00" height="78.69" fill="#dcaa7e" />
<rect x="482.80" y="763.03" width="2.00" height="9.97" fill="#98765a" />
<rect x="482.80" y="684.46" width="2.00" height="78.57" fill="#dcaa7e" />
<rect x="484.80" y="764.99" width="2.00" height="8.01" fill="#98765a" />
<rect x="484.80" y="682.44" width="2.00" height="82.55" fill="#dcaa7e" />
<rect x="486.80" y="765.86" width="2.00" height="7.14" fill="#98765a" />
<rect x="486.80" y="686.20" width="2.00" height="79.66" fill="#dcaa7e" />
<rect x="488.80" y="766.23" width="2.00" height="6.77" fill="#98765a" />
<rect x="488.80" y="692.11" width="2.00" height="74.12" fill="#dcaa7e" />
<rect x="490.80" y="767.52" width="2.00" height="5.48" fill="#98765a" />
<rect x="490.80" y="699.69" width="2.00" height="67.82" fill="#dcaa7e" />
<rect x="492.80" y="768.21" width="2.00" height="4.79" fill="#98765a" />
<rect x="492.80" y="702.40" width="2.00" height="65.81" fill="#dcaa7e" />
<rect x="494.80" y="768.75" width="2.00" height="4.25" fill="#98765a" />
<rect x="494.80" y="704.56" width="2.00" height="64.20" fill="#dcaa7e" />
<rect x="496.80" y="769.38" width="2.00" height="3.62" fill="#98765a" />
<rect x="496.80" y="714.75" width="2.00" height="54.63" fill="#dcaa7e" />
<rect x="498.80" y="769.82" width="2.00" height="3.18" fill="#98765a" />
<rect x="498.80" y="720.84" width="2.00" height="48.98" fill="#dcaa7e" />
<rect x="500.80" y="770.42" width="2.00" height="2.58" fill="#98765a" />
<rect x="500.80" y="725.49" width="2.00" height="44.93" fill="#dcaa7e" />
<rect x="502.80" y="770.80" width="2.00" height="2.20" fill="#98765a" />
<rect x="502.80" y="733.53" width="2.00" height="37.27" fill="#dcaa7e" />
<rect x="504.80" y="771.34" width="2.00" height="1.66" fill="#98765a" />
<rect x="504.80" y="737.23" width="2.00" height="34.10" fill="#dcaa7e" />
<rect x="506.80" y="771.75" width="2.00" height="1.25" fill="#98765a" />
<rect x="506.80" y="743.02" width="2.00" height="28.73" fill="#dcaa7e" />
<rect x="508.80" y="772.01" width="2.00" height="0.99" fill="#98765a" />
<rect x="508.80" y="748.17" width="2.00" height="23.83" fill="#dcaa7e" />
<rect x="510.80" y="772.17" width="2.00" height="0.83" fill="#98765a" />
<rect x="510.80" y="751.25" width="2.00" height="20.92" fill="#dcaa7e" />
<rect x="512.80" y="772.31" width="2.00" height="0.69" fill="#98765a" />
<rect x="512.80" y="754.93" width="2.00" height="17.38" fill="#dcaa7e" />
<rect x="514.80" y="772.49" width="2.00" height="0.51" fill="#98765a" />
<rect x="514.80" y="758.38" width="2.00" height="14.11" fill="#dcaa7e" />
<rect x="516.80" y="772.62" width="2.00" height="0.38" fill="#98765a" />
<rect x="516.80" y="761.01" width="2.00" height="11.60" fill="#dcaa7e" />
<rect x="518.80" y="772.76" width="2.00" height="0.24" fill="#98765a" />
<rect x="518.80" y="763.48" width="2.00" height="9.28" fill="#dcaa7e" />
<rect x="520.80" y="765.06" width="2.00" height="7.84" fill="#dcaa7e" />
<rect x="522.80" y="766.56" width="2.00" height="6.43" fill="#dcaa7e" />
<rect x="524.80" y="767.86" width="2.00" height="5.14" fill="#dcaa7e" />
<rect x="526.80" y="769.43" width="2.00" height="3.57" fill="#dcaa7e" />
<rect x="528.80" y="770.29" width="2.00" height="2.71" fill="#dcaa7e" />
<rect x="530.80" y="770.89" width="2.00" height="2.11" fill="#dcaa7e" />
<rect x="532.80" y="771.38" width="2.00" height="1.62" fill="#dcaa7e" />
<rect x="534.80" y="771.92" width="2.00" height="1.08" fill="#dcaa7e" />
<rect x="536.80" y="772.39" width="2.00" height="0.61" fill="#dcaa7e" />
<rect x="538.80" y="772.82" width="2.00" height="0.18" fill="#dcaa7e" />
</g>
<line x1="366.80" y1="769.90" x2="366.80" y2="773.00" stroke="#5b7d99" stroke-width="0.55" />
<line x1="368.80" y1="770.89" x2="368.80" y2="773.00" stroke="#5b7d99" stroke-width="0.55" />
<line x1="370.80" y1="771.83" x2="370.80" y2="773.00" stroke="#5b7d99" stroke-width="0.55" />
<line x1="372.80" y1="772.33" x2="372.80" y2="773.00" stroke="#5b7d99" stroke-width="0.55" />
<line x1="374.80" y1="772.31" x2="374.80" y2="773.00" stroke="#5b7d99" stroke-width="0.55" />
<line x1="376.80" y1="771.89" x2="376.80" y2="773.00" stroke="#5b7d99" stroke-width="0.55" />
<line x1="378.80" y1="771.19" x2="378.80" y2="773.00" stroke="#5b7d99" stroke-width="0.55" />
<line x1="380.80" y1="769.67" x2="380.80" y2="773.00" stroke="#5b7d99" stroke-width="0.55" />
<line x1="382.80" y1="767.40" x2="382.80" y2="773.00" stroke="#5b7d99" stroke-width="0.55" />
<line x1="384.80" y1="772.77" x2="384.80" y2="773.00" stroke="#735540" stroke-width="0.55" />
<line x1="384.80" y1="763.94" x2="384.80" y2="772.77" stroke="#5b7d99" stroke-width="0.55" />
<line x1="386.80" y1="772.45" x2="386.80" y2="773.00" stroke="#735540" stroke-width="0.55" />
<line x1="386.80" y1="758.72" x2="386.80" y2="772.45" stroke="#5b7d99" stroke-width="0.55" />
<line x1="388.80" y1="771.86" x2="388.80" y2="773.00" stroke="#735540" stroke-width="0.55" />
<line x1="388.80" y1="752.74" x2="388.80" y2="771.86" stroke="#5b7d99" stroke-width="0.55" />
<line x1="390.80" y1="771.26" x2="390.80" y2="773.00" stroke="#735540" stroke-width="0.55" />
<line x1="390.80" y1="745.96" x2="390.80" y2="771.26" stroke="#5b7d99" stroke-width="0.55" />
<line x1="392.80" y1="770.53" x2="392.80" y2="773.00" stroke="#735540" stroke-width="0.55" />
<line x1="392.80" y1="736.49" x2="392.80" y2="770.53" stroke="#5b7d99" stroke-width="0.55" />
<line x1="394.80" y1="769.93" x2="394.80" y2="773.00" stroke="#735540" stroke-width="0.55" />
<line x1="394.80" y1="728.79" x2="394.80" y2="769.93" stroke="#5b7d99" stroke-width="0.55" />
<line x1="396.80" y1="768.62" x2="396.80" y2="773.00" stroke="#735540" stroke-width="0.55" />
<line x1="396.80" y1="720.89" x2="396.80" y2="768.62" stroke="#5b7d99" stroke-width="0.55" />
<line x1="398.80" y1="766.43" x2="398.80" y2="773.00" stroke="#735540" stroke-width="0.55" />
<line x1="398.80" y1="712.35" x2="398.80" y2="766.43" stroke="#5b7d99" stroke-width="0.55" />
<line x1="400.80" y1="764.31" x2="400.80" y2="773.00" stroke="#735540" stroke-width="0.55" />
<line x1="400.80" y1="704.35" x2="400.80" y2="764.31" stroke="#5b7d99" stroke-width="0.55" />
<line x1="402.80" y1="762.91" x2="402.80" y2="773.00" stroke="#735540" stroke-width="0.55" />
<line x1="402.80" y1="691.77" x2="402.80" y2="762.91" stroke="#5b7d99" stroke-width="0.55" />
<line x1="404.80" y1="760.44" x2="404.80" y2="773.00" stroke="#735540" stroke-width="0.55" />
<line x1="404.80" y1="686.74" x2="404.80" y2="760.44" stroke="#5b7d99" stroke-width="0.55" />
<line x1="406.80" y1="757.97" x2="406.80" y2="773.00" stroke="#735540" stroke-width="0.55" />
<line x1="406.80" y1="681.66" x2="406.80" y2="757.97" stroke="#5b7d99" stroke-width="0.55" />
<line x1="408.80" y1="755.53" x2="408.80" y2="773.00" stroke="#735540" stroke-width="0.55" />
<line x1="408.80" y1="668.06" x2="408.80" y2="755.53" stroke="#5b7d99" stroke-width="0.55" />
<line x1="410.80" y1="752.65" x2="410.80" y2="773.00" stroke="#735540" stroke-width="0.55" />
<line x1="410.80" y1="664.57" x2="410.80" y2="752.65" stroke="#5b7d99" stroke-width="0.55" />
<line x1="412.80" y1="748.29" x2="412.80" y2="773.00" stroke="#735540" stroke-width="0.55" />
<line x1="412.80" y1="659.37" x2="412.80" y2="748.29" stroke="#5b7d99" stroke-width="0.55" />
<line x1="414.80" y1="747.06" x2="414.80" y2="773.00" stroke="#735540" stroke-width="0.55" />
<line x1="414.80" y1="658.28" x2="414.80" y2="747.06" stroke="#5b7d99" stroke-width="0.55" />
<line x1="416.80" y1="742.52" x2="416.80" y2="773.00" stroke="#735540" stroke-width="0.55" />
<line x1="416.80" y1="655.35" x2="416.80" y2="742.52" stroke="#5b7d99" stroke-width="0.55" />
<line x1="418.80" y1="740.19" x2="418.80" y2="773.00" stroke="#735540" stroke-width="0.55" />
<line x1="418.80" y1="653.27" x2="418.80" y2="740.19" stroke="#5b7d99" stroke-width="0.55" />
<line x1="420.80" y1="734.23" x2="420.80" y2="773.00" stroke="#735540" stroke-width="0.55" />
<line x1="420.80" y1="646.76" x2="420.80" y2="734.23" stroke="#5b7d99" stroke-width="0.55" />
<line x1="422.80" y1="732.01" x2="422.80" y2="773.00" stroke="#735540" stroke-width="0.55" />
<line x1="422.80" y1="646.09" x2="422.80" y2="732.01" stroke="#5b7d99" stroke-width="0.55" />
<line x1="424.80" y1="728.39" x2="424.80" y2="773.00" stroke="#735540" stroke-width="0.55" />
<line x1="424.80" y1="643.54" x2="424.80" y2="728.39" stroke="#5b7d99" stroke-width="0.55" />
<line x1="426.80" y1="722.83" x2="426.80" y2="773.00" stroke="#735540" stroke-width="0.55" />
<line x1="426.80" y1="645.35" x2="426.80" y2="722.83" stroke="#5b7d99" stroke-width="0.55" />
<line x1="428.80" y1="713.95" x2="428.80" y2="773.00" stroke="#735540" stroke-width="0.55" />
<line x1="428.80" y1="647.75" x2="428.80" y2="713.95" stroke="#5b7d99" stroke-width="0.55" />
<line x1="430.80" y1="710.42" x2="430.80" y2="773.00" stroke="#735540" stroke-width="0.55" />
<line x1="430.80" y1="656.47" x2="430.80" y2="710.42" stroke="#5b7d99" stroke-width="0.55" />
<line x1="432.80" y1="707.35" x2="432.80" y2="773.00" stroke="#735540" stroke-width="0.55" />
<line x1="432.80" y1="653.24" x2="432.80" y2="707.35" stroke="#5b7d99" stroke-width="0.55" />
<line x1="434.80" y1="697.62" x2="434.80" y2="773.00" stroke="#735540" stroke-width="0.55" />
<line x1="434.80" y1="658.13" x2="434.80" y2="697.62" stroke="#5b7d99" stroke-width="0.55" />
<line x1="436.80" y1="698.88" x2="436.80" y2="773.00" stroke="#735540" stroke-width="0.55" />
<line x1="436.80" y1="653.60" x2="436.80" y2="698.88" stroke="#5b7d99" stroke-width="0.55" />
<line x1="438.80" y1="690.41" x2="438.80" y2="773.00" stroke="#735540" stroke-width="0.55" />
<line x1="438.80" y1="659.24" x2="438.80" y2="690.41" stroke="#5b7d99" stroke-width="0.55" />
<line x1="440.80" y1="689.62" x2="440.80" y2="773.00" stroke="#735540" stroke-width="0.55" />
<line x1="440.80" y1="666.45" x2="440.80" y2="689.62" stroke="#5b7d99" stroke-width="0.55" />
<line x1="442.80" y1="689.11" x2="442.80" y2="773.00" stroke="#735540" stroke-width="0.55" />
<line x1="442.80" y1="671.34" x2="442.80" y2="689.11" stroke="#5b7d99" stroke-width="0.55" />
<line x1="444.80" y1="685.74" x2="444.80" y2="773.00" stroke="#735540" stroke-width="0.55" />
<line x1="444.80" y1="669.90" x2="444.80" y2="685.74" stroke="#5b7d99" stroke-width="0.55" />
<line x1="446.80" y1="687.48" x2="446.80" y2="773.00" stroke="#735540" stroke-width="0.55" />
<line x1="446.80" y1="673.31" x2="446.80" y2="687.48" stroke="#5b7d99" stroke-width="0.55" />
<line x1="448.80" y1="681.90" x2="448.80" y2="773.00" stroke="#735540" stroke-width="0.55" />
<line x1="448.80" y1="680.35" x2="448.80" y2="681.90" stroke="#b3865f" stroke-width="0.55" />
<line x1="450.80" y1="687.14" x2="450.80" y2="773.00" stroke="#735540" stroke-width="0.55" />
<line x1="450.80" y1="682.34" x2="450.80" y2="687.14" stroke="#b3865f" stroke-width="0.55" />
<line x1="452.80" y1="695.67" x2="452.80" y2="773.00" stroke="#735540" stroke-width="0.55" />
<line x1="452.80" y1="677.67" x2="452.80" y2="695.67" stroke="#b3865f" stroke-width="0.55" />
<line x1="454.80" y1="702.08" x2="454.80" y2="773.00" stroke="#735540" stroke-width="0.55" />
<line x1="454.80" y1="684.06" x2="454.80" y2="702.08" stroke="#b3865f" stroke-width="0.55" />
<line x1="456.80" y1="708.44" x2="456.80" y2="773.00" stroke="#735540" stroke-width="0.55" />
<line x1="456.80" y1="680.99" x2="456.80" y2="708.44" stroke="#b3865f" stroke-width="0.55" />
<line x1="458.80" y1="717.69" x2="458.80" y2="773.00" stroke="#735540" stroke-width="0.55" />
<line x1="458.80" y1="680.92" x2="458.80" y2="717.69" stroke="#b3865f" stroke-width="0.55" />
<line x1="460.80" y1="725.01" x2="460.80" y2="773.00" stroke="#735540" stroke-width="0.55" />
<line x1="460.80" y1="679.08" x2="460.80" y2="725.01" stroke="#b3865f" stroke-width="0.55" />
<line x1="462.80" y1="733.33" x2="462.80" y2="773.00" stroke="#735540" stroke-width="0.55" />
<line x1="462.80" y1="675.72" x2="462.80" y2="733.33" stroke="#b3865f" stroke-width="0.55" />
<line x1="464.80" y1="739.03" x2="464.80" y2="773.00" stroke="#735540" stroke-width="0.55" />
<line x1="464.80" y1="673.49" x2="464.80" y2="739.03" stroke="#b3865f" stroke-width="0.55" />
<line x1="466.80" y1="743.78" x2="466.80" y2="773.00" stroke="#735540" stroke-width="0.55" />
<line x1="466.80" y1="672.53" x2="466.80" y2="743.78" stroke="#b3865f" stroke-width="0.55" />
<line x1="468.80" y1="746.45" x2="468.80" y2="773.00" stroke="#735540" stroke-width="0.55" />
<line x1="468.80" y1="673.82" x2="468.80" y2="746.45" stroke="#b3865f" stroke-width="0.55" />
<line x1="470.80" y1="750.47" x2="470.80" y2="773.00" stroke="#735540" stroke-width="0.55" />
<line x1="470.80" y1="675.07" x2="470.80" y2="750.47" stroke="#b3865f" stroke-width="0.55" />
<line x1="472.80" y1="753.24" x2="472.80" y2="773.00" stroke="#735540" stroke-width="0.55" />
<line x1="472.80" y1="674.01" x2="472.80" y2="753.24" stroke="#b3865f" stroke-width="0.55" />
<line x1="474.80" y1="756.49" x2="474.80" y2="773.00" stroke="#735540" stroke-width="0.55" />
<line x1="474.80" y1="671.20" x2="474.80" y2="756.49" stroke="#b3865f" stroke-width="0.55" />
<line x1="476.80" y1="758.51" x2="476.80" y2="773.00" stroke="#735540" stroke-width="0.55" />
<line x1="476.80" y1="677.51" x2="476.80" y2="758.51" stroke="#b3865f" stroke-width="0.55" />
<line x1="478.80" y1="759.78" x2="478.80" y2="773.00" stroke="#735540" stroke-width="0.55" />
<line x1="478.80" y1="679.44" x2="478.80" y2="759.78" stroke="#b3865f" stroke-width="0.55" />
<line x1="480.80" y1="761.58" x2="480.80" y2="773.00" stroke="#735540" stroke-width="0.55" />
<line x1="480.80" y1="682.89" x2="480.80" y2="761.58" stroke="#b3865f" stroke-width="0.55" />
<line x1="482.80" y1="763.03" x2="482.80" y2="773.00" stroke="#735540" stroke-width="0.55" />
<line x1="482.80" y1="684.46" x2="482.80" y2="763.03" stroke="#b3865f" stroke-width="0.55" />
<line x1="484.80" y1="764.99" x2="484.80" y2="773.00" stroke="#735540" stroke-width="0.55" />
<line x1="484.80" y1="682.44" x2="484.80" y2="764.99" stroke="#b3865f" stroke-width="0.55" />
<line x1="486.80" y1="765.86" x2="486.80" y2="773.00" stroke="#735540" stroke-width="0.55" />
<line x1="486.80" y1="686.20" x2="486.80" y2="765.86" stroke="#b3865f" stroke-width="0.55" />
<line x1="488.80" y1="766.23" x2="488.80" y2="773.00" stroke="#735540" stroke-width="0.55" />
<line x1="488.80" y1="692.11" x2="488.80" y2="766.23" stroke="#b3865f" stroke-width="0.55" />
<line x1="490.80" y1="767.52" x2="490.80" y2="773.00" stroke="#735540" stroke-width="0.55" />
<line x1="490.80" y1="699.69" x2="490.80" y2="767.52" stroke="#b3865f" stroke-width="0.55" />
<line x1="492.80" y1="768.21" x2="492.80" y2="773.00" stroke="#735540" stroke-width="0.55" />
<line x1="492.80" y1="702.40" x2="492.80" y2="768.21" stroke="#b3865f" stroke-width="0.55" />
<line x1="494.80" y1="768.75" x2="494.80" y2="773.00" stroke="#735540" stroke-width="0.55" />
<line x1="494.80" y1="704.56" x2="494.80" y2="768.75" stroke="#b3865f" stroke-width="0.55" />
<line x1="496.80" y1="769.38" x2="496.80" y2="773.00" stroke="#735540" stroke-width="0.55" />
<line x1="496.80" y1="714.75" x2="496.80" y2="769.38" stroke="#b3865f" stroke-width="0.55" />
<line x1="498.80" y1="769.82" x2="498.80" y2="773.00" stroke="#735540" stroke-width="0.55" />
<line x1="498.80" y1="720.84" x2="498.80" y2="769.82" stroke="#b3865f" stroke-width="0.55" />
<line x1="500.80" y1="770.42" x2="500.80" y2="773.00" stroke="#735540" stroke-width="0.55" />
<line x1="500.80" y1="725.49" x2="500.80" y2="770.42" stroke="#b3865f" stroke-width="0.55" />
<line x1="502.80" y1="770.80" x2="502.80" y2="773.00" stroke="#735540" stroke-width="0.55" />
<line x1="502.80" y1="733.53" x2="502.80" y2="770.80" stroke="#b3865f" stroke-width="0.55" />
<line x1="504.80" y1="771.34" x2="504.80" y2="773.00" stroke="#735540" stroke-width="0.55" />
<line x1="504.80" y1="737.23" x2="504.80" y2="771.34" stroke="#b3865f" stroke-width="0.55" />
<line x1="506.80" y1="771.75" x2="506.80" y2="773.00" stroke="#735540" stroke-width="0.55" />
<line x1="506.80" y1="743.02" x2="506.80" y2="771.75" stroke="#b3865f" stroke-width="0.55" />
<line x1="508.80" y1="772.01" x2="508.80" y2="773.00" stroke="#735540" stroke-width="0.55" />
<line x1="508.80" y1="748.17" x2="508.80" y2="772.01" stroke="#b3865f" stroke-width="0.55" />
<line x1="510.80" y1="772.17" x2="510.80" y2="773.00" stroke="#735540" stroke-width="0.55" />
<line x1="510.80" y1="751.25" x2="510.80" y2="772.17" stroke="#b3865f" stroke-width="0.55" />
<line x1="512.80" y1="772.31" x2="512.80" y2="773.00" stroke="#735540" stroke-width="0.55" />
<line x1="512.80" y1="754.93" x2="512.80" y2="772.31" stroke="#b3865f" stroke-width="0.55" />
<line x1="514.80" y1="772.49" x2="514.80" y2="773.00" stroke="#735540" stroke-width="0.55" />
<line x1="514.80" y1="758.38" x2="514.80" y2="772.49" stroke="#b3865f" stroke-width="0.55" />
<line x1="516.80" y1="772.62" x2="516.80" y2="773.00" stroke="#735540" stroke-width="0.55" />
<line x1="516.80" y1="761.01" x2="516.80" y2="772.62" stroke="#b3865f" stroke-width="0.55" />
<line x1="518.80" y1="772.76" x2="518.80" y2="773.00" stroke="#735540" stroke-width="0.55" />
<line x1="518.80" y1="763.48" x2="518.80" y2="772.76" stroke="#b3865f" stroke-width="0.55" />
<line x1="520.80" y1="765.06" x2="520.80" y2="773.00" stroke="#b3865f" stroke-width="0.55" />
<line x1="522.80" y1="766.56" x2="522.80" y2="773.00" stroke="#b3865f" stroke-width="0.55" />
<line x1="524.80" y1="767.86" x2="524.80" y2="773.00" stroke="#b3865f" stroke-width="0.55" />
<line x1="526.80" y1="769.43" x2="526.80" y2="773.00" stroke="#b3865f" stroke-width="0.55" />
<line x1="528.80" y1="770.29" x2="528.80" y2="773.00" stroke="#b3865f" stroke-width="0.55" />
<line x1="530.80" y1="770.89" x2="530.80" y2="773.00" stroke="#b3865f" stroke-width="0.55" />
<line x1="532.80" y1="771.38" x2="532.80" y2="773.00" stroke="#b3865f" stroke-width="0.55" />
<line x1="534.80" y1="771.92" x2="534.80" y2="773.00" stroke="#b3865f" stroke-width="0.55" />
<line x1="536.80" y1="772.39" x2="536.80" y2="773.00" stroke="#b3865f" stroke-width="0.55" />
<line x1="538.80" y1="772.82" x2="538.80" y2="773.00" stroke="#b3865f" stroke-width="0.55" />
<rect x="366.11" y="755.02" width="1.40" height="17.98" fill="#82a8c9" stroke="#5b7d99" stroke-width="0.4"/>
<polyline points="366.80,770.17 367.15,769.98 367.49,769.89 367.84,769.90 368.19,769.98 368.54,770.12 368.88,770.30 369.23,770.50 369.58,770.70 369.93,770.90 370.27,771.10 370.62,771.27 370.97,771.44 371.32,771.59 371.66,771.73 372.01,771.85 372.36,771.97 372.71,772.08 373.05,772.18 373.40,772.27 373.75,772.34 374.10,772.39 374.44,772.41 374.79,772.42 375.14,772.40 375.49,772.36 375.83,772.30 376.18,772.24 376.53,772.16 376.87,772.08 377.22,771.99 377.57,771.91 377.92,771.82 378.26,771.73 378.61,771.63 378.96,771.53 379.31,771.41 379.65,771.28 380.00,771.12 380.35,770.93 380.70,770.71 381.04,770.44 381.39,770.13 381.74,769.79 382.09,769.42 382.43,769.02 382.78,768.60 383.13,768.17 383.48,767.72 383.82,767.25 384.17,766.77 384.52,766.26 384.86,765.70 385.21,765.10 385.56,764.44 385.91,763.71 386.25,762.93 386.60,762.08 386.95,761.18 387.30,760.24 387.64,759.27 387.99,758.27 388.34,757.24 388.69,756.18 389.03,755.09 389.38,753.96 389.73,752.79 390.08,751.58 390.42,750.33 390.77,749.04 391.12,747.72 391.47,746.38 391.81,745.02 392.16,743.64 392.51,742.26 392.86,740.86 393.20,739.45 393.55,738.02 393.90,736.59 394.24,735.14 394.59,733.67 394.94,732.20 395.29,730.72 395.63,729.23 395.98,727.73 396.33,726.24 396.68,724.74 397.02,723.24 397.37,721.75 397.72,720.25 398.07,718.75 398.41,717.25 398.76,715.76 399.11,714.26 399.46,712.76 399.80,711.26 400.15,709.76 400.50,708.27 400.85,706.77 401.19,705.27 401.54,703.78 401.89,702.28 402.23,700.80 402.58,699.31 402.93,697.83 403.28,696.36 403.62,694.90 403.97,693.45 404.32,692.00 404.67,690.56 405.01,689.13 405.36,687.70 405.71,686.27 406.06,684.86 406.40,683.45 406.75,682.06 407.10,680.70 407.45,679.36 407.79,678.07 408.14,676.81 408.49,675.60 408.84,674.43 409.18,673.30 409.53,672.20 409.88,671.12 410.23,670.06 410.57,669.02 410.92,667.98 411.27,666.95 411.61,665.94 411.96,664.94 412.31,663.96 412.66,663.01 413.00,662.09 413.35,661.20 413.70,660.33 414.05,659.49 414.39,658.68 414.74,657.87 415.09,657.08 415.44,656.30 415.78,655.52 416.13,654.75 416.48,653.99 416.83,653.25 417.17,652.52 417.52,651.82 417.87,651.17 418.22,650.56 418.56,650.00 418.91,649.50 419.26,649.06 419.60,648.66 419.95,648.31 420.30,647.98 420.65,647.67 420.99,647.38 421.34,647.09 421.69,646.81 422.04,646.54 422.38,646.26 422.73,646.00 423.08,645.74 423.43,645.50 423.77,645.29 424.12,645.11 424.47,644.98 424.82,644.89 425.16,644.86 425.51,644.89 425.86,644.98 426.21,645.11 426.55,645.28 426.90,645.48 427.25,645.71 427.60,645.98 427.94,646.29 428.29,646.65 428.64,647.05 428.98,647.52 429.33,648.05 429.68,648.62 430.03,649.23 430.37,649.85 430.72,650.47 431.07,651.06 431.42,651.61 431.76,652.11 432.11,652.56 432.46,652.97 432.81,653.33 433.15,653.67 433.50,653.99 433.85,654.29 434.20,654.58 434.54,654.87 434.89,655.17 435.24,655.46 435.59,655.77 435.93,656.09 436.28,656.42 436.63,656.77 436.97,657.16 437.32,657.56 437.67,658.00 438.02,658.46 438.36,658.95 438.71,659.45 439.06,659.96 439.41,660.48 439.75,661.01 440.10,661.54 440.45,662.07 440.80,662.60 441.14,663.14 441.49,663.67 441.84,664.22 442.19,664.76 442.53,665.32 442.88,665.89 443.23,666.48 443.58,667.08 443.92,667.71 444.27,668.35 444.62,669.00 444.97,669.67 445.31,670.35 445.66,671.04 446.01,671.73 446.35,672.43 446.70,673.13 447.05,673.85 447.40,674.57 447.74,675.33 448.09,676.11 448.44,676.94 448.79,677.83 449.13,678.78 449.48,679.79 449.83,680.87 450.18,682.00 450.52,683.17 450.87,684.38 451.22,685.61 451.57,686.86 451.91,688.12 452.26,689.39 452.61,690.66 452.96,691.94 453.30,693.22 453.65,694.50 454.00,695.79 454.34,697.08 454.69,698.37 455.04,699.66 455.39,700.96 455.73,702.25 456.08,703.55 456.43,704.84 456.78,706.14 457.12,707.43 457.47,708.73 457.82,710.02 458.17,711.32 458.51,712.61 458.86,713.91 459.21,715.20 459.56,716.49 459.90,717.78 460.25,719.06 460.60,720.35 460.95,721.64 461.29,722.92 461.64,724.20 461.99,725.49 462.34,726.76 462.68,728.03 463.03,729.28 463.38,730.52 463.72,731.72 464.07,732.89 464.42,734.01 464.77,735.07 465.11,736.08 465.46,737.03 465.81,737.94 466.16,738.80 466.50,739.64 466.85,740.45 467.20,741.26 467.55,742.05 467.89,742.84 468.24,743.63 468.59,744.41 468.94,745.19 469.28,745.96 469.63,746.72 469.98,747.46 470.33,748.18 470.67,748.87 471.02,749.52 471.37,750.13 471.71,750.71 472.06,751.25 472.41,751.75 472.76,752.24 473.10,752.70 473.45,753.16 473.80,753.61 474.15,754.05 474.49,754.49 474.84,754.93 475.19,755.37 475.54,755.80 475.88,756.23 476.23,756.65 476.58,757.07 476.93,757.47 477.27,757.85 477.62,758.22 477.97,758.56 478.32,758.89 478.66,759.20 479.01,759.50 479.36,759.79 479.71,760.08 480.05,760.36 480.40,760.63 480.75,760.91 481.09,761.18 481.44,761.45 481.79,761.73 482.14,762.00 482.48,762.27 482.83,762.54 483.18,762.82 483.53,763.09 483.87,763.35 484.22,763.62 484.57,763.87 484.92,764.12 485.26,764.36 485.61,764.58 485.96,764.78 486.31,764.98 486.65,765.15 487.00,765.32 487.35,765.48 487.70,765.63 488.04,765.77 488.39,765.92 488.74,766.06 489.08,766.20 489.43,766.34 489.78,766.48 490.13,766.62 490.47,766.76 490.82,766.90 491.17,767.04 491.52,767.18 491.86,767.32 492.21,767.46 492.56,767.60 492.91,767.74 493.25,767.88 493.60,768.01 493.95,768.15 494.30,768.28 494.64,768.41 494.99,768.53 495.34,768.65 495.69,768.76 496.03,768.86 496.38,768.96 496.73,769.06 497.07,769.15 497.42,769.24 497.77,769.33 498.12,769.41 498.46,769.50 498.81,769.59 499.16,769.67 499.51,769.76 499.85,769.85 500.20,769.93 500.55,770.02 500.90,770.11 501.24,770.19 501.59,770.28 501.94,770.37 502.29,770.46 502.63,770.54 502.98,770.63 503.33,770.72 503.68,770.80 504.02,770.89 504.37,770.98 504.72,771.06 505.07,771.15 505.41,771.24 505.76,771.32 506.11,771.41 506.45,771.49 506.80,771.57 507.15,771.65 507.50,771.72 507.84,771.78 508.19,771.84 508.54,771.90 508.89,771.94 509.23,771.98 509.58,772.02 509.93,772.05 510.28,772.08 510.62,772.10 510.97,772.13 511.32,772.15 511.67,772.18 512.01,772.20 512.36,772.23 512.71,772.25 513.06,772.28 513.40,772.30 513.75,772.33 514.10,772.35 514.45,772.38 514.79,772.40 515.14,772.43 515.49,772.45 515.83,772.48 516.18,772.50 516.53,772.53 516.88,772.55 517.22,772.58 517.57,772.60 517.92,772.63 518.27,772.65 518.61,772.68 518.96,772.70 519.31,772.73 519.66,772.75 520.00,772.78 520.35,772.80 520.70,772.83 521.05,772.85 521.39,772.87 521.74,772.89 522.09,772.92 522.44,772.93 522.78,772.95 523.13,772.97" fill="none" stroke="#1f77b4" stroke-width="1.5" stroke-linejoin="round"/>
<polyline points="384.17,772.89 384.52,772.87 384.86,772.85 385.21,772.82 385.56,772.80 385.91,772.77 386.25,772.73 386.60,772.69 386.95,772.63 387.30,772.57 387.64,772.50 387.99,772.42 388.34,772.32 388.69,772.23 389.03,772.12 389.38,772.01 389.73,771.90 390.08,771.79 390.42,771.68 390.77,771.56 391.12,771.45 391.47,771.34 391.81,771.22 392.16,771.11 392.51,771.00 392.86,770.88 393.20,770.77 393.55,770.65 393.90,770.54 394.24,770.42 394.59,770.30 394.94,770.18 395.29,770.05 395.63,769.90 395.98,769.74 396.33,769.56 396.68,769.36 397.02,769.12 397.37,768.87 397.72,768.58 398.07,768.28 398.41,767.95 398.76,767.62 399.11,767.28 399.46,766.93 399.80,766.59 400.15,766.24 400.50,765.88 400.85,765.53 401.19,765.18 401.54,764.83 401.89,764.48 402.23,764.13 402.58,763.78 402.93,763.42 403.28,763.07 403.62,762.72 403.97,762.37 404.32,762.01 404.67,761.65 405.01,761.29 405.36,760.92 405.71,760.53 406.06,760.13 406.40,759.72 406.75,759.29 407.10,758.84 407.45,758.37 407.79,757.89 408.14,757.39 408.49,756.89 408.84,756.39 409.18,755.88 409.53,755.37 409.88,754.85 410.23,754.34 410.57,753.83 410.92,753.31 411.27,752.80 411.61,752.28 411.96,751.77 412.31,751.26 412.66,750.74 413.00,750.23 413.35,749.72 413.70,749.20 414.05,748.68 414.39,748.16 414.74,747.64 415.09,747.11 415.44,746.57 415.78,746.02 416.13,745.46 416.48,744.89 416.83,744.30 417.17,743.71 417.52,743.11 417.87,742.50 418.22,741.89 418.56,741.27 418.91,740.65 419.26,740.03 419.60,739.42 419.95,738.80 420.30,738.18 420.65,737.56 420.99,736.94 421.34,736.32 421.69,735.69 422.04,735.07 422.38,734.43 422.73,733.79 423.08,733.13 423.43,732.44 423.77,731.73 424.12,730.98 424.47,730.20 424.82,729.38 425.16,728.52 425.51,727.64 425.86,726.73 426.21,725.81 426.55,724.88 426.90,723.94 427.25,722.99 427.60,722.04 427.94,721.10 428.29,720.15 428.64,719.20 428.98,718.26 429.33,717.31 429.68,716.37 430.03,715.43 430.37,714.49 430.72,713.56 431.07,712.64 431.42,711.71 431.76,710.79 432.11,709.88 432.46,708.97 432.81,708.05 433.15,707.14 433.50,706.24 433.85,705.33 434.20,704.43 434.54,703.55 434.89,702.67 435.24,701.82 435.59,700.99 435.93,700.20 436.28,699.44 436.63,698.73 436.97,698.05 437.32,697.40 437.67,696.79 438.02,696.19 438.36,695.61 438.71,695.04 439.06,694.47 439.41,693.91 439.75,693.35 440.10,692.81 440.45,692.27 440.80,691.75 441.14,691.24 441.49,690.76 441.84,690.31 442.19,689.89 442.53,689.49 442.88,689.11 443.23,688.76 443.58,688.42 443.92,688.08 444.27,687.76 444.62,687.44 444.97,687.12 445.31,686.81 445.66,686.49 446.01,686.17 446.35,685.86 446.70,685.54 447.05,685.23 447.40,684.91 447.74,684.60 448.09,684.30 448.44,684.00 448.79,683.71 449.13,683.44 449.48,683.19 449.83,682.96 450.18,682.74 450.52,682.55 450.87,682.38 451.22,682.22 451.57,682.08 451.91,681.94 452.26,681.81 452.61,681.67 452.96,681.55 453.30,681.42 453.65,681.29 454.00,681.16 454.34,681.03 454.69,680.91 455.04,680.78 455.39,680.65 455.73,680.52 456.08,680.39 456.43,680.26 456.78,680.13 457.12,679.99 457.47,679.85 457.82,679.70 458.17,679.55 458.51,679.39 458.86,679.23 459.21,679.06 459.56,678.89 459.90,678.71 460.25,678.53 460.60,678.36 460.95,678.18 461.29,678.00 461.64,677.82 461.99,677.65 462.34,677.47 462.68,677.29 463.03,677.11 463.38,676.93 463.72,676.75 464.07,676.58 464.42,676.40 464.77,676.22 465.11,676.04 465.46,675.87 465.81,675.70 466.16,675.52 466.50,675.35 466.85,675.19 467.20,675.02 467.55,674.85 467.89,674.69 468.24,674.53 468.59,674.36 468.94,674.20 469.28,674.04 469.63,673.88 469.98,673.72 470.33,673.57 470.67,673.42 471.02,673.28 471.37,673.16 471.71,673.07 472.06,673.01 472.41,673.00 472.76,673.03 473.10,673.11 473.45,673.24 473.80,673.41 474.15,673.62 474.49,673.85 474.84,674.10 475.19,674.36 475.54,674.63 475.88,674.91 476.23,675.19 476.58,675.47 476.93,675.77 477.27,676.07 477.62,676.37 477.97,676.69 478.32,677.01 478.66,677.34 479.01,677.68 479.36,678.02 479.71,678.36 480.05,678.70 480.40,679.05 480.75,679.40 481.09,679.74 481.44,680.09 481.79,680.45 482.14,680.81 482.48,681.17 482.83,681.55 483.18,681.95 483.53,682.37 483.87,682.81 484.22,683.29 484.57,683.79 484.92,684.32 485.26,684.87 485.61,685.44 485.96,686.02 486.31,686.61 486.65,687.21 487.00,687.81 487.35,688.41 487.70,689.01 488.04,689.62 488.39,690.22 488.74,690.84 489.08,691.46 489.43,692.10 489.78,692.76 490.13,693.43 490.47,694.13 490.82,694.86 491.17,695.61 491.52,696.38 491.86,697.17 492.21,697.98 492.56,698.79 492.91,699.61 493.25,700.44 493.60,701.28 493.95,702.13 494.30,703.00 494.64,703.88 494.99,704.79 495.34,705.73 495.69,706.69 496.03,707.69 496.38,708.71 496.73,709.74 497.07,710.80 497.42,711.86 497.77,712.93 498.12,714.01 498.46,715.09 498.81,716.17 499.16,717.26 499.51,718.35 499.85,719.45 500.20,720.56 500.55,721.67 500.90,722.78 501.24,723.90 501.59,725.03 501.94,726.15 502.29,727.28 502.63,728.40 502.98,729.52 503.33,730.63 503.68,731.72 504.02,732.79 504.37,733.84 504.72,734.85 505.07,735.84 505.41,736.78 505.76,737.70 506.11,738.59 506.45,739.47 506.80,740.32 507.15,741.17 507.50,742.01 507.84,742.85 508.19,743.68 508.54,744.51 508.89,745.34 509.23,746.17 509.58,746.99 509.93,747.80 510.28,748.59 510.62,749.35 510.97,750.09 511.32,750.80 511.67,751.47 512.01,752.10 512.36,752.69 512.71,753.26 513.06,753.81 513.40,754.33 513.75,754.85 514.10,755.36 514.45,755.87 514.79,756.37 515.14,756.88 515.49,757.38 515.83,757.88 516.18,758.38 516.53,758.88 516.88,759.38 517.22,759.88 517.57,760.37 517.92,760.86 518.27,761.33 518.61,761.78 518.96,762.22 519.31,762.62 519.66,763.00 520.00,763.36 520.35,763.69 520.70,764.00 521.05,764.29 521.39,764.56 521.74,764.84 522.09,765.10 522.44,765.36 522.78,765.62 523.13,765.88 523.48,766.14 523.82,766.40 524.17,766.66 524.52,766.92 524.87,767.18 525.21,767.44 525.56,767.70 525.91,767.96 526.26,768.22 526.60,768.48 526.95,768.73 527.30,768.98 527.65,769.23 527.99,769.46 528.34,769.67 528.69,769.88 529.04,770.06 529.38,770.22 529.73,770.36 530.08,770.49 530.43,770.60 530.77,770.70 531.12,770.79 531.47,770.88 531.82,770.97 532.16,771.05 532.51,771.13 532.86,771.22 533.20,771.30 533.55,771.38 533.90,771.47 534.25,771.55 534.59,771.63 534.94,771.71 535.29,771.80 535.64,771.88 535.98,771.96 536.33,772.05 536.68,772.13 537.03,772.21 537.37,772.29 537.72,772.38 538.07,772.46 538.42,772.54 538.76,772.61 539.11,772.69 539.46,772.75 539.81,772.81 540.15,772.86 540.50,772.90 540.85,772.94 541.19,772.96 541.54,772.98 541.89,772.99 542.24,772.99 542.58,773.00 542.93,773.00 543.28,773.00 543.63,773.00 543.97,773.00 544.32,773.00 544.67,773.00 545.02,773.00 545.36,773.00 545.71,773.00 546.06,773.00 546.41,773.00 546.75,773.00 547.10,773.00 547.45,773.00 547.80,773.00 548.14,773.00 548.49,773.00 548.84,773.00 549.18,773.00 549.53,773.00 549.88,773.00 550.23,773.00 550.57,773.00 550.92,773.00 551.27,773.00 551.62,773.00 551.96,773.00 552.31,773.00 552.66,773.00 553.01,773.00 553.35,773.00 553.70,773.00 554.05,773.00 554.40,773.00 554.74,773.00 555.09,773.00 555.44,773.00 555.79,773.00 556.13,773.00 556.48,773.00 556.83,773.00 557.18,773.00 557.52,773.00 557.87,773.00" fill="none" stroke="#ff7f0e" stroke-width="1.5" stroke-linejoin="round"/>
<rect x="356.30" y="633.30" width="215.70" height="139.70" fill="none" stroke="#333" stroke-width="0.9"/>
<line x1="366.80" y1="773.00" x2="366.80" y2="775.50" stroke="#333" stroke-width="0.8" />
<text x="366.80" y="783.20" font-size="7.3" text-anchor="middle" fill="#111" >0.0</text>
<line x1="401.54" y1="773.00" x2="401.54" y2="775.50" stroke="#333" stroke-width="0.8" />
<text x="401.54" y="783.20" font-size="7.3" text-anchor="middle" fill="#111" >0.2</text>
<line x1="436.28" y1="773.00" x2="436.28" y2="775.50" stroke="#333" stroke-width="0.8" />
<text x="436.28" y="783.20" font-size="7.3" text-anchor="middle" fill="#111" >0.4</text>
<line x1="471.02" y1="773.00" x2="471.02" y2="775.50" stroke="#333" stroke-width="0.8" />
<text x="471.02" y="783.20" font-size="7.3" text-anchor="middle" fill="#111" >0.6</text>
<line x1="505.76" y1="773.00" x2="505.76" y2="775.50" stroke="#333" stroke-width="0.8" />
<text x="505.76" y="783.20" font-size="7.3" text-anchor="middle" fill="#111" >0.8</text>
<line x1="540.50" y1="773.00" x2="540.50" y2="775.50" stroke="#333" stroke-width="0.8" />
<text x="540.50" y="783.20" font-size="7.3" text-anchor="middle" fill="#111" >1.0</text>
<line x1="353.80" y1="773.00" x2="356.30" y2="773.00" stroke="#333" stroke-width="0.8" />
<text x="352.80" y="775.60" font-size="7.3" text-anchor="end" fill="#111" >0.0</text>
<line x1="353.80" y1="751.60" x2="356.30" y2="751.60" stroke="#333" stroke-width="0.8" />
<text x="352.80" y="754.20" font-size="7.3" text-anchor="end" fill="#111" >0.5</text>
<line x1="353.80" y1="730.20" x2="356.30" y2="730.20" stroke="#333" stroke-width="0.8" />
<text x="352.80" y="732.80" font-size="7.3" text-anchor="end" fill="#111" >1.0</text>
<line x1="353.80" y1="708.80" x2="356.30" y2="708.80" stroke="#333" stroke-width="0.8" />
<text x="352.80" y="711.40" font-size="7.3" text-anchor="end" fill="#111" >1.5</text>
<line x1="353.80" y1="687.40" x2="356.30" y2="687.40" stroke="#333" stroke-width="0.8" />
<text x="352.80" y="690.00" font-size="7.3" text-anchor="end" fill="#111" >2.0</text>
<line x1="353.80" y1="666.00" x2="356.30" y2="666.00" stroke="#333" stroke-width="0.8" />
<text x="352.80" y="668.60" font-size="7.3" text-anchor="end" fill="#111" >2.5</text>
<line x1="353.80" y1="644.60" x2="356.30" y2="644.60" stroke="#333" stroke-width="0.8" />
<text x="352.80" y="647.20" font-size="7.3" text-anchor="end" fill="#111" >3.0</text>
<text x="464.15" y="792.00" font-size="7.8" text-anchor="middle" fill="#111" >Cosine distance</text>
<text x="0" y="0" font-size="8.2" text-anchor="middle" fill="#111" transform="translate(336.80,703.15) rotate(-90)">Density</text>
<rect x="479.80" y="638.80" width="13.00" height="4.00" fill="#8cb4da" stroke="#4a7aa0" stroke-width="0.6"/>
<text x="494.30" y="642.90" font-size="6.0" text-anchor="start" fill="#111" >Within Lap/Tuc-VHL group</text>
<rect x="479.80" y="650.70" width="13.00" height="4.00" fill="#fdbb86" stroke="#c88450" stroke-width="0.6"/>
<text x="494.30" y="654.80" font-size="6.0" text-anchor="start" fill="#111" >Between Lap/Tuc-VHL and</text>
<text x="494.30" y="661.40" font-size="6.0" fill="#111">Lap/Tuc-VHL<tspan font-size="3.4" dy="1.3">Inactive</tspan><tspan dy="-1.3"> groups</tspan></text>
<defs>
<radialGradient id="gcell" cx="50%" cy="50%" r="50%"><stop offset="0" stop-color="#103e5e"/><stop offset="0.25" stop-color="#16664a"/><stop offset="0.45" stop-color="#24a632"/><stop offset="0.72" stop-color="#32c030"/><stop offset="0.9" stop-color="#22985a"/><stop offset="1" stop-color="#1a70a0" stop-opacity="0.4"/></radialGradient>
<radialGradient id="dcell" cx="50%" cy="50%" r="50%"><stop offset="0" stop-color="#134a5a"/><stop offset="0.4" stop-color="#1a6a45"/><stop offset="0.8" stop-color="#2a9a3a"/><stop offset="1" stop-color="#2a8a50" stop-opacity="0.2"/></radialGradient>
<radialGradient id="tcell" cx="50%" cy="50%" r="50%"><stop offset="0" stop-color="#0a2a6a"/><stop offset="0.6" stop-color="#0f3a95"/><stop offset="1" stop-color="#1450d0" stop-opacity="0.3"/></radialGradient>
<filter id="soft" x="-5%" y="-5%" width="110%" height="110%"><feGaussianBlur stdDeviation="0.6"/></filter>
<filter id="tex" x="0" y="0" width="100%" height="100%"><feTurbulence type="fractalNoise" baseFrequency="0.12 0.35" numOctaves="2" seed="3"/><feColorMatrix type="matrix" values="0 0 0 0 0.5  0 0 0 0 0.66  0 0 0 0 1  0 0 0 2.2 -1.0"/></filter>
<clipPath id="clip0"><rect x="0" y="0" width="74.0" height="74.0"/></clipPath>
<clipPath id="clip1"><rect x="0" y="0" width="74.0" height="74.0"/></clipPath>
<clipPath id="clip2"><rect x="0" y="0" width="74.0" height="74.0"/></clipPath>
<clipPath id="clip3"><rect x="0" y="0" width="74.0" height="74.0"/></clipPath>
<clipPath id="clip4"><rect x="0" y="0" width="74.0" height="74.0"/></clipPath>
</defs>
<g transform="translate(50.10,803.8)">
<g clip-path="url(#clip0)">
<g filter="url(#soft)">
<rect x="0" y="0" width="74.0" height="74.0" fill="#0c3ec8"/>
<rect x="0" y="0" width="74.0" height="74.0" filter="url(#tex)" opacity="0.3"/>
<path d="M35.8,47.1C36.0,48.4 35.2,50.2 34.6,51.5C33.9,52.9 33.0,53.9 32.0,55.2C30.9,56.4 29.8,58.4 28.3,58.9C26.8,59.4 24.8,58.3 23.2,58.1C21.5,57.9 19.7,58.2 18.5,57.5C17.2,56.9 16.2,55.7 15.7,54.4C15.2,53.2 14.9,51.5 15.5,50.2C16.0,49.0 17.8,47.9 19.0,46.8C20.2,45.6 21.2,44.0 22.6,43.3C24.1,42.6 26.1,42.8 27.9,42.8C29.6,42.8 31.7,42.8 33.1,43.6C34.4,44.3 35.5,45.8 35.8,47.1Z" fill="#1248da" stroke="#8aa6ff" stroke-width="1.1" stroke-opacity="0.65"/>
<path d="M19.5,70.0C19.8,71.5 21.2,73.8 20.6,75.0C19.9,76.1 17.0,76.2 15.5,76.9C13.9,77.7 12.6,79.5 11.0,79.6C9.4,79.7 7.6,78.4 6.1,77.6C4.5,76.8 2.4,76.1 1.7,74.8C1.0,73.5 1.9,71.5 2.1,70.0C2.3,68.5 2.2,66.9 2.9,65.8C3.7,64.7 5.3,64.1 6.7,63.3C8.0,62.4 9.5,60.7 11.0,60.5C12.5,60.4 14.6,61.4 15.9,62.3C17.2,63.2 18.2,64.7 18.8,66.0C19.4,67.2 19.2,68.5 19.5,70.0Z" fill="#1248da" stroke="#8aa6ff" stroke-width="1.1" stroke-opacity="0.65"/>
<path d="M74.6,10.4C74.2,12.2 73.7,13.7 72.8,15.2C71.9,16.6 70.7,17.9 69.2,19.0C67.7,20.0 65.7,21.3 63.8,21.4C61.9,21.5 59.8,20.5 58.0,19.6C56.2,18.7 53.8,17.6 53.0,16.1C52.2,14.6 53.5,12.3 53.4,10.4C53.3,8.5 52.0,6.3 52.6,4.5C53.2,2.7 55.2,0.7 57.1,-0.2C59.0,-1.2 61.6,-1.2 63.8,-1.1C66.0,-1.0 68.2,-0.5 70.1,0.4C72.0,1.3 74.3,2.8 75.0,4.5C75.8,6.1 74.9,8.6 74.6,10.4Z" fill="#1248da" stroke="#8aa6ff" stroke-width="1.1" stroke-opacity="0.65"/>
<path d="M75.3,46.0C75.6,47.8 75.9,50.3 75.0,51.8C74.0,53.3 71.5,53.9 69.6,55.0C67.8,56.2 66.0,58.5 64.0,58.7C62.0,58.9 59.2,57.6 57.5,56.3C55.9,55.1 55.2,53.0 54.1,51.2C53.1,49.5 51.7,47.9 51.4,46.0C51.1,44.1 51.0,41.4 52.1,39.6C53.1,37.9 55.5,36.3 57.5,35.6C59.5,34.9 61.7,35.6 64.0,35.5C66.3,35.3 69.6,33.6 71.2,34.5C72.8,35.4 73.0,38.9 73.7,40.8C74.4,42.7 75.1,44.2 75.3,46.0Z" fill="#1248da" stroke="#8aa6ff" stroke-width="1.1" stroke-opacity="0.65"/>
<path d="M41.8,63.0C42.2,64.8 41.6,67.4 40.6,69.1C39.6,70.8 37.5,72.0 35.8,73.0C34.0,74.0 31.9,75.2 30.0,75.1C28.1,75.1 26.0,73.6 24.6,72.4C23.1,71.2 22.3,69.5 21.4,68.0C20.5,66.4 19.5,64.8 19.3,63.0C19.1,61.2 19.2,58.9 20.0,57.2C20.8,55.6 22.5,53.7 24.2,52.9C25.9,52.2 28.0,52.6 30.0,52.5C32.0,52.5 34.7,51.5 36.1,52.5C37.4,53.4 37.2,56.5 38.1,58.3C39.1,60.1 41.4,61.2 41.8,63.0Z" fill="#1248da" stroke="#8aa6ff" stroke-width="1.1" stroke-opacity="0.65"/>
<path d="M14.8,50.0C14.8,51.6 13.4,53.2 12.6,54.7C11.9,56.2 11.3,57.7 10.2,59.0C9.1,60.2 7.4,62.4 6.0,62.3C4.6,62.2 3.5,59.4 2.1,58.4C0.6,57.3 -1.7,57.5 -2.7,56.1C-3.6,54.7 -3.9,52.0 -3.8,50.0C-3.7,48.0 -3.0,45.7 -2.0,44.3C-1.0,43.0 0.8,42.6 2.1,41.8C3.5,41.0 4.6,39.6 6.0,39.3C7.4,39.0 9.5,39.2 10.6,40.1C11.8,41.1 12.1,43.6 12.8,45.2C13.4,46.9 14.8,48.4 14.8,50.0Z" fill="#1248da" stroke="#8aa6ff" stroke-width="1.1" stroke-opacity="0.65"/>
<path d="M22.1,6.8Q17.1,12.3 7.1,14.8" fill="none" stroke="#a8b8ff" stroke-width="1.2" opacity="0.5"/>
<path d="M4.6,35.6Q-3.7,37.8 -6.4,45.9" fill="none" stroke="#a8b8ff" stroke-width="0.8" opacity="0.5"/>
<path d="M68.4,8.4Q72.7,11.7 72.4,19.4" fill="none" stroke="#a8b8ff" stroke-width="0.9" opacity="0.5"/>
<path d="M57.1,6.4Q62.6,6.3 62.6,9.5" fill="none" stroke="#a8b8ff" stroke-width="1.1" opacity="0.5"/>
<path d="M28.1,72.6Q23.9,76.4 19.9,83.0" fill="none" stroke="#a8b8ff" stroke-width="1.4" opacity="0.5"/>
<path d="M7.6,46.0Q10.1,47.9 13.2,53.5" fill="none" stroke="#a8b8ff" stroke-width="1.2" opacity="0.5"/>
<path d="M5.2,1.4Q10.7,3.0 11.6,4.4" fill="none" stroke="#a8b8ff" stroke-width="1.2" opacity="0.5"/>
<path d="M57.6,12.2Q52.2,13.0 47.2,13.9" fill="none" stroke="#a8b8ff" stroke-width="1.3" opacity="0.5"/>
<path d="M56.9,14.4Q50.6,19.4 47.3,20.1" fill="none" stroke="#a8b8ff" stroke-width="1.4" opacity="0.5"/>
<path d="M63.5,23.9Q58.9,27.5 48.7,28.0" fill="none" stroke="#a8b8ff" stroke-width="1.5" opacity="0.5"/>
<path d="M35.4,55.4Q30.7,58.7 25.9,63.2" fill="none" stroke="#a8b8ff" stroke-width="1.4" opacity="0.5"/>
<path d="M28.0,55.2Q25.5,59.8 25.2,69.5" fill="none" stroke="#a8b8ff" stroke-width="1.2" opacity="0.5"/>
<path d="M10.7,26.6Q10.7,29.2 5.6,30.8" fill="none" stroke="#a8b8ff" stroke-width="1.1" opacity="0.5"/>
<path d="M50.1,4.2Q57.9,5.6 64.7,5.2" fill="none" stroke="#a8b8ff" stroke-width="1.4" opacity="0.5"/>
<path d="M20.0,11.9Q16.8,13.0 13.4,12.6" fill="none" stroke="#a8b8ff" stroke-width="1.5" opacity="0.5"/>
<path d="M6.4,52.0Q12.7,55.5 17.5,54.8" fill="none" stroke="#a8b8ff" stroke-width="0.7" opacity="0.5"/>
<path d="M55.4,11.0Q60.1,17.0 60.6,28.0" fill="none" stroke="#a8b8ff" stroke-width="0.7" opacity="0.5"/>
<path d="M2.3,57.8Q11.8,60.6 17.6,59.6" fill="none" stroke="#a8b8ff" stroke-width="1.4" opacity="0.5"/>
<polygon points="0.0,0.0 43.0,0.0 43.0,9.0 46.0,14.0 44.0,18.0 46.0,26.0 38.0,27.0 30.0,26.0 24.0,30.0 16.0,32.0 8.0,34.0 4.0,36.0 0.0,38.0" fill="#010803" stroke="#4a6cf4" stroke-width="1.4" stroke-linejoin="round"/>
<polygon points="55.0,21.0 61.0,21.0 61.0,30.0 56.0,29.0" fill="#010803" stroke="#4a6cf4" stroke-width="1.4" stroke-linejoin="round"/>
<path d="M30.0,14.3C29.9,15.8 29.4,17.6 28.2,18.6C27.0,19.6 24.7,20.1 22.9,20.5C21.0,20.8 18.7,21.3 17.0,20.9C15.3,20.4 14.0,18.7 12.5,17.7C11.0,16.6 9.1,16.0 8.0,14.7C6.9,13.5 5.5,11.4 5.8,10.1C6.2,8.7 8.5,7.7 9.9,6.7C11.2,5.6 12.3,4.1 13.9,3.8C15.6,3.4 17.9,4.4 19.8,4.9C21.7,5.3 23.7,5.4 25.3,6.2C26.8,7.1 28.2,8.5 29.0,9.9C29.8,11.2 30.2,12.9 30.0,14.3Z" fill="#1248da" stroke="#8aa6ff" stroke-width="1.1" stroke-opacity="0.65"/>
<path d="M27.6,23.8C27.7,25.1 25.9,26.7 24.9,27.9C23.8,29.1 22.8,30.6 21.4,31.2C19.9,31.8 17.8,31.6 16.0,31.7C14.2,31.7 12.2,31.9 10.5,31.4C8.7,30.9 6.3,29.9 5.5,28.6C4.7,27.4 5.4,25.4 5.5,23.8C5.7,22.2 5.4,20.6 6.2,19.3C7.1,18.0 8.9,16.8 10.5,16.2C12.1,15.7 14.1,16.0 16.0,15.9C17.9,15.9 20.3,15.3 21.7,15.9C23.1,16.6 23.6,18.5 24.6,19.8C25.6,21.2 27.6,22.5 27.6,23.8Z" fill="#1248da" stroke="#8aa6ff" stroke-width="1.1" stroke-opacity="0.65"/>
<path d="M46.8,33.5C47.4,35.1 48.1,37.6 47.2,39.1C46.4,40.6 43.5,41.4 41.7,42.5C39.9,43.6 38.4,45.4 36.6,45.7C34.7,46.0 32.6,45.1 30.7,44.6C28.8,44.0 26.3,43.6 25.2,42.5C24.1,41.3 24.4,39.1 24.2,37.5C24.0,35.8 23.4,34.2 23.9,32.5C24.3,30.9 25.4,28.7 26.9,27.7C28.5,26.7 31.2,26.9 33.2,26.7C35.2,26.5 37.3,26.1 39.0,26.6C40.6,27.1 42.0,28.4 43.3,29.5C44.6,30.7 46.1,31.9 46.8,33.5Z" fill="#1248da" stroke="#8aa6ff" stroke-width="1.1" stroke-opacity="0.65"/>
<path d="M56.0,25.0C56.1,26.6 56.5,28.6 56.0,30.1C55.5,31.7 54.1,33.5 52.8,34.3C51.5,35.1 49.5,35.0 48.0,34.9C46.5,34.7 44.9,34.2 43.7,33.4C42.5,32.5 41.4,31.0 40.8,29.6C40.2,28.2 40.1,26.7 39.8,25.0C39.6,23.3 38.8,20.9 39.4,19.5C40.1,18.1 42.2,17.4 43.6,16.6C45.1,15.8 46.6,14.6 48.0,14.7C49.4,14.8 51.0,16.1 52.1,17.0C53.3,18.0 54.3,19.2 54.9,20.5C55.6,21.9 55.8,23.4 56.0,25.0Z" fill="#1248da" stroke="#8aa6ff" stroke-width="1.1" stroke-opacity="0.65"/>
<path d="M26.0,13.6C25.9,14.5 25.7,15.5 25.0,16.1C24.3,16.8 23.0,17.4 21.8,17.6C20.6,17.9 18.9,18.0 17.5,17.7C16.1,17.5 14.5,17.0 13.4,16.3C12.2,15.7 11.1,14.7 10.5,13.8C9.8,12.8 9.4,11.7 9.5,10.7C9.6,9.8 10.4,8.7 11.3,8.1C12.2,7.4 13.7,6.9 15.0,6.7C16.4,6.4 18.1,6.3 19.5,6.6C20.9,6.8 22.4,7.6 23.6,8.3C24.7,9.0 25.8,10.0 26.2,10.9C26.6,11.8 26.2,12.8 26.0,13.6Z" fill="url(#gcell)" opacity="0.89"/>
<path d="M24.7,23.8C24.7,24.8 24.3,26.1 23.5,26.9C22.7,27.7 21.2,28.2 19.9,28.7C18.7,29.2 17.3,30.0 16.0,30.0C14.7,30.0 13.3,29.3 12.1,28.8C10.8,28.2 9.3,27.7 8.7,26.8C8.2,26.0 8.7,24.8 8.8,23.8C8.8,22.8 8.5,21.8 8.9,20.8C9.4,19.9 10.5,18.8 11.6,18.3C12.8,17.9 14.6,18.1 16.0,18.1C17.4,18.1 19.1,18.0 20.3,18.4C21.5,18.9 22.5,19.9 23.2,20.8C23.9,21.7 24.6,22.8 24.7,23.8Z" fill="url(#gcell)" opacity="0.93"/>
<path d="M42.8,34.2C43.0,35.3 42.8,36.4 42.4,37.5C41.9,38.6 41.1,39.7 40.1,40.6C39.1,41.6 37.6,42.8 36.1,43.1C34.7,43.5 32.7,43.0 31.3,42.6C29.9,42.1 28.6,41.4 27.6,40.5C26.6,39.6 25.4,38.4 25.3,37.3C25.2,36.1 26.0,34.7 26.8,33.6C27.5,32.5 28.6,31.6 29.7,30.8C30.8,30.0 32.1,29.2 33.6,28.8C35.1,28.4 37.2,27.9 38.5,28.3C39.8,28.7 40.7,30.1 41.4,31.1C42.1,32.1 42.6,33.1 42.8,34.2Z" fill="url(#gcell)" opacity="0.85"/>
<path d="M32.3,48.4C32.6,49.2 32.3,50.2 32.0,51.1C31.6,51.9 31.1,52.9 30.2,53.6C29.4,54.3 28.1,54.7 27.0,55.2C25.8,55.7 24.3,56.7 23.2,56.7C22.2,56.7 21.4,55.7 20.5,55.2C19.6,54.7 18.3,54.3 18.0,53.6C17.8,52.8 18.6,51.7 19.0,50.8C19.4,49.8 19.7,48.8 20.5,48.1C21.3,47.5 22.7,47.1 23.9,46.6C25.0,46.2 26.3,45.5 27.4,45.5C28.6,45.4 29.8,45.9 30.6,46.4C31.4,46.8 32.1,47.6 32.3,48.4Z" fill="url(#gcell)" opacity="0.89"/>
<path d="M17.9,70.0C17.8,71.0 17.3,71.9 16.7,72.8C16.1,73.7 15.5,74.9 14.6,75.3C13.6,75.8 12.2,75.4 11.0,75.4C9.8,75.5 8.2,76.1 7.2,75.6C6.2,75.2 5.5,73.9 5.0,73.0C4.4,72.0 3.8,71.0 3.8,70.0C3.9,69.0 4.4,67.8 5.0,67.0C5.7,66.3 6.8,65.7 7.8,65.3C8.8,64.9 9.9,64.7 11.0,64.6C12.1,64.4 13.7,64.2 14.7,64.6C15.7,65.0 16.5,66.1 17.0,67.0C17.6,67.9 18.0,69.0 17.9,70.0Z" fill="url(#gcell)" opacity="0.81"/>
<path d="M72.4,10.4C72.5,11.7 72.3,13.2 71.7,14.4C71.0,15.7 69.9,17.2 68.6,17.8C67.3,18.5 65.4,18.5 63.8,18.4C62.2,18.3 60.6,18.0 59.3,17.4C58.0,16.7 56.7,15.6 55.9,14.5C55.0,13.3 54.0,11.7 54.1,10.4C54.3,9.1 55.9,8.0 56.7,6.8C57.6,5.6 58.0,4.0 59.2,3.2C60.3,2.5 62.2,2.3 63.8,2.3C65.4,2.3 67.3,2.4 68.5,3.2C69.7,3.9 70.4,5.5 71.1,6.7C71.7,7.9 72.3,9.1 72.4,10.4Z" fill="url(#gcell)" opacity="0.89"/>
<ellipse cx="48" cy="25" rx="6" ry="7" fill="url(#tcell)" />
<circle cx="50.0" cy="20.6" r="0.64" fill="#3ce83c" opacity="0.85"/>
<circle cx="49.0" cy="24.6" r="0.77" fill="#3ce83c" opacity="0.85"/>
<circle cx="49.8" cy="26.3" r="0.82" fill="#3ce83c" opacity="0.85"/>
<ellipse cx="64" cy="46" rx="10" ry="9" fill="url(#tcell)" />
<circle cx="62.5" cy="41.2" r="0.62" fill="#3ce83c" opacity="0.85"/>
<circle cx="58.9" cy="44.7" r="0.69" fill="#3ce83c" opacity="0.85"/>
<circle cx="59.4" cy="48.6" r="0.68" fill="#3ce83c" opacity="0.85"/>
<circle cx="68.1" cy="49.5" r="0.64" fill="#3ce83c" opacity="0.85"/>
<ellipse cx="30" cy="63" rx="8" ry="8" fill="url(#tcell)" />
<circle cx="31.7" cy="57.0" r="0.87" fill="#3ce83c" opacity="0.85"/>
<circle cx="27.9" cy="66.9" r="0.87" fill="#3ce83c" opacity="0.85"/>
<ellipse cx="6" cy="50" rx="6" ry="8" fill="url(#tcell)" />
<circle cx="6.6" cy="55.7" r="0.52" fill="#3ce83c" opacity="0.85"/>
<polyline points="26.0,16.0 36.0,18.0 43.0,20.0" fill="none" stroke="#40c040" stroke-width="1.6"/>
<circle cx="16" cy="4" r="2" fill="#e0f0ff"/>
<rect x="53.4" y="53.4" width="21" height="21" fill="#2cbc2c"/>
<ellipse cx="58" cy="64" rx="3" ry="2.5" fill="#80ff80" opacity="0.8"/><ellipse cx="67" cy="59" rx="6" ry="4" fill="#1f8a3a" opacity="0.7"/>
</g>
<rect x="53.4" y="53.4" width="20.6" height="20.6" fill="none" stroke="#b8c8b8" stroke-width="0.8"/>
<rect x="61.3" y="10.4" width="5.3" height="5.3" fill="none" stroke="#e0e0e0" stroke-width="0.7"/>
<line x1="3.80" y1="72.30" x2="26.80" y2="72.30" stroke="#e8e8e8" stroke-width="0.9" />
</g></g>
<text x="89.10" y="890.80" font-size="10.3" text-anchor="middle" fill="#111" >Vehicle</text>
<g transform="translate(129.10,803.8)">
<g clip-path="url(#clip1)">
<g filter="url(#soft)">
<rect x="0" y="0" width="74.0" height="74.0" fill="#0c3ec8"/>
<rect x="0" y="0" width="74.0" height="74.0" filter="url(#tex)" opacity="0.3"/>
<path d="M16.1,10.0C16.1,12.1 14.6,14.5 13.6,16.5C12.7,18.5 11.7,20.8 10.3,21.9C8.8,23.0 6.8,23.1 5.0,23.2C3.2,23.2 1.0,23.3 -0.4,22.2C-1.8,21.0 -2.8,18.3 -3.3,16.3C-3.9,14.2 -3.8,12.0 -3.7,10.0C-3.6,8.0 -3.4,6.1 -2.8,4.1C-2.2,2.2 -1.5,-0.4 -0.2,-1.8C1.1,-3.3 3.4,-4.8 5.0,-4.5C6.6,-4.3 8.1,-1.6 9.5,-0.2C10.9,1.1 12.4,1.9 13.5,3.6C14.5,5.3 16.1,7.9 16.1,10.0Z" fill="#1248da" stroke="#8aa6ff" stroke-width="1.1" stroke-opacity="0.65"/>
<path d="M32.7,13.5C33.1,15.1 32.3,17.4 31.8,19.1C31.3,20.7 30.6,22.0 29.7,23.3C28.8,24.7 27.8,26.9 26.5,27.2C25.2,27.5 23.3,25.8 21.9,25.1C20.4,24.4 19.0,24.0 17.8,22.9C16.6,21.7 15.3,20.0 14.8,18.3C14.3,16.7 14.5,14.6 14.7,12.8C15.0,10.9 15.0,8.3 16.0,7.1C17.0,5.9 19.2,5.8 20.7,5.6C22.3,5.4 23.9,5.4 25.3,6.1C26.7,6.7 27.7,8.2 28.9,9.4C30.2,10.7 32.2,11.9 32.7,13.5Z" fill="#1248da" stroke="#8aa6ff" stroke-width="1.1" stroke-opacity="0.65"/>
<path d="M60.9,16.0C60.9,18.3 58.1,20.9 56.7,22.9C55.3,24.9 54.1,26.4 52.5,27.8C50.9,29.2 49.1,30.7 47.0,31.2C44.9,31.7 41.8,32.2 40.1,30.9C38.3,29.5 37.6,25.8 36.7,23.4C35.7,20.9 34.2,18.4 34.3,16.0C34.4,13.6 36.1,11.1 37.2,9.0C38.3,6.9 39.4,5.0 41.0,3.2C42.6,1.4 44.8,-1.4 47.0,-1.7C49.2,-2.1 52.4,-0.9 54.0,0.9C55.7,2.7 55.7,6.5 56.8,9.0C58.0,11.5 61.0,13.7 60.9,16.0Z" fill="#1248da" stroke="#8aa6ff" stroke-width="1.1" stroke-opacity="0.65"/>
<path d="M7.5,30.0C7.6,31.4 6.6,33.2 6.0,34.4C5.3,35.5 4.4,36.2 3.6,36.8C2.8,37.5 2.0,38.2 1.0,38.5C0.0,38.8 -1.5,39.4 -2.3,38.6C-3.0,37.9 -3.1,35.4 -3.6,34.0C-4.1,32.6 -5.0,31.5 -5.2,30.0C-5.4,28.5 -5.1,26.5 -4.6,25.1C-4.1,23.6 -3.2,22.2 -2.2,21.5C-1.3,20.7 -0.1,20.6 1.0,20.6C2.1,20.6 3.5,20.6 4.2,21.5C5.0,22.4 4.9,24.7 5.5,26.1C6.0,27.5 7.5,28.6 7.5,30.0Z" fill="#1248da" stroke="#8aa6ff" stroke-width="1.1" stroke-opacity="0.65"/>
<path d="M38.6,44.0C38.6,46.4 38.8,49.4 37.5,51.2C36.2,53.1 33.0,54.5 30.7,55.2C28.4,55.8 25.8,55.2 23.5,55.1C21.2,54.9 18.8,55.2 16.8,54.4C14.7,53.6 12.5,52.0 11.3,50.3C10.1,48.6 9.7,46.2 9.5,44.0C9.4,41.8 9.1,38.9 10.3,37.2C11.6,35.5 14.8,34.6 17.0,33.9C19.2,33.2 21.2,33.2 23.5,33.0C25.8,32.7 28.6,31.8 31.0,32.4C33.3,33.1 36.3,34.8 37.6,36.7C38.8,38.7 38.6,41.6 38.6,44.0Z" fill="#1248da" stroke="#8aa6ff" stroke-width="1.1" stroke-opacity="0.65"/>
<path d="M58.3,41.0C58.2,43.0 58.2,45.2 57.4,46.9C56.7,48.7 55.2,50.4 53.7,51.4C52.2,52.3 50.2,52.8 48.5,52.8C46.8,52.9 44.4,52.7 43.2,51.6C42.0,50.4 42.0,47.7 41.1,45.9C40.3,44.1 38.3,42.7 38.1,41.0C38.0,39.3 39.2,37.0 40.2,35.5C41.1,33.9 42.4,32.6 43.8,31.5C45.1,30.4 47.0,28.6 48.5,28.7C50.0,28.9 51.3,31.2 52.9,32.2C54.5,33.2 57.1,33.2 58.0,34.7C58.9,36.1 58.3,39.0 58.3,41.0Z" fill="#1248da" stroke="#8aa6ff" stroke-width="1.1" stroke-opacity="0.65"/>
<path d="M73.5,39.6C74.0,41.7 73.9,44.5 73.3,46.7C72.8,48.9 71.8,51.6 70.3,52.7C68.9,53.8 66.4,53.0 64.5,53.1C62.7,53.3 61.0,54.1 59.3,53.6C57.5,53.1 55.1,52.0 54.0,50.2C52.8,48.5 52.5,45.6 52.2,43.3C51.9,41.0 51.4,38.3 52.1,36.5C52.8,34.7 54.9,34.0 56.3,32.6C57.6,31.2 58.7,28.5 60.2,28.3C61.7,28.1 63.6,30.4 65.2,31.3C66.9,32.1 68.8,32.2 70.2,33.6C71.6,35.0 73.0,37.4 73.5,39.6Z" fill="#1248da" stroke="#8aa6ff" stroke-width="1.1" stroke-opacity="0.65"/>
<path d="M15.4,66.0C15.3,68.1 15.6,70.4 14.9,72.1C14.1,73.7 12.3,74.9 10.8,75.9C9.3,76.9 7.6,78.0 6.0,78.0C4.4,78.0 2.8,76.8 1.2,75.9C-0.5,75.1 -2.8,74.4 -3.8,72.7C-4.8,71.1 -4.8,68.3 -4.9,66.0C-4.9,63.7 -4.9,61.1 -4.1,59.1C-3.2,57.1 -1.5,55.1 0.1,54.0C1.8,52.8 4.1,52.3 6.0,52.4C7.9,52.6 10.0,53.4 11.6,54.6C13.1,55.8 14.8,57.7 15.4,59.6C16.0,61.5 15.5,63.9 15.4,66.0Z" fill="#1248da" stroke="#8aa6ff" stroke-width="1.1" stroke-opacity="0.65"/>
<path d="M57.0,32.0Q56.1,35.2 61.0,42.0" fill="none" stroke="#a8b8ff" stroke-width="1.2" opacity="0.5"/>
<path d="M29.1,31.6Q35.0,34.5 36.5,33.9" fill="none" stroke="#a8b8ff" stroke-width="1.0" opacity="0.5"/>
<path d="M67.7,42.3Q67.7,44.8 62.2,47.9" fill="none" stroke="#a8b8ff" stroke-width="0.8" opacity="0.5"/>
<path d="M4.9,4.7Q14.4,3.3 20.3,4.7" fill="none" stroke="#a8b8ff" stroke-width="0.9" opacity="0.5"/>
<path d="M67.5,17.2Q59.4,19.4 52.4,22.1" fill="none" stroke="#a8b8ff" stroke-width="1.0" opacity="0.5"/>
<path d="M26.7,52.1Q19.6,58.5 17.1,67.3" fill="none" stroke="#a8b8ff" stroke-width="1.1" opacity="0.5"/>
<path d="M58.5,73.5Q57.1,73.7 52.5,77.3" fill="none" stroke="#a8b8ff" stroke-width="1.0" opacity="0.5"/>
<path d="M5.5,2.0Q6.1,7.3 9.2,18.2" fill="none" stroke="#a8b8ff" stroke-width="1.3" opacity="0.5"/>
<path d="M20.7,6.3Q29.7,11.3 34.0,16.2" fill="none" stroke="#a8b8ff" stroke-width="1.1" opacity="0.5"/>
<path d="M51.1,25.4Q54.8,34.9 56.5,39.8" fill="none" stroke="#a8b8ff" stroke-width="1.2" opacity="0.5"/>
<path d="M61.1,61.8Q66.5,64.4 71.2,71.1" fill="none" stroke="#a8b8ff" stroke-width="0.9" opacity="0.5"/>
<path d="M29.0,70.1Q40.4,70.4 46.4,71.9" fill="none" stroke="#a8b8ff" stroke-width="1.2" opacity="0.5"/>
<path d="M22.4,3.1Q28.2,3.7 37.2,4.1" fill="none" stroke="#a8b8ff" stroke-width="0.9" opacity="0.5"/>
<path d="M0.7,29.0Q1.9,40.6 2.9,46.4" fill="none" stroke="#a8b8ff" stroke-width="1.0" opacity="0.5"/>
<path d="M62.4,38.3Q72.0,39.3 79.4,39.5" fill="none" stroke="#a8b8ff" stroke-width="1.0" opacity="0.5"/>
<path d="M0.6,64.6Q5.9,64.0 7.8,65.9" fill="none" stroke="#a8b8ff" stroke-width="1.0" opacity="0.5"/>
<path d="M20.2,34.6Q14.1,37.9 12.3,40.7" fill="none" stroke="#a8b8ff" stroke-width="1.0" opacity="0.5"/>
<path d="M66.2,4.6Q69.5,8.1 69.0,15.3" fill="none" stroke="#a8b8ff" stroke-width="1.3" opacity="0.5"/>
<polygon points="57.0,0.0 74.0,0.0 74.0,6.0 68.0,10.0 63.0,12.0 60.0,6.0" fill="#010803" stroke="#4a6cf4" stroke-width="1.4" stroke-linejoin="round"/>
<polygon points="30.0,63.0 36.0,60.0 42.0,53.0 46.0,52.0 44.0,58.0 52.0,62.0 50.0,75.0 30.0,75.0 28.0,70.0" fill="#010803" stroke="#4a6cf4" stroke-width="1.4" stroke-linejoin="round"/>
<polygon points="13.0,50.0 22.0,48.0 26.0,54.0 20.0,57.0 14.0,55.0" fill="#010803" stroke="#4a6cf4" stroke-width="1.4" stroke-linejoin="round"/>
<polygon points="38.0,36.0 42.0,35.0 42.0,43.0 38.0,42.0" fill="#010803" stroke="#4a6cf4" stroke-width="1.4" stroke-linejoin="round"/>
<polygon points="0.0,46.0 6.0,46.0 6.0,50.0 0.0,50.0" fill="#010803" stroke="#4a6cf4" stroke-width="1.4" stroke-linejoin="round"/>
<path d="M12.1,10.0C12.2,11.7 12.0,13.8 11.5,15.3C10.9,16.9 9.8,18.4 8.7,19.2C7.6,20.0 6.2,20.0 5.0,20.0C3.8,20.0 2.3,19.9 1.3,19.0C0.4,18.1 -0.0,16.1 -0.6,14.6C-1.2,13.1 -2.3,11.6 -2.4,10.0C-2.4,8.4 -1.3,6.7 -0.7,5.3C-0.1,3.8 0.5,2.0 1.5,1.2C2.4,0.5 3.8,0.8 5.0,0.7C6.2,0.6 7.8,-0.2 8.8,0.6C9.8,1.3 10.4,3.5 10.9,5.1C11.5,6.7 12.0,8.3 12.1,10.0Z" fill="url(#dcell)" opacity="0.72"/>
<path d="M29.5,14.4C29.8,15.7 29.7,17.2 29.6,18.5C29.4,19.8 29.1,21.4 28.4,22.1C27.7,22.9 26.4,23.0 25.4,23.3C24.4,23.5 23.3,24.2 22.3,23.9C21.4,23.5 20.4,22.1 19.6,21.1C18.8,20.0 18.0,18.9 17.5,17.6C17.1,16.3 16.7,14.5 16.9,13.3C17.1,12.0 17.9,10.8 18.7,9.9C19.4,9.0 20.3,8.1 21.3,7.9C22.3,7.7 23.6,8.1 24.6,8.5C25.6,9.0 26.6,9.8 27.5,10.8C28.3,11.8 29.1,13.1 29.5,14.4Z" fill="url(#gcell)" opacity="0.81"/>
<path d="M57.8,16.0C57.9,18.1 56.7,20.8 55.6,22.5C54.6,24.2 53.0,25.2 51.5,26.2C50.1,27.2 48.6,28.3 47.0,28.5C45.4,28.7 43.3,28.3 42.0,27.2C40.7,26.1 39.9,23.7 39.2,21.9C38.5,20.0 38.0,18.1 37.8,16.0C37.6,13.9 37.5,11.2 38.2,9.4C39.0,7.7 40.9,6.7 42.3,5.5C43.8,4.2 45.5,1.8 47.0,1.9C48.5,1.9 50.2,4.3 51.6,5.6C53.0,6.9 54.3,8.0 55.3,9.8C56.4,11.5 57.8,13.9 57.8,16.0Z" fill="url(#dcell)" opacity="0.77"/>
<path d="M3.8,30.0C3.7,31.0 3.8,32.1 3.5,32.9C3.3,33.7 2.8,34.2 2.4,34.7C1.9,35.2 1.5,36.1 1.0,36.1C0.5,36.2 0.0,35.4 -0.4,34.8C-0.8,34.3 -1.1,33.6 -1.4,32.8C-1.6,32.0 -1.9,30.9 -1.9,30.0C-1.9,29.1 -1.6,28.1 -1.4,27.2C-1.1,26.4 -0.8,25.7 -0.4,25.1C-0.0,24.4 0.5,23.5 1.0,23.5C1.5,23.5 2.0,24.4 2.4,25.0C2.9,25.6 3.5,26.0 3.7,26.9C3.9,27.7 3.8,29.0 3.8,30.0Z" fill="url(#gcell)" opacity="0.77"/>
<path d="M35.4,44.0C35.4,45.7 34.8,47.7 33.8,49.2C32.8,50.6 30.9,51.8 29.2,52.6C27.5,53.4 25.4,53.8 23.5,53.9C21.6,53.9 19.1,53.8 17.6,52.9C16.0,52.0 15.0,50.1 14.2,48.6C13.5,47.2 13.0,45.5 13.0,44.0C13.1,42.5 13.5,40.7 14.3,39.4C15.2,38.1 16.8,37.0 18.3,36.2C19.8,35.3 21.8,34.1 23.5,34.1C25.2,34.1 27.1,35.2 28.8,36.0C30.4,36.9 32.3,37.7 33.4,39.0C34.5,40.4 35.3,42.3 35.4,44.0Z" fill="url(#dcell)" opacity="0.75"/>
<path d="M55.6,41.0C55.5,42.4 54.8,43.8 54.2,45.0C53.7,46.3 53.1,47.9 52.1,48.6C51.2,49.4 49.7,49.6 48.5,49.5C47.3,49.4 46.1,48.8 45.1,48.1C44.1,47.4 42.9,46.5 42.4,45.3C41.9,44.1 42.2,42.4 42.2,41.0C42.1,39.6 41.9,37.9 42.4,36.7C42.9,35.6 44.2,35.0 45.2,34.1C46.2,33.3 47.4,31.8 48.5,31.7C49.6,31.6 51.0,32.7 52.0,33.6C53.1,34.4 54.0,35.5 54.6,36.7C55.2,38.0 55.7,39.6 55.6,41.0Z" fill="url(#dcell)" opacity="0.81"/>
<ellipse cx="62.5" cy="41.5" rx="7.5" ry="10" fill="url(#gcell)" transform="rotate(-10 62.5 41.5)"/>
<ellipse cx="63.3" cy="42.3" rx="6.3" ry="8.8" fill="none" stroke="#eaffea" stroke-width="2.2" transform="rotate(-10 62.5 41.5)"/>
<path d="M13.5,66.0C13.4,67.6 13.0,69.2 12.3,70.6C11.7,71.9 10.8,73.2 9.7,74.1C8.7,74.9 7.2,75.7 6.0,75.7C4.8,75.7 3.5,74.8 2.3,74.1C1.0,73.4 -0.8,72.7 -1.5,71.4C-2.1,70.0 -1.8,67.7 -1.7,66.0C-1.6,64.3 -1.5,62.5 -0.8,61.1C-0.2,59.7 1.0,58.3 2.1,57.5C3.2,56.7 4.7,56.2 6.0,56.3C7.3,56.3 8.5,57.1 9.7,57.9C10.9,58.7 12.5,59.5 13.2,60.8C13.8,62.2 13.7,64.4 13.5,66.0Z" fill="url(#dcell)" opacity="0.68"/>
<rect x="53.4" y="53.4" width="21" height="21" fill="#2a7a48"/>
<ellipse cx="58" cy="62" rx="5" ry="6" fill="#2060a0" opacity="0.6"/><ellipse cx="68" cy="68" rx="5" ry="4" fill="#3aa040" opacity="0.7"/>
</g>
<rect x="53.4" y="53.4" width="20.6" height="20.6" fill="none" stroke="#b8c8b8" stroke-width="0.8"/>
<rect x="26.3" y="48.2" width="5.5" height="5.5" fill="none" stroke="#e0e0e0" stroke-width="0.7"/>
</g></g>
<text x="167.50" y="890.80" font-size="10.3" text-anchor="middle" fill="#111" >IgG</text>
<g transform="translate(208.10,803.8)">
<g clip-path="url(#clip2)">
<g filter="url(#soft)">
<rect x="0" y="0" width="74.0" height="74.0" fill="#0c3ec8"/>
<rect x="0" y="0" width="74.0" height="74.0" filter="url(#tex)" opacity="0.3"/>
<path d="M20.0,7.7C20.0,9.1 19.1,10.8 18.2,11.9C17.2,13.0 15.8,13.6 14.5,14.3C13.2,15.1 11.7,16.7 10.4,16.6C9.1,16.6 7.9,14.7 6.6,14.0C5.2,13.2 3.2,13.1 2.4,12.1C1.6,11.0 1.6,9.1 1.8,7.7C1.9,6.3 2.8,5.3 3.4,3.9C4.0,2.6 4.3,0.1 5.4,-0.5C6.6,-1.0 8.9,0.2 10.4,0.4C11.9,0.6 13.3,0.4 14.6,0.9C15.9,1.4 17.5,2.2 18.4,3.4C19.3,4.5 20.1,6.3 20.0,7.7Z" fill="#1248da" stroke="#8aa6ff" stroke-width="1.1" stroke-opacity="0.65"/>
<path d="M42.2,20.5C42.5,22.6 45.2,25.3 43.9,27.0C42.6,28.6 37.3,29.4 34.3,30.4C31.3,31.4 29.2,32.4 26.0,33.1C22.8,33.9 17.7,35.4 15.1,34.7C12.6,33.9 12.6,30.4 10.6,28.6C8.6,26.8 3.5,25.7 3.2,23.9C3.0,22.1 7.2,19.7 9.1,17.8C10.9,15.9 12.1,13.8 14.6,12.6C17.1,11.3 20.7,10.9 24.0,10.4C27.3,10.0 31.3,9.4 34.3,10.0C37.3,10.6 40.8,12.4 42.2,14.1C43.5,15.8 41.9,18.3 42.2,20.5Z" fill="#1248da" stroke="#8aa6ff" stroke-width="1.1" stroke-opacity="0.65"/>
<path d="M17.6,47.0C17.7,49.2 17.2,51.8 16.3,53.9C15.5,56.0 14.1,58.2 12.4,59.8C10.7,61.4 8.1,63.5 6.0,63.5C3.9,63.5 1.6,61.2 -0.4,59.7C-2.3,58.3 -4.3,56.8 -5.6,54.7C-6.8,52.6 -7.9,49.6 -7.9,47.0C-7.9,44.4 -6.8,41.6 -5.6,39.2C-4.5,36.9 -3.0,34.0 -1.0,32.9C0.9,31.8 3.7,32.6 6.0,32.7C8.3,32.8 11.2,32.1 12.8,33.4C14.5,34.6 15.0,38.2 15.8,40.4C16.6,42.7 17.5,44.8 17.6,47.0Z" fill="#1248da" stroke="#8aa6ff" stroke-width="1.1" stroke-opacity="0.65"/>
<path d="M51.8,46.5C51.3,49.5 50.0,51.8 48.9,54.7C47.8,57.7 47.4,62.9 45.1,64.4C42.7,65.9 38.2,63.9 35.0,63.6C31.8,63.3 28.4,64.0 25.9,62.7C23.4,61.3 21.3,58.1 19.9,55.5C18.6,52.8 17.7,49.4 17.8,46.5C18.0,43.6 19.4,40.7 20.8,38.1C22.1,35.4 23.6,32.2 26.0,30.5C28.4,28.8 32.0,27.8 35.0,27.7C38.0,27.7 41.5,28.6 44.2,30.1C47.0,31.6 50.4,33.9 51.6,36.6C52.9,39.4 52.2,43.5 51.8,46.5Z" fill="#1248da" stroke="#8aa6ff" stroke-width="1.1" stroke-opacity="0.65"/>
<path d="M76.8,8.0C77.0,9.4 75.5,11.2 74.6,12.4C73.6,13.7 72.4,15.1 71.0,15.7C69.5,16.3 67.6,16.1 66.0,16.0C64.4,15.9 62.6,16.0 61.3,15.4C59.9,14.7 58.9,13.4 58.0,12.2C57.0,10.9 55.6,9.4 55.6,8.0C55.7,6.6 57.5,5.3 58.4,4.1C59.3,2.8 59.9,1.1 61.1,0.4C62.4,-0.3 64.3,0.0 66.0,-0.1C67.7,-0.3 70.2,-1.1 71.4,-0.5C72.7,0.2 72.8,2.6 73.7,4.0C74.6,5.4 76.7,6.6 76.8,8.0Z" fill="#1248da" stroke="#8aa6ff" stroke-width="1.1" stroke-opacity="0.65"/>
<path d="M76.5,41.0C76.6,43.1 75.5,45.5 74.7,47.5C74.0,49.6 73.2,52.4 72.0,53.3C70.8,54.2 69.0,52.9 67.5,53.0C66.0,53.1 64.0,54.8 62.8,53.9C61.6,53.0 61.0,49.6 60.3,47.5C59.7,45.3 59.1,43.3 59.0,41.0C58.8,38.7 59.1,36.1 59.7,33.9C60.3,31.7 61.3,28.8 62.6,27.6C63.9,26.4 65.9,26.7 67.5,27.0C69.1,27.2 70.8,27.6 71.9,29.0C73.1,30.3 73.5,32.9 74.2,34.9C75.0,36.9 76.4,38.9 76.5,41.0Z" fill="#1248da" stroke="#8aa6ff" stroke-width="1.1" stroke-opacity="0.65"/>
<path d="M22.6,70.0C22.5,71.4 22.1,72.6 21.6,74.0C21.2,75.4 20.8,77.8 19.8,78.4C18.8,79.0 16.9,77.6 15.5,77.6C14.1,77.6 12.3,78.9 11.3,78.3C10.2,77.7 9.8,75.6 9.1,74.2C8.4,72.8 7.2,71.4 7.1,70.0C7.1,68.6 8.1,67.1 8.8,65.6C9.5,64.2 10.0,62.2 11.1,61.5C12.3,60.8 14.2,61.2 15.5,61.5C16.8,61.7 18.0,62.4 19.0,63.1C20.1,63.8 21.4,64.6 22.0,65.8C22.6,66.9 22.6,68.6 22.6,70.0Z" fill="#1248da" stroke="#8aa6ff" stroke-width="1.1" stroke-opacity="0.65"/>
<path d="M43.9,10.9Q37.5,21.0 37.1,25.4" fill="none" stroke="#a8b8ff" stroke-width="1.0" opacity="0.5"/>
<path d="M42.9,68.6Q41.0,78.9 36.2,84.5" fill="none" stroke="#a8b8ff" stroke-width="1.3" opacity="0.5"/>
<path d="M37.7,17.4Q31.7,26.5 31.0,31.9" fill="none" stroke="#a8b8ff" stroke-width="1.0" opacity="0.5"/>
<path d="M15.4,7.4Q8.7,9.7 7.5,15.2" fill="none" stroke="#a8b8ff" stroke-width="0.7" opacity="0.5"/>
<path d="M20.8,11.9Q18.7,16.3 22.6,18.6" fill="none" stroke="#a8b8ff" stroke-width="1.5" opacity="0.5"/>
<path d="M53.4,9.1Q48.1,9.3 37.5,11.0" fill="none" stroke="#a8b8ff" stroke-width="1.1" opacity="0.5"/>
<path d="M44.8,73.6Q37.1,75.0 35.1,75.3" fill="none" stroke="#a8b8ff" stroke-width="1.3" opacity="0.5"/>
<path d="M5.3,65.9Q13.9,70.6 19.1,69.6" fill="none" stroke="#a8b8ff" stroke-width="0.9" opacity="0.5"/>
<path d="M37.1,7.9Q34.5,12.0 26.7,22.0" fill="none" stroke="#a8b8ff" stroke-width="0.8" opacity="0.5"/>
<path d="M73.6,69.0Q67.9,75.3 63.2,80.1" fill="none" stroke="#a8b8ff" stroke-width="1.4" opacity="0.5"/>
<path d="M33.1,28.7Q37.2,31.5 40.3,37.6" fill="none" stroke="#a8b8ff" stroke-width="0.8" opacity="0.5"/>
<path d="M16.5,9.1Q23.1,10.9 26.4,14.0" fill="none" stroke="#a8b8ff" stroke-width="1.2" opacity="0.5"/>
<path d="M36.9,39.7Q34.1,39.4 29.3,41.5" fill="none" stroke="#a8b8ff" stroke-width="1.0" opacity="0.5"/>
<path d="M46.0,73.3Q53.2,71.9 55.5,74.2" fill="none" stroke="#a8b8ff" stroke-width="1.1" opacity="0.5"/>
<path d="M17.4,10.0Q13.4,17.9 7.6,23.3" fill="none" stroke="#a8b8ff" stroke-width="0.9" opacity="0.5"/>
<path d="M63.3,25.1Q66.4,31.4 73.4,33.7" fill="none" stroke="#a8b8ff" stroke-width="1.0" opacity="0.5"/>
<path d="M64.6,47.4Q59.1,48.4 56.6,48.1" fill="none" stroke="#a8b8ff" stroke-width="0.9" opacity="0.5"/>
<path d="M41.5,18.8Q40.0,26.7 33.6,32.1" fill="none" stroke="#a8b8ff" stroke-width="0.9" opacity="0.5"/>
<polygon points="12.0,0.0 56.0,0.0 56.0,8.0 54.0,18.0 51.0,25.0 47.0,24.0 44.0,15.0 40.0,10.0 32.0,6.0 24.0,4.0 18.0,3.0 13.0,2.0" fill="#010803" stroke="#4a6cf4" stroke-width="1.4" stroke-linejoin="round"/>
<polygon points="62.0,17.0 74.0,15.0 74.0,26.0 66.0,26.0" fill="#010803" stroke="#4a6cf4" stroke-width="1.4" stroke-linejoin="round"/>
<polygon points="46.0,28.0 52.0,30.0 57.0,38.0 54.0,40.0 48.0,34.0" fill="#010803" stroke="#4a6cf4" stroke-width="1.4" stroke-linejoin="round"/>
<polygon points="17.0,58.0 26.0,62.0 34.0,66.0 46.0,64.0 52.0,58.0 53.0,75.0 24.0,75.0 20.0,66.0" fill="#010803" stroke="#4a6cf4" stroke-width="1.4" stroke-linejoin="round"/>
<polygon points="51.0,44.0 57.0,44.0 57.0,52.0 52.0,52.0" fill="#010803" stroke="#4a6cf4" stroke-width="1.4" stroke-linejoin="round"/>
<path d="M16.1,7.7C16.1,8.7 16.5,9.9 16.0,10.7C15.6,11.5 14.4,12.3 13.5,12.6C12.6,13.0 11.4,12.8 10.4,12.8C9.4,12.8 8.1,13.0 7.3,12.6C6.5,12.2 6.0,11.2 5.4,10.3C4.9,9.5 4.1,8.6 4.1,7.7C4.1,6.8 5.1,6.0 5.6,5.2C6.2,4.3 6.4,3.1 7.2,2.6C8.0,2.2 9.3,2.4 10.4,2.4C11.5,2.4 12.7,2.1 13.7,2.5C14.6,2.9 15.7,3.8 16.1,4.7C16.5,5.6 16.1,6.7 16.1,7.7Z" fill="url(#dcell)" opacity="0.77"/>
<path d="M41.1,20.6C41.2,22.3 42.2,24.2 41.0,25.7C39.9,27.1 36.5,28.2 34.0,29.3C31.5,30.4 28.7,32.1 25.9,32.3C23.1,32.6 20.0,31.5 17.4,30.8C14.8,30.1 12.1,29.4 10.3,28.2C8.5,27.0 6.4,25.2 6.6,23.6C6.8,22.1 9.8,20.4 11.3,18.9C12.8,17.4 13.7,15.7 15.8,14.5C17.9,13.3 21.2,12.1 24.1,11.7C27.0,11.3 30.7,11.6 33.5,12.2C36.2,12.9 39.2,14.1 40.4,15.5C41.7,16.9 41.0,18.9 41.1,20.6Z" fill="url(#gcell)" opacity="0.85"/>
<path d="M16.2,47.0C16.3,49.0 15.9,51.4 15.1,53.3C14.3,55.2 12.9,57.2 11.4,58.1C9.8,59.1 7.6,59.2 6.0,58.9C4.4,58.6 3.0,57.3 1.5,56.4C-0.1,55.5 -2.1,54.9 -3.1,53.3C-4.2,51.8 -4.8,49.0 -4.7,47.0C-4.6,45.0 -3.5,42.8 -2.6,41.0C-1.7,39.3 -0.6,37.2 0.9,36.3C2.3,35.5 4.2,36.2 6.0,36.1C7.8,36.0 10.0,34.9 11.4,35.7C12.9,36.5 13.8,39.1 14.6,41.0C15.4,42.9 16.1,45.0 16.2,47.0Z" fill="url(#gcell)" opacity="0.89"/>
<path d="M49.5,46.5C49.5,49.1 49.1,52.0 47.9,54.2C46.7,56.4 44.5,58.4 42.4,59.7C40.2,61.0 37.5,62.0 35.0,62.1C32.5,62.2 29.7,61.4 27.3,60.2C25.0,59.0 22.5,57.1 21.0,54.8C19.6,52.5 18.2,49.1 18.5,46.5C18.8,43.9 21.2,41.5 22.7,39.2C24.1,36.8 25.1,34.0 27.1,32.4C29.2,30.9 32.4,29.6 35.0,29.7C37.6,29.8 40.3,31.6 42.5,33.1C44.7,34.6 46.8,36.5 48.0,38.8C49.2,41.0 49.5,43.9 49.5,46.5Z" fill="url(#gcell)" opacity="0.85"/>
<path d="M72.4,8.0C72.3,9.0 72.6,10.2 72.1,11.0C71.5,11.8 70.3,12.3 69.2,12.8C68.2,13.3 67.1,14.2 66.0,14.2C64.9,14.2 63.9,13.2 62.8,12.7C61.7,12.2 60.1,12.1 59.4,11.3C58.7,10.5 58.6,9.0 58.8,8.0C58.9,7.0 59.7,6.1 60.3,5.2C60.9,4.3 61.5,3.3 62.5,2.8C63.4,2.3 64.8,2.3 66.0,2.3C67.2,2.3 68.4,2.4 69.5,2.9C70.5,3.3 72.0,3.9 72.5,4.8C73.0,5.7 72.5,7.0 72.4,8.0Z" fill="url(#dcell)" opacity="0.81"/>
<path d="M73.9,41.0C73.9,42.9 73.3,45.0 72.8,46.6C72.3,48.3 71.5,50.0 70.6,50.9C69.7,51.9 68.5,52.4 67.5,52.2C66.5,52.0 65.7,50.5 64.8,49.7C63.8,48.8 62.3,48.5 61.8,47.0C61.3,45.6 61.9,43.0 61.9,41.0C62.0,39.0 61.6,36.8 62.0,35.2C62.5,33.6 63.6,32.5 64.5,31.5C65.4,30.5 66.5,29.1 67.5,29.2C68.5,29.3 69.4,31.0 70.3,32.0C71.3,33.0 72.4,33.7 73.0,35.2C73.5,36.7 73.9,39.1 73.9,41.0Z" fill="url(#gcell)" opacity="0.77"/>
<path d="M20.9,70.0C20.9,70.9 20.1,72.0 19.6,72.9C19.1,73.7 18.6,74.4 17.9,75.0C17.2,75.6 16.3,76.4 15.5,76.4C14.7,76.4 13.7,75.7 13.0,75.1C12.3,74.6 11.7,73.8 11.3,72.9C10.8,72.1 10.5,71.0 10.4,70.0C10.4,69.0 10.5,67.6 11.0,66.9C11.4,66.1 12.5,65.9 13.2,65.3C14.0,64.7 14.7,63.5 15.5,63.4C16.3,63.3 17.3,64.2 18.0,64.8C18.6,65.5 18.9,66.4 19.4,67.3C19.9,68.2 20.9,69.1 20.9,70.0Z" fill="url(#gcell)" opacity="0.81"/>
<rect x="53.4" y="53.4" width="21" height="21" fill="#2f9a3c"/>
<ellipse cx="60" cy="68" rx="8" ry="3" fill="#50d050" opacity="0.6" transform="rotate(-35 60 68)"/><ellipse cx="63" cy="58" rx="3" ry="3" fill="#2a6a80" opacity="0.6"/>
</g>
<rect x="53.4" y="53.4" width="20.6" height="20.6" fill="none" stroke="#b8c8b8" stroke-width="0.8"/>
<rect x="35" y="45" width="6" height="6" fill="none" stroke="#e0e0e0" stroke-width="0.7"/>
</g></g>
<text x="245.10" y="890.80" font-size="10.3" text-anchor="middle" fill="#111" >Trastuzumab</text>
<g transform="translate(286.20,803.8)">
<g clip-path="url(#clip3)">
<g filter="url(#soft)">
<rect x="0" y="0" width="74.0" height="74.0" fill="#0c3ec8"/>
<rect x="0" y="0" width="74.0" height="74.0" filter="url(#tex)" opacity="0.3"/>
<path d="M28.3,15.2C27.2,17.1 25.8,19.0 24.5,20.3C23.1,21.6 21.6,22.6 20.2,23.1C18.8,23.7 16.9,24.4 16.0,23.8C15.0,23.2 15.0,20.9 14.4,19.5C13.9,18.1 12.6,17.0 12.7,15.3C12.8,13.5 14.3,11.1 15.2,9.1C16.2,7.0 17.0,4.4 18.3,3.0C19.6,1.7 21.4,1.5 22.8,1.1C24.2,0.8 25.3,0.8 26.6,1.0C27.9,1.2 29.9,1.1 30.6,2.3C31.3,3.6 31.1,6.4 30.7,8.6C30.3,10.7 29.3,13.2 28.3,15.2Z" fill="#1248da" stroke="#8aa6ff" stroke-width="1.1" stroke-opacity="0.65"/>
<path d="M56.0,17.2C55.7,18.3 53.9,19.4 52.3,20.0C50.7,20.6 48.5,20.7 46.3,20.9C44.2,21.2 41.7,21.7 39.4,21.3C37.2,20.9 34.7,19.6 32.6,18.6C30.5,17.5 27.2,16.2 26.6,15.0C25.9,13.8 28.1,12.6 28.5,11.4C28.9,10.1 27.7,8.3 29.0,7.6C30.2,6.9 33.6,7.4 35.9,7.3C38.1,7.2 40.3,6.5 42.5,6.8C44.8,7.2 47.4,8.4 49.3,9.5C51.2,10.5 52.7,11.8 53.9,13.1C55.0,14.4 56.2,16.0 56.0,17.2Z" fill="#1248da" stroke="#8aa6ff" stroke-width="1.1" stroke-opacity="0.65"/>
<path d="M35.8,27.2C36.4,28.6 37.0,30.3 36.2,31.9C35.4,33.5 33.0,35.3 30.9,36.8C28.8,38.2 26.5,39.5 23.8,40.7C21.1,41.8 17.3,43.6 14.7,43.6C12.2,43.6 10.8,41.7 8.7,40.8C6.7,39.9 3.0,39.5 2.4,38.0C1.9,36.6 4.4,34.1 5.4,32.1C6.4,30.1 6.2,27.3 8.4,25.9C10.5,24.5 15.2,24.5 18.3,23.7C21.4,22.9 24.5,21.0 26.9,21.0C29.3,21.0 31.3,22.5 32.8,23.6C34.3,24.6 35.3,25.8 35.8,27.2Z" fill="#1248da" stroke="#8aa6ff" stroke-width="1.1" stroke-opacity="0.65"/>
<path d="M62.0,38.0C61.8,40.4 59.7,42.6 58.4,44.7C57.2,46.8 56.1,48.7 54.4,50.4C52.7,52.0 50.1,54.4 48.0,54.4C45.9,54.3 43.7,51.5 41.8,49.9C39.9,48.4 37.7,47.2 36.8,45.2C35.8,43.2 36.3,40.5 36.1,38.0C35.9,35.5 34.9,32.3 35.8,30.2C36.7,28.0 39.2,26.1 41.3,25.0C43.3,24.0 45.7,23.8 48.0,23.8C50.3,23.7 53.0,23.5 54.9,24.6C56.9,25.7 58.7,28.1 59.9,30.3C61.1,32.6 62.3,35.6 62.0,38.0Z" fill="#1248da" stroke="#8aa6ff" stroke-width="1.1" stroke-opacity="0.65"/>
<path d="M12.6,68.0C12.8,69.7 12.3,72.0 11.6,73.5C10.8,75.0 9.3,76.0 8.0,76.8C6.8,77.6 5.3,78.4 4.0,78.2C2.7,78.0 1.5,76.6 0.5,75.6C-0.5,74.6 -1.2,73.5 -1.8,72.2C-2.4,70.9 -2.9,69.5 -3.0,68.0C-3.2,66.5 -3.3,64.6 -2.9,63.0C-2.4,61.5 -1.4,59.6 -0.3,58.7C0.9,57.8 2.7,57.5 4.0,57.7C5.3,57.9 6.7,58.9 7.7,59.8C8.8,60.8 9.5,62.0 10.3,63.4C11.1,64.8 12.4,66.3 12.6,68.0Z" fill="#1248da" stroke="#8aa6ff" stroke-width="1.1" stroke-opacity="0.65"/>
<path d="M67.5,2.5Q57.8,5.5 52.2,4.6" fill="none" stroke="#a8b8ff" stroke-width="1.2" opacity="0.5"/>
<path d="M33.1,9.4Q29.0,7.3 21.6,10.2" fill="none" stroke="#a8b8ff" stroke-width="1.1" opacity="0.5"/>
<path d="M7.8,10.4Q3.5,12.5 -0.8,20.2" fill="none" stroke="#a8b8ff" stroke-width="1.4" opacity="0.5"/>
<path d="M52.5,0.9Q54.1,6.4 57.9,12.9" fill="none" stroke="#a8b8ff" stroke-width="0.8" opacity="0.5"/>
<path d="M56.9,20.5Q54.3,19.6 46.5,23.9" fill="none" stroke="#a8b8ff" stroke-width="0.9" opacity="0.5"/>
<path d="M56.6,15.3Q63.3,18.3 66.6,18.8" fill="none" stroke="#a8b8ff" stroke-width="1.3" opacity="0.5"/>
<path d="M37.3,37.0Q39.3,41.9 43.9,45.8" fill="none" stroke="#a8b8ff" stroke-width="1.4" opacity="0.5"/>
<path d="M49.7,67.2Q53.3,73.8 58.5,75.8" fill="none" stroke="#a8b8ff" stroke-width="0.9" opacity="0.5"/>
<path d="M38.1,11.7Q45.4,10.5 54.9,12.0" fill="none" stroke="#a8b8ff" stroke-width="1.4" opacity="0.5"/>
<path d="M7.8,13.4Q13.0,12.8 21.0,15.9" fill="none" stroke="#a8b8ff" stroke-width="1.5" opacity="0.5"/>
<path d="M60.7,32.4Q60.3,37.5 57.3,39.5" fill="none" stroke="#a8b8ff" stroke-width="1.0" opacity="0.5"/>
<path d="M50.2,24.1Q52.7,26.1 58.9,26.5" fill="none" stroke="#a8b8ff" stroke-width="1.0" opacity="0.5"/>
<path d="M56.2,41.8Q55.5,44.9 54.1,49.3" fill="none" stroke="#a8b8ff" stroke-width="1.2" opacity="0.5"/>
<path d="M72.0,52.7Q64.7,53.8 60.2,59.9" fill="none" stroke="#a8b8ff" stroke-width="1.2" opacity="0.5"/>
<path d="M8.0,0.9Q17.9,3.1 25.2,6.0" fill="none" stroke="#a8b8ff" stroke-width="1.0" opacity="0.5"/>
<path d="M12.8,39.0Q9.7,40.7 11.6,45.4" fill="none" stroke="#a8b8ff" stroke-width="1.0" opacity="0.5"/>
<path d="M64.9,72.2Q71.1,73.7 80.6,74.8" fill="none" stroke="#a8b8ff" stroke-width="1.3" opacity="0.5"/>
<path d="M31.5,53.4Q26.5,59.6 24.6,60.1" fill="none" stroke="#a8b8ff" stroke-width="1.2" opacity="0.5"/>
<polygon points="0.0,0.0 17.0,0.0 16.0,4.0 15.0,12.0 13.0,20.0 9.0,26.0 4.0,30.0 0.0,34.0" fill="#010803" stroke="#4a6cf4" stroke-width="1.4" stroke-linejoin="round"/>
<polygon points="26.0,0.0 52.0,0.0 50.0,4.0 42.0,6.0 34.0,7.0 28.0,8.0 25.0,5.0" fill="#010803" stroke="#4a6cf4" stroke-width="1.4" stroke-linejoin="round"/>
<polygon points="25.0,22.0 32.0,20.0 42.0,21.0 52.0,21.0 60.0,21.0 58.0,25.0 50.0,27.0 38.0,26.0 30.0,26.0" fill="#010803" stroke="#4a6cf4" stroke-width="1.4" stroke-linejoin="round"/>
<polygon points="60.0,24.0 70.0,20.0 72.0,28.0 68.0,38.0 63.0,44.0 59.0,40.0 61.0,30.0" fill="#010803" stroke="#4a6cf4" stroke-width="1.4" stroke-linejoin="round"/>
<polygon points="36.0,56.0 42.0,52.0 52.0,50.0 53.0,60.0 52.0,75.0 36.0,75.0 34.0,66.0" fill="#010803" stroke="#4a6cf4" stroke-width="1.4" stroke-linejoin="round"/>
<polygon points="4.0,52.0 9.0,52.0 9.0,56.0 4.0,56.0" fill="#010803" stroke="#4a6cf4" stroke-width="1.4" stroke-linejoin="round"/>
<ellipse cx="21.5" cy="12" rx="4.5" ry="10" fill="url(#tcell)" transform="rotate(25 21.5 12)"/>
<circle cx="20.7" cy="14.0" r="0.72" fill="#3ce83c" opacity="0.85"/>
<circle cx="21.8" cy="6.2" r="0.55" fill="#3ce83c" opacity="0.85"/>
<circle cx="23.6" cy="9.8" r="0.78" fill="#3ce83c" opacity="0.85"/>
<circle cx="23.9" cy="12.6" r="0.67" fill="#3ce83c" opacity="0.85"/>
<circle cx="21.2" cy="10.5" r="0.55" fill="#3ce83c" opacity="0.85"/>
<circle cx="23.4" cy="7.9" r="0.77" fill="#3ce83c" opacity="0.85"/>
<ellipse cx="41" cy="14" rx="12" ry="4.5" fill="url(#tcell)" transform="rotate(12 41 14)"/>
<circle cx="38.7" cy="16.5" r="0.53" fill="#3ce83c" opacity="0.85"/>
<circle cx="45.2" cy="15.7" r="0.76" fill="#3ce83c" opacity="0.85"/>
<circle cx="36.4" cy="10.8" r="0.59" fill="#3ce83c" opacity="0.85"/>
<circle cx="37.9" cy="16.6" r="0.93" fill="#3ce83c" opacity="0.85"/>
<circle cx="32.4" cy="11.9" r="0.83" fill="#3ce83c" opacity="0.85"/>
<circle cx="44.5" cy="17.7" r="0.56" fill="#3ce83c" opacity="0.85"/>
<circle cx="45.2" cy="17.5" r="0.94" fill="#3ce83c" opacity="0.85"/>
<ellipse cx="21" cy="32" rx="15" ry="7" fill="url(#tcell)" transform="rotate(-18 21 32)"/>
<circle cx="18.5" cy="27.7" r="0.65" fill="#3ce83c" opacity="0.85"/>
<circle cx="13.8" cy="37.6" r="0.69" fill="#3ce83c" opacity="0.85"/>
<circle cx="26.2" cy="32.5" r="0.55" fill="#3ce83c" opacity="0.85"/>
<circle cx="19.4" cy="35.2" r="0.67" fill="#3ce83c" opacity="0.85"/>
<circle cx="30.2" cy="33.0" r="0.55" fill="#3ce83c" opacity="0.85"/>
<circle cx="17.5" cy="38.1" r="0.77" fill="#3ce83c" opacity="0.85"/>
<ellipse cx="48" cy="38" rx="10.5" ry="12" fill="url(#tcell)" />
<circle cx="40.9" cy="38.7" r="0.98" fill="#3ce83c" opacity="0.85"/>
<circle cx="46.3" cy="44.9" r="0.73" fill="#3ce83c" opacity="0.85"/>
<circle cx="52.4" cy="42.0" r="0.55" fill="#3ce83c" opacity="0.85"/>
<circle cx="40.5" cy="38.5" r="0.89" fill="#3ce83c" opacity="0.85"/>
<circle cx="52.3" cy="41.5" r="0.64" fill="#3ce83c" opacity="0.85"/>
<circle cx="41.2" cy="33.8" r="0.81" fill="#3ce83c" opacity="0.85"/>
<circle cx="48.7" cy="39.6" r="0.58" fill="#3ce83c" opacity="0.85"/>
<circle cx="45.5" cy="40.5" r="0.55" fill="#3ce83c" opacity="0.85"/>
<circle cx="47.5" cy="41.9" r="0.86" fill="#3ce83c" opacity="0.85"/>
<ellipse cx="4" cy="68" rx="5" ry="7" fill="url(#tcell)" />
<circle cx="7.2" cy="67.4" r="0.60" fill="#3ce83c" opacity="0.85"/>
<circle cx="6.1" cy="72.7" r="0.93" fill="#3ce83c" opacity="0.85"/>
<rect x="53.4" y="53.4" width="21" height="21" fill="#1f6a3a"/>
<circle cx="63" cy="57" r="2" fill="#d0ffd0"/><circle cx="56" cy="72" r="2.5" fill="#50e050"/><circle cx="69" cy="71" r="2.5" fill="#50e050"/>
</g>
<rect x="53.4" y="53.4" width="20.6" height="20.6" fill="none" stroke="#b8c8b8" stroke-width="0.8"/>
<rect x="15.3" y="31.2" width="6.3" height="6.3" fill="none" stroke="#e0e0e0" stroke-width="0.7"/>
</g></g>
<text x="323.20" y="890.80" font-size="10.3" text-anchor="middle" fill="#111" >Tuc-VHL</text>
<g transform="translate(364.90,803.8)">
<g clip-path="url(#clip4)">
<g filter="url(#soft)">
<rect x="0" y="0" width="74.0" height="74.0" fill="#0c3ec8"/>
<rect x="0" y="0" width="74.0" height="74.0" filter="url(#tex)" opacity="0.3"/>
<path d="M22.8,9.5C23.1,11.1 22.6,13.0 21.8,14.6C21.0,16.2 19.7,18.2 18.1,19.1C16.5,19.9 13.9,20.0 12.0,19.9C10.1,19.7 8.0,19.2 6.4,18.3C4.8,17.4 3.3,16.0 2.5,14.5C1.7,13.0 1.6,11.1 1.6,9.5C1.7,7.9 2.0,6.1 2.8,4.7C3.6,3.3 5.2,2.1 6.7,1.2C8.2,0.3 10.2,-0.6 12.0,-0.7C13.8,-0.8 16.3,-0.4 17.7,0.6C19.0,1.6 19.3,3.8 20.1,5.2C21.0,6.7 22.5,7.9 22.8,9.5Z" fill="#1248da" stroke="#8aa6ff" stroke-width="1.1" stroke-opacity="0.65"/>
<path d="M56.7,3.0C56.8,4.3 55.8,5.9 54.8,7.1C53.7,8.2 52.1,9.1 50.5,9.8C48.8,10.6 46.8,11.8 45.0,11.8C43.2,11.7 41.1,10.5 39.7,9.7C38.2,8.8 36.9,7.8 36.2,6.7C35.4,5.6 35.1,4.2 35.1,3.0C35.1,1.8 35.4,0.5 36.2,-0.7C36.9,-1.8 38.0,-3.2 39.5,-3.9C40.9,-4.6 43.2,-4.9 45.0,-4.9C46.8,-4.8 48.6,-4.2 50.2,-3.5C51.8,-2.9 53.5,-2.1 54.6,-1.0C55.7,0.1 56.7,1.7 56.7,3.0Z" fill="#1248da" stroke="#8aa6ff" stroke-width="1.1" stroke-opacity="0.65"/>
<path d="M40.5,22.0C40.5,24.7 40.0,27.8 38.8,30.2C37.6,32.6 35.6,35.6 33.3,36.6C31.1,37.5 28.1,35.9 25.5,35.8C22.9,35.7 19.7,37.3 17.9,36.2C16.0,35.0 15.3,31.3 14.3,28.9C13.3,26.6 11.7,24.2 11.8,22.0C11.9,19.8 13.9,17.7 15.0,15.5C16.1,13.2 16.5,10.0 18.3,8.5C20.0,7.1 23.1,6.6 25.5,6.6C27.9,6.6 30.6,7.1 32.8,8.4C35.0,9.6 37.4,11.5 38.7,13.8C40.0,16.1 40.5,19.3 40.5,22.0Z" fill="#1248da" stroke="#8aa6ff" stroke-width="1.1" stroke-opacity="0.65"/>
<path d="M22.6,32.5C22.6,34.2 21.8,36.0 21.0,37.7C20.3,39.5 19.5,41.8 18.0,43.0C16.5,44.1 13.9,44.6 12.0,44.4C10.1,44.3 8.1,43.1 6.5,42.0C4.9,41.0 3.2,39.7 2.2,38.2C1.2,36.6 0.7,34.5 0.6,32.5C0.4,30.5 0.2,27.9 1.1,26.2C2.1,24.5 4.3,23.2 6.1,22.3C7.9,21.5 10.1,21.2 12.0,21.4C13.9,21.5 15.9,22.2 17.4,23.2C18.9,24.2 20.1,25.8 20.9,27.3C21.8,28.9 22.6,30.8 22.6,32.5Z" fill="#1248da" stroke="#8aa6ff" stroke-width="1.1" stroke-opacity="0.65"/>
<path d="M75.1,25.5C74.9,28.6 73.5,31.6 72.5,34.2C71.4,36.9 70.3,40.0 68.8,41.4C67.2,42.8 65.0,42.4 63.0,42.6C61.0,42.8 58.8,43.4 56.9,42.3C55.0,41.2 52.6,38.8 51.6,36.0C50.6,33.2 50.7,28.8 50.9,25.5C51.2,22.2 51.8,18.7 52.9,16.2C54.0,13.7 55.9,12.1 57.6,10.6C59.3,9.2 61.1,7.8 63.0,7.5C64.9,7.1 67.4,7.0 69.2,8.4C71.0,9.8 72.6,12.9 73.6,15.8C74.6,18.6 75.3,22.4 75.1,25.5Z" fill="#1248da" stroke="#8aa6ff" stroke-width="1.1" stroke-opacity="0.65"/>
<path d="M41.0,47.0C41.1,49.1 41.1,51.7 40.0,53.4C38.8,55.0 36.3,56.0 34.3,57.0C32.3,58.1 30.2,59.7 28.0,59.9C25.8,60.2 22.5,59.7 20.8,58.4C19.1,57.2 18.9,54.3 17.8,52.4C16.7,50.5 14.5,48.9 14.4,47.0C14.3,45.1 16.1,43.2 17.2,41.2C18.2,39.3 18.9,36.2 20.7,35.4C22.6,34.7 25.8,36.4 28.0,36.7C30.2,37.0 32.2,36.6 34.1,37.3C35.9,38.0 38.1,39.4 39.3,41.0C40.4,42.6 40.9,44.9 41.0,47.0Z" fill="#1248da" stroke="#8aa6ff" stroke-width="1.1" stroke-opacity="0.65"/>
<path d="M27.3,59.0C27.0,61.0 24.6,63.1 23.2,64.7C21.8,66.3 20.5,67.3 18.8,68.6C17.1,69.9 15.0,72.4 13.0,72.5C11.0,72.6 8.4,70.6 6.8,69.2C5.3,67.9 4.5,66.0 3.4,64.3C2.4,62.6 0.7,61.0 0.3,59.0C-0.1,57.0 0.3,54.4 1.3,52.5C2.2,50.6 4.3,48.8 6.2,47.7C8.2,46.7 10.7,46.1 13.0,46.0C15.3,45.9 18.2,46.0 20.1,47.1C22.1,48.2 23.4,50.6 24.6,52.6C25.8,54.5 27.5,57.0 27.3,59.0Z" fill="#1248da" stroke="#8aa6ff" stroke-width="1.1" stroke-opacity="0.65"/>
<path d="M52.2,26.0C52.5,28.5 52.3,32.0 51.6,34.4C51.0,36.7 49.5,39.1 48.2,40.0C47.0,40.8 45.3,40.0 44.0,39.6C42.7,39.1 41.8,38.2 40.6,37.2C39.4,36.3 37.6,35.7 36.8,33.8C36.1,32.0 36.1,28.5 36.1,26.0C36.2,23.5 36.7,21.0 37.3,18.7C37.9,16.3 38.6,13.0 39.7,12.0C40.8,11.0 42.6,12.4 44.0,12.6C45.4,12.8 46.8,12.2 47.8,13.4C48.9,14.5 49.4,17.2 50.1,19.3C50.8,21.4 52.0,23.5 52.2,26.0Z" fill="#1248da" stroke="#8aa6ff" stroke-width="1.1" stroke-opacity="0.65"/>
<path d="M44.2,41.2Q48.9,43.0 56.6,50.0" fill="none" stroke="#a8b8ff" stroke-width="0.9" opacity="0.5"/>
<path d="M56.8,57.2Q57.5,62.5 61.6,71.1" fill="none" stroke="#a8b8ff" stroke-width="0.9" opacity="0.5"/>
<path d="M53.8,42.7Q48.3,48.7 45.2,52.4" fill="none" stroke="#a8b8ff" stroke-width="1.3" opacity="0.5"/>
<path d="M12.2,32.7Q14.7,38.7 11.6,47.6" fill="none" stroke="#a8b8ff" stroke-width="0.7" opacity="0.5"/>
<path d="M5.9,9.6Q0.5,10.3 -2.1,11.7" fill="none" stroke="#a8b8ff" stroke-width="1.1" opacity="0.5"/>
<path d="M55.7,50.2Q60.8,51.6 64.2,54.9" fill="none" stroke="#a8b8ff" stroke-width="1.3" opacity="0.5"/>
<path d="M35.6,22.4Q39.1,23.1 41.4,24.7" fill="none" stroke="#a8b8ff" stroke-width="1.1" opacity="0.5"/>
<path d="M36.0,71.3Q40.3,77.2 41.0,82.8" fill="none" stroke="#a8b8ff" stroke-width="1.5" opacity="0.5"/>
<path d="M21.9,34.6Q20.5,38.3 19.4,46.3" fill="none" stroke="#a8b8ff" stroke-width="1.3" opacity="0.5"/>
<path d="M39.2,69.4Q44.1,69.1 45.1,74.4" fill="none" stroke="#a8b8ff" stroke-width="1.0" opacity="0.5"/>
<path d="M49.7,23.6Q53.6,27.3 55.3,29.9" fill="none" stroke="#a8b8ff" stroke-width="1.5" opacity="0.5"/>
<path d="M2.8,15.9Q2.6,17.0 -3.4,23.0" fill="none" stroke="#a8b8ff" stroke-width="1.0" opacity="0.5"/>
<path d="M2.1,42.9Q4.6,48.0 7.5,47.6" fill="none" stroke="#a8b8ff" stroke-width="1.0" opacity="0.5"/>
<path d="M69.3,40.2Q65.9,43.0 62.3,42.2" fill="none" stroke="#a8b8ff" stroke-width="1.2" opacity="0.5"/>
<path d="M67.7,19.3Q74.8,23.7 77.4,28.4" fill="none" stroke="#a8b8ff" stroke-width="0.9" opacity="0.5"/>
<path d="M32.1,49.4Q25.3,55.8 21.2,59.5" fill="none" stroke="#a8b8ff" stroke-width="1.2" opacity="0.5"/>
<path d="M24.5,19.1Q25.7,26.0 21.4,31.3" fill="none" stroke="#a8b8ff" stroke-width="0.8" opacity="0.5"/>
<path d="M60.1,25.3Q57.6,30.1 51.7,34.1" fill="none" stroke="#a8b8ff" stroke-width="0.9" opacity="0.5"/>
<polygon points="0.0,8.0 3.0,9.0 4.0,18.0 2.5,28.0 0.0,28.0" fill="#010803" stroke="#4a6cf4" stroke-width="1.4" stroke-linejoin="round"/>
<polygon points="53.0,0.0 74.0,0.0 74.0,7.0 62.0,7.0 57.0,5.0" fill="#010803" stroke="#4a6cf4" stroke-width="1.4" stroke-linejoin="round"/>
<polygon points="61.0,43.0 74.0,42.0 74.0,49.0 63.0,48.0" fill="#010803" stroke="#4a6cf4" stroke-width="1.4" stroke-linejoin="round"/>
<polygon points="52.5,32.0 55.0,34.0 54.5,44.0 52.5,42.0" fill="#010803" stroke="#4a6cf4" stroke-width="1.4" stroke-linejoin="round"/>
<path d="M20.4,9.5C20.6,10.7 20.4,12.4 19.6,13.3C18.8,14.3 17.0,14.6 15.7,15.2C14.5,15.7 13.3,16.5 12.0,16.6C10.7,16.7 9.1,16.3 7.9,15.7C6.7,15.1 5.4,14.2 4.8,13.1C4.2,12.1 4.4,10.7 4.5,9.5C4.5,8.3 4.3,6.9 4.9,5.9C5.5,4.9 7.0,4.3 8.2,3.7C9.4,3.1 10.7,2.2 12.0,2.1C13.3,2.0 15.1,2.5 16.2,3.2C17.2,3.9 17.6,5.3 18.3,6.3C19.0,7.4 20.2,8.3 20.4,9.5Z" fill="url(#gcell)" opacity="0.69"/>
<path d="M53.6,3.0C53.6,3.8 52.8,4.8 52.0,5.5C51.2,6.3 50.2,7.0 49.1,7.4C47.9,7.7 46.3,7.7 45.0,7.6C43.7,7.6 42.2,7.7 41.0,7.3C39.9,6.9 38.8,6.2 38.2,5.4C37.6,4.7 37.4,3.8 37.5,3.0C37.6,2.2 38.2,1.5 38.8,0.7C39.4,0.0 40.0,-0.9 41.1,-1.3C42.1,-1.6 43.6,-1.5 45.0,-1.6C46.4,-1.6 48.0,-1.9 49.2,-1.5C50.3,-1.2 51.2,-0.2 51.9,0.5C52.6,1.3 53.6,2.2 53.6,3.0Z" fill="url(#dcell)" opacity="0.77"/>
<path d="M37.2,22.0C37.3,24.0 36.2,26.4 35.2,28.1C34.1,29.8 32.5,31.2 30.9,32.3C29.3,33.3 27.2,34.5 25.5,34.3C23.8,34.2 22.1,32.5 20.5,31.4C19.0,30.3 17.3,29.4 16.2,27.9C15.0,26.3 13.8,24.0 13.7,22.0C13.7,20.0 14.8,17.6 15.8,15.9C16.9,14.2 18.5,12.9 20.1,11.8C21.7,10.6 23.6,9.1 25.5,9.0C27.4,8.9 29.7,10.0 31.2,11.2C32.8,12.4 33.9,14.3 34.8,16.1C35.8,17.9 37.2,20.0 37.2,22.0Z" fill="url(#gcell)" opacity="0.81"/>
<path d="M21.6,32.5C21.6,34.0 20.4,35.5 19.5,36.8C18.7,38.2 17.9,39.6 16.6,40.5C15.4,41.4 13.6,42.1 12.0,42.1C10.4,42.2 8.3,41.9 7.1,40.9C6.0,40.0 5.6,38.0 5.0,36.6C4.3,35.2 3.2,33.9 3.2,32.5C3.2,31.1 4.1,29.6 4.8,28.4C5.5,27.1 6.3,25.6 7.5,24.8C8.7,23.9 10.5,23.4 12.0,23.4C13.5,23.5 15.0,24.3 16.3,25.0C17.6,25.8 19.0,26.7 19.9,27.9C20.8,29.2 21.7,31.0 21.6,32.5Z" fill="url(#gcell)" opacity="0.77"/>
<path d="M72.6,25.5C72.6,28.2 71.8,31.5 70.9,33.6C70.0,35.8 68.5,37.3 67.2,38.5C65.9,39.7 64.5,40.6 63.0,40.8C61.5,40.9 59.7,40.6 58.5,39.3C57.3,38.0 56.5,35.2 55.8,32.9C55.0,30.6 54.0,28.1 53.9,25.5C53.8,22.9 54.5,20.0 55.3,17.5C56.0,15.1 57.0,12.1 58.3,11.0C59.6,9.9 61.5,10.8 63.0,11.0C64.5,11.1 66.1,11.0 67.4,12.1C68.6,13.2 69.7,15.5 70.6,17.7C71.5,19.9 72.5,22.8 72.6,25.5Z" fill="url(#gcell)" opacity="0.69"/>
<path d="M38.7,47.0C38.6,48.4 37.0,50.0 36.0,51.2C35.0,52.4 34.0,53.4 32.6,54.2C31.3,55.0 29.7,55.8 28.0,55.9C26.3,56.1 24.1,56.1 22.7,55.3C21.2,54.6 20.4,52.8 19.5,51.4C18.7,50.0 17.8,48.5 17.8,47.0C17.8,45.5 18.7,43.9 19.6,42.6C20.5,41.4 21.8,40.3 23.2,39.6C24.6,38.8 26.4,38.2 28.0,38.2C29.6,38.1 31.5,38.6 32.9,39.3C34.3,40.1 35.5,41.3 36.5,42.6C37.5,43.9 38.7,45.6 38.7,47.0Z" fill="url(#gcell)" opacity="0.73"/>
<path d="M22.6,59.0C22.4,60.7 22.4,62.4 21.6,63.7C20.8,65.0 19.2,65.9 17.7,66.8C16.3,67.7 14.7,69.2 13.0,69.3C11.3,69.5 9.0,68.8 7.6,67.8C6.2,66.9 5.4,65.1 4.5,63.6C3.7,62.2 2.4,60.5 2.4,59.0C2.5,57.5 3.9,55.9 4.8,54.5C5.8,53.2 6.8,51.9 8.1,51.0C9.5,50.0 11.3,48.9 13.0,48.8C14.7,48.7 16.7,49.5 18.3,50.3C19.9,51.2 21.8,52.3 22.5,53.8C23.2,55.2 22.7,57.3 22.6,59.0Z" fill="url(#dcell)" opacity="0.86"/>
<path d="M49.1,26.0C49.1,27.9 48.3,29.7 47.9,31.4C47.5,33.2 47.2,35.7 46.6,36.7C45.9,37.7 44.8,37.6 44.0,37.5C43.2,37.4 42.2,37.1 41.6,36.1C40.9,35.1 40.5,33.2 40.0,31.6C39.5,29.9 38.6,27.9 38.6,26.0C38.5,24.1 39.2,21.8 39.6,19.9C40.1,18.1 40.6,16.0 41.4,15.0C42.1,14.0 43.1,13.9 44.0,13.9C44.9,13.8 46.0,13.9 46.7,14.9C47.4,15.9 47.9,18.2 48.3,20.1C48.7,21.9 49.2,24.1 49.1,26.0Z" fill="url(#dcell)" opacity="0.68"/>
<circle cx="10" cy="26" r="1.8" fill="#e8fff0"/>
<ellipse cx="32" cy="66" rx="13" ry="9" fill="#4aa0a8" opacity="0.8"/>
<rect x="53.4" y="53.4" width="21" height="21" fill="#2caa30"/>
<ellipse cx="60" cy="62" rx="6" ry="4" fill="#50d050" opacity="0.6"/><ellipse cx="68" cy="70" rx="5" ry="3" fill="#1f7a4a" opacity="0.6"/>
</g>
<rect x="53.4" y="53.4" width="20.6" height="20.6" fill="none" stroke="#b8c8b8" stroke-width="0.8"/>
<rect x="21" y="20.5" width="6.6" height="6.6" fill="none" stroke="#e0e0e0" stroke-width="0.7"/>
</g></g>
<text x="400.50" y="890.8" font-size="10.3" text-anchor="middle" fill="#111">Tuc-VHL<tspan font-size="6" dy="2.5">Inactive</tspan></text>
<text x="46.60" y="835.50" font-size="10.4" text-anchor="end" fill="#2a6fe0" >Phalloidin</text>
<text x="46.70" y="847.90" font-size="10.2" text-anchor="end" fill="#2ca02c" >anti-HER2</text>
</svg></body></html>
